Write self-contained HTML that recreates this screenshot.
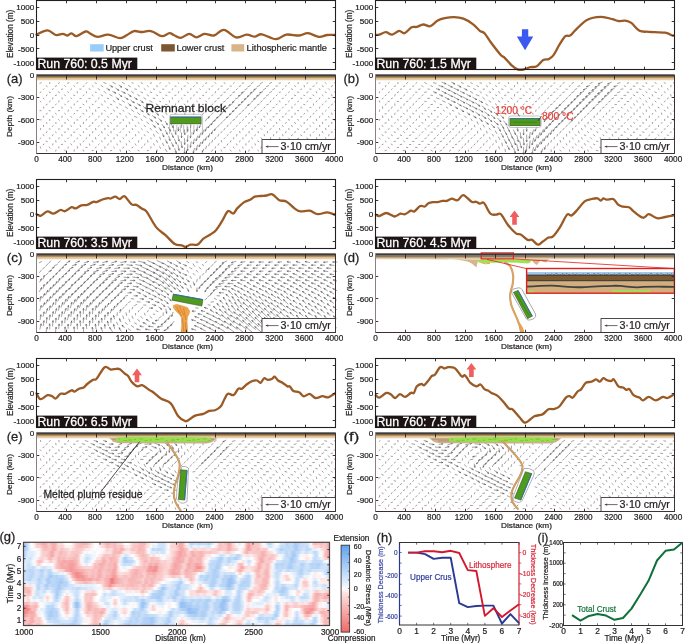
<!DOCTYPE html>
<html><head><meta charset="utf-8"><title>Run 760</title>
<style>html,body{margin:0;padding:0;background:#fff;width:685px;height:643px;overflow:hidden}svg{display:block}text{font-family:'Liberation Sans', Arial, Helvetica, sans-serif}</style>
</head><body><div style="position:relative;width:685px;height:643px">
<div style="position:absolute;left:23.5px;top:542.3px;width:306.0px;height:83.2px;overflow:hidden"><div style="position:absolute;left:-2px;top:-2px;width:310.0px;height:87.2px;filter:blur(0.7px)"><div style="position:absolute;left:2px;top:2px;width:306.0px;height:83.2px"><div style="position:absolute;left:0;top:0.00px;width:306.0px;height:3.57px;background:linear-gradient(90deg,#abcdf5 0.3%,#c1daf8 1.0%,#d8e8fa 1.6%,#ffffff 2.3%,#fef6f6 2.9%,#fce4e4 3.6%,#f9c3c3 4.2%,#f9c2c2 4.9%,#f7b6b6 5.6%,#f6abab 6.2%,#f6abab 6.9%,#f8b8b8 7.5%,#facccc 8.2%,#f8b8b8 8.8%,#f6acac 9.5%,#f7afaf 10.1%,#f9c8c8 10.8%,#fce1e1 11.4%,#fbd6d6 12.1%,#fce4e4 12.7%,#fefafa 13.4%,#fcfdff 14.1%,#ffffff 14.7%,#fffefe 15.4%,#fce5e5 16.0%,#fbd5d5 16.7%,#f9c3c3 17.3%,#f8bebe 18.0%,#f8b8b8 18.6%,#f7b4b4 19.3%,#f7b4b4 19.9%,#f8b8b8 20.6%,#f9c7c7 21.2%,#fbd7d7 21.9%,#fdeded 22.5%,#fefafa 23.2%,#fbfdff 23.9%,#fef2f2 24.5%,#fbd7d7 25.2%,#fad1d1 25.8%,#f9c2c2 26.5%,#f7b2b2 27.1%,#f7b2b2 27.8%,#f9c3c3 28.4%,#f9c3c3 29.1%,#f8b8b8 29.7%,#facfcf 30.4%,#fbd5d5 31.0%,#fad2d2 31.7%,#fde7e7 32.4%,#fffefe 33.0%,#ffffff 33.7%,#fef4f4 34.3%,#fce5e5 35.0%,#facccc 35.6%,#facbcb 36.3%,#facccc 36.9%,#f8bebe 37.6%,#f8bbbb 38.2%,#f7b5b5 38.9%,#f8b9b9 39.5%,#fbdbdb 40.2%,#fce2e2 40.8%,#fef4f4 41.5%,#edf5fd 42.2%,#f4f8fe 42.8%,#ecf4fd 43.5%,#cde1f9 44.1%,#d2e4fa 44.8%,#cce1f9 45.4%,#d5e6fa 46.1%,#eef5fd 46.7%,#fef7f7 47.4%,#fce0e0 48.0%,#fbd6d6 48.7%,#fbd5d5 49.3%,#facdcd 50.0%,#f7b4b4 50.7%,#f6abab 51.3%,#f7b4b4 52.0%,#fcdede 52.6%,#fef9f9 53.3%,#d6e7fa 53.9%,#b8d5f7 54.6%,#bed8f7 55.2%,#d3e5fa 55.9%,#c6ddf8 56.5%,#bcd7f7 57.2%,#c4dcf8 57.8%,#c7def8 58.5%,#c7def8 59.2%,#c2dbf8 59.8%,#b3d2f6 60.5%,#cce1f9 61.1%,#e3eefc 61.8%,#f1f7fd 62.4%,#fdf0f0 63.1%,#f9c7c7 63.7%,#f9c5c5 64.4%,#facdcd 65.0%,#f9c4c4 65.7%,#f8b7b7 66.3%,#f5a3a3 67.0%,#f7b6b6 67.6%,#fbdbdb 68.3%,#fce6e6 69.0%,#fefeff 69.6%,#d9e8fa 70.3%,#eef5fd 70.9%,#fffdfd 71.6%,#fcdede 72.2%,#f7b3b3 72.9%,#f59f9f 73.5%,#f8bdbd 74.2%,#f9c4c4 74.8%,#f9c8c8 75.5%,#f9c5c5 76.1%,#f9c4c4 76.8%,#fce7e7 77.5%,#fef8f8 78.1%,#f6fafe 78.8%,#d3e5fa 79.4%,#b2d1f6 80.1%,#c4dcf8 80.7%,#dfecfb 81.4%,#f9fbfe 82.0%,#fcfdff 82.7%,#f3f8fe 83.3%,#d0e3f9 84.0%,#d2e4fa 84.6%,#cce1f9 85.3%,#b5d3f6 85.9%,#c0daf8 86.6%,#cae0f9 87.3%,#bdd8f7 87.9%,#a9ccf5 88.6%,#b0d0f6 89.2%,#b8d5f7 89.9%,#c5dcf8 90.5%,#c7def8 91.2%,#cbe0f9 91.8%,#cbe0f9 92.5%,#ddebfb 93.1%,#fffefe 93.8%,#facaca 94.4%,#f8b7b7 95.1%,#f9c3c3 95.8%,#f9c4c4 96.4%,#f8bfbf 97.1%,#f9c1c1 97.7%,#facfcf 98.4%,#f8b7b7 99.0%,#f7aeae 99.7%)"></div><div style="position:absolute;left:0;top:2.97px;width:306.0px;height:3.57px;background:linear-gradient(90deg,#abcdf5 0.3%,#bbd7f7 1.0%,#dbeafb 1.6%,#fcfdff 2.3%,#fdfeff 2.9%,#fdeaea 3.6%,#facfcf 4.2%,#fad2d2 4.9%,#facbcb 5.6%,#f8b9b9 6.2%,#f7b5b5 6.9%,#f7b5b5 7.5%,#f9c7c7 8.2%,#f9c2c2 8.8%,#f7afaf 9.5%,#f7b0b0 10.1%,#f9c6c6 10.8%,#fbd7d7 11.4%,#fad3d3 12.1%,#fad2d2 12.7%,#fdefef 13.4%,#fef4f4 14.1%,#fef3f3 14.7%,#fef1f1 15.4%,#fce6e6 16.0%,#fad0d0 16.7%,#f9c2c2 17.3%,#f8bfbf 18.0%,#f8bbbb 18.6%,#f9c1c1 19.3%,#f9c8c8 19.9%,#f9c9c9 20.6%,#fbd7d7 21.2%,#fce3e3 21.9%,#fef4f4 22.5%,#fefeff 23.2%,#f9fcfe 23.9%,#fef5f5 24.5%,#fce3e3 25.2%,#fbdada 25.8%,#facfcf 26.5%,#f8baba 27.1%,#f9c0c0 27.8%,#f9c8c8 28.4%,#f9c4c4 29.1%,#f7b6b6 29.7%,#f9c9c9 30.4%,#facbcb 31.0%,#f9c2c2 31.7%,#facccc 32.4%,#fdf0f0 33.0%,#fde7e7 33.7%,#fdf0f0 34.3%,#fbdbdb 35.0%,#facbcb 35.6%,#f9c3c3 36.3%,#f9c3c3 36.9%,#f8bcbc 37.6%,#f8b8b8 38.2%,#f8b9b9 38.9%,#f9c6c6 39.5%,#fcdfdf 40.2%,#fce3e3 40.8%,#fdfeff 41.5%,#e0ecfb 42.2%,#e9f2fc 42.8%,#e4effc 43.5%,#cfe3f9 44.1%,#cfe3f9 44.8%,#cde1f9 45.4%,#d6e7fa 46.1%,#eef5fd 46.7%,#fffbfb 47.4%,#fbd7d7 48.0%,#fad0d0 48.7%,#fbd6d6 49.3%,#f9c5c5 50.0%,#f7b1b1 50.7%,#f6a8a8 51.3%,#f8b7b7 52.0%,#fbd5d5 52.6%,#fce5e5 53.3%,#ecf4fd 53.9%,#cde1f9 54.6%,#e4effc 55.2%,#ecf4fd 55.9%,#e5f0fc 56.5%,#dbeafb 57.2%,#edf4fd 57.8%,#e6f0fc 58.5%,#e1edfb 59.2%,#ddebfb 59.8%,#d3e5fa 60.5%,#edf4fd 61.1%,#fdfeff 61.8%,#fef4f4 62.4%,#fce2e2 63.1%,#f9c7c7 63.7%,#f9c1c1 64.4%,#facbcb 65.0%,#f9c9c9 65.7%,#f9c2c2 66.3%,#f6a6a6 67.0%,#f8b8b8 67.6%,#fbd6d6 68.3%,#fcdfdf 69.0%,#fdeded 69.6%,#f3f8fe 70.3%,#f7fafe 70.9%,#fef9f9 71.6%,#fbdcdc 72.2%,#f6acac 72.9%,#f49999 73.5%,#f8baba 74.2%,#f9c3c3 74.8%,#f9c3c3 75.5%,#f9caca 76.1%,#f9c9c9 76.8%,#fce1e1 77.5%,#fdeeee 78.1%,#fef3f3 78.8%,#e8f2fc 79.4%,#d3e5fa 80.1%,#d6e6fa 80.7%,#e8f1fc 81.4%,#f3f8fe 82.0%,#f0f6fd 82.7%,#e0ecfb 83.3%,#c8def8 84.0%,#c5ddf8 84.6%,#c8def8 85.3%,#bfd9f7 85.9%,#bbd6f7 86.6%,#c8def8 87.3%,#bad6f7 87.9%,#aacdf5 88.6%,#a8cbf5 89.2%,#c1daf8 89.9%,#c5ddf8 90.5%,#c8def8 91.2%,#cde1f9 91.8%,#bfd9f7 92.5%,#d9e8fa 93.1%,#f4f8fe 93.8%,#fde7e7 94.4%,#fbd7d7 95.1%,#fbd7d7 95.8%,#fbd8d8 96.4%,#f9c2c2 97.1%,#fad1d1 97.7%,#f9c9c9 98.4%,#f8bbbb 99.0%,#f7adad 99.7%)"></div><div style="position:absolute;left:0;top:5.94px;width:306.0px;height:3.57px;background:linear-gradient(90deg,#afd0f6 0.3%,#bcd7f7 1.0%,#d9e8fa 1.6%,#f1f7fd 2.3%,#f5f9fe 2.9%,#f8fbfe 3.6%,#fef5f5 4.2%,#fef3f3 4.9%,#fbdada 5.6%,#f9c6c6 6.2%,#f8bbbb 6.9%,#f8bebe 7.5%,#f9c4c4 8.2%,#f8bfbf 8.8%,#f6aaaa 9.5%,#f7adad 10.1%,#f9c7c7 10.8%,#fbd5d5 11.4%,#f9c4c4 12.1%,#f9c4c4 12.7%,#fbd6d6 13.4%,#fad1d1 14.1%,#fcdede 14.7%,#fde8e8 15.4%,#fbd5d5 16.0%,#fad2d2 16.7%,#f9c4c4 17.3%,#facbcb 18.0%,#facbcb 18.6%,#fad1d1 19.3%,#fce1e1 19.9%,#fdefef 20.6%,#fdeaea 21.2%,#fef4f4 21.9%,#fef6f6 22.5%,#fffefe 23.2%,#f3f8fe 23.9%,#fcfdff 24.5%,#fef6f6 25.2%,#fffcfc 25.8%,#fde8e8 26.5%,#fad2d2 27.1%,#fad3d3 27.8%,#fce0e0 28.4%,#facdcd 29.1%,#f8b7b7 29.7%,#f8c0c0 30.4%,#f9c5c5 31.0%,#f6acac 31.7%,#f7b6b6 32.4%,#fad1d1 33.0%,#fcdfdf 33.7%,#fce2e2 34.3%,#facdcd 35.0%,#f9c2c2 35.6%,#f9c9c9 36.3%,#f9caca 36.9%,#f7b2b2 37.6%,#f8b7b7 38.2%,#f8bbbb 38.9%,#f9c5c5 39.5%,#fdebeb 40.2%,#fffefe 40.8%,#ddebfb 41.5%,#bad6f7 42.2%,#cae0f9 42.8%,#c5dcf8 43.5%,#bdd8f7 44.1%,#c6ddf8 44.8%,#c7def8 45.4%,#d9e9fb 46.1%,#eef5fd 46.7%,#fef3f3 47.4%,#fbdbdb 48.0%,#fcdddd 48.7%,#fbd7d7 49.3%,#facece 50.0%,#f8b8b8 50.7%,#f6a6a6 51.3%,#f6aaaa 52.0%,#f8bcbc 52.6%,#f9c3c3 53.3%,#fce4e4 53.9%,#fdefef 54.6%,#fbd9d9 55.2%,#facfcf 55.9%,#fbd9d9 56.5%,#fce0e0 57.2%,#fbdada 57.8%,#fbd7d7 58.5%,#fbd6d6 59.2%,#fce0e0 59.8%,#fce5e5 60.5%,#fbdbdb 61.1%,#fad2d2 61.8%,#fad2d2 62.4%,#facbcb 63.1%,#f8c0c0 63.7%,#f9c7c7 64.4%,#facbcb 65.0%,#facece 65.7%,#f8bcbc 66.3%,#f6a9a9 67.0%,#f8b9b9 67.6%,#f9c8c8 68.3%,#facece 69.0%,#fbd4d4 69.6%,#fef3f3 70.3%,#fef4f4 70.9%,#fce1e1 71.6%,#fad2d2 72.2%,#f6a5a5 72.9%,#f5a1a1 73.5%,#f7b6b6 74.2%,#facbcb 74.8%,#facaca 75.5%,#f9c1c1 76.1%,#f8bcbc 76.8%,#fbd4d4 77.5%,#f9c7c7 78.1%,#f9c6c6 78.8%,#fad1d1 79.4%,#fef7f7 80.1%,#f7fafe 80.7%,#f4f8fe 81.4%,#edf4fd 82.0%,#d2e4fa 82.7%,#c9dff9 83.3%,#afcff5 84.0%,#b9d6f7 84.6%,#c2dbf8 85.3%,#c0daf8 85.9%,#c0daf8 86.6%,#c3dbf8 87.3%,#c2dbf8 87.9%,#aaccf5 88.6%,#accef5 89.2%,#c0d9f7 89.9%,#c4dcf8 90.5%,#d1e4fa 91.2%,#d0e3f9 91.8%,#bad6f7 92.5%,#c1daf8 93.1%,#d0e3f9 93.8%,#e6f0fc 94.4%,#e4effc 95.1%,#e7f1fc 95.8%,#fefafa 96.4%,#fce5e5 97.1%,#fbdbdb 97.7%,#facece 98.4%,#f8b9b9 99.0%,#f6acac 99.7%)"></div><div style="position:absolute;left:0;top:8.91px;width:306.0px;height:3.57px;background:linear-gradient(90deg,#b9d5f7 0.3%,#d6e7fa 1.0%,#e0ecfb 1.6%,#deecfb 2.3%,#deebfb 2.9%,#edf5fd 3.6%,#eff6fd 4.2%,#fffbfb 4.9%,#fce0e0 5.6%,#facbcb 6.2%,#facdcd 6.9%,#facdcd 7.5%,#f8c0c0 8.2%,#f6a9a9 8.8%,#f6acac 9.5%,#facaca 10.1%,#facccc 10.8%,#f9c7c7 11.4%,#f7b3b3 12.1%,#f9c4c4 12.7%,#f9c3c3 13.4%,#fad0d0 14.1%,#fbd9d9 14.7%,#facece 15.4%,#f9c7c7 16.0%,#f9c6c6 16.7%,#f9c5c5 17.3%,#facaca 18.0%,#fad3d3 18.6%,#fdeaea 19.3%,#ffffff 19.9%,#ecf3fd 20.6%,#fbfdff 21.2%,#f9fcfe 21.9%,#f5f9fe 22.5%,#f1f6fd 23.2%,#fdfeff 23.9%,#fffafa 24.5%,#fef6f6 25.2%,#fdefef 25.8%,#fce3e3 26.5%,#fbd8d8 27.1%,#fce1e1 27.8%,#fcdede 28.4%,#f9c1c1 29.1%,#f8b7b7 29.7%,#f8bbbb 30.4%,#f7b4b4 31.0%,#f8b8b8 31.7%,#fbdbdb 32.4%,#fdeaea 33.0%,#fdeaea 33.7%,#fdeaea 34.3%,#fbdbdb 35.0%,#fbd9d9 35.6%,#fbd8d8 36.3%,#f9c2c2 36.9%,#f8bcbc 37.6%,#f8c0c0 38.2%,#f8b9b9 38.9%,#facbcb 39.5%,#fce2e2 40.2%,#fcfdff 40.8%,#deebfb 41.5%,#deebfb 42.2%,#e2eefc 42.8%,#d0e3f9 43.5%,#e1edfb 44.1%,#d6e6fa 44.8%,#cde1f9 45.4%,#dae9fb 46.1%,#f9fbfe 46.7%,#fef7f7 47.4%,#fcdede 48.0%,#fad3d3 48.7%,#f9c8c8 49.3%,#f7b6b6 50.0%,#f6a5a5 50.7%,#f5a0a0 51.3%,#f7b4b4 52.0%,#f7b3b3 52.6%,#facccc 53.3%,#fbd6d6 53.9%,#f7b6b6 54.6%,#f7adad 55.2%,#f9c2c2 55.9%,#f8bcbc 56.5%,#f8b9b9 57.2%,#f7b2b2 57.8%,#f8bfbf 58.5%,#f9c7c7 59.2%,#facccc 59.8%,#f9c6c6 60.5%,#f9c6c6 61.1%,#fad2d2 61.8%,#fad0d0 62.4%,#fad3d3 63.1%,#fce1e1 63.7%,#fdf0f0 64.4%,#fde9e9 65.0%,#fbdbdb 65.7%,#facece 66.3%,#facdcd 67.0%,#fce0e0 67.6%,#fce7e7 68.3%,#fef1f1 69.0%,#fffdfd 69.6%,#fffdfd 70.3%,#fef2f2 70.9%,#fce1e1 71.6%,#f8bebe 72.2%,#f7aeae 72.9%,#f9c9c9 73.5%,#facece 74.2%,#f9c9c9 74.8%,#f9c6c6 75.5%,#f9c7c7 76.1%,#f9c8c8 76.8%,#f8b7b7 77.5%,#f7b3b3 78.1%,#f8bbbb 78.8%,#facdcd 79.4%,#fbdcdc 80.1%,#fbdddd 80.7%,#fdecec 81.4%,#fafcfe 82.0%,#ddebfb 82.7%,#cce1f9 83.3%,#c8def8 84.0%,#d1e4fa 84.6%,#c6ddf8 85.3%,#b8d5f7 85.9%,#cde2f9 86.6%,#bbd7f7 87.3%,#abcdf5 87.9%,#b0d0f6 88.6%,#c1daf8 89.2%,#c5dcf8 89.9%,#d6e6fa 90.5%,#e3eefc 91.2%,#d3e5fa 91.8%,#cbe0f9 92.5%,#dceafb 93.1%,#e2eefc 93.8%,#d1e4fa 94.4%,#bcd7f7 95.1%,#cfe2f9 95.8%,#e7f1fc 96.4%,#fcfdff 97.1%,#fde9e9 97.7%,#f9c4c4 98.4%,#f7b0b0 99.0%,#f7b3b3 99.7%)"></div><div style="position:absolute;left:0;top:11.89px;width:306.0px;height:3.57px;background:linear-gradient(90deg,#b9d5f7 0.3%,#d6e6fa 1.0%,#e1edfb 1.6%,#dceafb 2.3%,#dfecfb 2.9%,#edf4fd 3.6%,#f8fbfe 4.2%,#fef7f7 4.9%,#fbdcdc 5.6%,#facece 6.2%,#fad0d0 6.9%,#f9c3c3 7.5%,#f8c0c0 8.2%,#f6a9a9 8.8%,#f6acac 9.5%,#f9c9c9 10.1%,#fad1d1 10.8%,#f8bdbd 11.4%,#f8bfbf 12.1%,#f9c7c7 12.7%,#f9c3c3 13.4%,#facdcd 14.1%,#fbd5d5 14.7%,#f9c9c9 15.4%,#f9c9c9 16.0%,#f8c0c0 16.7%,#f8baba 17.3%,#facfcf 18.0%,#fdefef 18.6%,#fbfdff 19.3%,#e3effc 19.9%,#dae9fb 20.6%,#dfecfb 21.2%,#e5f0fc 21.9%,#f3f8fe 22.5%,#f0f6fd 23.2%,#ffffff 23.9%,#fdecec 24.5%,#fde8e8 25.2%,#fad0d0 25.8%,#f9c2c2 26.5%,#f9c3c3 27.1%,#f9c7c7 27.8%,#facfcf 28.4%,#f8bcbc 29.1%,#f8bebe 29.7%,#facccc 30.4%,#facece 31.0%,#fce6e6 31.7%,#eff5fd 32.4%,#d2e4fa 33.0%,#d7e7fa 33.7%,#e7f1fc 34.3%,#f5f9fe 35.0%,#fffefe 35.6%,#fdebeb 36.3%,#fcdede 36.9%,#facdcd 37.6%,#f8c0c0 38.2%,#f7b6b6 38.9%,#f8bfbf 39.5%,#f9c8c8 40.2%,#fbd4d4 40.8%,#fef2f2 41.5%,#fbdcdc 42.2%,#fce4e4 42.8%,#fef9f9 43.5%,#fdeeee 44.1%,#fffbfb 44.8%,#eff5fd 45.4%,#f8fbfe 46.1%,#fdeeee 46.7%,#fde9e9 47.4%,#fce4e4 48.0%,#fad3d3 48.7%,#f9c6c6 49.3%,#f7b6b6 50.0%,#f5a2a2 50.7%,#f6a5a5 51.3%,#f7b3b3 52.0%,#f7b1b1 52.6%,#f9c3c3 53.3%,#facbcb 53.9%,#f8c0c0 54.6%,#f7adad 55.2%,#f7b2b2 55.9%,#f8c0c0 56.5%,#f8baba 57.2%,#f7b4b4 57.8%,#f8b9b9 58.5%,#fbdbdb 59.2%,#fde7e7 59.8%,#fce3e3 60.5%,#fdf0f0 61.1%,#fbfcfe 61.8%,#f5f9fe 62.4%,#eef5fd 63.1%,#e3eefc 63.7%,#cae0f9 64.4%,#d0e3f9 65.0%,#e0ecfb 65.7%,#f2f7fd 66.3%,#e5f0fc 67.0%,#d3e5fa 67.6%,#d6e7fa 68.3%,#d6e7fa 69.0%,#bad6f7 69.6%,#bcd7f7 70.3%,#d4e5fa 70.9%,#e6f0fc 71.6%,#fdebeb 72.2%,#fbdddd 72.9%,#fce2e2 73.5%,#fdebeb 74.2%,#fce3e3 74.8%,#fbd8d8 75.5%,#fad0d0 76.1%,#f9c3c3 76.8%,#f8bbbb 77.5%,#f6acac 78.1%,#f8b8b8 78.8%,#f9c8c8 79.4%,#fad1d1 80.1%,#f9c8c8 80.7%,#f9c7c7 81.4%,#fad2d2 82.0%,#fce0e0 82.7%,#f4f9fe 83.3%,#f2f7fd 84.0%,#e9f2fc 84.6%,#cce1f9 85.3%,#bbd6f7 85.9%,#c4dcf8 86.6%,#bdd8f7 87.3%,#a2c8f4 87.9%,#a9ccf5 88.6%,#c0d9f7 89.2%,#e1edfb 89.9%,#f7fbfe 90.5%,#fef4f4 91.2%,#fdefef 91.8%,#fdefef 92.5%,#fef6f6 93.1%,#fffdfd 93.8%,#e6f0fc 94.4%,#c6ddf8 95.1%,#c6ddf8 95.8%,#edf4fd 96.4%,#fefeff 97.1%,#fce4e4 97.7%,#f8bbbb 98.4%,#f7b5b5 99.0%,#f6a6a6 99.7%)"></div><div style="position:absolute;left:0;top:14.86px;width:306.0px;height:3.57px;background:linear-gradient(90deg,#d7e7fa 0.3%,#e4effc 1.0%,#d3e5fa 1.6%,#d2e4fa 2.3%,#eaf3fd 2.9%,#f1f7fd 3.6%,#fef4f4 4.2%,#fbdcdc 4.9%,#fad3d3 5.6%,#fbd6d6 6.2%,#fcdfdf 6.9%,#fbd7d7 7.5%,#f8bbbb 8.2%,#f8b7b7 8.8%,#facece 9.5%,#fad3d3 10.1%,#f9c9c9 10.8%,#f7b3b3 11.4%,#f9c1c1 12.1%,#f8baba 12.7%,#f8bebe 13.4%,#facbcb 14.1%,#f8bfbf 14.7%,#f9c1c1 15.4%,#f8b9b9 16.0%,#f8b8b8 16.7%,#f8bebe 17.3%,#fad2d2 18.0%,#fef9f9 18.6%,#eef5fd 19.3%,#ddebfb 19.9%,#c5ddf8 20.6%,#d0e3f9 21.2%,#e5f0fc 21.9%,#edf4fd 22.5%,#ffffff 23.2%,#fcdfdf 23.9%,#fce3e3 24.5%,#fbd4d4 25.2%,#f7b6b6 25.8%,#f8baba 26.5%,#facccc 27.1%,#f8bdbd 27.8%,#f7b2b2 28.4%,#f8b8b8 29.1%,#f8bbbb 29.7%,#f9c2c2 30.4%,#fcdfdf 31.0%,#ecf4fd 31.7%,#c2dbf8 32.4%,#a7cbf5 33.0%,#c0d9f7 33.7%,#cfe3f9 34.3%,#d1e4fa 35.0%,#e1edfb 35.6%,#ffffff 36.3%,#fef6f6 36.9%,#fce0e0 37.6%,#f9c8c8 38.2%,#f9c2c2 38.9%,#f8bfbf 39.5%,#f9c3c3 40.2%,#fad3d3 40.8%,#f9c0c0 41.5%,#f8bfbf 42.2%,#f9caca 42.8%,#f9caca 43.5%,#fad2d2 44.1%,#fdeded 44.8%,#fffcfc 45.4%,#fef3f3 46.1%,#fce7e7 46.7%,#fce2e2 47.4%,#fbdcdc 48.0%,#f9c4c4 48.7%,#f8bbbb 49.3%,#f6a7a7 50.0%,#f6a7a7 50.7%,#f7b3b3 51.3%,#f7afaf 52.0%,#f9c7c7 52.6%,#fad2d2 53.3%,#f8baba 53.9%,#f7b1b1 54.6%,#f8bcbc 55.2%,#f9c2c2 55.9%,#f8b7b7 56.5%,#f7b5b5 57.2%,#f7b5b5 57.8%,#fbd5d5 58.5%,#fce7e7 59.2%,#fdeeee 59.8%,#fdfeff 60.5%,#e0edfb 61.1%,#e0edfb 61.8%,#dceafb 62.4%,#c8def8 63.1%,#b7d4f6 63.7%,#adcef5 64.4%,#c0daf8 65.0%,#dae9fb 65.7%,#cee2f9 66.3%,#b6d4f6 67.0%,#c0daf8 67.6%,#c3dbf8 68.3%,#aacdf5 69.0%,#b5d3f6 69.6%,#c7def8 70.3%,#d5e6fa 70.9%,#fffefe 71.6%,#fef7f7 72.2%,#eff5fd 72.9%,#e9f2fc 73.5%,#fcfdff 74.2%,#fef8f8 74.8%,#fce1e1 75.5%,#fbd7d7 76.1%,#f8bbbb 76.8%,#f6abab 77.5%,#f7b6b6 78.1%,#f9c8c8 78.8%,#facece 79.4%,#f8bfbf 80.1%,#f9c2c2 80.7%,#f9caca 81.4%,#fbd9d9 82.0%,#fef6f6 82.7%,#fef9f9 83.3%,#fcfdff 84.0%,#deebfb 84.6%,#cadff9 85.3%,#c9dff9 85.9%,#bed9f7 86.6%,#a4c9f4 87.3%,#a8cbf5 87.9%,#bad6f7 88.6%,#c6ddf8 89.2%,#edf4fd 89.9%,#fafcfe 90.5%,#fffdfd 91.2%,#fef2f2 91.8%,#fce2e2 92.5%,#fdebeb 93.1%,#f6fafe 93.8%,#d3e5fa 94.4%,#c1daf8 95.1%,#cfe2f9 95.8%,#d3e5fa 96.4%,#eaf2fc 97.1%,#fde9e9 97.7%,#fad1d1 98.4%,#facbcb 99.0%,#facccc 99.7%)"></div><div style="position:absolute;left:0;top:17.83px;width:306.0px;height:3.57px;background:linear-gradient(90deg,#d4e6fa 0.3%,#dbeafb 1.0%,#d3e5fa 1.6%,#e0ecfb 2.3%,#f7fafe 2.9%,#fef5f5 3.6%,#fbdcdc 4.2%,#f8bdbd 4.9%,#f9c2c2 5.6%,#fbd4d4 6.2%,#fef1f1 6.9%,#fdeeee 7.5%,#fbd9d9 8.2%,#f9c9c9 8.8%,#fcdfdf 9.5%,#fce3e3 10.1%,#f9c7c7 10.8%,#f7b1b1 11.4%,#f7b2b2 12.1%,#f6a8a8 12.7%,#f6a5a5 13.4%,#f7afaf 14.1%,#f6aaaa 14.7%,#f6a5a5 15.4%,#f6a9a9 16.0%,#f7afaf 16.7%,#f8baba 17.3%,#facdcd 18.0%,#fef6f6 18.6%,#f1f7fd 19.3%,#d3e5fa 19.9%,#d1e3f9 20.6%,#e1edfb 21.2%,#eef5fd 21.9%,#fdfeff 22.5%,#fce2e2 23.2%,#f9c8c8 23.9%,#facccc 24.5%,#f9c7c7 25.2%,#f7adad 25.8%,#f7b1b1 26.5%,#f9c3c3 27.1%,#f9c7c7 27.8%,#f7b4b4 28.4%,#f8bbbb 29.1%,#f8b9b9 29.7%,#f9c1c1 30.4%,#fce1e1 31.0%,#e5f0fc 31.7%,#bdd8f7 32.4%,#b1d1f6 33.0%,#aecff5 33.7%,#bcd7f7 34.3%,#bed8f7 35.0%,#c4dcf8 35.6%,#e0ecfb 36.3%,#fffefe 36.9%,#fdeded 37.6%,#fbd5d5 38.2%,#f9c7c7 38.9%,#f8b8b8 39.5%,#f8bbbb 40.2%,#facdcd 40.8%,#f8bcbc 41.5%,#f8c0c0 42.2%,#f9c3c3 42.8%,#f8bebe 43.5%,#f9c1c1 44.1%,#fad3d3 44.8%,#fbd8d8 45.4%,#facbcb 46.1%,#fbd8d8 46.7%,#fbdbdb 47.4%,#fbd9d9 48.0%,#f9c2c2 48.7%,#f7b2b2 49.3%,#f6abab 50.0%,#f6a6a6 50.7%,#f7afaf 51.3%,#f7aeae 52.0%,#facccc 52.6%,#facccc 53.3%,#f7b5b5 53.9%,#f7adad 54.6%,#f8b8b8 55.2%,#f9c2c2 55.9%,#f8b8b8 56.5%,#f8b9b9 57.2%,#f7b5b5 57.8%,#fbd7d7 58.5%,#fef7f7 59.2%,#fffcfc 59.8%,#deebfb 60.5%,#c8dff9 61.1%,#c2dbf8 61.8%,#c5dcf8 62.4%,#b8d5f7 63.1%,#afcff5 63.7%,#b3d2f6 64.4%,#cadff9 65.0%,#d3e5fa 65.7%,#cce0f9 66.3%,#b2d1f6 67.0%,#c9dff9 67.6%,#d5e6fa 68.3%,#d5e6fa 69.0%,#e4effc 69.6%,#fef6f6 70.3%,#fef8f8 70.9%,#fce0e0 71.6%,#fdefef 72.2%,#e1edfb 72.9%,#c8def8 73.5%,#e0edfb 74.2%,#fdfeff 74.8%,#fef1f1 75.5%,#fbd6d6 76.1%,#f8bebe 76.8%,#f6aaaa 77.5%,#f6acac 78.1%,#f9c9c9 78.8%,#f9caca 79.4%,#f9c8c8 80.1%,#facfcf 80.7%,#fde9e9 81.4%,#f6fafe 82.0%,#cde2f9 82.7%,#d1e4fa 83.3%,#d0e3f9 84.0%,#c5ddf8 84.6%,#bed8f7 85.3%,#c8def8 85.9%,#bdd8f7 86.6%,#a6caf4 87.3%,#afcff5 87.9%,#b8d5f7 88.6%,#c7def8 89.2%,#d0e3f9 89.9%,#d3e5fa 90.5%,#cbe0f9 91.2%,#d5e6fa 91.8%,#dbeafb 92.5%,#e9f2fc 93.1%,#ddeafb 93.8%,#c5dcf8 94.4%,#c2dbf8 95.1%,#c3dbf8 95.8%,#c4dcf8 96.4%,#c2dbf8 97.1%,#dbeafb 97.7%,#f7fafe 98.4%,#f6fafe 99.0%,#f0f6fd 99.7%)"></div><div style="position:absolute;left:0;top:20.80px;width:306.0px;height:3.57px;background:linear-gradient(90deg,#e3eefc 0.3%,#d2e4fa 1.0%,#c7def8 1.6%,#dceafb 2.3%,#eaf3fd 2.9%,#fbfdff 3.6%,#fce0e0 4.2%,#facece 4.9%,#fde9e9 5.6%,#fefeff 6.2%,#fdfeff 6.9%,#fef6f6 7.5%,#fef5f5 8.2%,#fcfdff 8.8%,#fffbfb 9.5%,#fbdbdb 10.1%,#f9c4c4 10.8%,#f7b6b6 11.4%,#f6a8a8 12.1%,#f6a7a7 12.7%,#f7b3b3 13.4%,#f6abab 14.1%,#f5a2a2 14.7%,#f59e9e 15.4%,#f59d9d 16.0%,#f6aaaa 16.7%,#f7b6b6 17.3%,#facfcf 18.0%,#fce6e6 18.6%,#fef5f5 19.3%,#f0f6fd 19.9%,#dfecfb 20.6%,#fbfdff 21.2%,#fef8f8 21.9%,#fcdfdf 22.5%,#f8bdbd 23.2%,#f9c6c6 23.9%,#f8b8b8 24.5%,#f6aaaa 25.2%,#f7b2b2 25.8%,#f8b9b9 26.5%,#f9c7c7 27.1%,#f7b6b6 27.8%,#f8baba 28.4%,#f8bbbb 29.1%,#f6a4a4 29.7%,#f9c3c3 30.4%,#fef4f4 31.0%,#e0edfb 31.7%,#d0e3f9 32.4%,#c3dbf8 33.0%,#d2e4fa 33.7%,#cbe0f9 34.3%,#cde1f9 35.0%,#e2eefc 35.6%,#e6f0fc 36.3%,#ffffff 36.9%,#fdebeb 37.6%,#fbdada 38.2%,#f9c7c7 38.9%,#f9c0c0 39.5%,#facdcd 40.2%,#f7b4b4 40.8%,#f7adad 41.5%,#f8bcbc 42.2%,#f7afaf 42.8%,#f6a9a9 43.5%,#f8c0c0 44.1%,#f9c7c7 44.8%,#facaca 45.4%,#fad0d0 46.1%,#fbd4d4 46.7%,#fbd6d6 47.4%,#f9c8c8 48.0%,#f7b3b3 48.7%,#f6a4a4 49.3%,#f6aaaa 50.0%,#f7b0b0 50.7%,#f8baba 51.3%,#fad0d0 52.0%,#fad0d0 52.6%,#f8b9b9 53.3%,#f6a5a5 53.9%,#f7b6b6 54.6%,#f8b9b9 55.2%,#f7aeae 55.9%,#f5a2a2 56.5%,#f6a9a9 57.2%,#f7b0b0 57.8%,#fad2d2 58.5%,#fde9e9 59.2%,#f3f8fe 59.8%,#c6ddf8 60.5%,#bfd9f7 61.1%,#bcd7f7 61.8%,#bcd7f7 62.4%,#b0d0f6 63.1%,#b2d1f6 63.7%,#c0d9f7 64.4%,#ddebfb 65.0%,#d9e9fb 65.7%,#cae0f9 66.3%,#d7e7fa 67.0%,#e4effc 67.6%,#dae9fb 68.3%,#f2f7fd 69.0%,#fde7e7 69.6%,#f9c3c3 70.3%,#f8b8b8 70.9%,#facdcd 71.6%,#fef9f9 72.2%,#ebf3fd 72.9%,#d5e6fa 73.5%,#f2f7fd 74.2%,#fffbfb 74.8%,#fce6e6 75.5%,#facccc 76.1%,#f6aaaa 76.8%,#f8bbbb 77.5%,#facccc 78.1%,#facece 78.8%,#f8bdbd 79.4%,#f9c4c4 80.1%,#fde8e8 80.7%,#f5f9fe 81.4%,#d2e4fa 82.0%,#b3d2f6 82.7%,#bcd7f7 83.3%,#b9d5f7 84.0%,#b5d3f6 84.6%,#c4dcf8 85.3%,#c1daf8 85.9%,#b0d0f6 86.6%,#afd0f6 87.3%,#bed8f7 87.9%,#c3dbf8 88.6%,#d1e4fa 89.2%,#cfe2f9 89.9%,#b5d3f6 90.5%,#b6d4f6 91.2%,#c5dcf8 91.8%,#d4e6fa 92.5%,#c5ddf8 93.1%,#b8d5f7 93.8%,#b8d5f7 94.4%,#bad6f7 95.1%,#b2d1f6 95.8%,#afd0f6 96.4%,#c2dbf8 97.1%,#cae0f9 97.7%,#d0e3f9 98.4%,#cadff9 99.0%,#bdd8f7 99.7%)"></div><div style="position:absolute;left:0;top:23.77px;width:306.0px;height:3.57px;background:linear-gradient(90deg,#e1edfb 0.3%,#d1e4fa 1.0%,#c8def8 1.6%,#cce1f9 2.3%,#c3dbf8 2.9%,#cfe3f9 3.6%,#e9f2fc 4.2%,#f0f6fd 4.9%,#dceafb 5.6%,#d3e5fa 6.2%,#cfe2f9 6.9%,#ddebfb 7.5%,#e5f0fc 8.2%,#e5effc 8.8%,#f2f7fd 9.5%,#fbd9d9 10.1%,#f8bebe 10.8%,#f8baba 11.4%,#f7adad 12.1%,#f6a9a9 12.7%,#f6a9a9 13.4%,#f6a6a6 14.1%,#f5a1a1 14.7%,#f49999 15.4%,#f59f9f 16.0%,#f6abab 16.7%,#f8b7b7 17.3%,#f8bdbd 18.0%,#f9c7c7 18.6%,#fad0d0 19.3%,#fbd4d4 19.9%,#fbd6d6 20.6%,#fbd5d5 21.2%,#fbd8d8 21.9%,#fad0d0 22.5%,#f8b8b8 23.2%,#f8bfbf 23.9%,#f8baba 24.5%,#f7b1b1 25.2%,#f7b6b6 25.8%,#f9c3c3 26.5%,#f9c7c7 27.1%,#f8b9b9 27.8%,#f8bbbb 28.4%,#f8baba 29.1%,#f6a5a5 29.7%,#f8bcbc 30.4%,#fde8e8 31.0%,#fcfdff 31.7%,#e7f1fc 32.4%,#eaf3fd 33.0%,#f5f9fe 33.7%,#f6fafe 34.3%,#fef6f6 35.0%,#fcdfdf 35.6%,#fbd5d5 36.3%,#facaca 36.9%,#f9c6c6 37.6%,#f9c7c7 38.2%,#f9c1c1 38.9%,#f8baba 39.5%,#f8c0c0 40.2%,#f5a0a0 40.8%,#f49393 41.5%,#f6a4a4 42.2%,#f38e8e 42.8%,#f49595 43.5%,#f8baba 44.1%,#f9c1c1 44.8%,#f9c9c9 45.4%,#facfcf 46.1%,#fad2d2 46.7%,#fbd6d6 47.4%,#f9c2c2 48.0%,#f7b3b3 48.7%,#f6a3a3 49.3%,#f6abab 50.0%,#f7b2b2 50.7%,#f8b8b8 51.3%,#facece 52.0%,#fad0d0 52.6%,#f8baba 53.3%,#f6aaaa 53.9%,#f7b6b6 54.6%,#f8bbbb 55.2%,#f6aaaa 55.9%,#f49797 56.5%,#f39090 57.2%,#f49999 57.8%,#f8bdbd 58.5%,#fbd7d7 59.2%,#fef8f8 59.8%,#cfe2f9 60.5%,#bcd7f7 61.1%,#c6ddf8 61.8%,#b6d4f6 62.4%,#accef5 63.1%,#aecff5 63.7%,#cae0f9 64.4%,#f2f7fd 65.0%,#ffffff 65.7%,#fefeff 66.3%,#fdeaea 67.0%,#fce5e5 67.6%,#fef2f2 68.3%,#fef6f6 69.0%,#fce0e0 69.6%,#facbcb 70.3%,#f6acac 70.9%,#f6aaaa 71.6%,#fad1d1 72.2%,#fbd9d9 72.9%,#fce4e4 73.5%,#fcdede 74.2%,#fbd8d8 74.8%,#fad0d0 75.5%,#f9c4c4 76.1%,#f6a7a7 76.8%,#f8bebe 77.5%,#facdcd 78.1%,#fad1d1 78.8%,#f8b9b9 79.4%,#f9c8c8 80.1%,#fce2e2 80.7%,#f3f8fe 81.4%,#cfe3f9 82.0%,#b6d4f6 82.7%,#c0daf8 83.3%,#c1daf8 84.0%,#bbd6f7 84.6%,#c8def8 85.3%,#bbd7f7 85.9%,#abcdf5 86.6%,#abcdf5 87.3%,#b8d5f7 87.9%,#c8def8 88.6%,#c5ddf8 89.2%,#cbe0f9 89.9%,#bbd7f7 90.5%,#b9d5f7 91.2%,#c9dff9 91.8%,#cde2f9 92.5%,#cde1f9 93.1%,#bdd8f7 93.8%,#b7d4f6 94.4%,#bdd8f7 95.1%,#b5d3f6 95.8%,#bad6f7 96.4%,#cbe0f9 97.1%,#cae0f9 97.7%,#d2e5fa 98.4%,#cde1f9 99.0%,#b2d1f6 99.7%)"></div><div style="position:absolute;left:0;top:26.74px;width:306.0px;height:3.57px;background:linear-gradient(90deg,#d1e4fa 0.3%,#c4dcf8 1.0%,#bdd8f7 1.6%,#b9d5f7 2.3%,#c0d9f7 2.9%,#d0e3f9 3.6%,#cde1f9 4.2%,#c9dff9 4.9%,#b3d2f6 5.6%,#b5d3f6 6.2%,#d1e4fa 6.9%,#cce0f9 7.5%,#bed8f7 8.2%,#c2dbf8 8.8%,#ecf4fd 9.5%,#fef3f3 10.1%,#fdebeb 10.8%,#fbdbdb 11.4%,#fbd4d4 12.1%,#fad2d2 12.7%,#f8b7b7 13.4%,#f5a3a3 14.1%,#f6a8a8 14.7%,#f49898 15.4%,#f59e9e 16.0%,#f5a1a1 16.7%,#f5a3a3 17.3%,#f7aeae 18.0%,#f7b0b0 18.6%,#f7b1b1 19.3%,#f8bbbb 19.9%,#f9c4c4 20.6%,#f9c4c4 21.2%,#f9c7c7 21.9%,#f8baba 22.5%,#f9c4c4 23.2%,#f9c3c3 23.9%,#f6aaaa 24.5%,#f7b3b3 25.2%,#f8bfbf 25.8%,#f9c5c5 26.5%,#f8bbbb 27.1%,#f7b1b1 27.8%,#f8bbbb 28.4%,#f6a9a9 29.1%,#f5a0a0 29.7%,#f9c7c7 30.4%,#fce7e7 31.0%,#fef2f2 31.7%,#fffbfb 32.4%,#fef3f3 33.0%,#fef1f1 33.7%,#fbdcdc 34.3%,#facbcb 35.0%,#f8bcbc 35.6%,#f7b6b6 36.3%,#f7aeae 36.9%,#f8bdbd 37.6%,#f9c0c0 38.2%,#f9c2c2 38.9%,#f9c9c9 39.5%,#f6acac 40.2%,#f59c9c 40.8%,#f5a1a1 41.5%,#f49393 42.2%,#f38e8e 42.8%,#f5a0a0 43.5%,#f8bcbc 44.1%,#f9c1c1 44.8%,#facdcd 45.4%,#fbd5d5 46.1%,#fad3d3 46.7%,#f9c0c0 47.4%,#f7b4b4 48.0%,#f6a6a6 48.7%,#f6aaaa 49.3%,#f7b5b5 50.0%,#f7aeae 50.7%,#facece 51.3%,#fad3d3 52.0%,#f8baba 52.6%,#f6a8a8 53.3%,#f8baba 53.9%,#f8bcbc 54.6%,#f8b7b7 55.2%,#f6a9a9 55.9%,#f6abab 56.5%,#f7b0b0 57.2%,#f8b8b8 57.8%,#facbcb 58.5%,#fdeaea 59.2%,#ecf4fd 59.8%,#cde1f9 60.5%,#bfd9f7 61.1%,#b9d5f7 61.8%,#abcdf5 62.4%,#b3d2f6 63.1%,#c1daf8 63.7%,#dfecfb 64.4%,#e9f2fc 65.0%,#e8f1fc 65.7%,#fef8f8 66.3%,#fef3f3 67.0%,#fef8f8 67.6%,#fcfdff 68.3%,#fdefef 69.0%,#fbd7d7 69.6%,#f8b7b7 70.3%,#f7b1b1 70.9%,#facdcd 71.6%,#fce2e2 72.2%,#fde8e8 72.9%,#fde8e8 73.5%,#fce3e3 74.2%,#fbd9d9 74.8%,#f9c5c5 75.5%,#f8b7b7 76.1%,#f7b6b6 76.8%,#facfcf 77.5%,#fad2d2 78.1%,#f8bcbc 78.8%,#f7b5b5 79.4%,#f9caca 80.1%,#fdf0f0 80.7%,#e7f1fc 81.4%,#e0ecfb 82.0%,#c7def8 82.7%,#c5dcf8 83.3%,#c2dbf8 84.0%,#dbeafb 84.6%,#d6e7fa 85.3%,#c6ddf8 85.9%,#c1daf8 86.6%,#d2e4fa 87.3%,#c9dff9 87.9%,#cde1f9 88.6%,#c9dff9 89.2%,#bdd8f7 89.9%,#accef5 90.5%,#bfd9f7 91.2%,#cce1f9 91.8%,#cfe2f9 92.5%,#bdd8f7 93.1%,#c6ddf8 93.8%,#d7e7fa 94.4%,#cce1f9 95.1%,#d3e5fa 95.8%,#d5e6fa 96.4%,#d9e8fa 97.1%,#d7e7fa 97.7%,#cfe2f9 98.4%,#bad6f7 99.0%,#aecff5 99.7%)"></div><div style="position:absolute;left:0;top:29.71px;width:306.0px;height:3.57px;background:linear-gradient(90deg,#cbe0f9 0.3%,#c5ddf8 1.0%,#c5ddf8 1.6%,#bdd8f7 2.3%,#b9d5f7 2.9%,#cee2f9 3.6%,#d3e5fa 4.2%,#cce0f9 4.9%,#bcd7f7 5.6%,#bfd9f7 6.2%,#d8e8fa 6.9%,#d0e3f9 7.5%,#b8d5f7 8.2%,#b6d3f6 8.8%,#cce1f9 9.5%,#d8e8fa 10.1%,#dceafb 10.8%,#dfecfb 11.4%,#f1f7fd 12.1%,#e3eefc 12.7%,#fef8f8 13.4%,#fde7e7 14.1%,#fad1d1 14.7%,#f8b9b9 15.4%,#f59f9f 16.0%,#f49393 16.7%,#f38888 17.3%,#f49393 18.0%,#f59a9a 18.6%,#f6a9a9 19.3%,#f8baba 19.9%,#f8bcbc 20.6%,#f9c7c7 21.2%,#f9c4c4 21.9%,#f8bbbb 22.5%,#f9c3c3 23.2%,#f8bdbd 23.9%,#f7adad 24.5%,#f7b4b4 25.2%,#f9c6c6 25.8%,#f9c8c8 26.5%,#f8bcbc 27.1%,#f9c2c2 27.8%,#f7b4b4 28.4%,#f6a4a4 29.1%,#f6a4a4 29.7%,#f9c3c3 30.4%,#fbd9d9 31.0%,#fce1e1 31.7%,#fbd9d9 32.4%,#fbd7d7 33.0%,#fbd5d5 33.7%,#fad2d2 34.3%,#f8c0c0 35.0%,#f8b9b9 35.6%,#f7afaf 36.3%,#f7afaf 36.9%,#f9c0c0 37.6%,#f8bbbb 38.2%,#facccc 38.9%,#facfcf 39.5%,#f8bbbb 40.2%,#f7aeae 40.8%,#f7b4b4 41.5%,#f6a8a8 42.2%,#f7aeae 42.8%,#f8bbbb 43.5%,#f9c2c2 44.1%,#f9c8c8 44.8%,#facfcf 45.4%,#fbd7d7 46.1%,#fbd5d5 46.7%,#f9c3c3 47.4%,#f7b0b0 48.0%,#f6a4a4 48.7%,#f6a6a6 49.3%,#f6aaaa 50.0%,#f8b7b7 50.7%,#facaca 51.3%,#fad0d0 52.0%,#f8baba 52.6%,#f7b5b5 53.3%,#f8b9b9 53.9%,#f8c0c0 54.6%,#f9c9c9 55.2%,#facece 55.9%,#fce3e3 56.5%,#fffefe 57.2%,#e4effc 57.8%,#eef5fd 58.5%,#dceafb 59.2%,#c9dff9 59.8%,#c2dbf8 60.5%,#c3dcf8 61.1%,#b1d0f6 61.8%,#b1d0f6 62.4%,#b5d3f6 63.1%,#c1daf8 63.7%,#dae9fb 64.4%,#d3e5fa 65.0%,#c9dff9 65.7%,#d1e3f9 66.3%,#d2e4fa 67.0%,#cae0f9 67.6%,#d3e5fa 68.3%,#dbeafb 69.0%,#fefeff 69.6%,#fbd9d9 70.3%,#fbd5d5 70.9%,#ffffff 71.6%,#edf4fd 72.2%,#dae9fb 72.9%,#d9e9fb 73.5%,#f5f9fe 74.2%,#fef7f7 74.8%,#fbdddd 75.5%,#f8bebe 76.1%,#f8bfbf 76.8%,#fad3d3 77.5%,#f9c8c8 78.1%,#f8baba 78.8%,#f7b0b0 79.4%,#f9c8c8 80.1%,#fef1f1 80.7%,#ecf3fd 81.4%,#d0e3f9 82.0%,#c3dcf8 82.7%,#cce1f9 83.3%,#e1edfb 84.0%,#fafcfe 84.6%,#fef2f2 85.3%,#fdf0f0 85.9%,#f8fbfe 86.6%,#f1f7fd 87.3%,#e6f0fc 87.9%,#e3eefc 88.6%,#d1e3f9 89.2%,#bcd7f7 89.9%,#b3d2f6 90.5%,#c2dbf8 91.2%,#d5e6fa 91.8%,#d1e4fa 92.5%,#d7e7fa 93.1%,#f3f8fe 93.8%,#fef5f5 94.4%,#fdeded 95.1%,#fef1f1 95.8%,#fffbfb 96.4%,#f8fbfe 97.1%,#eaf3fd 97.7%,#cce1f9 98.4%,#b2d1f6 99.0%,#b4d2f6 99.7%)"></div><div style="position:absolute;left:0;top:32.69px;width:306.0px;height:3.57px;background:linear-gradient(90deg,#cee2f9 0.3%,#c7def8 1.0%,#bfd9f7 1.6%,#b7d4f6 2.3%,#bed8f7 2.9%,#d0e3f9 3.6%,#cfe2f9 4.2%,#c5ddf8 4.9%,#bad6f7 5.6%,#bfd9f7 6.2%,#d1e4fa 6.9%,#c7def8 7.5%,#afcff5 8.2%,#a3c8f4 8.8%,#b6d4f6 9.5%,#bbd7f7 10.1%,#b2d1f6 10.8%,#c3dbf8 11.4%,#bed8f7 12.1%,#bed8f7 12.7%,#d2e4fa 13.4%,#e4effc 14.1%,#fef1f1 14.7%,#fbd5d5 15.4%,#f7afaf 16.0%,#f59c9c 16.7%,#f38c8c 17.3%,#f38e8e 18.0%,#f49494 18.6%,#f49595 19.3%,#f6a7a7 19.9%,#f6adad 20.6%,#f9c1c1 21.2%,#f8bcbc 21.9%,#f7b2b2 22.5%,#f9c5c5 23.2%,#f8baba 23.9%,#f6a9a9 24.5%,#f7b4b4 25.2%,#f9c3c3 25.8%,#f9c5c5 26.5%,#f7b2b2 27.1%,#f8b8b8 27.8%,#f7adad 28.4%,#f59c9c 29.1%,#f59b9b 29.7%,#f7b1b1 30.4%,#facaca 31.0%,#facbcb 31.7%,#facaca 32.4%,#f8bdbd 33.0%,#f9c4c4 33.7%,#facccc 34.3%,#f8bebe 35.0%,#f7b3b3 35.6%,#f8b9b9 36.3%,#f7b6b6 36.9%,#f9c3c3 37.6%,#f8b7b7 38.2%,#f8bebe 38.9%,#fad3d3 39.5%,#f8bbbb 40.2%,#f8b9b9 40.8%,#f9c3c3 41.5%,#f8bcbc 42.2%,#f7b2b2 42.8%,#f9c7c7 43.5%,#facccc 44.1%,#f9c7c7 44.8%,#fad2d2 45.4%,#fce2e2 46.1%,#fce5e5 46.7%,#fbdbdb 47.4%,#fbd4d4 48.0%,#f9c4c4 48.7%,#f9c9c9 49.3%,#fbd6d6 50.0%,#facdcd 50.7%,#fce2e2 51.3%,#fef2f2 52.0%,#facaca 52.6%,#f8b9b9 53.3%,#f9c1c1 53.9%,#f8bebe 54.6%,#facece 55.2%,#fce2e2 55.9%,#fdfeff 56.5%,#d7e7fa 57.2%,#b4d3f6 57.8%,#c3dbf8 58.5%,#c0daf8 59.2%,#b3d2f6 59.8%,#b8d5f7 60.5%,#c2dbf8 61.1%,#b1d1f6 61.8%,#b0d0f6 62.4%,#adcef5 63.1%,#bed8f7 63.7%,#d2e4fa 64.4%,#cce1f9 65.0%,#b5d3f6 65.7%,#b7d4f6 66.3%,#b8d5f7 67.0%,#a5c9f4 67.6%,#b0d0f6 68.3%,#c0daf8 69.0%,#d4e5fa 69.6%,#fffbfb 70.3%,#fef6f6 70.9%,#e2eefc 71.6%,#cce1f9 72.2%,#bfd9f7 72.9%,#b6d4f6 73.5%,#d8e8fa 74.2%,#ecf4fd 74.8%,#fce5e5 75.5%,#f9c3c3 76.1%,#f7b3b3 76.8%,#f9caca 77.5%,#facece 78.1%,#f8bebe 78.8%,#f7b6b6 79.4%,#f9c4c4 80.1%,#fdeaea 80.7%,#e5f0fc 81.4%,#d4e5fa 82.0%,#c7def8 82.7%,#d0e3f9 83.3%,#eff6fd 84.0%,#fdeded 84.6%,#fbdcdc 85.3%,#fad0d0 85.9%,#fde9e9 86.6%,#fffbfb 87.3%,#f1f7fd 87.9%,#e3effc 88.6%,#d0e3f9 89.2%,#c9dff9 89.9%,#c1daf8 90.5%,#d7e7fa 91.2%,#edf4fd 91.8%,#eaf2fc 92.5%,#eff6fd 93.1%,#fdfeff 93.8%,#fdf0f0 94.4%,#fdebeb 95.1%,#fef6f6 95.8%,#fdefef 96.4%,#fef4f4 97.1%,#fafcfe 97.7%,#f0f6fd 98.4%,#ddebfb 99.0%,#d1e4fa 99.7%)"></div><div style="position:absolute;left:0;top:35.66px;width:306.0px;height:3.57px;background:linear-gradient(90deg,#c7def8 0.3%,#c7ddf8 1.0%,#bad6f7 1.6%,#bad6f7 2.3%,#d3e5fa 2.9%,#d2e4fa 3.6%,#cce1f9 4.2%,#b2d1f6 4.9%,#bfd9f7 5.6%,#cee2f9 6.2%,#c8def8 6.9%,#aecff5 7.5%,#a6caf4 8.2%,#c0daf8 8.8%,#b9d5f7 9.5%,#b9d5f7 10.1%,#b4d3f6 10.8%,#b3d2f6 11.4%,#abcdf5 12.1%,#b1d1f6 12.7%,#c8def8 13.4%,#cde2f9 14.1%,#eef5fd 14.7%,#fef4f4 15.4%,#facccc 16.0%,#f8bfbf 16.7%,#f5a2a2 17.3%,#f5a0a0 18.0%,#f5a2a2 18.6%,#f49898 19.3%,#f59e9e 19.9%,#f6a8a8 20.6%,#f5a3a3 21.2%,#f6a3a3 21.9%,#f7b4b4 22.5%,#f8b8b8 23.2%,#f6abab 23.9%,#f7b3b3 24.5%,#f9c2c2 25.2%,#f9c7c7 25.8%,#f7b4b4 26.5%,#f7b2b2 27.1%,#f6a8a8 27.8%,#f28080 28.4%,#f17c7c 29.1%,#f59d9d 29.7%,#f6a7a7 30.4%,#f7b3b3 31.0%,#f8bdbd 31.7%,#f8c0c0 32.4%,#f9c6c6 33.0%,#f9c6c6 33.7%,#f7b4b4 34.3%,#f8b7b7 35.0%,#f8b7b7 35.6%,#f8b7b7 36.3%,#f9c1c1 36.9%,#f9c2c2 37.6%,#f9c4c4 38.2%,#fbd5d5 38.9%,#f8bebe 39.5%,#f8b8b8 40.2%,#f9c7c7 40.8%,#f8b8b8 41.5%,#f8b7b7 42.2%,#f9c5c5 42.8%,#f9caca 43.5%,#f9c6c6 44.1%,#facccc 44.8%,#fbdada 45.4%,#fdefef 46.1%,#fef6f6 46.7%,#fef7f7 47.4%,#fffefe 48.0%,#f0f6fd 48.7%,#ecf4fd 49.3%,#edf4fd 50.0%,#d9e9fb 50.7%,#cadff9 51.3%,#eef5fd 52.0%,#fdecec 52.6%,#fdebeb 53.3%,#fbd4d4 53.9%,#f8b9b9 54.6%,#facaca 55.2%,#fce3e3 55.9%,#eef5fd 56.5%,#d3e5fa 57.2%,#c6ddf8 57.8%,#c8def8 58.5%,#b2d1f6 59.2%,#b5d3f6 59.8%,#c5ddf8 60.5%,#bbd7f7 61.1%,#afd0f6 61.8%,#b1d1f6 62.4%,#c4dcf8 63.1%,#d3e5fa 63.7%,#cfe2f9 64.4%,#b1d1f6 65.0%,#b8d5f7 65.7%,#b1d0f6 66.3%,#9ec5f3 67.0%,#99c2f3 67.6%,#a6caf4 68.3%,#bfd9f7 69.0%,#e2eefc 69.6%,#e9f2fc 70.3%,#cde1f9 70.9%,#c6ddf8 71.6%,#bed8f7 72.2%,#b6d4f6 72.9%,#bbd7f7 73.5%,#d7e7fa 74.2%,#fafcfe 74.8%,#fad2d2 75.5%,#f9caca 76.1%,#facfcf 76.8%,#fad1d1 77.5%,#f8b9b9 78.1%,#f7b5b5 78.8%,#f8b8b8 79.4%,#fad2d2 80.1%,#fffbfb 80.7%,#f4f8fe 81.4%,#e3effc 82.0%,#c5dcf8 82.7%,#d8e8fa 83.3%,#f4f8fe 84.0%,#fdeeee 84.6%,#fdebeb 85.3%,#facece 85.9%,#fbd4d4 86.6%,#fdeeee 87.3%,#fffbfb 87.9%,#dbeafb 88.6%,#c5dcf8 89.2%,#d1e4fa 89.9%,#f1f7fd 90.5%,#fdeaea 91.2%,#fbdbdb 91.8%,#fdebeb 92.5%,#fef9f9 93.1%,#f8fbfe 93.8%,#ecf4fd 94.4%,#d5e6fa 95.1%,#ebf3fd 95.8%,#fef8f8 96.4%,#fce2e2 97.1%,#fde8e8 97.7%,#fdeaea 98.4%,#fce5e5 99.0%,#fce4e4 99.7%)"></div><div style="position:absolute;left:0;top:38.63px;width:306.0px;height:3.57px;background:linear-gradient(90deg,#e4effc 0.3%,#e4effc 1.0%,#d8e8fa 1.6%,#d8e8fa 2.3%,#e0ecfb 2.9%,#d9e9fb 3.6%,#cde2f9 4.2%,#bad6f7 4.9%,#c1daf8 5.6%,#cee2f9 6.2%,#d2e4fa 6.9%,#b4d2f6 7.5%,#a9ccf5 8.2%,#b7d4f6 8.8%,#bfd9f7 9.5%,#bad6f7 10.1%,#b2d1f6 10.8%,#adcef5 11.4%,#a3c8f4 12.1%,#afcff5 12.7%,#b6d4f6 13.4%,#bad6f7 14.1%,#d6e7fa 14.7%,#eef5fd 15.4%,#fffcfc 16.0%,#fce5e5 16.7%,#fbd4d4 17.3%,#facdcd 18.0%,#f9c7c7 18.6%,#f9c1c1 19.3%,#f7b6b6 19.9%,#f8b9b9 20.6%,#f9c5c5 21.2%,#f9c4c4 21.9%,#fbd5d5 22.5%,#fbdada 23.2%,#f9c7c7 23.9%,#facbcb 24.5%,#facaca 25.2%,#fad3d3 25.8%,#f8b9b9 26.5%,#f7b0b0 27.1%,#f6a5a5 27.8%,#f28585 28.4%,#f28080 29.1%,#f59e9e 29.7%,#f6aaaa 30.4%,#f7b3b3 31.0%,#f8bdbd 31.7%,#f9c0c0 32.4%,#f9caca 33.0%,#f9c6c6 33.7%,#f8bebe 34.3%,#f7b6b6 35.0%,#f8bbbb 35.6%,#f8baba 36.3%,#f8bbbb 36.9%,#f8bcbc 37.6%,#f8bebe 38.2%,#fad2d2 38.9%,#f8b7b7 39.5%,#f7b6b6 40.2%,#f9c7c7 40.8%,#f8bbbb 41.5%,#f8b7b7 42.2%,#f9c9c9 42.8%,#fbd4d4 43.5%,#fcdede 44.1%,#fef1f1 44.8%,#ffffff 45.4%,#f5f9fe 46.1%,#edf4fd 46.7%,#edf4fd 47.4%,#e0edfb 48.0%,#d6e7fa 48.7%,#d2e4fa 49.3%,#cbe0f9 50.0%,#b6d3f6 50.7%,#adcff5 51.3%,#d2e4fa 52.0%,#edf4fd 52.6%,#fbfdff 53.3%,#fef7f7 53.9%,#fbd6d6 54.6%,#fcdede 55.2%,#fef4f4 55.9%,#f6f9fe 56.5%,#e6f0fc 57.2%,#e4effc 57.8%,#d6e7fa 58.5%,#c9dff9 59.2%,#c8def8 59.8%,#c2dbf8 60.5%,#b7d4f6 61.1%,#b0d0f6 61.8%,#afd0f6 62.4%,#c6ddf8 63.1%,#d6e7fa 63.7%,#cde1f9 64.4%,#b8d5f7 65.0%,#b9d6f7 65.7%,#adcef5 66.3%,#9ac3f3 67.0%,#9ac3f3 67.6%,#a4c9f4 68.3%,#b4d2f6 69.0%,#d5e6fa 69.6%,#dae9fb 70.3%,#c0d9f7 70.9%,#b3d2f6 71.6%,#b4d2f6 72.2%,#b8d5f7 72.9%,#bbd6f7 73.5%,#d9e8fa 74.2%,#f4f8fe 74.8%,#fbd4d4 75.5%,#f9c9c9 76.1%,#facece 76.8%,#facaca 77.5%,#f8baba 78.1%,#f8b8b8 78.8%,#f7b3b3 79.4%,#fbd7d7 80.1%,#fffdfd 80.7%,#f0f6fd 81.4%,#dae9fb 82.0%,#bdd8f7 82.7%,#c9dff9 83.3%,#ecf4fd 84.0%,#f6fafe 84.6%,#f6fafe 85.3%,#fef8f8 85.9%,#fef6f6 86.6%,#fffefe 87.3%,#f1f7fd 87.9%,#dae9fb 88.6%,#c4dcf8 89.2%,#d8e8fa 89.9%,#fefafa 90.5%,#facdcd 91.2%,#f9c8c8 91.8%,#facdcd 92.5%,#fdefef 93.1%,#fcfdff 93.8%,#d8e8fa 94.4%,#c1daf8 95.1%,#d1e4fa 95.8%,#eff5fd 96.4%,#fef2f2 97.1%,#fdeaea 97.7%,#fdebeb 98.4%,#fdeded 99.0%,#fcdfdf 99.7%)"></div><div style="position:absolute;left:0;top:41.60px;width:306.0px;height:3.57px;background:linear-gradient(90deg,#fad2d2 0.3%,#fdecec 1.0%,#fce4e4 1.6%,#fce2e2 2.3%,#fef2f2 2.9%,#e9f2fc 3.6%,#c7ddf8 4.2%,#bbd6f7 4.9%,#d4e5fa 5.6%,#cee2f9 6.2%,#b4d3f6 6.9%,#a8cbf5 7.5%,#bdd8f7 8.2%,#bfd9f7 8.8%,#b6d4f6 9.5%,#bad6f7 10.1%,#b4d2f6 10.8%,#a4c9f4 11.4%,#b4d2f6 12.1%,#b8d5f7 12.7%,#b7d4f6 13.4%,#bed8f7 14.1%,#cfe2f9 14.7%,#d3e5fa 15.4%,#d6e7fa 16.0%,#e5effc 16.7%,#e8f1fc 17.3%,#e6f0fc 18.0%,#e2eefc 18.6%,#ebf3fd 19.3%,#e5f0fc 19.9%,#e1edfb 20.6%,#e8f1fc 21.2%,#e4effc 21.9%,#e5f0fc 22.5%,#edf4fd 23.2%,#f5f9fe 23.9%,#fffefe 24.5%,#fef1f1 25.2%,#fad3d3 25.8%,#f8b9b9 26.5%,#f8b8b8 27.1%,#f59b9b 27.8%,#f49898 28.4%,#f7b5b5 29.1%,#f8baba 29.7%,#facaca 30.4%,#f9c5c5 31.0%,#f9c7c7 31.7%,#f8c0c0 32.4%,#f9c8c8 33.0%,#f8bfbf 33.7%,#f8bdbd 34.3%,#f8baba 35.0%,#f7b6b6 35.6%,#f9c1c1 36.3%,#f8bfbf 36.9%,#facbcb 37.6%,#facbcb 38.2%,#f8b9b9 38.9%,#f8b9b9 39.5%,#f9c7c7 40.2%,#f8b9b9 40.8%,#f7b4b4 41.5%,#f9c3c3 42.2%,#fce0e0 42.8%,#fef6f6 43.5%,#f7fafe 44.1%,#d8e8fa 44.8%,#c6ddf8 45.4%,#c5dcf8 46.1%,#dbeafb 46.7%,#e0ecfb 47.4%,#d9e8fa 48.0%,#cee2f9 48.7%,#c7def8 49.3%,#b4d2f6 50.0%,#abcdf5 50.7%,#c4dcf8 51.3%,#d2e4fa 52.0%,#d0e3f9 52.6%,#d1e3f9 53.3%,#d9e8fa 53.9%,#e9f2fc 54.6%,#eff5fd 55.2%,#f6fafe 55.9%,#fffefe 56.5%,#fce4e4 57.2%,#fbd5d5 57.8%,#ffffff 58.5%,#eff6fd 59.2%,#e6f0fc 59.8%,#c9dff9 60.5%,#b0d0f6 61.1%,#b1d0f6 61.8%,#bed8f7 62.4%,#d7e7fa 63.1%,#d1e4fa 63.7%,#b8d5f7 64.4%,#bbd7f7 65.0%,#b7d4f6 65.7%,#a4c9f4 66.3%,#98c2f3 67.0%,#a2c8f4 67.6%,#b8d5f7 68.3%,#dceafb 69.0%,#dfecfb 69.6%,#c3dbf8 70.3%,#b7d4f6 70.9%,#b6d4f6 71.6%,#bcd7f7 72.2%,#b8d5f7 72.9%,#b9d5f7 73.5%,#e3eefc 74.2%,#fef6f6 74.8%,#fcdfdf 75.5%,#fbdbdb 76.1%,#f9c8c8 76.8%,#f8baba 77.5%,#f7b6b6 78.1%,#f7b0b0 78.8%,#f9c3c3 79.4%,#fce4e4 80.1%,#fef5f5 80.7%,#f7fafe 81.4%,#dceafb 82.0%,#b8d5f7 82.7%,#cce1f9 83.3%,#cfe3f9 84.0%,#bdd8f7 84.6%,#c8def8 85.3%,#d9e8fa 85.9%,#d9e8fa 86.6%,#d9e8fa 87.3%,#d5e6fa 87.9%,#c0daf8 88.6%,#bdd8f7 89.2%,#e8f1fc 89.9%,#fef3f3 90.5%,#fbd6d6 91.2%,#facece 91.8%,#facdcd 92.5%,#fce5e5 93.1%,#fafcfe 93.8%,#ddebfb 94.4%,#d1e4fa 95.1%,#cfe3f9 95.8%,#e2eefc 96.4%,#e2eefc 97.1%,#d0e3f9 97.7%,#cee2f9 98.4%,#d8e8fa 99.0%,#f1f7fd 99.7%)"></div><div style="position:absolute;left:0;top:44.57px;width:306.0px;height:3.57px;background:linear-gradient(90deg,#f8baba 0.3%,#f8baba 1.0%,#f9c3c3 1.6%,#facfcf 2.3%,#fde7e7 2.9%,#f4f9fe 3.6%,#c3dbf8 4.2%,#b7d4f6 4.9%,#d5e6fa 5.6%,#d6e7fa 6.2%,#bfd9f7 6.9%,#b7d4f6 7.5%,#c8def8 8.2%,#d0e3f9 8.8%,#c4dcf8 9.5%,#bcd7f7 10.1%,#b1d1f6 10.8%,#a3c9f4 11.4%,#b4d3f6 12.1%,#c2dbf8 12.7%,#cce1f9 13.4%,#d4e5fa 14.1%,#d8e8fa 14.7%,#d7e7fa 15.4%,#c6ddf8 16.0%,#d0e3f9 16.7%,#c1daf8 17.3%,#c0daf8 18.0%,#cee2f9 18.6%,#d3e5fa 19.3%,#cce1f9 19.9%,#d9e8fa 20.6%,#e0edfb 21.2%,#d7e7fa 21.9%,#e6f0fc 22.5%,#eaf2fc 23.2%,#f0f6fd 23.9%,#edf5fd 24.5%,#f7fafe 25.2%,#fce4e4 25.8%,#fbd9d9 26.5%,#fbd8d8 27.1%,#f9c5c5 27.8%,#f9c9c9 28.4%,#fce2e2 29.1%,#fdefef 29.7%,#fdebeb 30.4%,#fce1e1 31.0%,#fbd9d9 31.7%,#fbdcdc 32.4%,#fbd9d9 33.0%,#f9c5c5 33.7%,#fad0d0 34.3%,#fad1d1 35.0%,#f9c6c6 35.6%,#facbcb 36.3%,#f9c6c6 36.9%,#facfcf 37.6%,#fbd6d6 38.2%,#f9c5c5 38.9%,#f8bfbf 39.5%,#fbd6d6 40.2%,#facccc 40.8%,#fbd7d7 41.5%,#fce6e6 42.2%,#feffff 42.8%,#eff5fd 43.5%,#d5e6fa 44.1%,#bcd7f7 44.8%,#9bc4f3 45.4%,#b5d3f6 46.1%,#c8def8 46.7%,#d6e6fa 47.4%,#d3e5fa 48.0%,#cadff9 48.7%,#d1e4fa 49.3%,#afd0f6 50.0%,#a9ccf5 50.7%,#c4dcf8 51.3%,#cde1f9 52.0%,#cde1f9 52.6%,#d1e4fa 53.3%,#e0ecfb 53.9%,#e4effc 54.6%,#f8fbfe 55.2%,#fffcfc 55.9%,#fde9e9 56.5%,#facece 57.2%,#f8b9b9 57.8%,#fbd9d9 58.5%,#fef1f1 59.2%,#fefafa 59.8%,#e6f0fc 60.5%,#cae0f9 61.1%,#cbe0f9 61.8%,#e8f1fc 62.4%,#f2f7fd 63.1%,#eaf3fd 63.7%,#d7e7fa 64.4%,#cfe3f9 65.0%,#c9dff9 65.7%,#b3d2f6 66.3%,#a7caf4 67.0%,#b5d3f6 67.6%,#bed8f7 68.3%,#e2eefc 69.0%,#e0edfb 69.6%,#c0d9f7 70.3%,#c0daf8 70.9%,#c3dbf8 71.6%,#c4dcf8 72.2%,#d3e5fa 72.9%,#dbeafb 73.5%,#f3f8fe 74.2%,#fce1e1 74.8%,#fad1d1 75.5%,#fbd4d4 76.1%,#facece 76.8%,#f8bbbb 77.5%,#f8b8b8 78.1%,#f9c1c1 78.8%,#fad1d1 79.4%,#fdf0f0 80.1%,#ffffff 80.7%,#f1f7fd 81.4%,#cbe0f9 82.0%,#bbd6f7 82.7%,#c4dcf8 83.3%,#c0daf8 84.0%,#a8cbf5 84.6%,#afd0f6 85.3%,#bdd8f7 85.9%,#d0e3f9 86.6%,#d6e6fa 87.3%,#d9e8fa 87.9%,#d2e4fa 88.6%,#cee2f9 89.2%,#f7fafe 89.9%,#fef2f2 90.5%,#fce6e6 91.2%,#fdeaea 91.8%,#fce4e4 92.5%,#fef1f1 93.1%,#f6fafe 93.8%,#e9f2fc 94.4%,#e4effc 95.1%,#ebf3fd 95.8%,#eef5fd 96.4%,#eef5fd 97.1%,#dbeafb 97.7%,#d6e7fa 98.4%,#dbeafb 99.0%,#edf4fd 99.7%)"></div><div style="position:absolute;left:0;top:47.54px;width:306.0px;height:3.57px;background:linear-gradient(90deg,#f9c0c0 0.3%,#f8bbbb 1.0%,#f7b1b1 1.6%,#facaca 2.3%,#fef2f2 2.9%,#e4effc 3.6%,#c9dff9 4.2%,#cfe3f9 4.9%,#dfecfb 5.6%,#c9dff9 6.2%,#c9dff9 6.9%,#eaf2fc 7.5%,#edf4fd 8.2%,#d7e7fa 8.8%,#c9dff9 9.5%,#bdd8f7 10.1%,#a8cbf5 10.8%,#b6d3f6 11.4%,#c9dff9 12.1%,#dae9fb 12.7%,#e6f0fc 13.4%,#f9fbfe 14.1%,#ecf4fd 14.7%,#e1edfb 15.4%,#dae9fb 16.0%,#d1e4fa 16.7%,#cadff9 17.3%,#d9e9fb 18.0%,#ebf3fd 18.6%,#f4f9fe 19.3%,#fdeeee 19.9%,#fbdada 20.6%,#fce1e1 21.2%,#fbdddd 21.9%,#facfcf 22.5%,#fbdcdc 23.2%,#fef2f2 23.9%,#fffefe 24.5%,#fffefe 25.2%,#f1f6fd 25.8%,#e6f0fc 26.5%,#f9fcfe 27.1%,#f3f8fe 27.8%,#ddebfb 28.4%,#cbe0f9 29.1%,#cee2f9 29.7%,#dceafb 30.4%,#edf4fd 31.0%,#eaf2fc 31.7%,#fdfeff 32.4%,#fdefef 33.0%,#fce6e6 33.7%,#fdebeb 34.3%,#fce5e5 35.0%,#fef4f4 35.6%,#fce6e6 36.3%,#fce2e2 36.9%,#fdecec 37.6%,#facbcb 38.2%,#f8baba 38.9%,#fbd5d5 39.5%,#fbd8d8 40.2%,#fdf0f0 40.8%,#edf4fd 41.5%,#d2e4fa 42.2%,#d0e3f9 42.8%,#bdd8f7 43.5%,#b5d3f6 44.1%,#abcdf5 44.8%,#b6d4f6 45.4%,#c6ddf8 46.1%,#dae9fb 46.7%,#d4e6fa 47.4%,#cae0f9 48.0%,#cfe2f9 48.7%,#b0d0f6 49.3%,#adcef5 50.0%,#c6ddf8 50.7%,#d1e4fa 51.3%,#cbe0f9 52.0%,#dfecfb 52.6%,#fbfcfe 53.3%,#fdeeee 53.9%,#fbdada 54.6%,#fcdede 55.2%,#fbd8d8 55.9%,#f9c5c5 56.5%,#f8bebe 57.2%,#f9c4c4 57.8%,#facccc 58.5%,#facaca 59.2%,#fbdada 59.8%,#fdeaea 60.5%,#fce4e4 61.1%,#fcdede 61.8%,#f9c9c9 62.4%,#facaca 63.1%,#fce2e2 63.7%,#fde8e8 64.4%,#fffdfd 65.0%,#e3effc 65.7%,#d3e5fa 66.3%,#d4e6fa 67.0%,#dae9fb 67.6%,#f9fbfe 68.3%,#f6fafe 69.0%,#cde1f9 69.6%,#b7d4f6 70.3%,#c7def8 70.9%,#e1edfb 71.6%,#f1f7fd 72.2%,#fef5f5 72.9%,#fbd9d9 73.5%,#facaca 74.2%,#facbcb 74.8%,#fbd5d5 75.5%,#facfcf 76.1%,#f8bfbf 76.8%,#f9c4c4 77.5%,#fad0d0 78.1%,#fce3e3 78.8%,#fdfeff 79.4%,#f7fafe 80.1%,#fbfcfe 80.7%,#ddebfb 81.4%,#d0e3f9 82.0%,#cbe0f9 82.7%,#bad6f7 83.3%,#adcef5 84.0%,#accdf5 84.6%,#b6d4f6 85.3%,#c0d9f7 85.9%,#e2eefc 86.6%,#f8fbfe 87.3%,#f3f8fe 87.9%,#fefafa 88.6%,#fcdfdf 89.2%,#fbd7d7 89.9%,#fdf0f0 90.5%,#f5f9fe 91.2%,#e4effc 91.8%,#dfecfb 92.5%,#e5f0fc 93.1%,#f0f6fd 93.8%,#fdebeb 94.4%,#fbd5d5 95.1%,#f9c9c9 95.8%,#fbd8d8 96.4%,#fce2e2 97.1%,#fce6e6 97.7%,#fbdddd 98.4%,#fad0d0 99.0%,#f9c9c9 99.7%)"></div><div style="position:absolute;left:0;top:50.51px;width:306.0px;height:3.57px;background:linear-gradient(90deg,#fad2d2 0.3%,#f9c9c9 1.0%,#f8bfbf 1.6%,#fad0d0 2.3%,#fef6f6 2.9%,#deebfb 3.6%,#c9dff9 4.2%,#cfe3f9 4.9%,#e3eefc 5.6%,#deebfb 6.2%,#e4effc 6.9%,#fef6f6 7.5%,#fef6f6 8.2%,#f1f7fd 8.8%,#deebfb 9.5%,#c7def8 10.1%,#a2c8f4 10.8%,#bbd7f7 11.4%,#d0e3f9 12.1%,#e9f2fc 12.7%,#fafcfe 13.4%,#fce0e0 14.1%,#fef9f9 14.7%,#f1f7fd 15.4%,#e4effc 16.0%,#cfe3f9 16.7%,#c9dff9 17.3%,#dbeafb 18.0%,#f7fafe 18.6%,#fffcfc 19.3%,#fad1d1 19.9%,#f8c0c0 20.6%,#f9c6c6 21.2%,#f9c2c2 21.9%,#f8bbbb 22.5%,#f9c2c2 23.2%,#fce2e2 23.9%,#ffffff 24.5%,#f9fcfe 25.2%,#ddebfb 25.8%,#c4dcf8 26.5%,#e0edfb 27.1%,#dae9fb 27.8%,#d1e4fa 28.4%,#c5dcf8 29.1%,#cae0f9 29.7%,#d8e8fa 30.4%,#dae9fb 31.0%,#e3eefc 31.7%,#ddebfb 32.4%,#edf4fd 33.0%,#f5f9fe 33.7%,#f4f8fe 34.3%,#f8fbfe 35.0%,#f2f7fd 35.6%,#f9fbfe 36.3%,#f7fafe 36.9%,#f4f9fe 37.6%,#fdf0f0 38.2%,#fcdede 38.9%,#fef5f5 39.5%,#ffffff 40.2%,#edf4fd 40.8%,#cee2f9 41.5%,#b2d1f6 42.2%,#b4d3f6 42.8%,#afcff5 43.5%,#aecff5 44.1%,#adcef5 44.8%,#b2d1f6 45.4%,#c9dff9 46.1%,#d9e9fb 46.7%,#d3e5fa 47.4%,#c4dcf8 48.0%,#c6ddf8 48.7%,#b2d1f6 49.3%,#a9ccf5 50.0%,#bdd8f7 50.7%,#c8dff9 51.3%,#cee2f9 52.0%,#deebfb 52.6%,#f8fbfe 53.3%,#fdefef 53.9%,#fbd9d9 54.6%,#fcdede 55.2%,#fce5e5 55.9%,#fbd6d6 56.5%,#fbdada 57.2%,#fde8e8 57.8%,#fcdede 58.5%,#fbd8d8 59.2%,#fdeaea 59.8%,#fdecec 60.5%,#fdeded 61.1%,#fbd7d7 61.8%,#f9c0c0 62.4%,#fad3d3 63.1%,#fce7e7 63.7%,#fde9e9 64.4%,#fef8f8 65.0%,#dfecfb 65.7%,#d9e8fa 66.3%,#ddebfb 67.0%,#dceafb 67.6%,#f2f7fd 68.3%,#f1f6fd 69.0%,#c9dff9 69.6%,#b4d2f6 70.3%,#d2e4fa 70.9%,#eaf2fc 71.6%,#fef6f6 72.2%,#fce0e0 72.9%,#f7b5b5 73.5%,#f7b5b5 74.2%,#f8baba 74.8%,#fbd8d8 75.5%,#fbdada 76.1%,#facfcf 76.8%,#fbd9d9 77.5%,#fce4e4 78.1%,#fafcfe 78.8%,#e1edfb 79.4%,#e6f0fc 80.1%,#e8f1fc 80.7%,#e7f1fc 81.4%,#ddeafb 82.0%,#eaf2fc 82.7%,#dae9fb 83.3%,#b8d5f7 84.0%,#b8d5f7 84.6%,#c4dcf8 85.3%,#c2dbf8 85.9%,#e2eefc 86.6%,#eff6fd 87.3%,#fafcfe 87.9%,#fffafa 88.6%,#fbdddd 89.2%,#fde7e7 89.9%,#fffcfc 90.5%,#dbe9fb 91.2%,#c4dcf8 91.8%,#d1e3f9 92.5%,#deebfb 93.1%,#f5f9fe 93.8%,#fbdada 94.4%,#f7b5b5 95.1%,#f6abab 95.8%,#f7b2b2 96.4%,#f8bdbd 97.1%,#f9c7c7 97.7%,#f7b4b4 98.4%,#f6abab 99.0%,#f6abab 99.7%)"></div><div style="position:absolute;left:0;top:53.49px;width:306.0px;height:3.57px;background:linear-gradient(90deg,#fdecec 0.3%,#fbdada 1.0%,#fcdede 1.6%,#fef9f9 2.3%,#dceafb 2.9%,#d3e5fa 3.6%,#e3eefc 4.2%,#d4e6fa 4.9%,#d0e3f9 5.6%,#ddebfb 6.2%,#fef5f5 6.9%,#fad1d1 7.5%,#fce2e2 8.2%,#fef8f8 8.8%,#ddebfb 9.5%,#c0d9f7 10.1%,#afcff5 10.8%,#cce0f9 11.4%,#e3eefc 12.1%,#fef9f9 12.7%,#fbd9d9 13.4%,#f9c3c3 14.1%,#fbd7d7 14.7%,#fef5f5 15.4%,#f4f8fe 16.0%,#d6e7fa 16.7%,#c4dcf8 17.3%,#ddebfb 18.0%,#f1f7fd 18.6%,#fef4f4 19.3%,#facdcd 19.9%,#f9c4c4 20.6%,#facdcd 21.2%,#f8bbbb 21.9%,#fbd8d8 22.5%,#fef2f2 23.2%,#feffff 23.9%,#ffffff 24.5%,#e6f0fc 25.2%,#d6e7fa 25.8%,#dae9fb 26.5%,#e9f2fc 27.1%,#e0edfb 27.8%,#e1edfb 28.4%,#f5f9fe 29.1%,#fef4f4 29.7%,#fef9f9 30.4%,#eff5fd 31.0%,#e2eefc 31.7%,#dfecfb 32.4%,#d7e7fa 33.0%,#d4e6fa 33.7%,#d4e5fa 34.3%,#cde1f9 35.0%,#d7e7fa 35.6%,#c7def8 36.3%,#c4dcf8 36.9%,#d5e6fa 37.6%,#dfecfb 38.2%,#cfe3f9 38.9%,#e1edfb 39.5%,#d8e8fa 40.2%,#cbe0f9 40.8%,#bad6f7 41.5%,#b2d1f6 42.2%,#b4d2f6 42.8%,#a9ccf5 43.5%,#a9ccf5 44.1%,#b5d3f6 44.8%,#c7def8 45.4%,#dceafb 46.1%,#d1e4fa 46.7%,#cadff9 47.4%,#cde1f9 48.0%,#b1d0f6 48.7%,#abcdf5 49.3%,#c6ddf8 50.0%,#d4e6fa 50.7%,#cde1f9 51.3%,#c0d9f7 52.0%,#cbe0f9 52.6%,#d8e8fa 53.3%,#ddebfb 53.9%,#d5e6fa 54.6%,#dceafb 55.2%,#e0ecfb 55.9%,#dbe9fb 56.5%,#d7e7fa 57.2%,#d3e5fa 57.8%,#e3eefc 58.5%,#d8e8fa 59.2%,#d5e6fa 59.8%,#cfe3f9 60.5%,#dfecfb 61.1%,#f3f8fe 61.8%,#eaf3fd 62.4%,#d6e7fa 63.1%,#dae9fb 63.7%,#d9e8fa 64.4%,#b7d4f6 65.0%,#b0d0f6 65.7%,#b1d1f6 66.3%,#c6ddf8 67.0%,#e3effc 67.6%,#edf5fd 68.3%,#cfe2f9 69.0%,#c0daf8 69.6%,#b1d1f6 70.3%,#cee2f9 70.9%,#ecf4fd 71.6%,#fef7f7 72.2%,#fad3d3 72.9%,#f7b2b2 73.5%,#f9c6c6 74.2%,#fce2e2 74.8%,#fdefef 75.5%,#fde7e7 76.1%,#fdeded 76.8%,#fffdfd 77.5%,#eaf3fd 78.1%,#d2e4fa 78.8%,#c8def8 79.4%,#dae9fb 80.1%,#e6f0fc 80.7%,#f8fbfe 81.4%,#fce6e6 82.0%,#fce6e6 82.7%,#fcfdff 83.3%,#e8f2fc 84.0%,#e7f1fc 84.6%,#deebfb 85.3%,#cadff9 85.9%,#d8e8fa 86.6%,#c8def8 87.3%,#cadff9 87.9%,#deebfb 88.6%,#f3f8fe 89.2%,#e0ecfb 89.9%,#c8def8 90.5%,#c3dbf8 91.2%,#c5ddf8 91.8%,#c7def8 92.5%,#d5e6fa 93.1%,#fdf0f0 93.8%,#facece 94.4%,#f7b3b3 95.1%,#f7b1b1 95.8%,#f8bebe 96.4%,#facccc 97.1%,#f8b8b8 97.7%,#f7aeae 98.4%,#f6abab 99.0%,#f7b4b4 99.7%)"></div><div style="position:absolute;left:0;top:56.46px;width:306.0px;height:3.57px;background:linear-gradient(90deg,#fef3f3 0.3%,#fce0e0 1.0%,#fad3d3 1.6%,#fef6f6 2.3%,#f0f6fd 2.9%,#e9f2fc 3.6%,#f9fbfe 4.2%,#f1f7fd 4.9%,#e6f0fc 5.6%,#e6f0fc 6.2%,#fffafa 6.9%,#fce1e1 7.5%,#fdecec 8.2%,#fefeff 8.8%,#e2edfb 9.5%,#c8def8 10.1%,#c1daf8 10.8%,#d5e6fa 11.4%,#f2f7fd 12.1%,#fce6e6 12.7%,#fad1d1 13.4%,#f8b9b9 14.1%,#fbd7d7 14.7%,#fdeded 15.4%,#e7f1fc 16.0%,#cfe3f9 16.7%,#b5d3f6 17.3%,#d0e3f9 18.0%,#dfecfb 18.6%,#fffbfb 19.3%,#facdcd 19.9%,#f9c8c8 20.6%,#f9c7c7 21.2%,#f9c1c1 21.9%,#fbdada 22.5%,#fef4f4 23.2%,#fdfeff 23.9%,#f3f8fe 24.5%,#dfecfb 25.2%,#dae9fb 25.8%,#d9e9fb 26.5%,#e8f1fc 27.1%,#f3f8fe 27.8%,#f5f9fe 28.4%,#fdefef 29.1%,#fad0d0 29.7%,#fce4e4 30.4%,#fefeff 31.0%,#ddebfb 31.7%,#d7e7fa 32.4%,#c3dbf8 33.0%,#cce1f9 33.7%,#d1e4fa 34.3%,#cde2f9 35.0%,#dceafb 35.6%,#d2e4fa 36.3%,#bfd9f7 36.9%,#c9dff9 37.6%,#bbd7f7 38.2%,#a6caf4 38.9%,#bbd7f7 39.5%,#cce1f9 40.2%,#c7def8 40.8%,#d2e4fa 41.5%,#d3e5fa 42.2%,#d1e4fa 42.8%,#c0daf8 43.5%,#b7d4f6 44.1%,#b8d5f7 44.8%,#cde1f9 45.4%,#dceafb 46.1%,#ddebfb 46.7%,#dfecfb 47.4%,#e5f0fc 48.0%,#d5e6fa 48.7%,#bed8f7 49.3%,#d2e4fa 50.0%,#cbe0f9 50.7%,#b5d3f6 51.3%,#aaccf5 52.0%,#bad6f7 52.6%,#c0d9f7 53.3%,#c6ddf8 53.9%,#bbd7f7 54.6%,#b2d1f6 55.2%,#c0daf8 55.9%,#bfd9f7 56.5%,#b6d3f6 57.2%,#b9d5f7 57.8%,#c1daf8 58.5%,#b9d6f7 59.2%,#aecff5 59.8%,#afcff5 60.5%,#c1daf8 61.1%,#d5e6fa 61.8%,#cee2f9 62.4%,#b6d4f6 63.1%,#bbd7f7 63.7%,#b5d3f6 64.4%,#9ac3f3 65.0%,#96c1f3 65.7%,#a9ccf5 66.3%,#b5d3f6 67.0%,#d4e5fa 67.6%,#deebfb 68.3%,#bcd7f7 69.0%,#b5d3f6 69.6%,#b6d3f6 70.3%,#cfe3f9 70.9%,#e3eefc 71.6%,#fbfcfe 72.2%,#fbdada 72.9%,#f8bcbc 73.5%,#fbd7d7 74.2%,#fffcfc 74.8%,#fcfdff 75.5%,#fbfcfe 76.1%,#f6fafe 76.8%,#e8f1fc 77.5%,#e0edfb 78.1%,#cee2f9 78.8%,#d5e6fa 79.4%,#e8f1fc 80.1%,#eff5fd 80.7%,#ffffff 81.4%,#fde7e7 82.0%,#fde8e8 82.7%,#fffefe 83.3%,#f2f7fd 84.0%,#f1f7fd 84.6%,#f6f9fe 85.3%,#edf4fd 85.9%,#eff5fd 86.6%,#d8e8fa 87.3%,#d1e3f9 87.9%,#e1edfb 88.6%,#f1f7fd 89.2%,#ecf4fd 89.9%,#dbe9fb 90.5%,#d8e8fa 91.2%,#dfecfb 91.8%,#dae9fb 92.5%,#ebf3fd 93.1%,#fce7e7 93.8%,#facfcf 94.4%,#f7b4b4 95.1%,#f7b4b4 95.8%,#f9c6c6 96.4%,#fbd9d9 97.1%,#fbd9d9 97.7%,#f9c5c5 98.4%,#facfcf 99.0%,#fad1d1 99.7%)"></div><div style="position:absolute;left:0;top:59.43px;width:306.0px;height:3.57px;background:linear-gradient(90deg,#f8bfbf 0.3%,#f8b8b8 1.0%,#f9c6c6 1.6%,#fbdbdb 2.3%,#fad3d3 2.9%,#f9c4c4 3.6%,#f9c9c9 4.2%,#fef1f1 4.9%,#fbfcfe 5.6%,#f4f8fe 6.2%,#eef5fd 6.9%,#e2eefc 7.5%,#deebfb 8.2%,#d6e7fa 8.8%,#cce1f9 9.5%,#d8e8fa 10.1%,#e3eefc 10.8%,#f4f8fe 11.4%,#fdecec 12.1%,#fad2d2 12.7%,#f9c2c2 13.4%,#f7b3b3 14.1%,#fbd7d7 14.7%,#f5f9fe 15.4%,#d7e7fa 16.0%,#a8cbf5 16.7%,#93bff2 17.3%,#b1d1f6 18.0%,#dbeafb 18.6%,#fef5f5 19.3%,#fbd9d9 19.9%,#f8bbbb 20.6%,#f7b5b5 21.2%,#f8baba 21.9%,#facdcd 22.5%,#fbd4d4 23.2%,#fcdfdf 23.9%,#fef5f5 24.5%,#f2f7fd 25.2%,#f5f9fe 25.8%,#d2e4fa 26.5%,#d0e3f9 27.1%,#d6e6fa 27.8%,#f9fbfe 28.4%,#fde7e7 29.1%,#f9c5c5 29.7%,#fce2e2 30.4%,#fbfcfe 31.0%,#eef5fd 31.7%,#d9e8fa 32.4%,#c6ddf8 33.0%,#e1edfb 33.7%,#ebf3fd 34.3%,#fcfdff 35.0%,#fef3f3 35.6%,#f7fafe 36.3%,#ebf3fd 36.9%,#d3e5fa 37.6%,#accdf5 38.2%,#98c2f3 38.9%,#a5caf4 39.5%,#c1daf8 40.2%,#d7e7fa 40.8%,#f6f9fe 41.5%,#fdeded 42.2%,#eff5fd 42.8%,#e1edfb 43.5%,#dae9fb 44.1%,#d6e7fa 44.8%,#d6e7fa 45.4%,#ecf3fd 46.1%,#f6fafe 46.7%,#fdefef 47.4%,#fef7f7 48.0%,#fffdfd 48.7%,#fafcfe 49.3%,#e2eefc 50.0%,#bbd6f7 50.7%,#97c1f3 51.3%,#99c2f3 52.0%,#a0c7f4 52.6%,#aecff5 53.3%,#b3d2f6 53.9%,#aecff5 54.6%,#c1daf8 55.2%,#c4dcf8 55.9%,#b3d2f6 56.5%,#bcd7f7 57.2%,#c3dbf8 57.8%,#bad6f7 58.5%,#b1d1f6 59.2%,#afcff5 59.8%,#cbe0f9 60.5%,#d3e5fa 61.1%,#c8def8 61.8%,#b6d3f6 62.4%,#bad6f7 63.1%,#b8d5f7 63.7%,#9dc5f3 64.4%,#98c2f3 65.0%,#a2c8f4 65.7%,#b3d2f6 66.3%,#ddebfb 67.0%,#e0ecfb 67.6%,#c6ddf8 68.3%,#b7d4f6 69.0%,#b5d3f6 69.6%,#b5d3f6 70.3%,#c9dff9 70.9%,#ddebfb 71.6%,#f4f9fe 72.2%,#fef1f1 72.9%,#fde7e7 73.5%,#f5f9fe 74.2%,#e8f1fc 74.8%,#e9f2fc 75.5%,#dfecfb 76.1%,#e1edfb 76.8%,#dfecfb 77.5%,#e6f0fc 78.1%,#f5f9fe 78.8%,#fce1e1 79.4%,#fdeaea 80.1%,#fef1f1 80.7%,#fffcfc 81.4%,#eff5fd 82.0%,#cee2f9 82.7%,#d2e4fa 83.3%,#f6fafe 84.0%,#fef1f1 84.6%,#fce3e3 85.3%,#facece 85.9%,#fce4e4 86.6%,#fce6e6 87.3%,#fbd6d6 87.9%,#fad1d1 88.6%,#fad2d2 89.2%,#fce5e5 89.9%,#fce5e5 90.5%,#fbdddd 91.2%,#fde8e8 91.8%,#fce3e3 92.5%,#facdcd 93.1%,#f8bfbf 93.8%,#f6aaaa 94.4%,#f7b1b1 95.1%,#facdcd 95.8%,#fdecec 96.4%,#fdf0f0 97.1%,#fffbfb 97.7%,#f2f7fd 98.4%,#ebf3fd 99.0%,#e1edfb 99.7%)"></div><div style="position:absolute;left:0;top:62.40px;width:306.0px;height:3.57px;background:linear-gradient(90deg,#f49696 0.3%,#f49494 1.0%,#f6a9a9 1.6%,#f9c3c3 2.3%,#f8bebe 2.9%,#f7b2b2 3.6%,#f8b9b9 4.2%,#fde7e7 4.9%,#fbfdff 5.6%,#f9fcfe 6.2%,#e5f0fc 6.9%,#c2dbf8 7.5%,#bbd6f7 8.2%,#c1daf8 8.8%,#bad6f7 9.5%,#d7e7fa 10.1%,#e3eefc 10.8%,#fafcfe 11.4%,#fdebeb 12.1%,#fbd4d4 12.7%,#f9c9c9 13.4%,#f8bbbb 14.1%,#fad2d2 14.7%,#feffff 15.4%,#d5e6fa 16.0%,#afd0f6 16.7%,#96c0f2 17.3%,#afcff5 18.0%,#d4e5fa 18.6%,#fef4f4 19.3%,#fbdbdb 19.9%,#f8baba 20.6%,#f6acac 21.2%,#f7b2b2 21.9%,#f9c3c3 22.5%,#f9c5c5 23.2%,#facfcf 23.9%,#fce0e0 24.5%,#fdeeee 25.2%,#fdefef 25.8%,#f8fbfe 26.5%,#e2eefc 27.1%,#eaf2fc 27.8%,#f4f8fe 28.4%,#fffdfd 29.1%,#fce6e6 29.7%,#fef5f5 30.4%,#f0f6fd 31.0%,#fdfeff 31.7%,#eef5fd 32.4%,#edf4fd 33.0%,#f8fbfe 33.7%,#f8fbfe 34.3%,#fefafa 35.0%,#fef1f1 35.6%,#fafcfe 36.3%,#f1f7fd 36.9%,#d0e3f9 37.6%,#abcdf5 38.2%,#9cc4f3 38.9%,#b6d4f6 39.5%,#c6ddf8 40.2%,#ecf4fd 40.8%,#fdf0f0 41.5%,#f9c9c9 42.2%,#fde8e8 42.8%,#f5f9fe 43.5%,#f0f6fd 44.1%,#eef5fd 44.8%,#e4effc 45.4%,#fffefe 46.1%,#fffdfd 46.7%,#fde9e9 47.4%,#fef6f6 48.0%,#fcfdff 48.7%,#fcfdff 49.3%,#e9f2fc 50.0%,#bfd9f7 50.7%,#94bff2 51.3%,#9dc5f3 52.0%,#9bc4f3 52.6%,#a6caf4 53.3%,#a4c9f4 53.9%,#a8cbf5 54.6%,#b8d5f7 55.2%,#b5d3f6 55.9%,#b0d0f6 56.5%,#b3d2f6 57.2%,#bfd9f7 57.8%,#b8d5f7 58.5%,#afcff5 59.2%,#adcef5 59.8%,#bed9f7 60.5%,#d1e4fa 61.1%,#cde2f9 61.8%,#b7d4f6 62.4%,#bcd7f7 63.1%,#accdf5 63.7%,#9dc5f3 64.4%,#9ac3f3 65.0%,#a7cbf5 65.7%,#b6d4f6 66.3%,#d4e5fa 67.0%,#dfecfb 67.6%,#c1daf8 68.3%,#b7d4f6 69.0%,#b6d3f6 69.6%,#b6d4f6 70.3%,#c5ddf8 70.9%,#d6e7fa 71.6%,#f7fafe 72.2%,#fce5e5 72.9%,#fce6e6 73.5%,#f5f9fe 74.2%,#e5f0fc 74.8%,#f4f9fe 75.5%,#eef5fd 76.1%,#f0f6fd 76.8%,#f2f7fd 77.5%,#f4f8fe 78.1%,#fce3e3 78.8%,#f9c4c4 79.4%,#fbd8d8 80.1%,#fdebeb 80.7%,#fef8f8 81.4%,#dfecfb 82.0%,#adcef5 82.7%,#c2dbf8 83.3%,#edf5fd 84.0%,#fef1f1 84.6%,#f9c7c7 85.3%,#f7b4b4 85.9%,#f9c6c6 86.6%,#fbd9d9 87.3%,#fad3d3 87.9%,#f9c6c6 88.6%,#facdcd 89.2%,#fad1d1 89.9%,#f9c5c5 90.5%,#f8bebe 91.2%,#f7b5b5 91.8%,#f8b8b8 92.5%,#f6abab 93.1%,#f6a9a9 93.8%,#f5a2a2 94.4%,#f7b3b3 95.1%,#fad0d0 95.8%,#fef4f4 96.4%,#fef3f3 97.1%,#fef5f5 97.7%,#f8fbfe 98.4%,#e4effc 99.0%,#e5effc 99.7%)"></div><div style="position:absolute;left:0;top:65.37px;width:306.0px;height:3.57px;background:linear-gradient(90deg,#f38b8b 0.3%,#f28282 1.0%,#f38b8b 1.6%,#f7b1b1 2.3%,#f8bfbf 2.9%,#f8b8b8 3.6%,#fad3d3 4.2%,#fef9f9 4.9%,#dfecfb 5.6%,#e4effc 6.2%,#d8e8fa 6.9%,#c0d9f7 7.5%,#b8d5f7 8.2%,#b5d3f6 8.8%,#afcff5 9.5%,#bad6f7 10.1%,#c4dcf8 10.8%,#d8e8fa 11.4%,#fcfdff 12.1%,#fce2e2 12.7%,#facccc 13.4%,#f7b4b4 14.1%,#fbdada 14.7%,#fdefef 15.4%,#e9f2fc 16.0%,#cbe0f9 16.7%,#afd0f6 17.3%,#c9dff9 18.0%,#e8f1fc 18.6%,#fdeaea 19.3%,#fbd7d7 19.9%,#f8bfbf 20.6%,#f7aeae 21.2%,#f8b7b7 21.9%,#f9c5c5 22.5%,#f8b9b9 23.2%,#f8b9b9 23.9%,#f9c7c7 24.5%,#f9c6c6 25.2%,#f8b7b7 25.8%,#f9c1c1 26.5%,#fdebeb 27.1%,#eef5fd 27.8%,#e8f1fc 28.4%,#d8e8fa 29.1%,#dae9fb 29.7%,#e0ecfb 30.4%,#eff6fd 31.0%,#fdeeee 31.7%,#fce1e1 32.4%,#fbdada 33.0%,#fde9e9 33.7%,#fef9f9 34.3%,#f5f9fe 35.0%,#e1edfb 35.6%,#c0d9f7 36.3%,#d4e5fa 36.9%,#c6ddf8 37.6%,#b2d1f6 38.2%,#b2d1f6 38.9%,#c9dff9 39.5%,#e2eefc 40.2%,#f0f6fd 40.8%,#fde8e8 41.5%,#fad0d0 42.2%,#fbdddd 42.8%,#fffcfc 43.5%,#fef9f9 44.1%,#fef9f9 44.8%,#fef6f6 45.4%,#fdfeff 46.1%,#fffefe 46.7%,#f1f7fd 47.4%,#dae9fb 48.0%,#c7def8 48.7%,#d1e4fa 49.3%,#dbeafb 50.0%,#c2dbf8 50.7%,#b5d3f6 51.3%,#aecff5 52.0%,#adcff5 52.6%,#a1c7f4 53.3%,#90bdf2 53.9%,#99c2f3 54.6%,#a3c8f4 55.2%,#a6caf4 55.9%,#a2c7f4 56.5%,#b4d2f6 57.2%,#bfd9f7 57.8%,#b7d4f6 58.5%,#b3d2f6 59.2%,#b1d1f6 59.8%,#c6ddf8 60.5%,#dae9fb 61.1%,#cce0f9 61.8%,#bad6f7 62.4%,#b7d4f6 63.1%,#bad6f7 63.7%,#a3c8f4 64.4%,#98c2f3 65.0%,#a8cbf5 65.7%,#b4d3f6 66.3%,#d7e7fa 67.0%,#e3eefc 67.6%,#c6ddf8 68.3%,#b8d5f7 69.0%,#b6d3f6 69.6%,#b6d4f6 70.3%,#cbe0f9 70.9%,#deecfb 71.6%,#fef6f6 72.2%,#fbd5d5 72.9%,#facccc 73.5%,#fce0e0 74.2%,#fce4e4 74.8%,#fad2d2 75.5%,#fbd7d7 76.1%,#fbd7d7 76.8%,#fbdbdb 77.5%,#fce1e1 78.1%,#fbd6d6 78.8%,#f8b8b8 79.4%,#fad3d3 80.1%,#fef1f1 80.7%,#fffbfb 81.4%,#e3eefc 82.0%,#b2d1f6 82.7%,#bed8f7 83.3%,#eef5fd 84.0%,#fdf0f0 84.6%,#f9c8c8 85.3%,#f6abab 85.9%,#fce0e0 86.6%,#fdeeee 87.3%,#fefafa 87.9%,#fdfeff 88.6%,#f3f8fe 89.2%,#fffefe 89.9%,#fcdfdf 90.5%,#f9c1c1 91.2%,#f6a6a6 91.8%,#f6a3a3 92.5%,#f59c9c 93.1%,#f49393 93.8%,#f49797 94.4%,#f6adad 95.1%,#f9c7c7 95.8%,#fbdada 96.4%,#fad3d3 97.1%,#f9c5c5 97.7%,#facdcd 98.4%,#fbd5d5 99.0%,#fce4e4 99.7%)"></div><div style="position:absolute;left:0;top:68.34px;width:306.0px;height:3.57px;background:linear-gradient(90deg,#f38888 0.3%,#f49090 1.0%,#f6aaaa 1.6%,#f6a7a7 2.3%,#f6a9a9 2.9%,#f8b9b9 3.6%,#fde9e9 4.2%,#ecf4fd 4.9%,#f4f9fe 5.6%,#ecf4fd 6.2%,#d2e4fa 6.9%,#bbd7f7 7.5%,#afd0f6 8.2%,#a7caf4 8.8%,#b6d3f6 9.5%,#b8d5f7 10.1%,#b7d4f6 10.8%,#d6e7fa 11.4%,#f3f8fe 12.1%,#fffdfd 12.7%,#fce0e0 13.4%,#f9c5c5 14.1%,#fce1e1 14.7%,#fef5f5 15.4%,#e7f1fc 16.0%,#c8def8 16.7%,#b7d4f6 17.3%,#cce1f9 18.0%,#f6f9fe 18.6%,#fef4f4 19.3%,#fbd9d9 19.9%,#f8bbbb 20.6%,#f9c4c4 21.2%,#facdcd 21.9%,#f9c7c7 22.5%,#f8b8b8 23.2%,#f8bdbd 23.9%,#f8bebe 24.5%,#f6a9a9 25.2%,#f7b3b3 25.8%,#fad1d1 26.5%,#fef2f2 27.1%,#ebf3fd 27.8%,#dceafb 28.4%,#cfe3f9 29.1%,#b8d5f7 29.7%,#cadff9 30.4%,#f5f9fe 31.0%,#fdefef 31.7%,#fbdcdc 32.4%,#fad0d0 33.0%,#fde9e9 33.7%,#fafcfe 34.3%,#d4e5fa 35.0%,#aecff5 35.6%,#bad6f7 36.3%,#bed8f7 36.9%,#b9d6f7 37.6%,#c1daf8 38.2%,#c8def8 38.9%,#c8def8 39.5%,#d3e5fa 40.2%,#ecf4fd 40.8%,#fcfdff 41.5%,#fffefe 42.2%,#fcfdff 42.8%,#fef5f5 43.5%,#fef1f1 44.1%,#fdebeb 44.8%,#fffbfb 45.4%,#f5f9fe 46.1%,#e5f0fc 46.7%,#c4dcf8 47.4%,#aecff5 48.0%,#c5dcf8 48.7%,#d3e5fa 49.3%,#cbe0f9 50.0%,#cbe0f9 50.7%,#d0e3f9 51.3%,#d0e3f9 52.0%,#c4dcf8 52.6%,#aecff5 53.3%,#95c0f2 53.9%,#98c2f3 54.6%,#9bc3f3 55.2%,#9cc4f3 55.9%,#a8cbf5 56.5%,#bcd7f7 57.2%,#b7d4f6 57.8%,#abcdf5 58.5%,#b1d0f6 59.2%,#c2dbf8 59.8%,#d7e7fa 60.5%,#cde1f9 61.1%,#bcd7f7 61.8%,#c8def8 62.4%,#c1daf8 63.1%,#b2d1f6 63.7%,#a9ccf5 64.4%,#c0d9f7 65.0%,#c9dff9 65.7%,#f8fbfe 66.3%,#f7fafe 67.0%,#ddebfb 67.6%,#d3e5fa 68.3%,#cfe2f9 69.0%,#cae0f9 69.6%,#cae0f9 70.3%,#d9e8fa 70.9%,#fdfeff 71.6%,#fbdddd 72.2%,#facbcb 72.9%,#facbcb 73.5%,#facfcf 74.2%,#f9c2c2 74.8%,#facaca 75.5%,#fad1d1 76.1%,#fce4e4 76.8%,#fef2f2 77.5%,#fde8e8 78.1%,#fbdbdb 78.8%,#fbdada 79.4%,#fdeded 80.1%,#fef6f6 80.7%,#ecf3fd 81.4%,#c1daf8 82.0%,#b7d4f6 82.7%,#d0e3f9 83.3%,#f4f9fe 84.0%,#fde7e7 84.6%,#facbcb 85.3%,#f9c3c3 85.9%,#fce7e7 86.6%,#fdefef 87.3%,#fffdfd 87.9%,#deecfb 88.6%,#c9dff9 89.2%,#e7f1fc 89.9%,#fde8e8 90.5%,#facdcd 91.2%,#f6a8a8 91.8%,#f49292 92.5%,#f49191 93.1%,#f6a6a6 93.8%,#f8b7b7 94.4%,#fbdbdb 95.1%,#fdebeb 95.8%,#fad2d2 96.4%,#f7b4b4 97.1%,#f7b1b1 97.7%,#f8b7b7 98.4%,#f8bdbd 99.0%,#f8bbbb 99.7%)"></div><div style="position:absolute;left:0;top:71.31px;width:306.0px;height:3.57px;background:linear-gradient(90deg,#f49999 0.3%,#f7afaf 1.0%,#f7b6b6 1.6%,#f7b1b1 2.3%,#f7afaf 2.9%,#f7b6b6 3.6%,#fbd8d8 4.2%,#fef5f5 4.9%,#fef6f6 5.6%,#fafcfe 6.2%,#d8e8fa 6.9%,#c5dcf8 7.5%,#adcef5 8.2%,#a7cbf5 8.8%,#b0d0f6 9.5%,#bbd6f7 10.1%,#b9d5f7 10.8%,#cde1f9 11.4%,#e7f1fc 12.1%,#fcfdff 12.7%,#fef4f4 13.4%,#fce6e6 14.1%,#fef7f7 14.7%,#f5f9fe 15.4%,#e2eefc 16.0%,#c3dbf8 16.7%,#b6d3f6 17.3%,#c8dff9 18.0%,#e6f0fc 18.6%,#f4f8fe 19.3%,#fffbfb 19.9%,#fbd7d7 20.6%,#fbd6d6 21.2%,#fbdada 21.9%,#facece 22.5%,#f8bcbc 23.2%,#f8bdbd 23.9%,#f9c7c7 24.5%,#f8bfbf 25.2%,#fbd4d4 25.8%,#fdecec 26.5%,#e9f2fc 27.1%,#d6e7fa 27.8%,#d2e4fa 28.4%,#c5dcf8 29.1%,#b1d1f6 29.7%,#cae0f9 30.4%,#dfecfb 31.0%,#fcfdff 31.7%,#fef7f7 32.4%,#fdebeb 33.0%,#fbfdff 33.7%,#edf4fd 34.3%,#d0e3f9 35.0%,#b4d2f6 35.6%,#bfd9f7 36.3%,#c2dbf8 36.9%,#b3d2f6 37.6%,#c4dcf8 38.2%,#c6ddf8 38.9%,#bcd7f7 39.5%,#bdd8f7 40.2%,#c1daf8 40.8%,#c8def8 41.5%,#c6ddf8 42.2%,#c6ddf8 42.8%,#d4e5fa 43.5%,#e0edfb 44.1%,#eaf2fc 44.8%,#e9f2fc 45.4%,#d5e6fa 46.1%,#d7e7fa 46.7%,#b9d5f7 47.4%,#aecff5 48.0%,#c7def8 48.7%,#dbe9fb 49.3%,#d7e7fa 50.0%,#e3eefc 50.7%,#edf5fd 51.3%,#f3f8fe 52.0%,#dceafb 52.6%,#cfe2f9 53.3%,#b8d5f7 53.9%,#b4d2f6 54.6%,#b0d0f6 55.2%,#abcdf5 55.9%,#b0d0f6 56.5%,#bdd8f7 57.2%,#b3d2f6 57.8%,#aecff5 58.5%,#b2d1f6 59.2%,#c2dbf8 59.8%,#d5e6fa 60.5%,#cfe2f9 61.1%,#c7ddf8 61.8%,#d7e7fa 62.4%,#dbeafb 63.1%,#cbe0f9 63.7%,#d2e4fa 64.4%,#ebf3fd 65.0%,#f7fafe 65.7%,#facfcf 66.3%,#f9c3c3 67.0%,#fce5e5 67.6%,#fef2f2 68.3%,#fafcfe 69.0%,#f1f7fd 69.6%,#edf4fd 70.3%,#f3f8fe 70.9%,#fdefef 71.6%,#fbd7d7 72.2%,#facbcb 72.9%,#facbcb 73.5%,#fde9e9 74.2%,#fce1e1 74.8%,#fef4f4 75.5%,#fafcfe 76.1%,#d6e7fa 76.8%,#cadff9 77.5%,#cde1f9 78.1%,#deebfb 78.8%,#dceafb 79.4%,#d5e6fa 80.1%,#dae9fb 80.7%,#d0e3f9 81.4%,#b3d2f6 82.0%,#adcef5 82.7%,#dae9fb 83.3%,#fdfeff 84.0%,#fce6e6 84.6%,#f9caca 85.3%,#f8c0c0 85.9%,#fdecec 86.6%,#fef1f1 87.3%,#fdfeff 87.9%,#dfecfb 88.6%,#c2dbf8 89.2%,#e2eefc 89.9%,#fef5f5 90.5%,#fce5e5 91.2%,#f9c6c6 91.8%,#f7b5b5 92.5%,#f8bebe 93.1%,#fad1d1 93.8%,#fef2f2 94.4%,#e7f1fc 95.1%,#e3eefc 95.8%,#fffdfd 96.4%,#fbd5d5 97.1%,#f8bfbf 97.7%,#f7b6b6 98.4%,#f8b9b9 99.0%,#f9c1c1 99.7%)"></div><div style="position:absolute;left:0;top:74.29px;width:306.0px;height:3.57px;background:linear-gradient(90deg,#f7b6b6 0.3%,#f9c3c3 1.0%,#f9c4c4 1.6%,#f6acac 2.3%,#f6acac 2.9%,#facece 3.6%,#facece 4.2%,#facbcb 4.9%,#fbdada 5.6%,#fffefe 6.2%,#e9f2fc 6.9%,#c8def8 7.5%,#b0d0f6 8.2%,#bbd6f7 8.8%,#bfd9f7 9.5%,#bad6f7 10.1%,#c3dbf8 10.8%,#d0e3f9 11.4%,#ddebfb 12.1%,#e3eefc 12.7%,#f1f6fd 13.4%,#f1f6fd 14.1%,#e0edfb 14.7%,#d9e8fa 15.4%,#d0e3f9 16.0%,#b6d4f6 16.7%,#bdd8f7 17.3%,#cee2f9 18.0%,#d8e8fa 18.6%,#e8f2fc 19.3%,#fef4f4 19.9%,#fef1f1 20.6%,#fef6f6 21.2%,#fce4e4 21.9%,#fad0d0 22.5%,#f8bebe 23.2%,#f9c1c1 23.9%,#f9c5c5 24.5%,#fbd5d5 25.2%,#fefeff 25.8%,#e1edfb 26.5%,#d8e8fa 27.1%,#cee2f9 27.8%,#d1e4fa 28.4%,#cde1f9 29.1%,#c7ddf8 29.7%,#d9e8fa 30.4%,#ddebfb 31.0%,#e6f0fc 31.7%,#f1f7fd 32.4%,#eef5fd 33.0%,#dceafb 33.7%,#d2e4fa 34.3%,#b9d5f7 35.0%,#c4dcf8 35.6%,#bcd7f7 36.3%,#b4d3f6 36.9%,#c2dbf8 37.6%,#c7def8 38.2%,#b9d5f7 38.9%,#b2d1f6 39.5%,#b0d0f6 40.2%,#accdf5 40.8%,#a4c9f4 41.5%,#a4c9f4 42.2%,#bcd7f7 42.8%,#c6ddf8 43.5%,#d4e5fa 44.1%,#d1e4fa 44.8%,#cee2f9 45.4%,#cfe2f9 46.1%,#b9d6f7 46.7%,#adcef5 47.4%,#c9dff9 48.0%,#d6e7fa 48.7%,#d7e7fa 49.3%,#e9f2fc 50.0%,#fffefe 50.7%,#fde9e9 51.3%,#fdeaea 52.0%,#f4f8fe 52.6%,#e8f1fc 53.3%,#dfecfb 53.9%,#d5e6fa 54.6%,#cbe0f9 55.2%,#cce1f9 55.9%,#d3e5fa 56.5%,#cbe0f9 57.2%,#c1daf8 57.8%,#bbd7f7 58.5%,#cbe0f9 59.2%,#e5effc 59.8%,#cbe0f9 60.5%,#bbd7f7 61.1%,#cee2f9 61.8%,#d0e3f9 62.4%,#dbe9fb 63.1%,#e2eefc 63.7%,#f8fbfe 64.4%,#fde8e8 65.0%,#f9c8c8 65.7%,#f7b6b6 66.3%,#f9c8c8 67.0%,#fcdddd 67.6%,#fce4e4 68.3%,#fce5e5 69.0%,#fdeded 69.6%,#fef1f1 70.3%,#fef1f1 70.9%,#fad3d3 71.6%,#fce0e0 72.2%,#fdeeee 72.9%,#fef6f6 73.5%,#fdf0f0 74.2%,#fffbfb 74.8%,#edf4fd 75.5%,#d4e5fa 76.1%,#b5d3f6 76.8%,#b8d5f7 77.5%,#c1daf8 78.1%,#c8def8 78.8%,#bbd7f7 79.4%,#c8def8 80.1%,#c7def8 80.7%,#b5d3f6 81.4%,#c4dcf8 82.0%,#d8e8fa 82.7%,#f4f8fe 83.3%,#fef5f5 84.0%,#fce6e6 84.6%,#fef2f2 85.3%,#fdebeb 85.9%,#fef5f5 86.6%,#fef6f6 87.3%,#edf4fd 87.9%,#cde1f9 88.6%,#bbd6f7 89.2%,#d7e7fa 89.9%,#e2eefc 90.5%,#eff6fd 91.2%,#fcdfdf 91.8%,#fbd9d9 92.5%,#fde8e8 93.1%,#fafcfe 93.8%,#d2e4fa 94.4%,#b5d3f6 95.1%,#d6e6fa 95.8%,#fdfeff 96.4%,#fce0e0 97.1%,#fad2d2 97.7%,#f8b7b7 98.4%,#f8baba 99.0%,#f8bbbb 99.7%)"></div><div style="position:absolute;left:0;top:77.26px;width:306.0px;height:3.57px;background:linear-gradient(90deg,#f8bcbc 0.3%,#f8c0c0 1.0%,#f8bcbc 1.6%,#f6aaaa 2.3%,#f6acac 2.9%,#f9c2c2 3.6%,#fad0d0 4.2%,#f9c6c6 4.9%,#fbd4d4 5.6%,#fdeeee 6.2%,#fffdfd 6.9%,#e1edfb 7.5%,#cbe0f9 8.2%,#cce1f9 8.8%,#cbe0f9 9.5%,#c3dbf8 10.1%,#c4dcf8 10.8%,#c4dcf8 11.4%,#d2e4fa 12.1%,#d1e4fa 12.7%,#d3e5fa 13.4%,#d5e6fa 14.1%,#d3e5fa 14.7%,#cfe2f9 15.4%,#c2dbf8 16.0%,#b0d0f6 16.7%,#bad6f7 17.3%,#cfe2f9 18.0%,#d5e6fa 18.6%,#ebf3fd 19.3%,#fef4f4 19.9%,#fdf0f0 20.6%,#fef7f7 21.2%,#fce6e6 21.9%,#facccc 22.5%,#f8bfbf 23.2%,#f9c6c6 23.9%,#facfcf 24.5%,#fdeded 25.2%,#e4effc 25.8%,#bfd9f7 26.5%,#bbd7f7 27.1%,#c7ddf8 27.8%,#d7e7fa 28.4%,#e0edfb 29.1%,#ecf4fd 29.7%,#eff6fd 30.4%,#e6f0fc 31.0%,#deecfb 31.7%,#ddebfb 32.4%,#cee2f9 33.0%,#c8dff9 33.7%,#c0d9f7 34.3%,#b2d1f6 35.0%,#c4dcf8 35.6%,#bed8f7 36.3%,#b7d4f6 36.9%,#c3dbf8 37.6%,#c5ddf8 38.2%,#b7d4f6 38.9%,#b2d1f6 39.5%,#b1d1f6 40.2%,#b3d2f6 40.8%,#a5c9f4 41.5%,#a8ccf5 42.2%,#b7d4f6 42.8%,#c7def8 43.5%,#d7e7fa 44.1%,#d4e6fa 44.8%,#cee2f9 45.4%,#c3dbf8 46.1%,#b9d6f7 46.7%,#a9ccf5 47.4%,#c6ddf8 48.0%,#ddebfb 48.7%,#e3eefc 49.3%,#f0f6fd 50.0%,#fde7e7 50.7%,#fad2d2 51.3%,#f9c8c8 52.0%,#fce6e6 52.6%,#fef6f6 53.3%,#fef7f7 53.9%,#f7fbfe 54.6%,#e9f2fc 55.2%,#eaf2fc 55.9%,#ecf4fd 56.5%,#e4effc 57.2%,#d8e8fa 57.8%,#d8e8fa 58.5%,#e0edfb 59.2%,#e1edfb 59.8%,#cde1f9 60.5%,#c1daf8 61.1%,#d8e8fa 61.8%,#e7f1fc 62.4%,#eaf3fd 63.1%,#fffbfb 63.7%,#fdebeb 64.4%,#fbdddd 65.0%,#facfcf 65.7%,#f9c8c8 66.3%,#fce5e5 67.0%,#fef3f3 67.6%,#fdf0f0 68.3%,#fdeaea 69.0%,#fbdcdc 69.6%,#fad2d2 70.3%,#fbd7d7 70.9%,#fce5e5 71.6%,#fefafa 72.2%,#e2eefc 72.9%,#d1e3f9 73.5%,#ebf3fd 74.2%,#f0f6fd 74.8%,#eef5fd 75.5%,#e9f2fc 76.1%,#d0e3f9 76.8%,#d9e8fa 77.5%,#d5e6fa 78.1%,#c7def8 78.8%,#b9d5f7 79.4%,#d1e4fa 80.1%,#e5f0fc 80.7%,#e2eefc 81.4%,#f4f8fe 82.0%,#fce1e1 82.7%,#fce7e7 83.3%,#fce3e3 84.0%,#fef9f9 84.6%,#e9f2fc 85.3%,#d3e5fa 85.9%,#d9e8fa 86.6%,#ebf3fd 87.3%,#d9e9fb 87.9%,#bfd9f7 88.6%,#bcd7f7 89.2%,#cde1f9 89.9%,#c7def8 90.5%,#cbe0f9 91.2%,#e2eefc 91.8%,#e9f2fc 92.5%,#e3eefc 93.1%,#dae9fb 93.8%,#c6ddf8 94.4%,#b7d4f6 95.1%,#cee2f9 95.8%,#fafcfe 96.4%,#fce1e1 97.1%,#fad0d0 97.7%,#f7b3b3 98.4%,#f8bdbd 99.0%,#f8b9b9 99.7%)"></div><div style="position:absolute;left:0;top:80.23px;width:306.0px;height:3.57px;background:linear-gradient(90deg,#f9c4c4 0.3%,#f9c3c3 1.0%,#f6acac 1.6%,#f7b1b1 2.3%,#f9c5c5 2.9%,#fbd5d5 3.6%,#f8bebe 4.2%,#f8c0c0 4.9%,#fbd5d5 5.6%,#fcdfdf 6.2%,#fef7f7 6.9%,#e9f2fc 7.5%,#eaf2fc 8.2%,#e2edfb 8.8%,#e0ecfb 9.5%,#d2e4fa 10.1%,#d4e5fa 10.8%,#c9dff9 11.4%,#c6ddf8 12.1%,#bed9f7 12.7%,#c5dcf8 13.4%,#c7ddf8 14.1%,#c1daf8 14.7%,#bad6f7 15.4%,#b1d1f6 16.0%,#b6d4f6 16.7%,#c0daf8 17.3%,#c7def8 18.0%,#e1edfb 18.6%,#fafcfe 19.3%,#fefeff 19.9%,#fffbfb 20.6%,#fdefef 21.2%,#fbd9d9 21.9%,#facccc 22.5%,#f8bebe 23.2%,#f8b7b7 23.9%,#fbd4d4 24.5%,#f0f6fd 25.2%,#cbe0f9 25.8%,#abcdf5 26.5%,#b1d1f6 27.1%,#d1e4fa 27.8%,#e0ecfb 28.4%,#e5f0fc 29.1%,#fefafa 29.7%,#f7fafe 30.4%,#e5effc 31.0%,#dfecfb 31.7%,#cfe2f9 32.4%,#bcd7f7 33.0%,#b8d5f7 33.7%,#adcff5 34.3%,#bdd8f7 35.0%,#c0d9f7 35.6%,#b8d5f7 36.3%,#c1daf8 36.9%,#cbe0f9 37.6%,#b7d4f6 38.2%,#b4d2f6 38.9%,#b0d0f6 39.5%,#adcef5 40.2%,#aaccf5 40.8%,#a9ccf5 41.5%,#afd0f6 42.2%,#c4dcf8 42.8%,#d3e5fa 43.5%,#d1e4fa 44.1%,#cbe0f9 44.8%,#d0e3f9 45.4%,#b5d3f6 46.1%,#aacdf5 46.7%,#c4dcf8 47.4%,#d7e7fa 48.0%,#c8def8 48.7%,#e4effc 49.3%,#fffcfc 50.0%,#fad2d2 50.7%,#f9c1c1 51.3%,#f9c4c4 52.0%,#fce0e0 52.6%,#fbdbdb 53.3%,#fdf0f0 53.9%,#f4f9fe 54.6%,#ffffff 55.2%,#fef8f8 55.9%,#f9fcfe 56.5%,#eef5fd 57.2%,#f0f6fd 57.8%,#f8fbfe 58.5%,#fcfdff 59.2%,#e3eefc 59.8%,#c0daf8 60.5%,#c4dcf8 61.1%,#d5e6fa 61.8%,#d8e8fa 62.4%,#eff6fd 63.1%,#fce1e1 63.7%,#fad3d3 64.4%,#f8bfbf 65.0%,#f9c2c2 65.7%,#fdeaea 66.3%,#fcfdff 67.0%,#fffcfc 67.6%,#fdf0f0 68.3%,#fce3e3 69.0%,#fbd4d4 69.6%,#f8baba 70.3%,#f9c6c6 70.9%,#fdeded 71.6%,#dfecfb 72.2%,#c2dbf8 72.9%,#c7def8 73.5%,#d6e7fa 74.2%,#e1edfb 74.8%,#e0edfb 75.5%,#ddebfb 76.1%,#f0f6fd 76.8%,#f0f6fd 77.5%,#e2eefc 78.1%,#cbe0f9 78.8%,#cbe0f9 79.4%,#cee2f9 80.1%,#d8e8fa 80.7%,#f2f7fd 81.4%,#fcdfdf 82.0%,#f8b9b9 82.7%,#f9c5c5 83.3%,#fbdbdb 84.0%,#f3f8fe 84.6%,#d8e8fa 85.3%,#c1daf8 85.9%,#cbe0f9 86.6%,#d2e4fa 87.3%,#b9d6f7 87.9%,#bbd7f7 88.6%,#c1daf8 89.2%,#b3d2f6 89.9%,#b9d6f7 90.5%,#c3dbf8 91.2%,#d0e3f9 91.8%,#d3e5fa 92.5%,#d2e5fa 93.1%,#bad6f7 93.8%,#b0d0f6 94.4%,#bed9f7 95.1%,#e9f2fc 95.8%,#fcfdff 96.4%,#fdefef 97.1%,#fbd8d8 97.7%,#f8bebe 98.4%,#f8b7b7 99.0%,#facfcf 99.7%)"></div></div></div></div>
<div style="position:absolute;left:0;top:0">
<svg width="685" height="643" viewBox="0 0 685 643" font-family="'Liberation Sans', Arial, Helvetica, sans-serif">
<path d="M39.9 83.2l1.3 -0.4M49.6 83.6l0.3 -1.2M58.5 83.6l0.9 -1.1M67.5 83.2l1.4 -0.4M76.8 83.1l1.2 -0.2M85.9 83.5l1.2 -0.8M95.1 82.8l1.3 0.5M103.8 82.6l2.3 0.9M112.9 82.4l2.5 1.3M122.4 82.4l2.0 1.3M132.0 82.4l1.0 1.2M141.1 82.8l1.3 0.5M150.3 83.2l1.3 -0.3M159.8 83.5l0.8 -0.9M169.0 82.6l0.7 0.9M178.9 83.5l-0.8 -0.8M188.2 83.5l-0.8 -0.9M197.6 83.0l-1.2 -0.0M206.8 83.0l-1.3 0.2M215.0 82.6l0.8 0.9M225.1 83.3l-1.1 -0.6M234.3 82.5l-1.1 1.0M243.7 82.8l-1.5 0.5M253.1 82.2l-1.9 1.6M262.5 82.3l-2.4 1.6M271.5 82.5l-1.9 1.0M280.5 82.9l-1.5 0.3M289.5 82.7l-1.1 0.6M298.2 82.5l-0.1 1.2M307.7 82.6l-0.7 1.0M317.1 82.6l-1.0 0.8M326.1 83.5l-0.8 -0.8M335.2 83.6l-0.4 -1.0M46.1 85.7l1.1 0.8M55.2 86.4l1.4 -0.6M65.5 86.5l-0.8 -0.9M73.8 85.7l1.0 0.8M83.1 86.7l0.8 -1.1M92.2 85.7l1.0 0.9M101.0 85.5l1.9 1.2M109.7 85.3l2.7 1.6M119.0 85.3l2.6 1.7M128.5 85.6l1.9 1.1M138.1 85.7l1.2 0.9M147.4 85.7l1.0 0.9M156.4 86.0l1.3 0.2M165.9 86.6l0.7 -0.9M174.9 86.1l1.2 0.1M185.2 86.0l-1.1 0.2M194.4 85.8l-1.0 0.7M203.5 85.7l-0.9 0.9M212.7 85.7l-0.8 0.9M222.2 86.0l-1.3 0.2M231.3 86.2l-1.2 -0.1M240.7 85.7l-1.6 0.8M250.3 85.5l-2.4 1.3M259.6 85.4l-2.5 1.4M268.7 85.6l-2.3 1.1M277.5 86.0l-1.6 0.2M286.2 85.6l-0.6 1.0M295.6 86.5l-1.0 -0.7M304.2 85.5l0.2 1.3M314.2 85.8l-1.3 0.6M322.2 85.9l1.1 0.5M332.5 85.8l-1.2 0.6M43.2 89.6l0.8 -0.8M53.1 88.7l-0.5 1.0M61.4 89.4l1.2 -0.4M70.7 89.6l1.0 -0.8M79.8 89.1l1.3 0.1M89.0 89.0l1.2 0.3M98.0 88.7l1.7 1.0M106.7 88.4l2.7 1.6M115.7 88.2l3.0 2.0M125.1 88.3l2.6 1.7M134.7 89.0l1.8 0.3M144.1 88.6l1.3 1.2M153.4 89.1l1.3 0.2M162.6 89.2l1.2 -0.0M172.1 89.7l0.6 -1.0M181.8 89.7l-0.3 -1.1M190.7 89.7l0.2 -1.1M200.4 89.6l-0.7 -0.8M209.2 88.6l0.1 1.1M218.1 89.8l0.6 -1.1M228.3 88.8l-1.3 0.8M237.4 88.7l-1.1 1.0M247.2 88.5l-2.3 1.3M256.5 88.3l-2.6 1.7M265.7 88.4l-2.5 1.5M274.6 88.7l-2.0 1.0M283.2 88.6l-0.8 1.1M292.6 89.4l-1.1 -0.5M301.7 88.9l-1.0 0.6M311.0 89.2l-1.2 -0.1M319.3 88.7l0.6 1.0M328.4 88.7l0.9 0.9M40.1 92.8l0.8 -1.0M49.2 92.1l1.2 0.4M58.4 91.9l1.1 0.7M67.8 91.7l0.6 1.0M77.2 91.6l0.2 1.3M86.6 92.9l-0.2 -1.2M95.2 92.1l1.1 0.4M104.1 91.4l1.7 1.7M112.7 91.5l2.9 1.5M121.7 91.4l3.3 1.8M131.5 91.4l2.1 1.7M140.8 91.9l1.8 0.8M150.2 92.0l1.5 0.5M159.5 92.1l1.4 0.4M168.7 92.2l1.3 0.1M178.8 91.6l-0.5 1.3M188.3 92.4l-1.1 -0.3M197.5 92.3l-1.2 -0.2M206.7 92.0l-1.0 0.5M215.6 91.6l-0.4 1.3M225.3 92.2l-1.4 0.0M234.7 91.9l-2.0 0.7M244.3 91.5l-2.8 1.6M253.7 91.4l-3.1 1.7M262.8 91.6l-2.8 1.3M271.6 91.6l-2.1 1.2M280.4 92.1l-1.2 0.4M288.6 92.8l0.6 -1.0M298.8 92.3l-1.2 -0.2M308.1 91.9l-1.4 0.8M316.8 92.8l-0.5 -1.1M325.2 92.0l1.1 0.5M335.0 92.8l-0.1 -1.1M46.4 95.9l0.6 -1.1M55.3 95.5l1.2 -0.3M64.7 94.8l0.7 1.0M73.7 95.2l1.1 0.3M83.0 95.6l1.0 -0.6M92.1 94.8l1.1 1.0M101.1 94.8l1.6 1.1M109.9 94.7l2.3 1.3M118.9 94.2l2.8 2.3M128.0 94.2l2.9 2.2M137.6 94.7l2.1 1.3M147.1 94.8l1.5 1.1M156.5 95.0l1.2 0.7M165.7 95.1l1.1 0.5M176.0 95.2l-1.1 0.2M185.2 95.4l-1.1 -0.2M193.7 95.9l0.4 -1.1M203.7 95.4l-1.1 -0.2M212.7 94.8l-0.8 1.0M222.2 94.9l-1.5 0.8M231.4 94.9l-1.5 0.8M241.2 94.7l-2.7 1.3M250.6 94.2l-3.0 2.2M259.7 94.6l-2.8 1.5M268.4 94.8l-1.9 1.0M277.2 94.8l-1.0 1.0M285.5 95.8l0.7 -0.9M294.4 95.1l1.3 0.5M304.8 95.5l-1.1 -0.3M314.0 95.6l-1.1 -0.6M323.1 95.7l-0.9 -0.8M332.0 95.9l-0.3 -1.1M43.2 98.0l0.9 0.8M52.9 97.8l-0.2 1.2M61.9 97.8l0.3 1.2M70.8 97.9l0.8 0.9M81.0 98.5l-1.1 -0.1M88.9 98.5l1.3 -0.2M98.6 98.9l0.4 -1.1M107.3 98.1l1.4 0.6M116.0 97.4l2.5 2.0M124.9 97.3l3.0 2.1M134.2 97.5l2.8 1.8M143.8 97.8l2.0 1.3M153.2 98.2l1.6 0.4M162.6 98.0l1.2 0.8M172.2 97.8l0.4 1.1M182.1 98.8l-0.9 -0.8M190.7 98.9l0.3 -1.1M200.5 98.7l-1.1 -0.6M209.7 98.0l-1.1 0.9M219.3 98.0l-1.7 0.7M228.6 97.7l-1.9 1.3M238.1 97.9l-2.6 0.9M247.4 97.4l-2.9 2.0M256.5 97.6l-2.7 1.5M265.3 97.8l-1.8 1.1M273.9 97.8l-0.6 1.2M282.2 98.6l1.1 -0.5M292.7 98.2l-1.3 0.4M300.7 98.2l1.1 0.3M311.1 98.5l-1.3 -0.2M319.3 98.9l0.5 -1.0M329.4 98.5l-1.1 -0.3M41.0 101.8l-0.9 -0.7M50.1 100.9l-0.7 1.1M59.0 100.9l-0.2 1.1M68.5 101.0l-0.7 1.0M77.9 101.1l-1.1 0.7M86.4 100.8l0.3 1.3M96.0 100.9l-0.5 1.0M104.3 100.9l1.3 1.1M113.2 100.8l1.8 1.3M122.2 100.6l2.3 1.6M130.9 100.3l3.2 2.3M140.4 100.3l2.6 2.2M149.8 100.9l2.3 1.2M159.6 101.3l1.1 0.4M169.3 100.8l0.2 1.3M178.4 102.1l0.4 -1.3M187.8 100.8l-0.2 1.3M197.4 101.8l-0.9 -0.7M205.8 101.0l0.8 0.9M216.1 101.0l-1.4 0.9M225.5 100.9l-2.0 1.1M234.9 100.5l-2.4 2.0M244.3 100.5l-2.8 1.9M253.3 100.7l-2.3 1.6M262.2 100.8l-1.6 1.4M270.9 100.8l-0.8 1.4M280.0 102.0l-0.4 -1.1M289.4 101.0l-1.0 0.9M298.6 101.1l-1.0 0.6M307.8 101.1l-1.0 0.8M316.8 100.9l-0.6 1.1M326.1 101.0l-0.7 1.0M334.6 101.9l0.6 -1.0M46.1 104.9l1.1 -0.6M56.2 104.0l-0.7 1.0M65.4 105.0l-0.7 -0.9M74.3 105.1l-0.1 -1.2M82.9 104.2l1.1 0.6M92.1 104.3l1.1 0.4M101.5 103.9l0.8 1.2M110.3 104.2l1.6 0.7M119.2 103.9l2.2 1.3M128.1 103.4l2.8 2.3M137.2 103.6l3.0 1.9M146.8 103.8l2.1 1.4M156.2 104.0l1.8 1.0M165.6 104.4l1.4 0.3M175.6 103.9l-0.3 1.2M184.1 104.2l1.1 0.6M193.6 103.9l0.6 1.2M203.6 104.4l-1.1 0.2M212.9 104.0l-1.3 1.1M222.5 103.8l-2.1 1.5M232.2 103.8l-3.1 1.6M241.3 103.9l-2.8 1.4M250.4 103.8l-2.6 1.5M259.3 104.0l-2.0 1.0M268.2 104.3l-1.4 0.5M277.2 104.2l-1.0 0.6M286.4 104.4l-1.1 0.3M295.5 104.2l-0.9 0.7M303.7 104.4l1.2 0.3M313.5 105.1l-0.1 -1.2M322.3 105.0l0.7 -1.0M332.4 104.2l-1.0 0.7M43.5 107.0l0.3 1.2M52.2 107.7l1.2 -0.3M61.9 107.0l0.2 1.3M70.7 107.2l1.0 0.8M79.8 107.8l1.2 -0.3M89.3 107.0l0.6 1.1M98.1 107.7l1.3 -0.2M107.6 107.1l0.9 1.0M116.5 107.1l1.4 0.9M125.2 106.9l2.3 1.4M134.4 106.6l2.5 2.1M143.4 106.7l2.9 1.9M153.0 106.6l1.9 2.0M162.6 107.1l1.1 0.9M172.1 107.0l0.5 1.3M181.0 107.9l1.1 -0.6M190.9 108.2l-0.3 -1.2M200.0 108.2l-0.1 -1.1M209.9 106.9l-1.3 1.4M219.5 106.7l-2.2 1.9M229.1 106.6l-3.0 1.9M238.1 106.7l-2.6 1.8M247.0 106.8l-1.9 1.7M256.0 106.7l-1.7 1.9M264.8 107.1l-0.9 1.0M274.2 107.4l-1.3 0.4M283.2 107.1l-0.8 0.9M291.9 106.9l0.1 1.3M301.2 107.0l-0.1 1.2M309.9 107.5l1.1 0.2M319.8 107.0l-0.3 1.2M328.3 107.9l0.9 -0.7M41.1 110.6l-1.2 0.1M49.1 110.6l1.2 0.2M58.3 110.8l1.3 -0.3M68.1 111.3l0.2 -1.3M77.9 110.7l-1.1 -0.0M86.3 110.0l0.4 1.3M95.6 110.0l0.2 1.3M104.5 110.2l0.8 1.0M113.8 110.0l0.7 1.3M122.7 110.0l1.2 1.3M131.5 109.9l2.1 1.5M140.4 109.7l2.6 2.0M149.5 109.6l2.9 2.0M159.3 109.6l1.7 2.1M168.8 110.0l1.1 1.4M177.9 110.6l1.2 0.2M188.4 110.8l-1.3 -0.3M196.4 110.6l1.1 0.2M206.7 110.1l-1.1 1.2M216.4 110.0l-2.2 1.3M225.8 109.7l-2.6 2.0M235.0 109.7l-2.5 1.9M243.9 110.0l-1.9 1.4M252.8 110.4l-1.4 0.6M261.9 110.2l-1.2 0.9M271.0 110.4l-1.0 0.6M280.0 110.1l-0.5 1.1M289.3 110.2l-0.8 0.9M298.7 110.7l-1.2 -0.1M307.0 110.1l0.7 1.1M317.0 110.2l-0.9 0.9M326.2 110.3l-0.9 0.8M335.5 111.0l-1.2 -0.6M47.2 113.5l-1.0 0.5M55.4 113.3l1.0 0.9M64.6 113.3l1.0 1.0M74.7 113.4l-0.9 0.7M82.9 113.5l1.1 0.5M92.7 114.3l-0.1 -1.2M101.8 114.4l0.1 -1.3M110.6 114.0l1.0 -0.5M119.6 113.4l1.3 0.6M128.7 113.0l1.5 1.6M137.6 112.8l2.2 1.8M146.6 112.6l2.5 2.2M155.7 112.6l2.7 2.4M165.6 112.9l1.4 1.8M175.0 113.2l0.9 1.1M184.6 113.1l0.2 1.2M194.1 113.2l-0.6 1.0M203.7 112.8l-1.3 1.8M213.2 112.9l-1.8 1.7M222.8 112.6l-2.7 2.2M231.9 112.8l-2.5 1.9M240.9 113.1l-2.1 1.3M249.8 113.2l-1.4 1.0M258.8 113.4l-1.1 0.7M267.2 113.1l0.4 1.2M277.3 113.7l-1.2 0.0M286.2 113.2l-0.6 1.1M295.1 113.1l-0.1 1.3M304.7 113.4l-0.9 0.7M313.9 113.2l-0.8 1.0M322.9 114.3l-0.4 -1.1M332.1 114.4l-0.4 -1.3M43.6 116.2l0.0 1.1M52.7 116.2l0.2 1.3M62.1 116.2l-0.2 1.2M70.8 116.4l0.7 0.9M80.9 116.4l-1.1 0.8M89.9 116.3l-0.7 0.9M99.3 116.4l-1.0 0.8M107.8 116.3l0.5 1.1M117.0 116.2l0.4 1.3M125.7 116.3l1.3 1.1M134.4 116.3l2.5 1.1M143.6 116.0l2.5 1.7M152.5 115.7l3.0 2.2M162.4 115.7l1.6 2.1M210.2 115.6l-2.0 2.4M219.9 115.8l-3.1 2.1M228.9 116.0l-2.5 1.6M237.6 116.1l-1.7 1.4M246.6 116.4l-1.2 0.8M255.0 116.2l0.5 1.1M263.8 116.6l1.1 0.4M273.0 116.8l1.1 -0.1M283.4 116.9l-1.2 -0.1M292.1 116.3l-0.2 1.1M300.6 117.0l1.2 -0.4M310.7 116.2l-0.6 1.2M319.3 117.4l0.5 -1.1M328.5 116.3l0.6 1.0M41.2 119.8l-1.3 0.1M49.7 119.3l0.0 1.2M58.5 119.5l0.9 0.8M67.6 119.6l1.0 0.7M77.9 120.0l-1.2 -0.1M86.2 120.4l0.5 -1.1M95.2 120.1l1.1 -0.4M105.0 119.3l-0.3 1.2M113.6 120.2l1.1 -0.7M123.2 119.3l0.2 1.2M132.1 119.2l0.9 1.4M141.0 119.0l1.3 1.7M149.6 118.8l2.7 2.2M158.7 118.6l2.9 2.5M206.9 118.7l-1.5 2.3M216.5 118.6l-2.4 2.5M225.6 118.8l-2.1 2.1M234.7 119.3l-2.0 1.2M243.5 119.4l-1.1 1.0M252.5 119.2l-0.7 1.4M261.3 119.2l0.0 1.4M271.1 120.1l-1.1 -0.4M279.5 119.4l0.4 1.0M288.3 119.6l1.3 0.6M297.6 119.6l1.1 0.6M307.6 119.3l-0.5 1.1M316.4 119.3l0.2 1.2M326.3 119.8l-1.1 0.2M335.5 119.7l-1.1 0.4M46.4 122.4l0.5 1.1M55.9 122.4l-0.0 1.1M65.0 122.3l0.1 1.2M74.3 122.3l-0.0 1.2M83.5 122.3l-0.1 1.3M92.8 122.4l-0.4 1.2M101.7 122.3l0.3 1.2M110.6 122.4l0.9 1.0M119.7 123.1l1.1 -0.3M129.1 122.2l0.7 1.5M138.1 122.4l1.1 1.0M146.9 122.0l1.8 2.0M155.7 121.6l2.6 2.6M165.3 121.3l2.0 3.3M213.3 121.2l-2.2 3.6M222.4 121.9l-1.9 2.1M231.3 122.3l-1.4 1.3M240.5 122.4l-1.2 1.0M249.6 122.8l-1.1 0.3M258.6 122.5l-0.8 0.9M267.3 122.4l0.3 1.1M276.4 122.4l0.4 1.1M285.3 123.3l1.0 -0.7M294.7 122.4l0.8 1.2M304.2 122.3l0.0 1.3M312.9 122.7l1.0 0.5M322.6 122.3l0.1 1.3M331.7 122.3l0.2 1.3M43.5 125.4l0.1 1.2M53.2 125.6l-0.8 0.9M62.1 125.3l-0.2 1.4M70.8 125.7l0.9 0.7M80.2 125.5l0.4 1.1M90.2 125.7l-1.3 0.7M99.2 125.5l-0.9 1.0M108.6 126.2l-1.1 -0.3M116.6 126.2l1.1 -0.4M126.4 125.4l-0.0 1.3M135.1 125.4l0.9 1.3M144.1 125.4l1.4 1.1M152.8 125.0l2.4 2.1M161.9 124.4l2.6 3.3M171.6 124.5l1.6 3.1M181.6 124.6l0.0 2.8M190.8 124.6l-0.1 2.9M200.6 124.6l-1.3 2.9M210.3 124.4l-2.2 3.1M219.2 124.9l-1.7 2.2M228.0 125.2l-0.9 1.6M237.3 125.5l-1.1 1.0M246.4 125.6l-0.9 0.8M254.9 125.5l0.5 1.1M264.0 125.5l0.8 1.1M274.0 125.5l-0.7 1.0M283.1 126.5l-0.6 -0.9M291.7 125.4l0.5 1.2M300.7 125.6l0.9 0.8M309.9 125.6l0.9 0.8M319.4 125.3l0.4 1.4M328.6 126.6l0.3 -1.1M40.6 128.5l-0.3 1.2M49.1 129.0l1.2 0.1M59.0 128.5l-0.1 1.2M68.0 128.4l0.3 1.3M77.7 128.7l-0.9 0.9M86.2 128.5l0.7 1.1M95.6 128.4l0.2 1.4M104.9 128.4l0.1 1.3M114.7 129.1l-1.1 0.1M123.7 128.6l-0.8 1.0M132.3 128.5l0.3 1.1M141.2 128.6l1.1 0.9M150.2 128.3l1.4 1.7M159.2 127.8l1.8 2.6M168.3 127.3l2.1 3.7M178.5 127.5l0.0 3.2M187.7 127.2l0.0 3.7M197.3 127.6l-0.9 3.0M207.0 127.3l-1.9 3.7M216.2 127.8l-1.8 2.6M225.0 128.3l-1.1 1.7M234.2 128.6l-1.0 1.0M243.0 128.5l-0.2 1.2M252.0 128.4l0.2 1.3M260.9 128.6l0.9 0.9M271.1 128.8l-1.2 0.7M279.5 128.5l0.3 1.2M289.0 129.7l-0.2 -1.2M297.8 128.6l0.5 1.1M307.9 128.9l-1.2 0.4M316.8 128.5l-0.5 1.2M325.6 128.4l0.3 1.4M334.5 129.5l0.9 -0.8M47.0 131.6l-0.7 1.2M55.3 131.8l1.0 0.8M64.5 132.2l1.1 -0.1M74.9 132.1l-1.3 0.2M83.7 131.6l-0.4 1.1M92.8 131.6l-0.3 1.2M101.7 131.5l0.3 1.4M111.0 131.4l0.0 1.5M120.6 131.7l-0.7 1.0M129.2 131.6l0.5 1.1M138.1 131.8l1.1 0.8M147.2 131.5l1.2 1.3M156.0 131.1l2.0 2.2M165.3 130.2l1.8 3.8M175.1 130.2l0.7 3.9M184.5 129.9l0.3 4.5M194.4 130.4l-1.1 3.6M203.8 130.1l-1.6 4.1M212.9 130.7l-1.3 2.8M222.1 131.4l-1.3 1.5M231.3 131.8l-1.3 0.7M239.7 131.4l0.3 1.5M249.0 131.4l0.1 1.5M258.1 131.5l0.3 1.2M267.5 131.5l-0.1 1.3M276.8 131.6l-0.2 1.2M286.1 131.6l-0.5 1.2M294.9 132.7l0.3 -1.1M304.5 131.6l-0.4 1.1M314.0 131.7l-1.0 1.0M322.3 131.4l0.6 1.5M331.2 132.1l1.2 0.1M43.3 134.6l0.6 1.2M53.2 134.7l-1.0 1.1M61.7 134.6l0.5 1.2M71.1 134.6l0.2 1.2M79.8 134.9l1.1 0.7M89.7 134.6l-0.2 1.2M98.4 135.6l0.8 -0.8M107.6 134.7l0.8 1.0M117.0 134.6l0.4 1.2M126.4 134.6l-0.2 1.2M135.5 134.6l0.2 1.3M144.3 134.6l0.9 1.2M153.6 134.2l0.7 2.1M162.5 133.7l1.3 3.0M171.5 133.2l1.7 4.0M181.5 132.9l0.1 4.6M191.1 132.7l-0.6 5.0M200.8 133.1l-1.7 4.3M209.9 133.6l-1.5 3.3M218.8 134.3l-0.9 1.9M228.2 134.7l-1.2 1.0M236.9 134.5l-0.3 1.5M246.2 134.6l-0.4 1.4M255.7 134.7l-1.1 1.0M264.2 134.6l0.3 1.2M273.6 134.6l-0.1 1.2M282.6 134.6l0.4 1.2M292.5 134.8l-1.1 0.8M300.6 134.8l1.2 0.8M310.2 134.7l0.3 1.2M319.5 134.6l0.1 1.2M328.9 134.6l-0.2 1.3M40.9 137.9l-0.9 0.8M49.4 137.8l0.5 1.1M59.2 137.7l-0.7 1.2M68.5 137.9l-0.8 0.9M77.6 137.8l-0.6 1.1M86.7 137.7l-0.5 1.1M95.5 137.6l0.3 1.5M105.0 137.7l-0.2 1.3M114.2 137.7l-0.3 1.2M122.9 137.8l0.8 1.0M132.9 137.9l-0.8 0.9M141.8 137.7l-0.3 1.2M150.4 137.9l1.1 0.9M159.7 137.2l0.8 2.2M168.7 136.2l1.3 4.3M178.0 135.7l1.1 5.1M187.9 135.4l-0.5 5.8M197.7 136.1l-1.5 4.4M207.0 136.6l-1.9 3.4M215.9 137.3l-1.2 2.0M225.0 137.8l-1.0 1.0M233.7 137.6l-0.1 1.3M242.9 137.7l0.1 1.3M251.9 137.7l0.4 1.2M261.0 137.8l0.7 0.9M270.7 137.6l-0.3 1.5M279.7 137.7l-0.0 1.2M288.4 137.8l0.9 0.9M298.7 138.3l-1.1 0.1M306.8 138.0l1.0 0.5M316.7 137.7l-0.3 1.3M325.6 137.7l0.2 1.2M335.0 137.7l-0.1 1.3M46.0 141.2l1.3 0.4M55.7 140.6l0.3 1.5M64.5 141.0l1.0 0.7M74.5 140.8l-0.5 1.1M83.9 141.0l-0.9 0.8M92.5 140.8l0.3 1.1M101.5 140.8l0.6 1.1M111.1 140.7l-0.2 1.3M120.1 140.7l0.2 1.3M129.1 140.8l0.6 1.2M138.6 140.7l-0.0 1.4M147.7 140.5l0.2 1.7M156.6 140.4l0.9 1.9M165.4 139.7l1.7 3.3M174.5 139.1l1.8 4.6M184.6 138.6l0.1 5.6M194.3 139.0l-1.0 4.7M203.8 139.5l-1.6 3.8M212.6 140.3l-0.8 2.1M221.2 140.6l0.5 1.4M230.9 140.7l-0.6 1.4M240.0 140.8l-0.4 1.1M249.3 140.8l-0.6 1.2M257.7 141.0l1.1 0.6M268.0 141.2l-1.1 0.4M276.3 140.7l0.6 1.4M285.9 140.7l-0.2 1.3M295.0 140.8l-0.0 1.2M303.9 140.8l0.6 1.2M313.3 140.8l0.3 1.2M322.3 140.9l0.7 1.0M331.8 140.8l0.0 1.2M44.1 144.1l-1.0 0.7M52.9 143.8l-0.3 1.2M62.6 144.3l-1.2 0.2M70.8 143.8l0.8 1.2M80.2 143.7l0.4 1.4M89.4 143.9l0.4 1.2M98.4 144.8l0.8 -0.8M108.3 143.8l-0.6 1.2M117.0 143.9l0.3 1.1M126.2 143.8l0.4 1.3M135.3 143.9l0.6 1.1M145.0 143.9l-0.5 1.2M153.7 143.8l0.6 1.3M162.6 143.2l1.1 2.4M171.5 142.6l1.7 3.6M181.0 141.5l1.1 6.0M191.2 141.8l-0.8 5.3M200.7 142.4l-1.4 4.1M209.8 143.1l-1.2 2.7M218.8 143.7l-0.8 1.4M227.9 143.8l-0.6 1.3M236.5 143.9l0.5 1.1M245.9 143.8l0.1 1.3M254.9 143.8l0.5 1.3M264.1 143.9l0.6 1.0M273.0 144.4l1.1 0.1M282.5 143.8l0.6 1.3M291.4 144.1l1.1 0.6M301.1 143.8l0.1 1.3M310.2 143.9l0.4 1.1M319.4 143.8l0.3 1.2M328.2 144.2l1.1 0.5M40.3 146.9l0.3 1.2M49.3 147.0l0.7 1.0M58.8 146.9l0.1 1.2M68.1 146.9l0.0 1.2M77.4 146.7l-0.1 1.6M87.1 147.4l-1.2 0.1M96.2 147.2l-1.0 0.7M104.9 146.8l0.0 1.4M113.6 147.1l1.0 0.9M123.9 147.1l-1.2 0.8M133.0 147.2l-1.1 0.6M142.1 147.0l-0.7 1.1M151.0 146.8l-0.2 1.3M159.7 146.7l0.8 1.6M168.6 145.8l1.3 3.4M177.9 144.9l1.1 5.1M187.8 144.5l-0.2 6.0M197.5 145.1l-1.2 4.8M206.6 146.1l-1.0 2.7M215.4 146.9l-0.2 1.3M223.9 147.5l1.2 0.1M233.2 147.1l0.9 0.8M242.6 147.0l0.5 1.1M251.8 147.0l0.6 1.0M261.8 147.1l-1.1 0.9M270.9 147.1l-0.8 0.8M279.9 146.8l-0.3 1.5M289.1 146.9l-0.4 1.2M298.4 146.8l-0.6 1.3M307.5 148.1l-0.5 -1.1M315.8 147.5l1.4 0.1M325.3 147.0l0.8 1.1M334.4 147.2l0.9 0.7M46.6 149.9l0.1 1.3M56.0 150.0l-0.3 1.2M64.6 150.1l0.8 1.0M74.3 149.9l-0.2 1.4M83.2 150.0l0.4 1.1M93.2 150.5l-1.2 0.2M101.6 150.0l0.5 1.2M111.7 150.4l-1.3 0.3M120.0 149.8l0.4 1.5M128.9 150.1l1.0 1.0M138.0 150.3l1.1 0.5M147.2 150.6l1.2 -0.1M157.0 149.9l0.0 1.4M165.5 149.4l1.4 2.3M174.8 148.7l1.3 3.9M184.6 147.8l-0.0 5.5M194.4 148.3l-1.1 4.6M203.7 149.1l-1.4 2.9M212.7 149.8l-1.0 1.5M221.1 150.0l0.6 1.2M230.1 150.2l1.1 0.8M239.6 150.0l0.4 1.2M249.2 149.9l-0.4 1.4M257.8 150.2l0.9 0.8M267.7 150.0l-0.6 1.1M276.3 150.1l0.7 1.0M285.7 150.0l0.2 1.2M295.0 149.9l-0.0 1.4M303.6 150.7l1.2 -0.3M313.0 150.9l0.9 -0.7M323.0 150.1l-0.8 1.0M332.0 151.2l-0.5 -1.3M112.4 86.9l-1.2 -0.1M112.4 86.9l-0.7 -1.0M121.6 87.0l-1.2 -0.1M121.6 87.0l-0.6 -1.0M109.4 90.0l-1.2 -0.1M109.4 90.0l-0.7 -1.0M118.7 90.2l-1.2 -0.2M118.7 90.2l-0.6 -1.0M127.7 90.0l-1.2 -0.2M127.7 90.0l-0.6 -1.0M253.9 90.0l0.6 -1.0M253.9 90.0l1.2 -0.2M115.6 93.0l-1.2 -0.1M115.6 93.0l-0.7 -1.0M125.0 93.1l-1.2 -0.1M125.0 93.1l-0.7 -1.0M241.6 93.0l0.7 -1.0M241.6 93.0l1.2 -0.1M250.6 93.1l0.7 -1.0M250.6 93.1l1.2 -0.1M259.9 92.9l0.8 -0.9M259.9 92.9l1.2 -0.0M121.7 96.5l-1.2 -0.3M121.7 96.5l-0.5 -1.1M130.9 96.4l-1.2 -0.3M130.9 96.4l-0.6 -1.1M238.5 96.0l0.8 -0.9M238.5 96.0l1.2 -0.0M247.6 96.4l0.6 -1.1M247.6 96.4l1.2 -0.2M256.9 96.1l0.7 -1.0M256.9 96.1l1.2 -0.1M118.5 99.4l-1.2 -0.3M118.5 99.4l-0.5 -1.1M127.9 99.4l-1.2 -0.2M127.9 99.4l-0.6 -1.0M137.0 99.3l-1.2 -0.2M137.0 99.3l-0.6 -1.0M244.6 99.4l0.6 -1.0M244.6 99.4l1.2 -0.2M253.9 99.2l0.7 -1.0M253.9 99.2l1.2 -0.1M134.1 102.6l-1.2 -0.2M134.1 102.6l-0.6 -1.0M143.0 102.6l-1.2 -0.3M143.0 102.6l-0.5 -1.1M232.5 102.5l0.5 -1.1M232.5 102.5l1.2 -0.3M241.6 102.4l0.6 -1.0M241.6 102.4l1.2 -0.2M130.8 105.7l-1.2 -0.3M130.8 105.7l-0.5 -1.1M140.2 105.5l-1.2 -0.2M140.2 105.5l-0.6 -1.0M229.1 105.3l0.7 -0.9M229.1 105.3l1.2 -0.0M238.5 105.2l0.8 -0.9M238.5 105.2l1.2 -0.0M247.8 105.3l0.7 -1.0M247.8 105.3l1.2 -0.1M136.8 108.6l-1.2 -0.3M136.8 108.6l-0.5 -1.1M146.2 108.5l-1.2 -0.2M146.2 108.5l-0.6 -1.0M226.1 108.6l0.6 -1.0M226.1 108.6l1.2 -0.2M235.5 108.5l0.6 -1.0M235.5 108.5l1.2 -0.2M143.0 111.6l-1.2 -0.2M143.0 111.6l-0.6 -1.1M152.4 111.7l-1.2 -0.2M152.4 111.7l-0.6 -1.0M223.2 111.6l0.6 -1.1M223.2 111.6l1.2 -0.3M232.5 111.6l0.6 -1.1M232.5 111.6l1.2 -0.2M149.1 114.8l-1.2 -0.3M149.1 114.8l-0.5 -1.1M158.4 114.9l-1.2 -0.3M158.4 114.9l-0.5 -1.1M220.1 114.9l0.5 -1.1M220.1 114.9l1.2 -0.3M229.4 114.7l0.6 -1.1M229.4 114.7l1.2 -0.2M155.5 117.9l-1.2 -0.2M155.5 117.9l-0.6 -1.1M208.2 118.0l0.3 -1.2M208.2 118.0l1.1 -0.5M216.8 117.9l0.6 -1.0M216.8 117.9l1.2 -0.2M226.3 117.6l0.6 -1.0M226.3 117.6l1.2 -0.2M152.2 121.0l-1.2 -0.3M152.2 121.0l-0.5 -1.1M161.5 121.1l-1.2 -0.3M161.5 121.1l-0.5 -1.1M214.1 121.1l0.4 -1.1M214.1 121.1l1.1 -0.4M158.4 124.3l-1.1 -0.4M158.4 124.3l-0.4 -1.1M167.2 124.6l-1.0 -0.7M167.2 124.6l-0.1 -1.2M211.2 124.7l0.1 -1.2M211.2 124.7l1.0 -0.7M155.2 127.1l-1.2 -0.3M155.2 127.1l-0.5 -1.1M164.5 127.7l-1.1 -0.5M164.5 127.7l-0.3 -1.2M173.2 127.6l-1.0 -0.7M173.2 127.6l-0.0 -1.2M199.3 127.5l-0.0 -1.2M199.3 127.5l0.9 -0.8M208.1 127.6l0.2 -1.2M208.1 127.6l1.0 -0.6M161.0 130.4l-1.0 -0.6M161.0 130.4l-0.2 -1.2M170.4 130.9l-1.0 -0.7M170.4 130.9l-0.1 -1.2M178.5 130.7l-0.5 -1.1M178.5 130.7l0.5 -1.1M187.7 131.0l-0.5 -1.1M187.7 131.0l0.5 -1.1M196.5 130.6l-0.2 -1.2M196.5 130.6l0.8 -0.9M205.2 130.9l0.0 -1.2M205.2 130.9l1.0 -0.7M214.4 130.4l0.2 -1.2M214.4 130.4l1.0 -0.6M167.2 134.1l-0.9 -0.8M167.2 134.1l-0.0 -1.2M175.8 134.1l-0.7 -1.0M175.8 134.1l0.3 -1.2M184.8 134.4l-0.6 -1.1M184.8 134.4l0.4 -1.1M193.3 133.9l-0.2 -1.2M193.3 133.9l0.8 -0.9M202.2 134.2l-0.1 -1.2M202.2 134.2l0.9 -0.8M211.6 133.6l-0.0 -1.2M211.6 133.6l0.9 -0.8M163.8 136.7l-0.9 -0.8M163.8 136.7l0.0 -1.2M173.2 137.2l-0.9 -0.8M173.2 137.2l0.0 -1.2M181.6 137.5l-0.5 -1.1M181.6 137.5l0.5 -1.1M190.4 137.7l-0.4 -1.1M190.4 137.7l0.6 -1.0M199.1 137.4l-0.1 -1.2M199.1 137.4l0.9 -0.8M208.4 136.9l-0.0 -1.2M208.4 136.9l0.9 -0.8M169.9 140.4l-0.8 -0.9M169.9 140.4l0.2 -1.2M179.0 140.9l-0.7 -1.0M179.0 140.9l0.3 -1.2M187.5 141.2l-0.4 -1.1M187.5 141.2l0.6 -1.0M196.1 140.5l-0.1 -1.2M196.1 140.5l0.8 -0.9M205.2 140.0l0.1 -1.2M205.2 140.0l1.0 -0.7M167.1 143.0l-1.0 -0.7M167.1 143.0l-0.1 -1.2M176.3 143.7l-0.9 -0.8M176.3 143.7l0.1 -1.2M184.7 144.2l-0.5 -1.1M184.7 144.2l0.5 -1.1M193.4 143.7l-0.3 -1.2M193.4 143.7l0.7 -1.0M202.2 143.3l-0.0 -1.2M202.2 143.3l0.9 -0.8M173.2 146.3l-0.9 -0.8M173.2 146.3l0.0 -1.2M182.1 147.4l-0.7 -1.0M182.1 147.4l0.3 -1.2M190.4 147.1l-0.3 -1.1M190.4 147.1l0.7 -1.0M199.2 146.5l-0.1 -1.2M199.2 146.5l0.8 -0.9M169.9 149.2l-0.9 -0.8M169.9 149.2l0.1 -1.2M179.0 150.1l-0.7 -1.0M179.0 150.1l0.3 -1.2M187.6 150.5l-0.5 -1.1M187.6 150.5l0.6 -1.1M196.3 149.9l-0.2 -1.2M196.3 149.9l0.8 -0.9M176.1 152.5l-0.8 -0.9M176.1 152.5l0.1 -1.2M184.6 153.3l-0.5 -1.1M184.6 153.3l0.5 -1.1M193.3 152.9l-0.2 -1.2M193.3 152.9l0.7 -0.9M202.3 152.0l0.0 -1.2M202.3 152.0l0.9 -0.8" stroke="#555555" stroke-width="0.55" fill="none" stroke-linecap="round"/>
<path d="M379.2 83.5l0.7 -1.0M389.2 82.6l-0.9 0.8M397.9 83.7l0.1 -1.3M406.5 83.5l1.3 -1.0M415.8 83.5l1.1 -0.9M424.7 82.6l1.7 0.9M433.4 82.7l2.6 0.6M442.1 82.3l3.7 1.4M451.7 82.2l3.0 1.7M461.4 82.6l1.9 0.9M470.8 82.7l1.4 0.7M480.0 83.0l1.5 0.1M489.3 82.8l1.3 0.5M498.5 83.2l1.2 -0.2M508.3 82.5l0.2 1.1M517.4 82.3l0.3 1.5M527.4 82.8l-1.4 0.4M536.2 82.4l-0.4 1.3M545.8 83.1l-1.2 -0.2M554.9 82.6l-1.1 0.8M564.2 82.6l-1.3 0.8M573.6 82.5l-1.7 1.0M582.7 82.7l-1.4 0.8M592.3 82.4l-2.3 1.2M602.2 82.1l-3.8 1.8M611.3 82.2l-3.4 1.6M620.0 82.7l-2.5 0.7M628.7 82.8l-1.5 0.5M637.9 83.1l-1.6 -0.1M646.8 83.7l-0.9 -1.3M656.2 83.4l-1.2 -0.7M665.3 83.3l-1.1 -0.5M674.7 83.2l-1.4 -0.4M385.5 86.8l0.4 -1.4M394.2 86.3l1.4 -0.3M403.5 86.3l1.3 -0.3M412.6 86.4l1.3 -0.5M421.8 85.8l1.3 0.7M430.8 85.7l1.8 0.8M438.9 85.5l4.0 1.2M448.1 85.1l4.0 2.0M457.7 85.2l3.1 1.7M467.5 85.9l2.0 0.5M476.8 85.6l1.8 1.0M486.3 85.7l1.2 0.9M495.5 85.7l1.3 0.8M504.8 85.5l1.0 1.1M514.7 85.5l-0.3 1.3M523.2 85.8l0.9 0.7M532.8 86.7l0.3 -1.3M542.3 85.5l-0.4 1.2M552.0 85.8l-1.4 0.6M561.0 85.4l-1.0 1.4M570.1 85.5l-0.8 1.1M579.9 85.8l-2.0 0.6M589.5 85.5l-2.8 1.2M599.4 85.2l-4.2 1.9M608.7 85.1l-4.4 2.1M617.3 85.7l-3.1 0.9M625.6 86.4l-1.3 -0.5M634.9 86.2l-1.7 -0.1M644.0 86.3l-1.4 -0.3M653.1 86.0l-1.2 0.2M661.9 86.8l-0.4 -1.3M670.9 86.8l0.1 -1.4M382.2 89.7l0.8 -1.1M391.4 89.7l0.8 -0.9M400.4 89.3l1.3 -0.3M409.6 89.4l1.2 -0.4M418.6 89.3l1.6 -0.3M427.8 89.0l1.7 0.3M436.3 88.7l3.1 0.9M444.2 87.9l5.6 2.6M453.9 88.2l4.6 2.0M464.0 88.4l2.9 1.6M473.6 88.7l2.0 0.9M483.1 89.2l1.5 -0.1M492.3 88.8l1.4 0.8M501.5 89.0l1.5 0.4M510.7 89.1l1.5 0.2M520.8 88.6l-0.4 1.2M530.4 89.4l-1.1 -0.5M539.4 88.7l-0.8 1.1M548.7 88.7l-1.0 0.9M556.9 88.6l1.0 1.1M567.3 89.3l-1.3 -0.2M576.7 88.6l-1.8 1.2M586.5 88.5l-3.0 1.3M596.3 88.1l-4.2 2.2M605.9 87.8l-4.9 2.8M614.2 88.4l-3.1 1.6M622.9 88.9l-2.1 0.5M631.7 89.2l-1.4 0.1M641.0 89.4l-1.6 -0.5M650.0 89.4l-1.2 -0.4M659.1 89.5l-0.9 -0.7M668.4 89.6l-1.1 -0.9M379.6 91.7l-0.2 1.1M388.2 92.6l1.2 -0.7M397.3 92.7l1.3 -0.9M406.8 92.8l0.8 -1.1M415.6 92.1l1.4 0.2M424.6 92.4l1.8 -0.4M433.4 91.7l2.8 1.2M441.9 91.2l4.1 2.2M450.9 90.9l4.4 2.7M460.4 91.3l3.8 1.8M470.4 91.5l2.4 1.5M480.0 91.7l1.5 1.1M489.2 92.0l1.5 0.4M498.8 91.5l0.8 1.5M507.7 92.2l1.3 0.2M517.0 92.5l1.1 -0.4M526.3 91.8l0.8 1.0M535.9 91.6l0.0 1.3M545.5 91.7l-0.7 1.2M555.0 92.0l-1.3 0.4M564.4 92.0l-1.7 0.6M574.0 91.5l-2.5 1.5M583.7 91.4l-3.5 1.7M593.6 91.2l-4.8 2.0M602.8 91.0l-4.9 2.6M611.4 91.3l-3.7 1.9M619.9 91.9l-2.3 0.7M628.7 92.4l-1.5 -0.3M637.9 92.4l-1.5 -0.2M647.0 92.6l-1.2 -0.7M656.4 92.5l-1.6 -0.5M665.1 92.8l-0.6 -1.1M674.3 91.7l-0.6 1.0M385.1 95.7l1.1 -0.7M394.7 96.0l0.5 -1.4M403.7 96.0l0.8 -1.3M412.7 95.8l1.1 -1.0M421.8 95.8l1.3 -0.9M430.8 95.2l1.7 0.3M439.3 94.6l3.1 1.4M447.8 94.1l4.6 2.5M456.7 93.8l5.1 3.1M466.6 94.3l3.8 2.1M476.3 94.8l2.7 1.0M486.4 94.7l0.9 1.3M495.5 94.9l1.2 0.8M504.6 95.4l1.3 -0.2M514.5 94.6l-0.0 1.4M523.1 95.2l1.2 0.2M532.3 95.4l1.2 -0.1M542.6 94.9l-1.1 0.8M552.0 95.1l-1.5 0.4M561.2 94.9l-1.5 0.8M570.6 94.6l-1.8 1.5M580.7 94.4l-3.6 1.8M590.3 94.0l-4.5 2.7M599.8 93.9l-5.0 2.8M608.2 94.5l-3.4 1.7M616.7 95.2l-2.1 0.3M625.8 95.3l-1.9 0.1M634.8 95.7l-1.5 -0.8M643.9 95.8l-1.2 -1.0M652.8 96.0l-0.6 -1.4M662.1 94.8l-0.9 1.0M671.1 96.1l-0.4 -1.5M382.1 98.8l1.1 -0.7M391.2 98.8l1.3 -0.8M400.4 98.6l1.2 -0.4M409.7 99.0l1.1 -1.3M418.7 98.7l1.5 -0.6M427.7 98.4l1.8 -0.1M436.6 97.9l2.5 0.9M445.1 97.4l3.8 1.9M453.9 97.0l4.7 2.8M463.0 96.9l4.8 2.9M472.8 97.3l3.7 2.2M482.8 97.4l2.1 1.9M492.4 97.8l1.3 1.2M501.8 97.8l0.8 1.1M510.8 98.0l1.3 0.8M519.9 98.4l1.3 0.0M530.4 98.0l-1.1 0.8M539.5 97.6l-0.9 1.5M548.7 98.1l-1.0 0.6M558.1 98.0l-1.4 0.8M567.6 97.7l-2.0 1.5M577.4 97.1l-3.2 2.6M587.3 97.1l-4.7 2.6M596.4 97.1l-4.4 2.7M604.9 97.5l-3.0 1.8M613.6 97.9l-1.9 1.0M622.6 98.5l-1.6 -0.1M631.5 97.9l-1.1 0.9M640.6 98.9l-0.9 -1.0M649.8 98.9l-0.7 -1.1M659.3 98.7l-1.3 -0.6M667.6 99.0l0.5 -1.2M379.7 102.1l-0.3 -1.2M388.0 101.7l1.4 -0.5M397.2 101.4l1.4 0.2M406.4 101.7l1.5 -0.5M415.8 101.8l1.1 -0.7M424.8 101.4l1.4 0.2M434.1 100.9l1.4 1.0M442.7 100.9l2.5 1.1M451.1 100.6l4.0 1.7M460.1 100.1l4.5 2.8M469.3 100.1l4.5 2.7M479.1 100.5l3.3 1.9M489.0 100.9l1.9 1.2M498.4 101.0l1.5 0.9M507.8 101.1l1.1 0.7M517.8 100.9l-0.6 1.1M526.1 101.4l1.2 0.1M536.6 101.2l-1.3 0.5M545.6 101.1l-0.9 0.8M555.1 100.9l-1.5 1.2M564.7 100.6l-2.3 1.7M574.4 100.2l-3.3 2.4M584.2 99.9l-4.6 3.2M593.2 100.3l-4.2 2.4M601.9 100.8l-3.2 1.4M610.3 101.0l-1.5 1.0M619.4 101.2l-1.4 0.5M628.7 101.5l-1.5 -0.0M637.6 102.1l-1.0 -1.3M646.7 102.1l-0.8 -1.3M656.0 101.9l-1.0 -0.8M664.3 102.0l0.8 -1.1M674.3 101.9l-0.8 -0.9M385.4 105.1l0.6 -1.2M394.9 105.3l-0.0 -1.5M403.8 105.2l0.5 -1.4M413.0 105.2l0.5 -1.4M421.8 105.0l1.3 -1.0M430.8 104.6l1.7 -0.2M440.1 104.3l1.6 0.4M448.7 103.6l2.7 1.8M457.5 103.3l3.6 2.6M466.2 103.0l4.5 3.0M475.6 103.0l4.1 3.0M485.7 103.8l2.3 1.5M495.3 103.8l1.6 1.4M504.6 104.4l1.4 0.3M514.6 103.8l-0.2 1.5M524.1 104.0l-0.8 1.1M533.4 104.2l-1.0 0.7M542.6 103.9l-1.1 1.2M552.2 104.1l-1.9 0.8M561.7 103.5l-2.5 2.1M571.5 103.1l-3.6 2.8M581.1 103.0l-4.5 3.1M589.9 103.0l-3.7 3.0M598.5 103.9l-2.5 1.3M607.2 104.0l-1.4 1.0M616.5 104.5l-1.6 0.1M625.5 104.2l-1.3 0.7M634.5 105.2l-0.8 -1.4M643.5 105.2l-0.5 -1.3M652.3 105.1l0.3 -1.2M662.3 105.0l-1.2 -1.0M671.3 105.1l-0.9 -1.2M382.6 108.4l-0.0 -1.6M391.6 108.3l0.5 -1.4M401.0 108.2l0.0 -1.2M409.6 108.1l1.3 -1.0M418.8 108.2l1.2 -1.3M428.0 107.9l1.2 -0.6M437.1 107.6l1.4 -0.1M446.3 107.1l1.5 1.0M455.0 106.7l2.4 1.9M463.2 106.4l4.4 2.5M472.4 106.3l4.4 2.7M482.3 106.0l3.1 3.1M492.0 106.7l2.1 1.8M501.6 106.8l1.2 1.6M511.1 106.8l0.6 1.6M520.5 108.2l0.1 -1.1M529.8 107.0l-0.0 1.3M539.5 107.1l-1.0 0.9M548.9 106.7l-1.4 1.8M558.7 106.8l-2.7 1.6M568.5 106.4l-3.8 2.3M577.9 106.0l-4.2 3.2M586.8 106.4l-3.7 2.3M595.3 106.6l-2.3 2.0M604.1 107.3l-1.5 0.6M613.3 107.5l-1.5 0.3M622.3 108.0l-1.1 -0.8M631.4 108.1l-0.8 -1.0M640.1 108.2l0.1 -1.2M649.7 108.1l-0.7 -1.1M659.2 107.9l-1.2 -0.6M667.8 108.3l-0.1 -1.3M379.4 111.4l0.2 -1.4M388.1 111.2l1.2 -1.0M397.6 111.2l0.7 -1.1M407.2 111.3l-0.1 -1.3M416.1 111.2l0.4 -1.1M424.9 110.6l1.2 0.2M434.1 110.7l1.3 -0.1M443.4 110.3l1.0 0.8M452.4 110.3l1.4 0.8M461.0 109.7l2.6 1.9M469.7 109.5l3.7 2.4M478.8 109.4l3.9 2.5M488.2 109.2l3.4 2.9M498.0 109.7l2.3 1.9M508.0 109.9l0.6 1.5M517.4 110.0l0.3 1.4M526.4 110.1l0.6 1.1M536.1 110.0l-0.4 1.4M545.7 109.9l-1.1 1.5M555.9 109.6l-3.2 2.1M565.4 109.2l-3.7 3.0M574.7 109.2l-3.9 2.9M583.4 109.4l-3.0 2.6M592.0 109.8l-1.6 1.7M600.6 109.9l-0.6 1.5M609.4 111.2l0.3 -1.1M619.3 110.8l-1.2 -0.3M628.2 111.3l-0.6 -1.3M636.9 111.3l0.4 -1.3M646.4 111.5l-0.2 -1.6M655.8 111.3l-0.6 -1.2M665.3 111.0l-1.1 -0.7M673.4 111.2l1.0 -1.1M386.2 113.8l-1.2 -0.1M394.7 114.4l0.4 -1.3M404.5 114.2l-0.9 -0.9M412.7 113.5l1.1 0.4M422.8 114.2l-0.7 -1.0M431.7 114.3l-0.1 -1.1M440.4 113.2l0.9 1.1M449.8 113.1l0.5 1.3M458.6 112.9l1.3 1.7M467.2 112.8l2.5 1.9M475.8 112.3l3.7 2.9M484.7 112.0l4.4 3.5M494.3 112.3l3.5 2.8M504.5 112.7l1.5 2.1M514.2 113.1l0.6 1.3M523.5 113.1l0.2 1.3M532.6 113.2l0.4 1.1M542.8 112.9l-1.5 1.6M552.7 112.3l-2.9 2.8M562.6 112.3l-4.2 3.0M571.8 112.0l-4.3 3.5M580.3 112.6l-2.8 2.2M588.9 113.0l-1.7 1.4M597.5 113.1l-0.5 1.4M606.6 113.1l-0.4 1.4M616.2 113.3l-1.0 0.9M624.5 114.3l0.8 -1.1M634.1 114.4l0.0 -1.4M643.8 114.3l-1.1 -1.0M652.2 114.3l0.6 -1.0M661.8 114.4l-0.3 -1.4M671.0 114.4l-0.3 -1.3M382.8 117.6l-0.3 -1.7M391.9 117.5l-0.3 -1.3M400.4 117.1l1.2 -0.6M410.4 117.4l-0.4 -1.2M419.4 117.4l-0.0 -1.3M429.3 117.1l-1.3 -0.5M438.1 116.3l-0.6 1.0M447.4 116.4l-0.8 0.9M456.0 116.1l0.4 1.5M464.6 116.0l1.5 1.6M473.3 115.8l2.7 2.0M481.8 115.3l3.9 3.0M491.2 115.2l3.6 3.2M500.8 115.6l2.7 2.5M549.4 115.4l-2.4 2.8M559.3 115.3l-3.8 3.1M568.3 115.3l-3.5 3.1M577.0 115.8l-2.4 2.1M585.7 116.0l-1.3 1.6M594.4 116.1l-0.4 1.5M603.6 116.3l-0.4 1.0M613.2 116.7l-1.2 0.3M621.6 116.1l0.4 1.3M630.6 117.3l0.8 -1.0M640.8 117.0l-1.3 -0.4M649.3 117.5l0.1 -1.4M658.2 117.3l0.8 -1.0M667.9 117.6l-0.1 -1.5M379.3 120.5l0.5 -1.2M388.9 120.6l-0.4 -1.4M398.5 120.1l-1.1 -0.4M407.3 119.3l-0.3 1.1M416.1 120.4l0.5 -1.1M425.5 120.4l0.0 -1.1M435.4 119.9l-1.4 -0.0M444.3 119.5l-0.8 0.8M453.5 119.4l-0.8 0.9M461.7 119.4l1.2 1.0M471.0 119.0l1.1 1.7M479.3 118.5l2.8 2.7M488.1 118.2l3.6 3.3M497.5 118.1l3.3 3.5M545.9 118.2l-1.5 3.3M556.2 118.2l-3.7 3.3M565.2 118.6l-3.3 2.5M574.0 118.8l-2.5 2.1M582.3 119.0l-0.7 1.7M590.7 119.4l0.8 1.0M599.7 119.6l1.3 0.5M609.2 119.3l0.7 1.1M618.3 119.3l0.9 1.2M627.4 120.2l1.1 -0.6M637.5 120.3l-0.8 -0.8M646.4 120.6l-0.2 -1.4M655.3 120.4l0.5 -1.0M664.7 120.6l0.0 -1.4M673.8 120.6l0.2 -1.4M386.3 122.9l-1.4 0.1M395.3 122.5l-0.8 0.9M404.8 123.0l-1.4 -0.1M413.7 122.4l-0.8 1.1M423.0 123.2l-1.2 -0.5M432.2 122.6l-1.0 0.7M441.3 122.4l-0.9 1.1M450.2 122.2l-0.3 1.5M459.4 122.3l-0.2 1.3M468.4 122.1l0.1 1.8M477.1 121.8l1.1 2.3M485.5 121.8l2.7 2.3M494.1 121.2l3.8 3.5M503.7 121.0l3.1 3.8M552.7 120.9l-2.9 4.0M562.2 121.7l-3.5 2.4M570.7 121.9l-2.1 2.0M578.8 122.1l0.1 1.6M588.3 122.2l-0.4 1.5M596.8 122.4l0.9 1.1M606.0 122.5l1.0 0.9M615.6 122.3l0.0 1.3M624.5 123.4l0.8 -0.9M633.7 122.4l0.7 1.0M642.5 122.8l1.4 0.3M652.4 123.6l0.2 -1.3M661.2 123.4l0.8 -1.0M670.7 123.6l0.4 -1.3M383.0 126.6l-0.9 -1.2M392.3 126.1l-1.1 -0.2M401.6 126.2l-1.3 -0.3M410.5 126.6l-0.7 -1.1M420.0 125.8l-1.3 0.4M429.3 125.6l-1.3 0.8M438.4 125.7l-1.2 0.7M447.6 125.9l-1.3 0.3M456.5 125.4l-0.6 1.3M465.7 125.3l-0.6 1.4M474.3 125.2l0.5 1.6M483.1 125.0l1.3 2.0M491.5 124.6l2.9 2.9M500.7 123.7l3.0 4.6M549.7 123.6l-3.1 4.7M558.7 124.6l-2.6 2.8M567.5 125.2l-1.7 1.6M576.2 125.5l-0.8 1.1M584.8 125.2l0.5 1.6M593.8 125.5l0.8 1.0M603.4 125.4l-0.1 1.3M612.0 125.7l1.2 0.7M621.1 126.1l1.4 -0.1M630.4 125.9l1.2 0.3M639.6 126.0l1.2 0.0M648.8 126.4l1.1 -0.7M658.6 126.6l-0.1 -1.3M667.3 126.6l1.0 -1.1M379.8 129.7l-0.5 -1.3M388.3 129.6l0.8 -1.1M398.2 129.7l-0.6 -1.2M406.7 129.7l0.8 -1.2M416.8 129.6l-1.0 -0.9M426.1 129.4l-1.1 -0.7M435.4 129.2l-1.4 -0.3M444.5 128.7l-1.3 0.8M453.7 129.0l-1.1 0.2M462.6 128.4l-0.6 1.4M471.8 128.4l-0.7 1.4M480.4 128.2l0.6 1.7M489.1 128.1l1.5 1.9M497.8 127.1l2.5 3.9M507.2 126.8l2.3 4.6M517.1 127.3l0.8 3.7M526.7 127.2l0.0 3.8M536.7 127.2l-1.7 3.7M546.3 126.5l-2.4 5.2M555.4 127.3l-2.1 3.6M564.1 128.3l-1.2 1.6M572.8 128.3l-0.2 1.5M581.5 128.4l0.8 1.5M590.8 128.5l0.6 1.2M599.9 128.5l0.9 1.1M608.8 128.9l1.5 0.4M618.0 129.2l1.5 -0.3M627.6 128.5l0.7 1.2M636.4 129.1l1.3 -0.0M645.7 129.3l1.3 -0.4M654.9 129.3l1.2 -0.4M664.1 129.2l1.2 -0.3M673.8 129.6l0.2 -1.1M386.3 132.2l-1.3 -0.1M395.5 132.3l-1.3 -0.4M404.6 132.6l-1.1 -0.9M414.0 132.3l-1.5 -0.2M423.1 131.8l-1.2 0.7M432.4 132.1l-1.4 0.1M441.5 131.8l-1.2 0.8M450.4 131.4l-0.8 1.4M459.4 131.6l-0.3 1.2M468.9 131.5l-1.0 1.3M477.6 131.3l-0.0 1.7M486.6 131.2l0.5 1.9M495.3 130.9l1.5 2.6M503.9 129.8l2.6 4.6M513.5 130.0l2.0 4.4M523.7 129.6l-0.1 5.1M533.5 130.0l-1.3 4.3M543.3 129.5l-2.4 5.4M551.9 130.2l-1.2 3.8M561.0 131.2l-1.2 1.9M569.4 131.5l0.4 1.3M578.5 131.3l0.6 1.7M587.5 131.7l1.1 0.9M596.7 131.9l1.2 0.5M605.9 131.8l1.1 0.7M614.9 132.3l1.6 -0.2M624.5 131.7l0.7 1.0M633.3 132.3l1.4 -0.2M642.6 132.0l1.3 0.3M651.8 132.2l1.4 -0.0M661.2 132.7l0.9 -1.1M670.2 132.3l1.2 -0.3M383.2 135.5l-1.2 -0.6M392.4 135.6l-1.2 -0.7M401.6 135.5l-1.3 -0.5M410.9 134.9l-1.5 0.7M419.9 134.7l-1.1 1.1M429.2 134.7l-1.3 1.0M438.4 134.6l-1.2 1.2M447.4 134.6l-0.9 1.3M456.8 134.7l-1.2 1.1M465.8 134.8l-0.9 0.8M475.2 134.8l-1.2 0.9M484.1 134.4l-0.6 1.6M492.5 134.3l0.9 1.8M501.1 133.4l2.2 3.7M510.3 132.5l2.0 5.4M520.2 132.5l0.8 5.5M530.2 132.4l-0.8 5.6M539.8 132.7l-1.7 5.1M549.2 133.3l-2.0 4.0M557.7 134.3l-0.7 1.8M566.5 134.3l0.2 1.8M575.3 134.7l1.0 1.1M584.3 135.0l1.4 0.4M593.5 134.7l1.3 1.0M603.0 134.7l0.8 1.0M612.2 134.5l0.6 1.5M621.0 135.3l1.5 -0.1M630.4 135.0l1.2 0.4M639.6 135.1l1.2 0.2M648.8 135.7l1.1 -0.9M658.0 134.8l1.1 0.8M667.2 135.1l1.2 0.2M380.1 138.7l-1.1 -0.7M389.2 138.8l-0.9 -1.0M398.7 138.2l-1.6 0.2M407.8 138.3l-1.5 -0.0M417.0 138.2l-1.4 0.3M426.2 138.0l-1.3 0.6M435.4 137.9l-1.4 0.8M444.6 137.9l-1.4 0.9M453.8 137.8l-1.4 0.9M462.9 137.6l-1.2 1.4M472.0 137.7l-0.9 1.1M481.4 137.8l-1.4 0.9M489.6 137.6l0.5 1.4M498.5 137.0l1.2 2.5M507.2 135.8l2.1 4.9M516.8 135.2l1.5 6.2M526.7 135.0l0.0 6.5M537.0 135.5l-2.1 5.7M546.3 136.1l-2.4 4.4M554.6 137.3l-0.6 1.9M563.2 137.6l0.5 1.4M572.1 137.8l1.2 1.0M581.4 137.6l0.9 1.4M590.5 137.7l1.1 1.2M600.2 137.6l0.3 1.4M609.1 137.9l0.9 0.8M618.7 137.7l0.0 1.2M627.3 138.2l1.3 0.2M636.5 138.3l1.2 -0.1M645.7 138.5l1.2 -0.3M655.0 138.9l1.1 -1.1M664.1 138.5l1.1 -0.5M674.3 138.8l-0.8 -0.9M386.1 141.7l-0.9 -0.6M395.5 141.3l-1.4 0.2M404.6 141.8l-1.1 -0.9M414.0 141.4l-1.5 -0.0M423.2 141.2l-1.5 0.3M432.4 141.2l-1.5 0.4M441.6 141.2l-1.6 0.4M450.7 140.9l-1.4 1.0M459.9 141.0l-1.3 0.8M468.7 140.5l-0.6 1.8M478.0 140.6l-0.8 1.5M487.2 140.7l-0.8 1.3M495.8 140.4l0.5 2.0M504.2 139.5l2.1 3.7M513.4 138.2l2.0 6.4M523.3 138.0l0.7 6.7M533.6 138.1l-1.5 6.6M543.0 139.0l-1.9 4.8M551.6 140.4l-0.8 1.9M560.1 140.5l0.6 1.7M569.6 140.7l0.1 1.4M578.7 140.7l0.2 1.3M587.5 140.8l1.1 1.2M596.5 141.2l1.4 0.3M606.1 140.6l0.7 1.5M614.9 141.2l1.4 0.4M624.1 141.3l1.5 0.1M633.3 141.5l1.4 -0.2M642.8 141.9l0.9 -1.0M651.7 141.2l1.5 0.3M661.0 141.1l1.3 0.5M670.5 141.9l0.7 -1.1M383.1 144.2l-1.1 0.5M392.3 144.7l-1.1 -0.6M401.8 144.3l-1.6 0.3M410.8 144.5l-1.4 -0.0M420.1 144.4l-1.5 0.1M429.4 144.6l-1.6 -0.3M438.5 144.3l-1.5 0.4M447.6 144.1l-1.3 0.7M456.8 144.2l-1.4 0.5M465.7 143.6l-0.7 1.6M475.0 143.8l-0.9 1.3M483.9 143.7l-0.3 1.4M493.2 143.8l-0.4 1.2M501.9 143.0l0.5 2.8M510.3 141.8l2.1 5.4M519.7 141.2l1.6 6.6M530.1 140.9l-0.7 7.2M540.3 141.8l-2.7 5.3M548.6 143.2l-0.9 2.6M557.5 143.7l-0.2 1.6M566.3 143.8l0.5 1.3M575.4 143.8l0.8 1.2M584.5 143.6l0.8 1.6M593.5 144.1l1.3 0.6M602.7 144.0l1.3 0.9M611.6 144.5l2.0 -0.1M621.0 144.2l1.5 0.5M630.1 144.5l1.6 -0.2M639.7 144.1l1.0 0.7M648.7 144.3l1.4 0.3M657.9 144.4l1.3 -0.0M667.1 144.4l1.4 0.0M380.0 147.1l-1.1 0.8M389.3 148.0l-1.2 -0.9M398.6 147.6l-1.4 -0.2M407.8 147.6l-1.4 -0.2M417.0 147.5l-1.4 -0.1M426.3 147.1l-1.5 0.8M435.4 147.1l-1.4 0.9M444.5 147.1l-1.3 0.9M453.7 147.6l-1.2 -0.1M462.7 146.9l-0.8 1.2M471.9 147.0l-0.8 1.1M481.1 147.0l-0.9 1.1M490.4 147.0l-1.1 1.0M498.7 146.6l0.7 1.9M507.4 145.7l1.8 3.7M516.7 144.3l1.6 6.3M527.1 143.9l-0.9 7.3M537.0 144.5l-2.2 6.1M545.6 145.9l-0.9 3.1M554.5 146.8l-0.5 1.4M562.9 147.0l1.1 1.1M572.1 147.1l1.2 0.8M581.2 147.1l1.3 0.8M590.6 146.9l0.9 1.1M599.7 147.4l1.2 0.3M608.7 147.1l1.5 0.8M618.1 147.2l1.3 0.5M627.1 147.5l1.6 0.0M637.2 146.8l-0.1 1.4M645.8 147.9l0.9 -0.7M655.7 148.2l-0.4 -1.3M664.2 147.9l1.0 -0.9M673.3 147.7l1.2 -0.3M386.2 150.4l-1.2 0.3M395.3 150.1l-0.9 1.0M404.8 150.8l-1.6 -0.4M413.8 150.3l-1.2 0.6M423.2 150.8l-1.5 -0.4M432.3 151.1l-1.3 -1.0M441.7 150.2l-1.7 0.8M450.7 150.0l-1.4 1.2M459.8 150.1l-1.2 1.0M468.3 149.9l0.3 1.4M478.2 150.2l-1.2 0.8M487.5 150.7l-1.3 -0.1M496.1 149.9l-0.1 1.4M505.0 149.3l0.5 2.5M513.7 148.3l1.5 4.6M523.6 147.2l0.1 6.8M533.5 147.4l-1.4 6.4M542.7 148.9l-1.4 3.4M551.1 149.8l0.2 1.7M559.9 150.3l1.1 0.6M569.4 149.8l0.3 1.6M578.3 150.1l1.0 1.0M587.8 150.0l0.5 1.2M596.4 150.4l1.6 0.3M605.9 150.2l1.0 0.8M615.0 150.5l1.3 0.1M624.0 150.3l1.7 0.5M633.5 150.4l1.1 0.3M642.5 150.6l1.4 -0.1M651.8 150.9l1.3 -0.6M661.0 150.6l1.3 -0.1M670.2 150.7l1.2 -0.2M445.8 83.8l-1.2 0.1M445.8 83.8l-0.8 -0.9M454.6 83.9l-1.2 -0.1M454.6 83.9l-0.7 -1.0M598.5 83.9l0.8 -0.9M598.5 83.9l1.2 -0.0M607.9 83.9l0.8 -0.9M607.9 83.9l1.2 -0.0M442.9 86.7l-1.2 0.2M442.9 86.7l-0.9 -0.8M452.1 87.1l-1.2 -0.0M452.1 87.1l-0.7 -0.9M460.8 87.0l-1.2 -0.1M460.8 87.0l-0.7 -1.0M586.7 86.7l0.8 -0.9M586.7 86.7l1.2 0.0M595.2 87.1l0.8 -0.9M595.2 87.1l1.2 0.0M604.3 87.1l0.8 -0.9M604.3 87.1l1.2 0.0M614.1 86.6l0.9 -0.8M614.1 86.6l1.2 0.2M439.4 89.7l-1.2 0.2M439.4 89.7l-0.9 -0.8M449.8 90.5l-1.2 0.0M449.8 90.5l-0.8 -0.9M458.5 90.2l-1.2 0.0M458.5 90.2l-0.8 -0.9M466.9 90.0l-1.2 -0.1M466.9 90.0l-0.7 -1.0M583.5 89.8l0.8 -0.9M583.5 89.8l1.2 0.0M592.1 90.3l0.7 -1.0M592.1 90.3l1.2 -0.1M601.0 90.6l0.7 -1.0M601.0 90.6l1.2 -0.1M611.1 90.0l0.7 -1.0M611.1 90.0l1.2 -0.1M436.1 92.8l-1.2 0.1M436.1 92.8l-0.8 -0.9M446.0 93.3l-1.2 -0.0M446.0 93.3l-0.7 -1.0M455.4 93.6l-1.2 -0.1M455.4 93.6l-0.7 -1.0M464.3 93.2l-1.2 0.0M464.3 93.2l-0.8 -0.9M580.2 93.1l0.7 -0.9M580.2 93.1l1.2 -0.0M588.7 93.3l0.8 -0.9M588.7 93.3l1.2 0.1M597.9 93.5l0.7 -1.0M597.9 93.5l1.2 -0.1M607.7 93.2l0.7 -1.0M607.7 93.2l1.2 -0.0M442.4 96.0l-1.2 0.0M442.4 96.0l-0.8 -0.9M452.4 96.6l-1.2 -0.1M452.4 96.6l-0.7 -1.0M461.8 96.9l-1.2 -0.1M461.8 96.9l-0.7 -1.0M470.4 96.3l-1.2 -0.1M470.4 96.3l-0.7 -1.0M577.1 96.2l0.7 -0.9M577.1 96.2l1.2 -0.0M585.8 96.7l0.7 -1.0M585.8 96.7l1.2 -0.1M594.8 96.7l0.7 -1.0M594.8 96.7l1.2 -0.1M604.8 96.2l0.7 -0.9M604.8 96.2l1.2 -0.0M448.9 99.4l-1.2 -0.0M448.9 99.4l-0.7 -0.9M458.6 99.8l-1.2 -0.1M458.6 99.8l-0.7 -1.0M467.8 99.8l-1.2 -0.1M467.8 99.8l-0.7 -1.0M476.5 99.5l-1.2 -0.1M476.5 99.5l-0.7 -1.0M574.2 99.7l0.5 -1.1M574.2 99.7l1.2 -0.3M582.7 99.7l0.7 -1.0M582.7 99.7l1.2 -0.1M592.0 99.7l0.7 -1.0M592.0 99.7l1.2 -0.1M601.9 99.3l0.7 -1.0M601.9 99.3l1.2 -0.1M455.1 102.3l-1.2 0.1M455.1 102.3l-0.8 -0.9M464.6 102.8l-1.2 -0.1M464.6 102.8l-0.7 -1.0M473.8 102.8l-1.2 -0.1M473.8 102.8l-0.7 -1.0M482.4 102.4l-1.2 -0.1M482.4 102.4l-0.7 -1.0M571.1 102.7l0.6 -1.1M571.1 102.7l1.2 -0.2M579.6 103.0l0.6 -1.0M579.6 103.0l1.2 -0.2M589.0 102.7l0.7 -1.0M589.0 102.7l1.2 -0.1M598.7 102.2l0.8 -0.9M598.7 102.2l1.2 0.0M451.4 105.4l-1.2 -0.2M451.4 105.4l-0.6 -1.0M461.1 105.8l-1.2 -0.2M461.1 105.8l-0.6 -1.0M470.7 106.0l-1.2 -0.2M470.7 106.0l-0.6 -1.0M479.7 106.0l-1.2 -0.2M479.7 106.0l-0.6 -1.1M559.2 105.6l0.5 -1.1M559.2 105.6l1.2 -0.3M567.8 105.9l0.5 -1.1M567.8 105.9l1.2 -0.3M576.6 106.1l0.6 -1.0M576.6 106.1l1.2 -0.2M586.2 106.0l0.5 -1.1M586.2 106.0l1.2 -0.3M457.4 108.5l-1.2 -0.3M457.4 108.5l-0.5 -1.1M467.6 108.8l-1.2 -0.1M467.6 108.8l-0.7 -1.0M476.8 108.9l-1.2 -0.1M476.8 108.9l-0.7 -1.0M485.3 109.2l-1.1 -0.4M485.3 109.2l-0.4 -1.1M556.1 108.4l0.7 -1.0M556.1 108.4l1.2 -0.1M564.7 108.8l0.7 -1.0M564.7 108.8l1.2 -0.1M573.7 109.2l0.6 -1.1M573.7 109.2l1.2 -0.2M583.2 108.8l0.6 -1.0M583.2 108.8l1.2 -0.1M593.1 108.6l0.5 -1.1M593.1 108.6l1.2 -0.3M463.6 111.6l-1.2 -0.2M463.6 111.6l-0.6 -1.1M473.4 111.9l-1.2 -0.2M473.4 111.9l-0.6 -1.0M482.7 111.9l-1.2 -0.2M482.7 111.9l-0.6 -1.0M491.7 112.1l-1.2 -0.3M491.7 112.1l-0.5 -1.1M552.7 111.7l0.6 -1.0M552.7 111.7l1.2 -0.2M561.7 112.2l0.5 -1.1M561.7 112.2l1.2 -0.3M570.8 112.1l0.6 -1.1M570.8 112.1l1.2 -0.2M580.4 111.9l0.5 -1.1M580.4 111.9l1.2 -0.3M469.7 114.7l-1.2 -0.2M469.7 114.7l-0.6 -1.1M479.5 115.2l-1.2 -0.3M479.5 115.2l-0.5 -1.1M489.0 115.5l-1.2 -0.3M489.0 115.5l-0.5 -1.1M497.8 115.1l-1.2 -0.3M497.8 115.1l-0.5 -1.1M549.8 115.1l0.4 -1.1M549.8 115.1l1.1 -0.4M558.4 115.2l0.6 -1.0M558.4 115.2l1.2 -0.2M567.5 115.5l0.5 -1.1M567.5 115.5l1.2 -0.3M577.5 114.8l0.5 -1.1M577.5 114.8l1.2 -0.3M475.9 117.8l-1.2 -0.3M475.9 117.8l-0.5 -1.1M485.8 118.3l-1.2 -0.2M485.8 118.3l-0.6 -1.1M494.8 118.4l-1.2 -0.3M494.8 118.4l-0.5 -1.1M503.6 118.1l-1.1 -0.4M503.6 118.1l-0.5 -1.1M547.0 118.2l0.3 -1.2M547.0 118.2l1.1 -0.5M555.5 118.3l0.5 -1.1M555.5 118.3l1.2 -0.3M564.8 118.3l0.5 -1.1M564.8 118.3l1.2 -0.3M574.6 117.8l0.5 -1.1M574.6 117.8l1.2 -0.3M482.1 121.2l-1.1 -0.4M482.1 121.2l-0.4 -1.1M491.7 121.5l-1.1 -0.4M491.7 121.5l-0.4 -1.1M500.8 121.6l-1.1 -0.4M500.8 121.6l-0.4 -1.1M544.3 121.6l-0.0 -1.2M544.3 121.6l0.9 -0.8M552.5 121.5l0.5 -1.1M552.5 121.5l1.1 -0.3M561.9 121.1l0.6 -1.1M561.9 121.1l1.2 -0.2M571.5 120.9l0.5 -1.1M571.5 120.9l1.2 -0.3M488.2 124.1l-1.2 -0.3M488.2 124.1l-0.5 -1.1M498.0 124.7l-1.1 -0.4M498.0 124.7l-0.5 -1.1M506.8 124.9l-1.1 -0.5M506.8 124.9l-0.3 -1.2M549.8 125.0l0.2 -1.2M549.8 125.0l1.0 -0.6M558.7 124.2l0.6 -1.0M558.7 124.2l1.2 -0.2M494.4 127.5l-1.1 -0.4M494.4 127.5l-0.4 -1.1M503.7 128.3l-1.0 -0.6M503.7 128.3l-0.2 -1.2M546.6 128.4l0.2 -1.2M546.6 128.4l1.0 -0.6M556.1 127.4l0.4 -1.1M556.1 127.4l1.1 -0.4M500.4 131.0l-1.0 -0.6M500.4 131.0l-0.2 -1.2M509.4 131.4l-0.9 -0.7M509.4 131.4l-0.0 -1.2M517.9 130.9l-0.7 -0.9M517.9 130.9l0.3 -1.2M526.7 131.0l-0.5 -1.1M526.7 131.0l0.5 -1.1M535.1 130.9l-0.0 -1.2M535.1 130.9l0.9 -0.8M543.9 131.7l-0.0 -1.2M543.9 131.7l0.9 -0.8M553.2 130.9l0.1 -1.2M553.2 130.9l1.0 -0.7M506.6 134.5l-1.0 -0.7M506.6 134.5l-0.1 -1.2M515.4 134.4l-0.9 -0.8M515.4 134.4l0.0 -1.2M523.6 134.7l-0.5 -1.1M523.6 134.7l0.5 -1.1M532.2 134.3l-0.2 -1.2M532.2 134.3l0.8 -0.9M540.8 134.8l-0.0 -1.2M540.8 134.8l0.9 -0.8M550.6 134.1l-0.2 -1.2M550.6 134.1l0.8 -0.9M503.2 137.1l-1.0 -0.7M503.2 137.1l-0.1 -1.2M512.4 138.0l-0.9 -0.8M512.4 138.0l0.1 -1.2M521.0 138.0l-0.7 -1.0M521.0 138.0l0.4 -1.1M529.4 138.0l-0.4 -1.1M529.4 138.0l0.7 -1.0M538.1 137.8l-0.1 -1.2M538.1 137.8l0.8 -0.9M547.2 137.2l0.0 -1.2M547.2 137.2l0.9 -0.7M509.4 140.8l-0.9 -0.8M509.4 140.8l0.0 -1.2M518.2 141.4l-0.8 -0.9M518.2 141.4l0.2 -1.2M526.7 141.6l-0.5 -1.1M526.7 141.6l0.5 -1.1M534.8 141.1l-0.1 -1.2M534.8 141.1l0.9 -0.8M543.9 140.5l0.1 -1.2M543.9 140.5l1.0 -0.7M506.3 143.2l-1.0 -0.7M506.3 143.2l-0.1 -1.2M515.4 144.6l-0.8 -0.9M515.4 144.6l0.2 -1.2M524.0 144.7l-0.6 -1.0M524.0 144.7l0.4 -1.1M532.1 144.7l-0.3 -1.2M532.1 144.7l0.7 -0.9M541.1 143.8l-0.1 -1.2M541.1 143.8l0.9 -0.8M512.4 147.1l-0.9 -0.8M512.4 147.1l0.1 -1.2M521.4 147.7l-0.8 -0.9M521.4 147.7l0.2 -1.2M529.4 148.0l-0.4 -1.1M529.4 148.0l0.6 -1.0M537.6 147.1l0.0 -1.2M537.6 147.1l0.9 -0.7M509.2 149.3l-0.9 -0.8M509.2 149.3l-0.0 -1.2M518.3 150.7l-0.8 -0.9M518.3 150.7l0.2 -1.2M526.3 151.1l-0.4 -1.1M526.3 151.1l0.6 -1.0M534.8 150.6l-0.1 -1.2M534.8 150.6l0.8 -0.8M544.6 149.1l-0.2 -1.2M544.6 149.1l0.8 -0.9M515.2 152.9l-0.8 -0.9M515.2 152.9l0.2 -1.2M523.7 154.0l-0.5 -1.1M523.7 154.0l0.5 -1.1M532.1 153.8l-0.3 -1.2M532.1 153.8l0.7 -0.9M541.3 152.3l-0.1 -1.2M541.3 152.3l0.9 -0.8" stroke="#555555" stroke-width="0.55" fill="none" stroke-linecap="round"/>
<path d="M39.4 262.7l2.3 -1.2M48.8 263.2l1.9 -2.3M57.8 262.9l2.4 -1.8M66.6 262.9l3.1 -1.8M75.5 262.9l3.8 -1.7M84.7 262.6l3.8 -1.1M93.4 262.3l4.8 -0.6M102.6 262.6l4.7 -1.2M111.8 262.7l4.7 -1.3M120.7 262.4l5.3 -0.7M130.1 261.9l4.9 0.3M138.5 261.1l6.5 1.8M147.7 260.6l6.5 2.9M157.0 260.5l6.3 3.1M167.2 260.9l4.3 2.3M176.8 260.8l3.5 2.5M186.7 261.4l2.1 1.3M196.2 261.8l1.6 0.5M206.8 261.4l-1.3 1.3M216.4 261.2l-2.1 1.6M226.8 260.9l-4.4 2.3M235.9 261.4l-4.4 1.2M244.9 261.7l-3.9 0.6M254.1 261.9l-3.8 0.4M263.5 262.0l-4.3 0.1M272.3 261.8l-3.4 0.5M281.5 261.8l-3.4 0.5M290.6 262.3l-3.3 -0.5M299.9 262.5l-3.6 -0.8M309.4 262.5l-4.0 -0.9M318.3 261.8l-3.5 0.4M327.7 261.8l-3.9 0.5M336.9 262.1l-4.0 -0.1M45.8 266.2l1.9 -2.2M54.6 265.6l2.6 -1.0M63.8 265.8l2.6 -1.5M72.5 265.6l3.6 -1.0M81.4 265.8l4.2 -1.3M90.4 265.8l4.6 -1.4M99.8 265.5l4.2 -0.7M108.9 265.6l4.4 -0.9M117.7 265.5l5.1 -0.9M126.9 264.8l5.2 0.6M135.8 264.6l5.9 1.1M144.9 263.7l5.9 2.8M153.6 263.2l6.9 3.9M163.7 263.4l5.3 3.5M173.6 264.0l3.7 2.3M183.2 264.4l3.0 1.3M193.1 263.9l1.6 2.4M202.6 264.4l0.9 1.4M213.4 264.1l-2.1 2.0M223.2 263.9l-3.5 2.4M233.0 264.1l-4.7 2.0M241.7 264.5l-3.6 1.2M251.0 265.0l-3.7 0.3M260.2 264.9l-3.7 0.5M269.4 265.0l-3.9 0.3M278.4 265.0l-3.5 0.2M287.9 264.9l-4.1 0.4M297.1 265.1l-4.1 0.0M306.3 265.5l-4.1 -0.8M315.4 265.2l-3.8 -0.1M324.6 265.2l-3.9 -0.1M333.9 265.4l-4.0 -0.5M42.7 268.8l1.9 -1.2M51.6 269.2l2.4 -2.1M60.6 269.2l2.9 -2.1M69.6 269.0l3.2 -1.6M78.6 269.4l3.6 -2.5M87.7 269.0l3.9 -1.7M96.5 268.7l4.6 -1.1M105.8 268.7l4.5 -1.0M114.7 268.6l5.0 -0.9M123.8 268.2l5.3 -0.0M133.0 267.5l5.3 1.4M141.7 266.8l6.2 2.8M150.4 266.0l7.3 4.4M160.0 266.0l6.5 4.4M170.1 266.4l4.7 3.5M180.2 267.1l2.9 2.1M189.7 267.6l2.2 1.2M199.0 267.3l2.0 1.7M210.3 267.0l-2.2 2.4M220.5 266.9l-4.2 2.5M229.9 267.1l-4.5 2.2M238.9 267.6l-4.2 1.1M247.8 268.3l-3.7 -0.2M257.2 268.1l-4.0 0.1M266.1 268.0l-3.4 0.3M275.2 268.1l-3.2 0.2M284.8 268.3l-4.0 -0.2M294.3 268.5l-4.5 -0.6M303.3 268.3l-4.2 -0.2M312.3 268.4l-3.7 -0.5M321.6 268.6l-4.0 -0.9M330.8 268.3l-3.9 -0.2M39.6 272.4l1.8 -2.3M48.4 272.1l2.8 -1.6M57.7 272.5l2.4 -2.4M66.7 272.3l3.0 -2.2M75.5 272.2l3.6 -2.0M84.4 272.0l4.3 -1.5M93.4 272.2l4.7 -1.8M102.6 272.1l4.6 -1.7M111.9 271.5l4.5 -0.4M121.0 271.1l4.7 0.2M130.0 270.9l5.1 0.7M138.5 270.1l6.5 2.2M147.3 269.3l7.3 3.9M156.6 268.9l7.0 4.8M166.5 268.8l5.7 4.8M176.7 269.6l3.7 3.3M187.0 270.2l1.5 2.1M196.2 270.3l1.6 1.8M206.5 270.0l-0.7 2.5M217.2 269.9l-3.8 2.7M226.5 269.9l-4.0 2.7M235.9 270.7l-4.3 1.2M244.8 271.3l-3.7 -0.2M254.0 270.7l-3.6 1.0M263.0 271.1l-3.3 0.2M272.2 271.0l-3.4 0.6M281.5 271.0l-3.6 0.6M290.7 271.4l-3.5 -0.3M299.8 271.9l-3.2 -1.4M309.4 271.4l-4.0 -0.3M318.6 271.5l-4.1 -0.5M327.8 271.6l-4.0 -0.7M336.4 271.4l-2.9 -0.3M45.7 275.3l2.0 -1.9M54.8 275.4l2.3 -2.2M63.6 275.2l3.0 -1.9M72.8 275.4l2.9 -2.2M81.6 275.7l3.8 -2.7M90.5 275.5l4.4 -2.4M99.5 275.1l4.8 -1.7M108.7 275.0l4.7 -1.4M117.8 275.1l4.9 -1.6M127.0 274.4l4.9 -0.2M135.8 273.5l5.7 1.6M144.5 272.8l6.7 3.0M153.6 271.8l6.9 4.9M162.9 271.7l6.8 5.2M173.1 272.3l4.7 4.0M182.9 273.5l3.5 1.7M193.1 273.4l1.5 1.7M203.8 273.4l-1.4 1.8M214.0 273.2l-3.4 2.3M223.8 272.8l-4.6 3.0M233.2 273.9l-5.0 0.9M241.9 273.9l-4.1 0.7M251.0 274.7l-3.9 -0.7M260.1 274.3l-3.6 -0.1M269.4 274.2l-3.9 0.3M278.5 274.4l-3.7 -0.3M287.9 274.6l-4.0 -0.5M297.0 275.0l-3.8 -1.4M306.1 275.0l-3.7 -1.3M315.4 274.9l-3.8 -1.2M324.3 274.6l-3.2 -0.6M333.6 274.5l-3.5 -0.3M43.0 279.1l1.2 -3.4M51.8 278.6l2.1 -2.4M60.7 278.6l2.6 -2.5M69.5 279.0l3.3 -3.2M78.6 278.4l3.6 -1.9M87.8 279.0l3.5 -3.2M96.8 278.6l3.9 -2.4M105.8 278.5l4.3 -2.2M115.0 278.5l4.3 -2.1M124.0 277.3l4.8 0.2M132.8 277.1l5.5 0.5M141.8 276.6l6.0 1.6M150.7 275.3l6.7 4.1M159.9 274.7l6.6 5.4M169.5 274.9l5.7 5.0M179.9 275.9l3.4 2.9M190.2 276.4l1.2 2.0M200.2 276.1l-0.4 2.7M210.8 275.6l-3.2 3.5M221.2 276.0l-5.6 2.7M230.1 276.8l-5.0 1.1M238.8 277.5l-4.0 -0.3M247.6 277.7l-3.3 -0.6M256.8 277.6l-3.3 -0.5M266.0 278.0l-3.1 -1.1M275.4 277.8l-3.5 -0.8M284.6 277.5l-3.7 -0.3M294.0 278.0l-4.1 -1.3M303.2 277.7l-4.1 -0.7M312.6 277.8l-4.4 -0.8M321.7 278.0l-4.1 -1.3M330.7 277.8l-3.8 -0.7M39.8 281.9l1.5 -2.9M48.7 282.0l2.0 -3.0M58.3 282.1l1.3 -3.3M66.7 281.8l2.9 -2.6M75.4 281.8l3.9 -2.7M84.8 282.1l3.5 -3.2M93.8 281.6l3.8 -2.3M102.8 281.7l4.4 -2.5M112.0 281.2l4.2 -1.4M120.9 280.9l4.8 -0.8M130.3 280.4l4.4 0.2M139.1 279.5l5.2 1.9M147.9 278.6l6.1 3.8M156.8 277.9l6.7 5.2M166.3 277.7l6.1 5.4M176.5 278.6l4.0 3.7M186.4 279.3l2.7 2.4M197.2 279.2l-0.5 2.6M207.6 279.2l-3.0 2.6M218.1 278.8l-5.4 3.3M227.0 280.0l-4.8 1.0M235.8 280.5l-4.2 -0.0M245.1 280.9l-4.2 -0.9M254.0 280.8l-3.6 -0.7M263.4 280.9l-4.1 -0.9M272.2 280.7l-3.3 -0.4M281.3 281.1l-3.1 -1.2M290.5 280.9l-3.1 -0.8M300.2 280.8l-4.1 -0.8M309.2 280.9l-3.8 -0.9M318.4 280.8l-3.7 -0.7M327.5 281.1l-3.5 -1.3M336.6 281.0l-3.2 -1.1M45.8 284.9l1.8 -2.7M54.9 285.3l2.0 -3.5M63.9 285.5l2.3 -3.8M72.9 284.9l2.8 -2.7M82.0 285.1l2.9 -3.2M91.1 285.2l3.1 -3.2M99.8 284.7l4.2 -2.3M109.3 284.6l3.6 -2.2M118.5 284.4l3.6 -1.7M127.5 283.8l3.9 -0.6M136.2 282.7l4.9 1.7M145.1 282.1l5.5 2.8M154.5 281.5l5.2 4.0M163.4 280.8l5.8 5.4M172.9 281.1l5.1 4.8M183.4 282.4l2.6 2.2M193.3 282.0l1.2 3.0M204.3 281.9l-2.5 3.3M214.4 282.1l-4.3 2.9M223.9 283.0l-4.8 1.1M233.2 283.7l-5.1 -0.3M241.8 284.4l-3.9 -1.7M250.7 284.6l-3.3 -2.1M259.7 284.3l-2.9 -1.6M269.2 284.2l-3.5 -1.4M278.4 284.0l-3.5 -1.0M287.8 284.1l-3.9 -1.0M296.9 284.3l-3.6 -1.6M306.1 284.4l-3.6 -1.8M315.4 284.1l-3.8 -1.1M324.5 284.0l-3.6 -1.0M333.5 284.5l-3.3 -1.9M43.1 288.4l1.1 -3.6M51.7 288.3l2.2 -3.5M61.0 288.2l2.1 -3.3M70.2 288.6l2.0 -4.1M78.9 288.0l3.1 -2.8M87.9 288.5l3.3 -3.7M97.0 288.0l3.6 -2.8M106.1 288.0l3.9 -2.7M115.5 287.6l3.4 -1.9M124.4 286.7l3.9 -0.2M133.1 286.3l4.9 0.5M142.5 285.4l4.6 2.3M151.5 284.8l5.0 3.5M160.4 284.4l5.6 4.5M169.6 284.2l5.7 4.7M180.2 285.2l2.9 2.9M190.3 285.4l0.9 2.4M200.9 284.9l-1.8 3.4M211.1 284.9l-3.7 3.3M221.0 286.1l-5.3 1.0M230.1 286.8l-5.1 -0.3M239.2 287.6l-4.9 -2.0M247.7 287.5l-3.5 -1.9M257.0 287.3l-3.7 -1.4M266.4 287.3l-3.9 -1.4M275.1 287.7l-3.0 -2.1M284.7 287.4l-3.8 -1.7M293.6 287.2l-3.2 -1.2M302.8 287.6l-3.2 -2.0M312.3 287.4l-3.8 -1.6M321.2 287.7l-3.2 -2.2M330.5 287.4l-3.3 -1.6M39.5 291.5l2.1 -3.7M48.7 291.7l2.1 -4.1M57.9 291.6l2.0 -3.9M66.6 291.0l3.1 -2.7M75.9 291.5l2.8 -3.7M84.9 291.7l3.3 -4.2M94.0 291.6l3.4 -3.9M103.0 290.9l3.9 -2.5M112.4 291.0l3.5 -2.7M121.3 290.3l4.0 -1.3M130.6 289.5l3.8 0.3M139.9 288.7l3.7 1.9M148.4 288.2l5.0 2.8M157.7 288.0l4.9 3.3M166.8 287.4l5.1 4.5M176.7 287.9l3.6 3.6M186.8 288.1l1.9 3.1M197.0 288.0l-0.1 3.3M207.2 287.7l-2.1 4.0M217.3 288.7l-4.0 1.8M226.7 290.1l-4.4 -1.0M235.6 290.8l-3.8 -2.2M244.9 291.0l-3.9 -2.6M254.1 290.5l-3.9 -1.7M263.2 290.6l-3.7 -1.9M272.4 290.8l-3.8 -2.2M281.6 290.4l-3.8 -1.5M290.6 290.7l-3.3 -2.1M299.9 290.8l-3.6 -2.2M308.9 290.4l-3.2 -1.4M318.4 290.8l-3.7 -2.3M327.4 290.8l-3.3 -2.2M336.8 290.6l-3.7 -1.9M45.6 294.9l2.1 -4.3M54.8 294.6l2.1 -3.7M63.8 294.9l2.6 -4.2M72.6 294.7l3.3 -3.9M82.3 294.6l2.4 -3.7M91.4 294.5l2.5 -3.5M100.6 294.3l2.6 -3.2M109.6 294.0l2.9 -2.5M118.6 293.6l3.4 -1.8M127.8 292.9l3.3 -0.3M137.1 292.2l3.2 1.1M145.7 291.6l4.4 2.3M154.7 290.6l4.7 4.2M164.0 290.7l4.5 4.1M213.7 291.4l-2.9 2.7M223.5 292.8l-4.2 -0.0M232.5 294.6l-3.7 -3.7M241.8 294.4l-3.9 -3.3M250.8 294.2l-3.6 -2.9M260.0 294.1l-3.4 -2.6M269.3 294.4l-3.7 -3.3M278.4 293.9l-3.6 -2.2M287.7 294.3l-3.6 -3.1M297.0 293.5l-3.8 -1.6M306.0 294.0l-3.4 -2.5M315.2 293.7l-3.5 -2.0M324.3 294.0l-3.3 -2.6M333.7 293.8l-3.6 -2.2M42.5 297.8l2.1 -4.0M51.7 297.8l2.2 -4.1M60.9 297.9l2.1 -4.2M70.0 297.8l2.3 -4.0M79.1 298.0l2.6 -4.5M88.3 297.9l2.6 -4.1M97.4 297.7l2.9 -3.7M106.6 297.7l2.9 -3.8M115.7 296.8l3.0 -2.0M125.1 296.2l2.5 -0.8M133.9 295.8l3.3 -0.0M143.2 294.9l3.1 1.7M152.1 294.8l3.9 2.0M161.0 294.4l4.4 2.7M210.5 295.0l-2.5 1.6M219.8 295.9l-2.8 -0.2M229.0 297.2l-2.7 -2.8M238.5 297.7l-3.4 -3.8M248.0 297.2l-4.0 -2.8M257.1 297.7l-3.8 -3.8M266.6 297.0l-4.4 -2.5M275.8 297.4l-4.4 -3.2M284.6 297.5l-3.6 -3.3M293.5 296.8l-3.1 -2.0M303.0 296.8l-3.5 -2.0M312.1 297.2l-3.4 -2.8M321.1 297.0l-3.0 -2.4M330.4 296.9l-3.3 -2.1M40.0 301.0l1.0 -4.3M49.0 300.9l1.4 -4.0M57.8 301.0l2.2 -4.2M67.3 301.1l1.5 -4.5M76.2 301.4l2.3 -5.0M85.5 301.0l2.0 -4.1M94.4 300.9l2.6 -4.0M103.6 300.6l2.6 -3.5M112.9 300.4l2.5 -3.0M122.3 300.0l2.1 -2.2M131.2 298.7l2.6 0.3M140.1 298.7l3.2 0.4M149.1 298.3l3.7 1.2M158.1 297.6l4.0 2.6M167.6 297.0l3.4 3.7M207.1 298.0l-2.0 1.7M216.3 299.4l-1.9 -1.1M225.6 300.3l-2.2 -2.8M235.2 301.0l-3.1 -4.2M245.1 300.7l-4.4 -3.7M254.3 301.0l-4.4 -4.2M263.3 301.0l-4.0 -4.2M272.5 300.6l-3.9 -3.5M281.6 300.6l-3.8 -3.5M290.9 300.7l-4.0 -3.6M299.5 300.3l-2.7 -2.9M309.0 299.9l-3.4 -2.0M318.2 300.2l-3.3 -2.7M327.3 300.2l-3.1 -2.6M336.6 300.2l-3.3 -2.7M45.6 304.0l2.1 -4.0M55.6 304.5l0.6 -5.2M64.1 304.3l1.9 -4.7M73.4 304.1l1.8 -4.3M82.8 304.0l1.4 -4.2M91.6 304.0l2.1 -4.1M100.7 303.8l2.2 -3.6M110.1 303.7l2.0 -3.5M119.1 303.2l2.3 -2.4M128.5 302.5l1.8 -1.0M137.2 301.8l2.9 0.2M146.2 301.7l3.3 0.4M155.2 301.4l3.7 1.1M164.5 300.4l3.5 3.1M213.4 301.8l-2.4 0.3M222.8 303.4l-2.6 -2.9M232.2 303.8l-3.0 -3.7M241.7 304.3l-3.8 -4.6M251.4 304.2l-4.7 -4.5M260.8 303.8l-5.1 -3.7M269.7 303.8l-4.5 -3.8M279.0 303.5l-4.7 -3.1M288.0 304.1l-4.3 -4.2M296.8 303.4l-3.5 -2.9M305.7 303.5l-2.9 -3.1M314.9 303.0l-2.9 -2.1M324.3 303.4l-3.3 -2.9M333.6 303.2l-3.6 -2.5M42.7 307.0l1.8 -4.0M51.8 307.1l1.9 -4.1M61.1 307.2l1.7 -4.4M70.5 307.5l1.3 -5.0M79.5 307.5l1.8 -5.0M88.6 307.0l2.0 -4.1M97.8 307.2l1.9 -4.4M107.2 306.6l1.5 -3.3M116.5 306.5l1.4 -2.9M125.6 306.0l1.5 -2.1M134.5 305.7l2.2 -1.3M143.7 305.0l2.2 0.1M152.3 304.6l3.4 0.8M161.5 303.6l3.3 2.8M210.2 305.2l-2.1 -0.4M219.6 306.4l-2.4 -2.7M228.9 307.0l-2.7 -3.9M238.6 307.5l-3.6 -4.9M248.7 307.2l-5.4 -4.5M257.5 307.2l-4.7 -4.3M266.6 307.2l-4.5 -4.3M276.1 307.1l-5.1 -4.1M285.0 306.8l-4.4 -3.6M293.8 306.6l-3.6 -3.1M302.8 306.5l-3.1 -2.9M312.2 306.4l-3.6 -2.7M321.5 306.3l-3.8 -2.5M330.1 306.0l-2.7 -2.1M39.8 310.3l1.4 -4.5M49.3 310.1l0.8 -3.9M58.5 310.3l0.9 -4.5M67.8 310.5l0.6 -4.9M76.5 310.4l1.7 -4.7M85.8 310.6l1.4 -5.0M95.2 310.1l1.1 -4.1M104.1 310.1l1.5 -4.0M113.4 309.9l1.3 -3.6M122.5 309.1l1.7 -2.0M132.1 309.0l0.8 -1.8M140.7 308.9l2.0 -1.6M149.3 308.1l3.2 0.0M158.8 307.0l2.7 2.1M168.0 306.5l2.6 3.2M198.2 308.2l-2.5 -0.3M207.6 308.5l-3.0 -0.9M216.8 309.6l-3.0 -3.0M226.4 310.0l-3.8 -3.8M235.6 310.4l-3.8 -4.7M245.4 310.5l-4.9 -4.9M254.5 310.4l-4.8 -4.7M264.1 310.6l-5.6 -5.0M272.9 310.6l-4.9 -5.1M282.2 310.4l-5.0 -4.5M291.1 309.8l-4.4 -3.4M300.2 309.3l-4.1 -2.5M308.9 309.7l-3.2 -3.3M318.0 309.8l-2.9 -3.5M327.1 309.4l-2.9 -2.6M336.5 309.5l-3.1 -2.9M45.9 313.5l1.6 -4.7M55.2 313.5l1.2 -4.6M64.2 313.7l1.8 -5.0M73.6 313.4l1.2 -4.5M83.3 313.6l0.2 -4.9M92.5 313.7l0.4 -5.2M101.0 313.2l1.8 -4.1M110.3 313.0l1.5 -3.6M119.8 312.6l0.9 -3.0M129.3 312.3l0.2 -2.2M138.2 311.9l0.9 -1.4M147.2 312.0l1.2 -1.7M156.1 310.8l1.9 0.8M165.9 309.2l0.7 3.8M195.4 311.2l-3.1 -0.1M204.7 311.6l-3.4 -0.9M213.9 312.4l-3.3 -2.4M223.3 312.9l-3.8 -3.5M232.7 313.3l-4.2 -4.3M242.2 313.3l-4.7 -4.3M251.7 313.9l-5.3 -5.5M260.8 313.3l-5.0 -4.4M270.3 313.8l-5.7 -5.3M279.6 313.5l-6.0 -4.7M288.2 312.9l-4.8 -3.5M297.2 312.8l-4.4 -3.2M305.7 312.7l-2.9 -3.1M315.1 312.5l-3.4 -2.8M324.2 312.6l-3.2 -3.0M333.3 312.7l-2.9 -3.0M43.1 316.3l1.0 -4.2M52.3 316.5l0.9 -4.6M61.6 316.5l0.7 -4.6M70.9 316.5l0.5 -4.6M80.5 316.8l-0.3 -5.2M89.5 316.4l0.2 -4.4M98.4 316.6l0.8 -4.8M107.8 315.9l0.3 -3.4M117.0 315.7l0.3 -3.0M126.7 315.6l-0.7 -2.8M135.6 315.0l-0.1 -1.5M145.1 315.2l-0.6 -2.0M154.7 314.4l-1.4 -0.3M163.3 312.9l-0.2 2.7M173.0 312.3l-1.2 3.9M201.8 314.6l-3.6 -0.8M211.4 315.2l-4.4 -2.0M220.6 316.0l-4.6 -3.6M230.2 316.7l-5.2 -5.0M239.7 316.4l-5.8 -4.3M249.0 316.9l-6.2 -5.3M257.9 317.2l-5.5 -6.0M267.2 317.0l-5.7 -5.6M276.3 316.7l-5.5 -5.0M285.2 316.6l-4.9 -4.7M293.8 315.9l-3.6 -3.4M302.9 315.8l-3.5 -3.1M312.2 315.4l-3.6 -2.4M321.3 315.6l-3.5 -2.8M330.0 315.6l-2.4 -2.7M40.1 319.6l0.8 -4.6M49.4 319.5l0.7 -4.3M58.4 319.7l0.9 -4.8M67.3 319.9l1.7 -5.1M77.1 319.8l0.4 -5.0M86.2 319.6l0.6 -4.7M95.6 319.4l0.3 -4.2M104.7 319.4l0.4 -4.1M114.6 318.9l-1.0 -3.1M123.7 318.7l-0.8 -2.8M133.0 318.5l-0.9 -2.4M142.5 318.3l-1.7 -1.9M151.9 318.0l-1.9 -1.5M161.2 316.6l-2.3 1.5M170.3 315.4l-2.0 3.7M198.8 317.9l-3.7 -1.2M208.5 318.4l-4.8 -2.3M217.7 318.7l-4.8 -2.9M227.2 319.5l-5.3 -4.4M236.8 319.3l-6.1 -4.1M246.0 320.1l-6.3 -5.5M255.1 320.3l-6.1 -6.0M264.1 320.0l-5.6 -5.4M273.3 320.2l-5.7 -5.8M282.4 319.7l-5.5 -4.7M290.9 318.8l-4.0 -3.0M299.6 319.2l-3.0 -3.9M308.9 318.9l-3.1 -3.1M317.8 318.8l-2.7 -3.0M327.1 318.8l-2.8 -3.0M336.3 318.5l-2.8 -2.3M46.4 323.0l0.5 -5.2M55.7 322.5l0.3 -4.2M64.7 322.8l0.6 -4.9M74.2 322.6l0.0 -4.5M83.2 322.8l0.4 -4.8M92.7 322.7l-0.1 -4.6M101.9 322.4l-0.2 -4.0M110.9 322.5l0.2 -4.2M120.9 321.8l-1.3 -2.8M130.0 321.7l-1.2 -2.6M139.7 321.3l-2.1 -1.8M149.2 321.3l-2.7 -1.8M158.6 320.0l-3.2 0.7M167.5 318.7l-2.6 3.4M195.7 320.9l-3.8 -1.0M205.4 321.2l-4.7 -1.7M214.7 321.8l-5.0 -2.8M224.2 322.4l-5.5 -4.0M233.5 323.0l-5.8 -5.2M242.9 323.0l-6.1 -5.3M251.9 323.2l-5.8 -5.6M261.2 323.2l-6.0 -5.7M270.3 323.0l-5.8 -5.3M279.5 323.0l-5.7 -5.3M288.1 322.4l-4.6 -4.1M296.9 322.1l-3.8 -3.4M305.9 322.0l-3.3 -3.3M315.0 321.8l-3.0 -2.8M324.3 321.5l-3.4 -2.3M333.4 321.7l-3.2 -2.6M43.2 325.9l0.8 -4.9M52.5 326.0l0.5 -5.1M61.8 325.7l0.3 -4.6M70.7 325.7l0.9 -4.6M80.6 325.9l-0.5 -4.9M89.4 325.7l0.4 -4.6M98.6 325.7l0.3 -4.5M108.4 325.6l-0.8 -4.2M117.8 324.8l-1.2 -2.7M127.3 324.4l-2.0 -1.8M136.6 324.1l-2.1 -1.3M146.3 324.1l-3.0 -1.4M155.5 323.9l-3.1 -0.9M165.0 322.1l-3.7 2.7M173.9 321.5l-3.0 3.9M202.7 324.4l-5.5 -1.8M211.9 324.9l-5.5 -2.9M221.2 325.3l-5.8 -3.6M230.8 325.6l-6.4 -4.2M240.2 325.8l-6.8 -4.6M249.1 326.3l-6.2 -5.8M258.3 326.3l-6.3 -5.7M267.6 326.2l-6.4 -5.6M276.2 326.1l-5.3 -5.2M285.5 326.3l-5.5 -5.6M294.0 325.5l-4.0 -4.2M302.8 325.1l-3.4 -3.4M311.4 325.3l-2.1 -3.6M321.1 324.6l-3.0 -2.3M330.3 325.0l-3.1 -3.2M39.9 329.0l1.1 -4.9M49.8 329.0l-0.2 -4.9M58.7 328.7l0.4 -4.4M68.1 328.5l-0.0 -4.1M77.4 328.9l-0.2 -4.7M86.7 328.6l-0.5 -4.2M96.0 328.8l-0.6 -4.5M105.0 328.3l-0.2 -3.5M114.5 328.4l-0.8 -3.7M124.3 327.7l-2.1 -2.4M133.7 327.3l-2.4 -1.7M143.3 326.9l-3.1 -0.9M153.1 326.8l-4.3 -0.5M162.4 326.0l-4.7 1.0M171.3 325.0l-4.0 3.1M199.1 327.4l-4.4 -1.7M208.6 327.7l-5.0 -2.5M218.1 328.3l-5.6 -3.6M227.4 328.6l-5.8 -4.2M237.0 329.2l-6.7 -5.3M246.3 329.0l-6.8 -5.0M255.3 329.3l-6.5 -5.5M264.4 329.1l-6.2 -5.1M273.1 329.3l-5.1 -5.6M282.0 329.0l-4.6 -4.9M290.8 328.6l-3.8 -4.1M300.0 328.0l-3.8 -3.0M308.6 328.3l-2.6 -3.5M318.0 327.9l-3.0 -2.8M327.0 328.2l-2.7 -3.3M336.4 327.7l-3.1 -2.4M46.1 331.7l1.1 -4.2M55.5 331.8l0.6 -4.4M65.0 331.9l0.1 -4.7M74.4 332.0l-0.3 -4.8M83.7 331.7l-0.5 -4.2M93.0 331.6l-0.7 -4.1M102.5 331.4l-1.3 -3.7M112.3 331.5l-2.5 -3.8M121.1 331.2l-1.9 -3.2M130.5 330.4l-2.2 -1.6M140.3 330.0l-3.3 -0.8M150.0 330.0l-4.3 -0.8M159.4 329.6l-4.7 0.0M168.2 328.6l-4.0 2.0M195.9 330.1l-4.1 -1.1M205.5 330.9l-4.9 -2.6M215.1 331.3l-5.7 -3.4M224.4 331.4l-6.0 -3.6M233.9 332.0l-6.5 -4.8M242.9 332.0l-6.2 -4.8M252.2 332.3l-6.3 -5.5M261.4 332.3l-6.4 -5.5M270.4 332.5l-5.9 -5.8M279.5 332.1l-5.7 -5.0M288.1 331.9l-4.6 -4.6M296.7 331.1l-3.3 -3.1M305.7 330.9l-2.9 -2.7M315.0 331.0l-3.2 -2.8M324.0 331.0l-2.8 -2.8M333.6 331.0l-3.5 -2.8M69.7 261.1l-0.7 1.0M69.7 261.1l-1.2 0.1M79.2 261.2l-0.8 0.9M79.2 261.2l-1.2 -0.0M88.5 261.5l-0.9 0.8M88.5 261.5l-1.2 -0.2M98.2 261.8l-1.0 0.6M98.2 261.8l-1.1 -0.4M107.3 261.5l-0.9 0.8M107.3 261.5l-1.2 -0.2M116.5 261.4l-0.9 0.8M116.5 261.4l-1.2 -0.2M126.0 261.7l-1.0 0.7M126.0 261.7l-1.1 -0.4M135.0 262.2l-1.1 0.4M135.0 262.2l-1.0 -0.6M145.0 262.9l-1.2 0.2M145.0 262.9l-0.9 -0.8M154.2 263.5l-1.2 0.0M154.2 263.5l-0.8 -0.9M163.3 263.6l-1.2 -0.0M163.3 263.6l-0.7 -0.9M171.5 263.2l-1.2 -0.1M171.5 263.2l-0.7 -1.0M180.3 263.3l-1.2 -0.2M180.3 263.3l-0.6 -1.0M222.3 263.2l0.7 -1.0M222.3 263.2l1.2 -0.0M231.6 262.6l0.9 -0.8M231.6 262.6l1.2 0.2M241.0 262.3l1.0 -0.7M241.0 262.3l1.1 0.3M250.2 262.2l1.0 -0.6M250.2 262.2l1.1 0.4M259.2 262.1l1.1 -0.5M259.2 262.1l1.1 0.5M268.9 262.3l1.0 -0.7M268.9 262.3l1.1 0.4M278.1 262.3l1.0 -0.7M278.1 262.3l1.1 0.4M287.3 261.8l1.1 -0.4M287.3 261.8l1.0 0.7M296.4 261.6l1.2 -0.3M296.4 261.6l0.9 0.7M305.3 261.6l1.2 -0.3M305.3 261.6l1.0 0.7M314.8 262.2l1.0 -0.6M314.8 262.2l1.1 0.4M323.8 262.3l1.0 -0.7M323.8 262.3l1.1 0.4M333.0 262.0l1.1 -0.5M333.0 262.0l1.1 0.5M66.4 264.4l-0.7 1.0M66.4 264.4l-1.2 0.1M76.1 264.6l-0.9 0.8M76.1 264.6l-1.2 -0.2M85.6 264.4l-0.9 0.8M85.6 264.4l-1.2 -0.2M95.0 264.4l-0.9 0.8M95.0 264.4l-1.2 -0.2M104.0 264.7l-1.0 0.7M104.0 264.7l-1.2 -0.3M113.3 264.7l-1.0 0.7M113.3 264.7l-1.2 -0.3M122.9 264.7l-1.0 0.7M122.9 264.7l-1.2 -0.3M132.1 265.4l-1.1 0.4M132.1 265.4l-1.0 -0.6M141.6 265.7l-1.2 0.3M141.6 265.7l-1.0 -0.7M150.9 266.5l-1.2 -0.0M150.9 266.5l-0.8 -0.9M160.6 267.1l-1.2 -0.1M160.6 267.1l-0.7 -1.0M168.9 266.9l-1.2 -0.2M168.9 266.9l-0.6 -1.0M177.3 266.3l-1.2 -0.1M177.3 266.3l-0.6 -1.0M186.2 265.8l-1.2 0.0M186.2 265.8l-0.8 -0.9M219.8 266.3l0.6 -1.0M219.8 266.3l1.2 -0.2M228.3 266.1l0.8 -0.9M228.3 266.1l1.2 0.1M238.1 265.7l0.9 -0.8M238.1 265.7l1.2 0.1M247.2 265.3l1.0 -0.6M247.2 265.3l1.1 0.4M256.4 265.4l1.0 -0.6M256.4 265.4l1.1 0.4M265.5 265.3l1.0 -0.6M265.5 265.3l1.1 0.4M274.9 265.2l1.1 -0.6M274.9 265.2l1.1 0.5M283.9 265.3l1.0 -0.6M283.9 265.3l1.1 0.4M293.1 265.1l1.1 -0.5M293.1 265.1l1.1 0.5M302.2 264.7l1.2 -0.3M302.2 264.7l1.0 0.7M311.6 265.1l1.1 -0.5M311.6 265.1l1.1 0.5M320.7 265.1l1.1 -0.5M320.7 265.1l1.1 0.5M329.9 264.8l1.1 -0.4M329.9 264.8l1.0 0.6M54.0 267.1l-0.5 1.1M54.0 267.1l-1.2 0.3M63.4 267.1l-0.6 1.1M63.4 267.1l-1.2 0.2M72.8 267.4l-0.7 0.9M72.8 267.4l-1.2 0.0M82.2 266.9l-0.6 1.0M82.2 266.9l-1.2 0.2M91.6 267.3l-0.8 0.9M91.6 267.3l-1.2 -0.0M101.1 267.7l-0.9 0.7M101.1 267.7l-1.2 -0.3M110.3 267.7l-1.0 0.7M110.3 267.7l-1.2 -0.3M119.7 267.7l-1.0 0.7M119.7 267.7l-1.2 -0.3M129.1 268.2l-1.1 0.5M129.1 268.2l-1.1 -0.5M138.3 268.9l-1.2 0.2M138.3 268.9l-0.9 -0.8M147.9 269.6l-1.2 0.0M147.9 269.6l-0.8 -0.9M157.7 270.4l-1.2 -0.1M157.7 270.4l-0.7 -1.0M166.5 270.4l-1.2 -0.2M166.5 270.4l-0.6 -1.0M174.8 270.0l-1.2 -0.2M174.8 270.0l-0.6 -1.1M183.1 269.2l-1.2 -0.2M183.1 269.2l-0.6 -1.1M208.1 269.4l0.4 -1.1M208.1 269.4l1.1 -0.5M216.3 269.4l0.7 -1.0M216.3 269.4l1.2 -0.1M225.4 269.3l0.7 -0.9M225.4 269.3l1.2 -0.0M234.7 268.7l0.9 -0.8M234.7 268.7l1.2 0.2M244.2 268.1l1.1 -0.4M244.2 268.1l1.0 0.6M253.2 268.2l1.1 -0.5M253.2 268.2l1.1 0.5M262.7 268.3l1.0 -0.6M262.7 268.3l1.1 0.4M272.0 268.3l1.0 -0.6M272.0 268.3l1.1 0.4M280.8 268.1l1.1 -0.5M280.8 268.1l1.1 0.6M289.8 267.9l1.1 -0.4M289.8 267.9l1.0 0.6M299.1 268.1l1.1 -0.5M299.1 268.1l1.1 0.6M308.6 267.9l1.1 -0.4M308.6 267.9l1.0 0.7M317.6 267.7l1.2 -0.3M317.6 267.7l0.9 0.7M326.9 268.1l1.1 -0.4M326.9 268.1l1.1 0.6M51.1 270.4l-0.7 1.0M51.1 270.4l-1.2 0.1M60.2 270.0l-0.4 1.1M60.2 270.0l-1.1 0.4M69.6 270.2l-0.6 1.1M69.6 270.2l-1.2 0.2M79.2 270.3l-0.7 1.0M79.2 270.3l-1.2 0.1M88.7 270.5l-0.9 0.8M88.7 270.5l-1.2 -0.1M98.1 270.3l-0.8 0.9M98.1 270.3l-1.2 -0.1M107.3 270.4l-0.8 0.9M107.3 270.4l-1.2 -0.1M116.4 271.0l-1.0 0.6M116.4 271.0l-1.1 -0.4M125.7 271.4l-1.1 0.5M125.7 271.4l-1.1 -0.6M135.1 271.6l-1.1 0.4M135.1 271.6l-1.0 -0.6M145.0 272.4l-1.2 0.1M145.0 272.4l-0.9 -0.8M154.6 273.2l-1.2 -0.1M154.6 273.2l-0.7 -1.0M163.7 273.6l-1.2 -0.2M163.7 273.6l-0.6 -1.0M172.2 273.7l-1.2 -0.3M172.2 273.7l-0.5 -1.1M180.4 272.9l-1.1 -0.3M180.4 272.9l-0.5 -1.1M213.5 272.6l0.6 -1.0M213.5 272.6l1.2 -0.2M222.6 272.6l0.6 -1.0M222.6 272.6l1.2 -0.2M231.6 271.8l0.9 -0.8M231.6 271.8l1.2 0.2M241.1 271.2l1.1 -0.5M241.1 271.2l1.1 0.6M250.3 271.8l0.9 -0.8M250.3 271.8l1.2 0.2M259.7 271.4l1.1 -0.6M259.7 271.4l1.1 0.4M268.9 271.5l1.0 -0.7M268.9 271.5l1.2 0.3M278.0 271.5l1.0 -0.7M278.0 271.5l1.2 0.3M287.2 271.1l1.1 -0.4M287.2 271.1l1.0 0.6M296.5 270.6l1.2 -0.1M296.5 270.6l0.8 0.9M305.3 271.1l1.1 -0.4M305.3 271.1l1.0 0.6M314.5 271.0l1.1 -0.4M314.5 271.0l1.0 0.6M323.7 270.9l1.2 -0.3M323.7 270.9l1.0 0.7M57.0 273.2l-0.4 1.1M57.0 273.2l-1.1 0.4M66.6 273.4l-0.7 1.0M66.6 273.4l-1.2 0.1M75.7 273.2l-0.5 1.1M75.7 273.2l-1.2 0.3M85.4 272.9l-0.6 1.1M85.4 272.9l-1.2 0.2M94.9 273.1l-0.7 1.0M94.9 273.1l-1.2 0.1M104.3 273.5l-0.9 0.8M104.3 273.5l-1.2 -0.1M113.4 273.6l-0.9 0.8M113.4 273.6l-1.2 -0.2M122.7 273.5l-0.9 0.8M122.7 273.5l-1.2 -0.2M131.9 274.2l-1.1 0.6M131.9 274.2l-1.1 -0.5M141.5 275.1l-1.2 0.2M141.5 275.1l-0.9 -0.8M151.2 275.8l-1.2 0.0M151.2 275.8l-0.8 -0.9M160.5 276.8l-1.2 -0.2M160.5 276.8l-0.6 -1.0M169.7 276.9l-1.2 -0.3M169.7 276.9l-0.6 -1.1M177.9 276.3l-1.2 -0.3M177.9 276.3l-0.5 -1.1M186.4 275.2l-1.2 -0.0M186.4 275.2l-0.7 -0.9M210.6 275.5l0.6 -1.0M210.6 275.5l1.2 -0.2M219.2 275.8l0.6 -1.0M219.2 275.8l1.2 -0.2M228.2 274.8l1.0 -0.7M228.2 274.8l1.2 0.3M237.8 274.7l1.0 -0.7M237.8 274.7l1.2 0.3M247.1 274.0l1.2 -0.3M247.1 274.0l1.0 0.7M256.5 274.3l1.1 -0.5M256.5 274.3l1.1 0.5M265.5 274.5l1.0 -0.6M265.5 274.5l1.1 0.4M274.8 274.2l1.1 -0.4M274.8 274.2l1.0 0.6M283.9 274.1l1.1 -0.4M283.9 274.1l1.0 0.6M293.2 273.6l1.2 -0.1M293.2 273.6l0.8 0.9M302.4 273.7l1.2 -0.1M302.4 273.7l0.8 0.8M311.6 273.7l1.2 -0.2M311.6 273.7l0.9 0.8M321.1 274.0l1.2 -0.3M321.1 274.0l1.0 0.7M330.1 274.2l1.1 -0.4M330.1 274.2l1.0 0.6M44.2 275.7l0.1 1.2M44.2 275.7l-0.8 0.8M53.8 276.2l-0.3 1.2M53.8 276.2l-1.1 0.5M63.3 276.2l-0.4 1.1M63.3 276.2l-1.1 0.4M72.9 275.8l-0.4 1.1M72.9 275.8l-1.1 0.4M82.2 276.4l-0.7 1.0M82.2 276.4l-1.2 0.1M91.4 275.8l-0.5 1.1M91.4 275.8l-1.1 0.4M100.8 276.2l-0.7 1.0M100.8 276.2l-1.2 0.1M110.2 276.3l-0.7 0.9M110.2 276.3l-1.2 0.0M119.4 276.3l-0.7 0.9M119.4 276.3l-1.2 0.0M128.8 277.5l-1.1 0.5M128.8 277.5l-1.1 -0.6M138.4 277.6l-1.1 0.4M138.4 277.6l-1.0 -0.6M147.8 278.2l-1.2 0.2M147.8 278.2l-0.9 -0.8M157.3 279.5l-1.2 -0.1M157.3 279.5l-0.7 -1.0M166.5 280.1l-1.2 -0.3M166.5 280.1l-0.5 -1.1M175.3 279.9l-1.2 -0.3M175.3 279.9l-0.5 -1.1M183.3 278.8l-1.2 -0.3M183.3 278.8l-0.5 -1.1M207.6 279.1l0.4 -1.1M207.6 279.1l1.1 -0.5M215.6 278.7l0.8 -0.9M215.6 278.7l1.2 -0.0M225.1 277.9l0.9 -0.7M225.1 277.9l1.2 0.3M234.8 277.2l1.1 -0.4M234.8 277.2l1.0 0.6M244.4 277.1l1.2 -0.3M244.4 277.1l1.0 0.7M253.6 277.2l1.1 -0.4M253.6 277.2l1.0 0.7M262.8 276.8l1.2 -0.1M262.8 276.8l0.8 0.8M271.8 277.0l1.2 -0.3M271.8 277.0l0.9 0.7M281.0 277.3l1.1 -0.4M281.0 277.3l1.0 0.6M290.0 276.8l1.2 -0.2M290.0 276.8l0.9 0.8M299.2 277.0l1.2 -0.3M299.2 277.0l1.0 0.7M308.2 277.0l1.2 -0.3M308.2 277.0l1.0 0.7M317.5 276.7l1.2 -0.2M317.5 276.7l0.9 0.8M326.9 277.0l1.2 -0.3M326.9 277.0l1.0 0.7M41.3 279.0l-0.0 1.2M41.3 279.0l-0.9 0.7M50.7 279.0l-0.2 1.2M50.7 279.0l-1.0 0.6M59.6 278.8l0.1 1.2M59.6 278.8l-0.9 0.8M69.6 279.1l-0.4 1.1M69.6 279.1l-1.1 0.4M79.3 279.1l-0.6 1.0M79.3 279.1l-1.2 0.2M88.3 278.9l-0.5 1.1M88.3 278.9l-1.1 0.4M97.6 279.3l-0.7 1.0M97.6 279.3l-1.2 0.1M107.1 279.2l-0.7 1.0M107.1 279.2l-1.2 0.1M116.2 279.8l-0.9 0.8M116.2 279.8l-1.2 -0.1M125.8 280.1l-1.0 0.7M125.8 280.1l-1.2 -0.3M134.8 280.5l-1.1 0.5M134.8 280.5l-1.1 -0.6M144.3 281.4l-1.2 0.1M144.3 281.4l-0.8 -0.9M154.0 282.4l-1.2 -0.1M154.0 282.4l-0.6 -1.0M163.5 283.1l-1.2 -0.3M163.5 283.1l-0.5 -1.1M172.4 283.2l-1.2 -0.3M172.4 283.2l-0.5 -1.1M180.6 282.3l-1.1 -0.4M180.6 282.3l-0.5 -1.1M189.1 281.6l-1.2 -0.3M189.1 281.6l-0.5 -1.1M204.6 281.8l0.5 -1.1M204.6 281.8l1.2 -0.3M212.6 282.1l0.7 -1.0M212.6 282.1l1.2 -0.1M222.1 281.0l1.0 -0.7M222.1 281.0l1.2 0.3M231.6 280.5l1.1 -0.5M231.6 280.5l1.1 0.5M240.8 280.0l1.2 -0.3M240.8 280.0l1.0 0.7M250.3 280.1l1.2 -0.3M250.3 280.1l1.0 0.7M259.3 280.0l1.2 -0.3M259.3 280.0l0.9 0.7M268.9 280.2l1.1 -0.4M268.9 280.2l1.0 0.6M278.2 279.9l1.2 -0.1M278.2 279.9l0.8 0.9M287.4 280.0l1.2 -0.2M287.4 280.0l0.9 0.8M296.1 280.1l1.2 -0.3M296.1 280.1l1.0 0.7M305.5 280.0l1.2 -0.2M305.5 280.0l0.9 0.8M314.7 280.1l1.2 -0.3M314.7 280.1l1.0 0.7M324.0 279.8l1.2 -0.1M324.0 279.8l0.8 0.9M333.3 279.9l1.2 -0.1M333.3 279.9l0.9 0.8M47.6 282.2l-0.2 1.2M47.6 282.2l-1.0 0.6M56.9 281.8l-0.1 1.2M56.9 281.8l-1.0 0.7M66.2 281.6l-0.1 1.2M66.2 281.6l-1.0 0.7M75.7 282.2l-0.4 1.1M75.7 282.2l-1.1 0.4M84.9 281.9l-0.3 1.1M84.9 281.9l-1.1 0.5M94.2 281.9l-0.4 1.1M94.2 281.9l-1.1 0.4M104.0 282.4l-0.7 1.0M104.0 282.4l-1.2 0.1M112.9 282.4l-0.7 1.0M112.9 282.4l-1.2 0.1M122.1 282.7l-0.8 0.9M122.1 282.7l-1.2 0.0M131.4 283.2l-1.0 0.7M131.4 283.2l-1.1 -0.3M141.1 284.4l-1.2 0.1M141.1 284.4l-0.9 -0.8M150.6 284.9l-1.2 -0.0M150.6 284.9l-0.7 -1.0M159.7 285.5l-1.2 -0.3M159.7 285.5l-0.6 -1.1M169.2 286.3l-1.1 -0.4M169.2 286.3l-0.4 -1.1M178.0 285.9l-1.1 -0.4M178.0 285.9l-0.4 -1.1M186.0 284.6l-1.2 -0.3M186.0 284.6l-0.5 -1.1M194.5 285.0l-0.9 -0.8M194.5 285.0l0.1 -1.2M201.8 285.2l0.2 -1.2M201.8 285.2l1.1 -0.6M210.1 285.0l0.6 -1.0M210.1 285.0l1.2 -0.2M219.1 284.1l0.9 -0.7M219.1 284.1l1.2 0.2M228.1 283.4l1.1 -0.4M228.1 283.4l1.1 0.6M237.9 282.7l1.2 -0.0M237.9 282.7l0.8 0.9M247.4 282.5l1.2 0.1M247.4 282.5l0.6 1.0M256.8 282.7l1.2 0.1M256.8 282.7l0.7 1.0M265.7 282.8l1.2 -0.1M265.7 282.8l0.8 0.9M274.9 283.0l1.2 -0.2M274.9 283.0l0.9 0.8M283.9 283.0l1.2 -0.2M283.9 283.0l0.9 0.8M293.3 282.7l1.2 -0.0M293.3 282.7l0.8 0.9M302.5 282.6l1.2 0.0M302.5 282.6l0.7 0.9M311.6 283.0l1.2 -0.2M311.6 283.0l0.9 0.8M320.9 283.0l1.2 -0.2M320.9 283.0l0.9 0.8M330.2 282.6l1.2 0.1M330.2 282.6l0.7 1.0M44.1 284.8l0.2 1.2M44.1 284.8l-0.8 0.9M53.9 284.9l-0.1 1.2M53.9 284.9l-1.0 0.6M63.0 285.0l-0.2 1.2M63.0 285.0l-1.0 0.6M72.2 284.6l-0.0 1.2M72.2 284.6l-0.9 0.7M81.9 285.2l-0.5 1.1M81.9 285.2l-1.2 0.3M91.3 284.7l-0.3 1.1M91.3 284.7l-1.1 0.5M100.6 285.2l-0.5 1.1M100.6 285.2l-1.2 0.3M109.9 285.2l-0.6 1.0M109.9 285.2l-1.2 0.2M118.9 285.6l-0.7 1.0M118.9 285.6l-1.2 0.1M128.4 286.5l-1.1 0.6M128.4 286.5l-1.1 -0.4M138.1 286.9l-1.1 0.4M138.1 286.9l-1.0 -0.6M147.1 287.8l-1.2 -0.0M147.1 287.8l-0.7 -0.9M156.5 288.4l-1.2 -0.2M156.5 288.4l-0.6 -1.0M166.0 288.8l-1.2 -0.3M166.0 288.8l-0.5 -1.1M175.2 289.0l-1.2 -0.3M175.2 289.0l-0.5 -1.1M183.0 288.0l-1.1 -0.4M183.0 288.0l-0.4 -1.1M199.1 288.3l0.1 -1.2M199.1 288.3l1.0 -0.7M207.3 288.3l0.5 -1.1M207.3 288.3l1.2 -0.3M215.8 287.1l1.0 -0.7M215.8 287.1l1.2 0.3M225.1 286.4l1.1 -0.4M225.1 286.4l1.1 0.6M234.4 285.6l1.2 -0.1M234.4 285.6l0.8 0.9M244.3 285.7l1.2 0.1M244.3 285.7l0.7 1.0M253.4 285.9l1.2 -0.1M253.4 285.9l0.8 0.9M262.4 285.9l1.2 -0.1M262.4 285.9l0.9 0.8M272.1 285.5l1.2 0.2M272.1 285.5l0.6 1.0M280.9 285.8l1.2 -0.0M280.9 285.8l0.8 0.9M290.4 286.0l1.2 -0.1M290.4 286.0l0.8 0.9M299.6 285.6l1.2 0.1M299.6 285.6l0.6 1.0M308.5 285.8l1.2 -0.0M308.5 285.8l0.8 0.9M318.0 285.5l1.2 0.2M318.0 285.5l0.6 1.0M327.1 285.8l1.2 0.0M327.1 285.8l0.8 0.9M41.6 287.8l-0.1 1.2M41.6 287.8l-1.0 0.7M50.8 287.6l-0.1 1.2M50.8 287.6l-1.0 0.7M59.9 287.7l-0.1 1.2M59.9 287.7l-1.0 0.7M69.7 288.3l-0.5 1.1M69.7 288.3l-1.2 0.3M78.7 287.8l-0.3 1.2M78.7 287.8l-1.1 0.5M88.2 287.6l-0.3 1.2M88.2 287.6l-1.1 0.5M97.4 287.7l-0.3 1.2M97.4 287.7l-1.1 0.5M106.9 288.4l-0.6 1.0M106.9 288.4l-1.2 0.1M115.9 288.3l-0.6 1.1M115.9 288.3l-1.2 0.2M125.3 289.0l-0.9 0.8M125.3 289.0l-1.2 -0.1M134.4 289.8l-1.1 0.4M134.4 289.8l-1.0 -0.6M143.6 290.6l-1.2 -0.0M143.6 290.6l-0.7 -0.9M153.4 291.1l-1.2 -0.1M153.4 291.1l-0.7 -1.0M162.6 291.3l-1.2 -0.2M162.6 291.3l-0.6 -1.0M171.9 291.9l-1.2 -0.3M171.9 291.9l-0.5 -1.1M180.3 291.5l-1.1 -0.4M180.3 291.5l-0.4 -1.1M188.7 291.2l-1.0 -0.7M188.7 291.2l-0.1 -1.2M196.9 291.3l-0.5 -1.1M196.9 291.3l0.6 -1.1M205.1 291.7l0.1 -1.2M205.1 291.7l1.0 -0.7M213.3 290.6l0.8 -0.9M213.3 290.6l1.2 0.0M222.3 289.2l1.2 -0.3M222.3 289.2l1.0 0.7M231.8 288.6l1.2 0.1M231.8 288.6l0.7 1.0M241.0 288.4l1.2 0.2M241.0 288.4l0.6 1.0M250.2 288.8l1.2 -0.0M250.2 288.8l0.8 0.9M259.5 288.7l1.2 0.0M259.5 288.7l0.7 1.0M268.6 288.6l1.2 0.1M268.6 288.6l0.7 1.0M277.8 288.9l1.2 -0.1M277.8 288.9l0.8 0.9M287.3 288.6l1.2 0.2M287.3 288.6l0.6 1.0M296.3 288.6l1.2 0.1M296.3 288.6l0.7 1.0M305.7 289.0l1.2 -0.0M305.7 289.0l0.8 0.9M314.7 288.5l1.2 0.1M314.7 288.5l0.7 1.0M324.1 288.5l1.2 0.2M324.1 288.5l0.6 1.0M333.1 288.7l1.2 0.0M333.1 288.7l0.7 1.0M47.7 290.6l-0.0 1.2M47.7 290.6l-0.9 0.8M56.9 290.9l-0.1 1.2M56.9 290.9l-1.0 0.7M66.4 290.6l-0.1 1.2M66.4 290.6l-1.0 0.7M75.9 290.8l-0.3 1.2M75.9 290.8l-1.1 0.5M84.7 290.9l-0.2 1.2M84.7 290.9l-1.0 0.6M93.9 291.0l-0.2 1.2M93.9 291.0l-1.0 0.6M103.1 291.1l-0.3 1.2M103.1 291.1l-1.1 0.5M112.5 291.5l-0.5 1.1M112.5 291.5l-1.2 0.3M121.9 291.8l-0.7 1.0M121.9 291.8l-1.2 0.1M131.1 292.6l-1.0 0.6M131.1 292.6l-1.1 -0.4M140.2 293.3l-1.2 0.1M140.2 293.3l-0.8 -0.8M150.0 293.9l-1.2 -0.0M150.0 293.9l-0.7 -1.0M159.4 294.8l-1.2 -0.3M159.4 294.8l-0.5 -1.1M168.5 294.8l-1.1 -0.4M168.5 294.8l-0.5 -1.1M210.8 294.1l0.4 -1.1M210.8 294.1l1.1 -0.4M219.4 292.7l1.1 -0.5M219.4 292.7l1.1 0.5M228.8 290.9l1.1 0.4M228.8 290.9l0.4 1.1M237.9 291.1l1.2 0.3M237.9 291.1l0.5 1.1M247.3 291.3l1.2 0.3M247.3 291.3l0.5 1.1M256.6 291.4l1.2 0.3M256.6 291.4l0.5 1.1M265.6 291.1l1.1 0.3M265.6 291.1l0.5 1.1M274.9 291.6l1.2 0.1M274.9 291.6l0.6 1.0M284.1 291.2l1.2 0.3M284.1 291.2l0.5 1.1M293.2 291.9l1.2 -0.0M293.2 291.9l0.8 0.9M302.6 291.5l1.2 0.2M302.6 291.5l0.6 1.1M311.7 291.8l1.2 0.1M311.7 291.8l0.7 1.0M321.0 291.5l1.2 0.3M321.0 291.5l0.6 1.1M330.1 291.6l1.2 0.1M330.1 291.6l0.7 1.0M44.6 293.8l-0.1 1.2M44.6 293.8l-1.0 0.7M53.9 293.8l-0.1 1.2M53.9 293.8l-1.0 0.7M63.1 293.7l-0.0 1.2M63.1 293.7l-0.9 0.7M72.3 293.8l-0.1 1.2M72.3 293.8l-1.0 0.7M81.7 293.6l-0.1 1.2M81.7 293.6l-1.0 0.7M90.9 293.8l-0.2 1.2M90.9 293.8l-1.0 0.6M100.2 294.0l-0.3 1.2M100.2 294.0l-1.1 0.5M109.4 293.9l-0.3 1.2M109.4 293.9l-1.1 0.6M118.7 294.8l-0.6 1.0M118.7 294.8l-1.2 0.2M137.2 295.8l-1.1 0.5M137.2 295.8l-1.1 -0.5M146.3 296.7l-1.2 -0.1M146.3 296.7l-0.7 -1.0M155.9 296.8l-1.2 -0.0M155.9 296.8l-0.7 -0.9M165.4 297.2l-1.2 -0.1M165.4 297.2l-0.7 -1.0M226.2 294.4l1.1 0.4M226.2 294.4l0.4 1.1M235.1 293.9l1.1 0.5M235.1 293.9l0.4 1.1M244.0 294.4l1.2 0.2M244.0 294.4l0.6 1.0M253.3 293.9l1.1 0.4M253.3 293.9l0.4 1.1M262.2 294.6l1.2 0.1M262.2 294.6l0.7 1.0M271.4 294.2l1.2 0.2M271.4 294.2l0.6 1.1M281.0 294.2l1.1 0.4M281.0 294.2l0.4 1.1M290.4 294.8l1.2 0.2M290.4 294.8l0.6 1.0M299.4 294.8l1.2 0.1M299.4 294.8l0.7 1.0M308.7 294.4l1.2 0.3M308.7 294.4l0.5 1.1M318.1 294.6l1.2 0.3M318.1 294.6l0.5 1.1M327.1 294.8l1.2 0.1M327.1 294.8l0.6 1.0M41.0 296.7l0.2 1.2M41.0 296.7l-0.8 0.9M50.4 296.9l0.1 1.2M50.4 296.9l-0.8 0.9M60.0 296.8l-0.0 1.2M60.0 296.8l-1.0 0.7M68.9 296.6l0.1 1.2M68.9 296.6l-0.8 0.9M78.5 296.4l0.0 1.2M78.5 296.4l-0.9 0.8M87.5 296.8l-0.0 1.2M87.5 296.8l-0.9 0.8M97.0 296.9l-0.2 1.2M97.0 296.9l-1.0 0.6M106.2 297.1l-0.2 1.2M106.2 297.1l-1.1 0.6M115.4 297.4l-0.3 1.2M115.4 297.4l-1.1 0.5M124.4 297.8l-0.4 1.1M124.4 297.8l-1.1 0.4M143.3 299.1l-1.1 0.4M143.3 299.1l-1.0 -0.6M152.8 299.5l-1.2 0.2M152.8 299.5l-0.9 -0.8M162.1 300.2l-1.2 -0.2M162.1 300.2l-0.6 -1.0M171.0 300.7l-1.1 -0.4M171.0 300.7l-0.4 -1.1M223.4 297.5l1.1 0.5M223.4 297.5l0.3 1.2M232.2 296.8l1.1 0.6M232.2 296.8l0.2 1.2M240.7 297.0l1.2 0.3M240.7 297.0l0.5 1.1M249.9 296.8l1.1 0.4M249.9 296.8l0.4 1.1M259.3 296.8l1.1 0.4M259.3 296.8l0.4 1.1M268.5 297.2l1.2 0.3M268.5 297.2l0.5 1.1M277.8 297.1l1.1 0.4M277.8 297.1l0.5 1.1M286.9 297.1l1.1 0.4M286.9 297.1l0.5 1.1M296.8 297.4l1.1 0.4M296.8 297.4l0.4 1.1M305.6 297.9l1.2 0.1M305.6 297.9l0.7 1.0M314.9 297.6l1.2 0.3M314.9 297.6l0.5 1.1M324.2 297.6l1.2 0.3M324.2 297.6l0.5 1.1M333.3 297.5l1.2 0.3M333.3 297.5l0.5 1.1M47.7 299.9l-0.0 1.2M47.7 299.9l-1.0 0.7M56.1 299.4l0.4 1.1M56.1 299.4l-0.6 1.0M66.0 299.6l0.1 1.2M66.0 299.6l-0.9 0.8M75.1 299.8l0.1 1.2M75.1 299.8l-0.9 0.8M84.1 299.9l0.2 1.2M84.1 299.9l-0.8 0.9M93.7 299.9l-0.0 1.2M93.7 299.9l-1.0 0.7M103.0 300.1l-0.1 1.2M103.0 300.1l-1.0 0.7M112.0 300.2l-0.1 1.2M112.0 300.2l-1.0 0.7M121.4 300.7l-0.4 1.1M121.4 300.7l-1.1 0.4M149.5 302.2l-1.1 0.4M149.5 302.2l-1.0 -0.6M158.9 302.5l-1.2 0.2M158.9 302.5l-0.9 -0.8M168.0 303.5l-1.1 -0.3M168.0 303.5l-0.5 -1.1M220.1 300.5l1.1 0.5M220.1 300.5l0.3 1.2M229.1 300.1l1.1 0.5M229.1 300.1l0.3 1.2M238.0 299.6l1.1 0.5M238.0 299.6l0.3 1.2M246.7 299.7l1.1 0.4M246.7 299.7l0.4 1.1M255.7 300.1l1.2 0.2M255.7 300.1l0.6 1.1M265.2 300.1l1.2 0.3M265.2 300.1l0.5 1.1M274.3 300.4l1.2 0.2M274.3 300.4l0.6 1.0M283.7 299.8l1.1 0.4M283.7 299.8l0.4 1.1M293.3 300.5l1.2 0.3M293.3 300.5l0.5 1.1M302.8 300.4l1.1 0.5M302.8 300.4l0.4 1.1M312.0 300.9l1.2 0.2M312.0 300.9l0.6 1.0M321.0 300.5l1.2 0.3M321.0 300.5l0.5 1.1M330.1 300.7l1.2 0.2M330.1 300.7l0.6 1.0M44.5 303.0l0.0 1.2M44.5 303.0l-0.9 0.8M53.7 303.0l0.0 1.2M53.7 303.0l-0.9 0.8M62.8 302.8l0.1 1.2M62.8 302.8l-0.9 0.8M71.8 302.5l0.2 1.2M71.8 302.5l-0.8 0.9M81.3 302.5l0.1 1.2M81.3 302.5l-0.8 0.8M90.6 303.0l-0.0 1.2M90.6 303.0l-0.9 0.7M99.7 302.8l0.0 1.2M99.7 302.8l-0.9 0.8M108.7 303.4l0.0 1.2M108.7 303.4l-0.9 0.8M117.9 303.5l0.0 1.2M117.9 303.5l-0.9 0.8M155.7 305.4l-1.2 0.3M155.7 305.4l-0.9 -0.7M164.8 306.4l-1.2 -0.3M164.8 306.4l-0.5 -1.1M217.2 303.7l1.1 0.5M217.2 303.7l0.3 1.1M226.2 303.1l1.0 0.6M226.2 303.1l0.2 1.2M235.0 302.6l1.1 0.6M235.0 302.6l0.2 1.2M243.3 302.8l1.2 0.3M243.3 302.8l0.5 1.1M252.8 302.9l1.1 0.4M252.8 302.9l0.5 1.1M262.1 302.9l1.1 0.4M262.1 302.9l0.4 1.1M271.1 303.0l1.2 0.3M271.1 303.0l0.5 1.1M280.6 303.2l1.2 0.3M280.6 303.2l0.5 1.1M290.2 303.5l1.2 0.3M290.2 303.5l0.5 1.1M299.6 303.6l1.1 0.4M299.6 303.6l0.5 1.1M308.6 303.7l1.2 0.2M308.6 303.7l0.6 1.1M317.7 303.8l1.2 0.2M317.7 303.8l0.6 1.0M327.4 304.0l1.2 0.2M327.4 304.0l0.6 1.1M41.2 305.8l0.2 1.2M41.2 305.8l-0.8 0.9M50.1 306.1l0.3 1.2M50.1 306.1l-0.7 1.0M59.3 305.9l0.3 1.2M59.3 305.9l-0.7 1.0M68.4 305.7l0.4 1.1M68.4 305.7l-0.6 1.0M78.2 305.7l0.1 1.2M78.2 305.7l-0.9 0.8M87.2 305.6l0.2 1.2M87.2 305.6l-0.8 0.9M96.3 306.0l0.2 1.2M96.3 306.0l-0.8 0.9M105.7 306.1l0.1 1.2M105.7 306.1l-0.9 0.8M114.8 306.3l0.1 1.2M114.8 306.3l-0.9 0.8M152.5 308.1l-1.1 0.5M152.5 308.1l-1.1 -0.5M161.5 309.2l-1.2 -0.3M161.5 309.2l-0.5 -1.1M170.6 309.7l-1.1 -0.5M170.6 309.7l-0.3 -1.2M204.6 307.6l1.2 -0.2M204.6 307.6l0.9 0.8M213.8 306.6l1.1 0.4M213.8 306.6l0.4 1.1M222.6 306.2l1.1 0.4M222.6 306.2l0.4 1.1M231.8 305.8l1.1 0.5M231.8 305.8l0.3 1.2M240.5 305.7l1.1 0.4M240.5 305.7l0.4 1.1M249.7 305.8l1.1 0.4M249.7 305.8l0.4 1.1M258.5 305.6l1.2 0.3M258.5 305.6l0.5 1.1M268.1 305.5l1.1 0.4M268.1 305.5l0.4 1.1M277.2 305.8l1.1 0.4M277.2 305.8l0.5 1.1M286.7 306.4l1.2 0.3M286.7 306.4l0.6 1.1M296.0 306.9l1.2 0.1M296.0 306.9l0.7 1.0M305.7 306.4l1.1 0.4M305.7 306.4l0.4 1.1M315.1 306.4l1.1 0.5M315.1 306.4l0.3 1.2M324.3 306.8l1.1 0.3M324.3 306.8l0.5 1.1M333.4 306.7l1.1 0.4M333.4 306.7l0.4 1.1M47.4 308.8l0.1 1.2M47.4 308.8l-0.8 0.9M56.5 308.9l0.2 1.2M56.5 308.9l-0.8 0.9M65.9 308.7l0.1 1.2M65.9 308.7l-0.8 0.9M74.8 308.9l0.2 1.2M74.8 308.9l-0.8 0.9M83.5 308.7l0.5 1.1M83.5 308.7l-0.6 1.1M92.8 308.6l0.4 1.1M92.8 308.6l-0.6 1.0M102.7 309.1l0.0 1.2M102.7 309.1l-0.9 0.8M111.8 309.3l0.1 1.2M111.8 309.3l-0.9 0.8M120.7 309.7l0.2 1.2M120.7 309.7l-0.8 0.9M166.6 313.1l-0.7 -1.0M166.6 313.1l0.3 -1.2M192.3 311.1l1.1 -0.5M192.3 311.1l1.1 0.6M201.3 310.7l1.2 -0.2M201.3 310.7l0.9 0.8M210.6 309.9l1.2 0.2M210.6 309.9l0.6 1.1M219.5 309.4l1.1 0.4M219.5 309.4l0.5 1.1M228.5 309.0l1.1 0.4M228.5 309.0l0.4 1.1M237.5 309.0l1.1 0.4M237.5 309.0l0.4 1.1M246.4 308.4l1.1 0.4M246.4 308.4l0.4 1.1M255.7 309.0l1.2 0.3M255.7 309.0l0.5 1.1M264.6 308.5l1.1 0.4M264.6 308.5l0.4 1.1M273.6 308.8l1.2 0.3M273.6 308.8l0.5 1.1M283.4 309.4l1.2 0.2M283.4 309.4l0.6 1.1M292.8 309.6l1.2 0.2M292.8 309.6l0.6 1.1M302.8 309.6l1.1 0.4M302.8 309.6l0.4 1.1M311.8 309.8l1.2 0.3M311.8 309.8l0.5 1.1M321.0 309.7l1.1 0.4M321.0 309.7l0.4 1.1M330.4 309.7l1.1 0.4M330.4 309.7l0.4 1.1M44.1 312.1l0.2 1.2M44.1 312.1l-0.8 0.9M53.2 311.9l0.3 1.2M53.2 311.9l-0.7 1.0M62.3 312.0l0.3 1.2M62.3 312.0l-0.7 1.0M71.4 311.9l0.4 1.1M71.4 311.9l-0.6 1.0M80.2 311.7l0.6 1.1M80.2 311.7l-0.5 1.1M89.7 312.1l0.5 1.1M89.7 312.1l-0.6 1.1M99.2 311.8l0.3 1.2M99.2 311.8l-0.7 1.0M108.1 312.5l0.4 1.1M108.1 312.5l-0.6 1.0M171.8 316.2l-0.2 -1.2M171.8 316.2l0.8 -0.9M198.2 313.8l1.2 -0.3M198.2 313.8l1.0 0.7M206.9 313.2l1.2 -0.0M206.9 313.2l0.8 0.9M216.1 312.5l1.2 0.3M216.1 312.5l0.5 1.1M225.0 311.7l1.1 0.4M225.0 311.7l0.4 1.1M233.9 312.1l1.2 0.2M233.9 312.1l0.6 1.1M242.9 311.6l1.2 0.3M242.9 311.6l0.5 1.1M252.4 311.2l1.1 0.5M252.4 311.2l0.3 1.1M261.5 311.4l1.1 0.4M261.5 311.4l0.4 1.1M270.8 311.7l1.1 0.3M270.8 311.7l0.5 1.1M280.3 311.9l1.1 0.4M280.3 311.9l0.4 1.1M290.2 312.5l1.1 0.4M290.2 312.5l0.4 1.1M299.4 312.7l1.2 0.3M299.4 312.7l0.5 1.1M308.6 313.0l1.2 0.2M308.6 313.0l0.6 1.0M317.8 312.8l1.2 0.3M317.8 312.8l0.5 1.1M327.6 312.9l1.1 0.5M327.6 312.9l0.3 1.1M40.9 315.0l0.3 1.2M40.9 315.0l-0.7 1.0M50.0 315.1l0.3 1.2M50.0 315.1l-0.7 1.0M59.4 314.9l0.3 1.2M59.4 314.9l-0.7 1.0M68.9 314.7l0.1 1.2M68.9 314.7l-0.8 0.9M77.5 314.8l0.4 1.1M77.5 314.8l-0.6 1.0M86.8 315.0l0.4 1.1M86.8 315.0l-0.6 1.0M95.8 315.2l0.4 1.1M95.8 315.2l-0.6 1.0M105.1 315.2l0.4 1.1M105.1 315.2l-0.6 1.0M113.6 315.7l0.8 0.9M113.6 315.7l-0.1 1.2M168.3 319.2l0.1 -1.2M168.3 319.2l1.0 -0.7M195.0 316.7l1.2 -0.2M195.0 316.7l0.9 0.8M203.7 316.2l1.2 -0.0M203.7 316.2l0.8 0.9M212.9 315.9l1.2 0.1M212.9 315.9l0.7 1.0M221.8 315.1l1.2 0.3M221.8 315.1l0.5 1.1M230.6 315.3l1.2 0.2M230.6 315.3l0.6 1.0M239.8 314.5l1.2 0.3M239.8 314.5l0.5 1.1M249.1 314.3l1.1 0.4M249.1 314.3l0.4 1.1M258.5 314.6l1.1 0.4M258.5 314.6l0.4 1.1M267.7 314.4l1.1 0.4M267.7 314.4l0.4 1.1M277.0 314.9l1.2 0.3M277.0 314.9l0.5 1.1M286.9 315.8l1.2 0.2M286.9 315.8l0.6 1.1M296.6 315.4l1.1 0.5M296.6 315.4l0.3 1.2M305.7 315.7l1.1 0.4M305.7 315.7l0.4 1.1M315.2 315.8l1.1 0.5M315.2 315.8l0.3 1.2M324.3 315.8l1.1 0.4M324.3 315.8l0.4 1.1M333.5 316.1l1.2 0.3M333.5 316.1l0.5 1.1M46.9 317.8l0.4 1.1M46.9 317.8l-0.6 1.0M56.0 318.3l0.4 1.1M56.0 318.3l-0.6 1.0M65.3 317.9l0.4 1.1M65.3 317.9l-0.6 1.0M74.2 318.1l0.5 1.1M74.2 318.1l-0.5 1.1M83.6 318.0l0.4 1.1M83.6 318.0l-0.6 1.0M92.6 318.1l0.5 1.1M92.6 318.1l-0.5 1.1M101.7 318.4l0.6 1.1M101.7 318.4l-0.5 1.1M111.1 318.2l0.5 1.1M111.1 318.2l-0.6 1.1M119.6 319.0l0.9 0.8M119.6 319.0l-0.0 1.2M146.5 319.5l1.2 0.2M146.5 319.5l0.6 1.0M155.4 320.7l1.0 -0.7M155.4 320.7l1.2 0.3M164.9 322.1l0.2 -1.2M164.9 322.1l1.1 -0.6M191.9 319.9l1.2 -0.2M191.9 319.9l0.9 0.8M200.7 319.5l1.2 -0.1M200.7 319.5l0.8 0.9M209.7 319.0l1.2 0.1M209.7 319.0l0.7 1.0M218.7 318.4l1.2 0.2M218.7 318.4l0.6 1.1M227.8 317.8l1.1 0.3M227.8 317.8l0.5 1.1M236.8 317.7l1.2 0.3M236.8 317.7l0.5 1.1M246.1 317.6l1.1 0.4M246.1 317.6l0.4 1.1M255.2 317.5l1.1 0.4M255.2 317.5l0.4 1.1M264.5 317.7l1.1 0.4M264.5 317.7l0.5 1.1M273.8 317.7l1.1 0.4M273.8 317.7l0.4 1.1M283.5 318.3l1.1 0.3M283.5 318.3l0.5 1.1M293.2 318.7l1.1 0.3M293.2 318.7l0.5 1.1M302.6 318.7l1.1 0.4M302.6 318.7l0.4 1.1M311.9 319.0l1.1 0.4M311.9 319.0l0.5 1.1M320.9 319.2l1.2 0.2M320.9 319.2l0.6 1.0M330.2 319.1l1.2 0.3M330.2 319.1l0.5 1.1M43.9 321.0l0.3 1.2M43.9 321.0l-0.7 1.0M53.0 320.9l0.4 1.1M53.0 320.9l-0.6 1.0M62.1 321.2l0.4 1.1M62.1 321.2l-0.6 1.0M71.6 321.2l0.3 1.2M71.6 321.2l-0.7 1.0M80.1 321.0l0.6 1.0M80.1 321.0l-0.4 1.1M89.8 321.2l0.4 1.1M89.8 321.2l-0.6 1.0M98.9 321.2l0.4 1.1M98.9 321.2l-0.6 1.0M107.6 321.3l0.7 1.0M107.6 321.3l-0.3 1.2M143.3 322.7l1.2 -0.0M143.3 322.7l0.8 0.9M152.4 323.0l1.2 -0.2M152.4 323.0l0.9 0.8M161.3 324.8l0.6 -1.1M161.3 324.8l1.2 -0.2M170.8 325.4l0.3 -1.2M170.8 325.4l1.1 -0.5M197.2 322.5l1.2 -0.1M197.2 322.5l0.9 0.8M206.4 322.0l1.2 0.1M206.4 322.0l0.7 1.0M215.5 321.6l1.2 0.1M215.5 321.6l0.6 1.0M224.4 321.3l1.2 0.2M224.4 321.3l0.6 1.0M233.4 321.1l1.2 0.2M233.4 321.1l0.6 1.0M242.9 320.5l1.1 0.4M242.9 320.5l0.4 1.1M252.0 320.6l1.1 0.3M252.0 320.6l0.5 1.1M261.1 320.7l1.2 0.3M261.1 320.7l0.5 1.1M270.9 320.8l1.1 0.4M270.9 320.8l0.4 1.1M280.0 320.6l1.1 0.4M280.0 320.6l0.4 1.1M290.0 321.3l1.1 0.4M290.0 321.3l0.4 1.1M299.5 321.8l1.1 0.4M299.5 321.8l0.4 1.1M309.3 321.6l1.0 0.7M309.3 321.6l0.1 1.2M318.1 322.3l1.2 0.2M318.1 322.3l0.6 1.1M327.2 321.8l1.1 0.4M327.2 321.8l0.4 1.1M41.1 324.1l0.3 1.2M41.1 324.1l-0.7 0.9M49.6 324.1l0.6 1.1M49.6 324.1l-0.5 1.1M59.1 324.3l0.4 1.1M59.1 324.3l-0.6 1.0M68.1 324.5l0.5 1.1M68.1 324.5l-0.5 1.1M77.2 324.1l0.6 1.1M77.2 324.1l-0.5 1.1M86.2 324.4l0.6 1.0M86.2 324.4l-0.4 1.1M95.4 324.3l0.7 1.0M95.4 324.3l-0.4 1.1M104.8 324.7l0.6 1.1M104.8 324.7l-0.4 1.1M113.7 324.7l0.7 1.0M113.7 324.7l-0.3 1.2M122.2 325.3l1.1 0.5M122.2 325.3l0.3 1.2M140.1 326.1l1.2 -0.2M140.1 326.1l0.9 0.8M148.7 326.3l1.1 -0.4M148.7 326.3l1.0 0.6M157.7 327.0l0.9 -0.7M157.7 327.0l1.2 0.3M167.3 328.0l0.6 -1.1M167.3 328.0l1.2 -0.3M194.7 325.6l1.2 -0.1M194.7 325.6l0.8 0.9M203.6 325.3l1.2 0.0M203.6 325.3l0.7 0.9M212.5 324.7l1.2 0.2M212.5 324.7l0.6 1.0M221.6 324.4l1.2 0.2M221.6 324.4l0.6 1.1M230.4 323.9l1.2 0.3M230.4 323.9l0.5 1.1M239.5 324.0l1.2 0.2M239.5 324.0l0.6 1.1M248.9 323.7l1.2 0.3M248.9 323.7l0.5 1.1M258.2 323.9l1.2 0.3M258.2 323.9l0.5 1.1M267.9 323.7l1.1 0.5M267.9 323.7l0.4 1.1M277.4 324.1l1.1 0.4M277.4 324.1l0.4 1.1M287.0 324.4l1.1 0.5M287.0 324.4l0.4 1.1M296.2 325.0l1.2 0.3M296.2 325.0l0.5 1.1M306.0 324.7l1.1 0.6M306.0 324.7l0.2 1.2M315.0 325.1l1.1 0.4M315.0 325.1l0.4 1.1M324.3 324.9l1.1 0.5M324.3 324.9l0.3 1.2M333.4 325.3l1.2 0.3M333.4 325.3l0.5 1.1M47.2 327.5l0.2 1.2M47.2 327.5l-0.8 0.9M56.1 327.4l0.4 1.1M56.1 327.4l-0.6 1.0M65.1 327.2l0.5 1.1M65.1 327.2l-0.5 1.1M74.0 327.2l0.6 1.0M74.0 327.2l-0.4 1.1M83.2 327.5l0.6 1.0M83.2 327.5l-0.4 1.1M92.3 327.5l0.7 1.0M92.3 327.5l-0.3 1.2M101.2 327.7l0.8 0.9M101.2 327.7l-0.1 1.2M109.8 327.7l1.0 0.6M109.8 327.7l0.2 1.2M119.3 328.0l1.0 0.7M119.3 328.0l0.1 1.2M137.0 329.2l1.2 -0.2M137.0 329.2l0.9 0.8M145.7 329.2l1.2 -0.3M145.7 329.2l1.0 0.7M154.7 329.6l1.1 -0.5M154.7 329.6l1.1 0.5M164.2 330.6l0.8 -0.9M164.2 330.6l1.2 -0.0M191.8 329.0l1.2 -0.2M191.8 329.0l0.9 0.8M200.6 328.3l1.2 0.0M200.6 328.3l0.7 1.0M209.4 327.9l1.2 0.1M209.4 327.9l0.7 1.0M218.4 327.8l1.2 0.1M218.4 327.8l0.7 1.0M227.4 327.2l1.2 0.2M227.4 327.2l0.6 1.1M236.7 327.2l1.2 0.3M236.7 327.2l0.5 1.1M245.9 326.8l1.2 0.3M245.9 326.8l0.5 1.1M255.0 326.8l1.2 0.3M255.0 326.8l0.5 1.1M264.5 326.7l1.1 0.4M264.5 326.7l0.4 1.1M273.8 327.1l1.2 0.3M273.8 327.1l0.5 1.1M283.5 327.3l1.1 0.4M283.5 327.3l0.4 1.1M293.3 328.0l1.1 0.4M293.3 328.0l0.4 1.1M302.7 328.2l1.1 0.4M302.7 328.2l0.4 1.1M311.8 328.2l1.2 0.3M311.8 328.2l0.5 1.1M321.2 328.2l1.1 0.4M321.2 328.2l0.4 1.1M330.1 328.2l1.2 0.3M330.1 328.2l0.5 1.1" stroke="#555555" stroke-width="0.55" fill="none" stroke-linecap="round"/>
<path d="M40.4 440.4l0.3 1.2M50.3 440.7l-1.2 0.8M59.1 441.8l-0.3 -1.5M68.5 440.5l-0.6 1.2M76.6 441.3l1.6 -0.4M85.2 440.6l2.7 0.9M94.0 440.4l3.6 1.4M103.5 440.6l3.0 0.9M112.7 441.0l2.9 0.1M121.5 441.9l3.6 -1.6M130.4 442.1l4.3 -2.0M138.8 441.8l6.0 -1.6M147.5 440.7l6.9 0.6M157.3 440.3l5.7 1.5M167.4 440.2l4.0 1.7M177.7 440.0l1.7 2.1M187.0 441.2l1.5 -0.3M197.3 440.3l-0.7 1.4M205.7 440.4l0.9 1.3M216.3 440.3l-1.9 1.5M226.0 440.2l-3.0 1.6M235.1 440.7l-2.8 0.7M244.0 440.7l-2.1 0.6M253.2 440.7l-2.1 0.7M262.4 440.8l-2.1 0.5M271.4 441.5l-1.8 -0.9M280.8 441.0l-2.1 0.1M290.1 441.0l-2.3 0.2M299.4 440.9l-2.5 0.3M308.3 440.9l-1.9 0.3M317.3 440.8l-1.4 0.5M326.7 441.2l-1.9 -0.4M335.7 441.4l-1.5 -0.7M46.0 444.5l1.3 -0.7M55.8 443.3l0.2 1.5M64.4 444.0l1.5 0.1M73.4 444.1l1.7 0.1M82.3 443.7l2.4 0.7M91.0 443.4l3.3 1.5M99.7 443.6l4.4 1.0M109.3 444.1l3.6 -0.1M118.8 445.0l2.9 -1.8M127.6 445.0l3.9 -1.8M136.2 445.4l5.0 -2.6M144.9 444.2l6.0 -0.2M154.6 443.1l5.1 2.0M164.5 442.7l3.6 2.7M174.3 442.8l2.4 2.7M184.2 443.2l0.9 1.8M194.1 443.4l-0.4 1.5M203.1 443.3l-0.1 1.5M213.1 443.4l-1.6 1.4M222.6 443.2l-2.3 1.8M232.0 443.6l-2.7 1.0M241.0 444.0l-2.2 0.2M249.9 443.9l-1.6 0.4M259.6 444.2l-2.6 -0.1M268.8 443.9l-2.5 0.4M277.6 444.2l-1.8 -0.2M286.9 444.1l-2.0 -0.1M296.1 443.7l-2.0 0.9M305.4 444.4l-2.2 -0.5M314.5 443.9l-2.0 0.3M323.6 443.8l-1.9 0.6M332.8 444.6l-1.9 -1.0M43.0 447.5l1.3 -0.6M53.3 447.8l-0.9 -1.2M61.3 447.2l1.5 -0.0M70.7 446.7l1.0 1.0M79.6 447.3l1.6 -0.3M88.2 446.8l2.8 0.7M96.7 446.7l4.2 1.1M105.7 446.9l4.7 0.6M115.1 447.4l4.2 -0.5M124.3 448.1l4.2 -1.8M133.7 448.5l3.9 -2.6M142.8 447.5l4.0 -0.6M151.9 446.4l4.2 1.5M161.7 445.6l3.0 3.2M171.6 445.5l1.6 3.3M181.3 445.9l0.6 2.6M191.2 446.5l-0.8 1.4M200.6 446.9l-1.3 0.6M210.1 446.8l-1.8 0.9M219.9 446.5l-2.9 1.5M229.1 446.4l-2.9 1.6M237.6 446.6l-1.6 1.1M246.9 447.1l-1.8 0.1M256.1 447.3l-1.7 -0.2M265.5 447.5l-2.2 -0.6M274.7 446.9l-2.1 0.5M284.0 447.3l-2.4 -0.2M293.2 447.3l-2.3 -0.2M302.4 447.5l-2.3 -0.6M311.3 447.7l-1.7 -1.1M320.8 447.1l-2.4 0.2M329.7 447.3l-1.7 -0.2M41.0 450.7l-0.8 -0.9M49.8 449.6l-0.1 1.3M59.1 451.0l-0.3 -1.4M68.5 450.7l-0.7 -1.0M76.6 449.7l1.5 1.0M85.5 450.2l2.2 0.0M94.2 449.3l3.1 2.0M102.6 449.6l4.7 1.4M111.4 450.3l5.6 -0.0M121.4 451.2l3.8 -1.9M131.4 451.5l2.3 -2.6M140.6 451.5l2.3 -2.5M150.0 449.6l2.0 1.2M159.7 448.5l0.8 3.5M169.4 448.4l-0.1 3.6M178.6 448.5l-0.2 3.4M187.2 449.4l1.2 1.8M197.5 449.4l-1.1 1.7M207.0 449.2l-1.7 2.2M216.4 448.9l-2.0 2.7M226.1 449.6l-3.0 1.2M235.0 450.0l-2.6 0.5M244.2 450.0l-2.4 0.6M253.2 450.3l-2.0 -0.1M262.5 450.1l-2.3 0.3M271.4 450.8l-1.7 -1.1M280.8 450.4l-2.1 -0.2M290.1 450.4l-2.4 -0.2M299.2 449.8l-2.1 0.8M308.4 450.4l-2.2 -0.3M317.8 450.1l-2.5 0.3M326.9 450.3l-2.2 -0.1M335.7 450.3l-1.6 -0.2M46.9 453.9l-0.4 -1.2M55.2 453.5l1.4 -0.4M64.4 453.3l1.3 0.1M73.7 453.2l1.2 0.2M82.8 452.8l1.4 1.0M91.3 453.3l2.8 0.0M99.9 452.6l4.0 1.5M108.5 452.9l5.2 0.8M117.9 453.7l4.8 -0.8M128.2 454.3l2.5 -1.9M138.5 454.6l0.4 -2.6M149.0 452.8l-2.3 1.0M158.2 451.9l-2.2 2.8M166.6 451.5l-0.5 3.6M176.3 451.4l-1.6 3.9M184.7 452.2l0.0 2.3M193.4 452.6l1.0 1.5M203.7 452.4l-1.2 1.8M213.7 452.1l-2.8 2.3M222.7 452.2l-2.4 2.2M231.7 453.1l-2.0 0.4M240.9 452.9l-2.1 0.9M250.1 453.4l-2.0 -0.1M259.2 453.0l-1.7 0.7M268.4 453.6l-1.8 -0.5M277.8 453.2l-2.3 0.2M286.8 453.7l-1.8 -0.8M296.2 453.4l-2.3 -0.2M305.2 453.7l-1.8 -0.8M314.2 453.4l-1.5 -0.2M323.6 452.8l-1.8 1.0M332.7 453.2l-1.7 0.3M43.2 455.9l0.8 0.9M53.4 456.8l-1.1 -0.8M61.8 457.1l0.4 -1.4M70.5 456.4l1.5 -0.0M81.0 456.0l-1.1 0.8M88.8 456.0l1.5 0.8M97.5 456.1l2.6 0.6M105.7 455.5l4.7 1.8M114.9 456.1l4.6 0.5M124.8 456.5l3.2 -0.3M135.7 457.3l-0.3 -1.8M146.1 456.2l-2.6 0.3M155.9 455.4l-3.8 1.9M164.8 454.7l-3.2 3.3M173.6 454.9l-2.3 3.0M182.1 455.3l-0.9 2.1M191.4 455.6l-1.2 1.7M200.8 455.8l-1.6 1.3M210.7 455.1l-2.9 2.6M219.7 455.7l-2.6 1.3M228.6 455.7l-2.0 1.3M237.9 456.6l-2.2 -0.5M247.0 456.1l-2.1 0.6M256.3 456.4l-2.2 0.1M265.3 456.3l-1.8 0.1M274.7 456.3l-2.2 0.1M283.8 456.3l-2.0 0.2M293.0 456.5l-2.0 -0.2M302.5 456.3l-2.5 0.1M311.4 457.0l-1.9 -1.2M320.6 456.4l-2.0 -0.1M329.6 457.1l-1.6 -1.4M40.8 460.2l-0.4 -1.4M49.7 460.4l0.1 -1.8M58.3 459.5l1.3 -0.1M67.5 459.8l1.2 -0.8M76.8 459.0l1.0 0.8M85.8 459.7l1.5 -0.6M94.8 459.2l2.0 0.6M103.2 459.0l3.5 0.8M112.0 459.0l4.3 0.9M121.3 459.1l4.2 0.7M131.5 460.0l2.1 -1.0M143.1 459.5l-2.7 -0.2M152.7 458.5l-3.5 1.9M162.0 458.0l-3.7 3.0M170.8 458.0l-3.0 2.9M179.4 458.4l-1.7 2.2M188.3 458.5l-1.1 1.9M197.7 458.8l-1.5 1.3M207.5 458.4l-2.7 2.2M216.5 458.9l-2.3 1.1M225.7 459.2l-2.2 0.5M234.4 459.9l-1.3 -0.9M243.9 459.6l-2.0 -0.3M253.1 459.6l-2.0 -0.2M262.3 459.7l-1.9 -0.4M271.5 459.6l-1.9 -0.2M280.7 459.5l-1.9 -0.1M290.1 459.6l-2.2 -0.2M299.1 459.4l-1.9 0.1M308.2 459.2l-1.7 0.6M317.6 459.6l-2.1 -0.4M326.6 459.8l-1.7 -0.7M335.8 459.8l-1.6 -0.7M46.7 461.8l-0.0 1.5M55.5 461.9l0.7 1.2M65.4 463.1l-0.7 -1.0M74.3 463.2l-0.1 -1.3M82.7 462.1l1.6 0.8M91.8 462.5l1.7 0.0M100.9 462.4l2.0 0.4M109.3 462.5l3.6 0.1M118.3 462.2l3.9 0.7M127.8 462.3l3.4 0.6M138.2 461.9l0.9 1.3M149.3 461.4l-2.8 2.3M158.5 461.4l-2.9 2.2M167.9 461.4l-3.3 2.2M176.3 461.5l-1.7 2.0M185.5 461.7l-1.6 1.6M194.5 461.9l-1.3 1.3M204.3 461.6l-2.4 1.8M213.2 461.6l-1.8 1.8M222.5 462.6l-2.0 -0.2M231.4 462.7l-1.5 -0.4M240.7 462.8l-1.7 -0.5M249.8 463.2l-1.4 -1.4M259.3 462.6l-2.0 -0.2M268.1 462.8l-1.3 -0.5M277.5 462.9l-1.7 -0.8M286.8 462.8l-1.9 -0.5M296.1 462.7l-2.0 -0.3M305.1 462.2l-1.7 0.7M314.4 462.4l-1.8 0.2M323.6 462.5l-1.9 0.1M331.7 463.2l0.3 -1.4M44.1 465.2l-1.1 0.8M52.4 466.2l0.8 -1.2M61.3 465.9l1.3 -0.5M70.4 465.7l1.6 -0.3M80.3 466.4l0.1 -1.6M89.9 466.3l-0.7 -1.4M98.0 466.2l1.5 -1.1M107.0 465.2l2.0 0.8M115.7 464.9l3.0 1.3M124.6 464.7l3.5 1.9M134.4 464.8l2.4 1.6M144.2 464.3l1.3 2.6M154.5 464.3l-1.0 2.6M163.6 464.2l-0.7 2.9M172.9 464.6l-1.1 2.0M182.2 465.0l-1.3 1.3M191.5 464.9l-1.5 1.4M201.2 464.9l-2.4 1.5M210.1 464.9l-1.8 1.3M218.7 464.8l-0.6 1.7M228.5 465.2l-1.8 0.8M237.7 465.4l-1.8 0.4M246.9 465.6l-1.8 -0.0M256.2 465.7l-1.9 -0.1M265.2 465.3l-1.6 0.5M274.2 466.2l-1.1 -1.2M283.5 466.1l-1.4 -1.0M292.8 465.4l-1.6 0.5M301.7 466.1l-1.1 -0.9M311.3 465.8l-1.8 -0.4M319.7 466.3l-0.3 -1.4M329.7 466.2l-1.8 -1.1M41.1 468.2l-1.1 0.8M49.6 469.4l0.3 -1.5M58.2 468.6l1.4 0.2M67.9 469.4l0.5 -1.5M76.6 468.7l1.4 -0.1M86.8 469.5l-0.6 -1.6M94.8 468.8l1.8 -0.2M104.3 469.3l1.2 -1.3M113.3 468.6l1.7 0.1M121.9 468.2l2.9 1.0M131.3 467.5l2.5 2.4M140.1 467.3l3.3 2.7M150.2 467.3l1.5 2.7M159.6 467.2l1.0 2.9M168.6 467.8l1.5 1.8M198.0 468.0l-2.1 1.4M207.2 468.1l-2.1 1.2M216.3 468.4l-1.9 0.6M225.3 468.7l-1.5 -0.0M234.1 469.2l-0.8 -1.1M243.7 468.9l-1.5 -0.5M252.9 468.9l-1.6 -0.5M262.3 469.1l-1.9 -0.9M271.2 469.0l-1.3 -0.7M280.1 469.4l-0.8 -1.6M289.7 469.0l-1.6 -0.7M298.9 469.1l-1.5 -0.9M307.6 469.4l-0.5 -1.4M317.3 468.8l-1.6 -0.4M326.4 469.1l-1.3 -0.8M334.6 469.2l0.6 -1.1M46.5 472.5l0.3 -1.5M55.2 472.3l1.3 -1.1M64.6 472.4l0.9 -1.2M73.4 471.8l1.8 -0.1M84.1 472.1l-1.2 -0.8M93.0 472.4l-0.6 -1.4M101.4 472.5l1.0 -1.4M110.4 472.0l1.4 -0.6M119.3 471.9l1.9 -0.2M128.2 471.2l2.6 1.1M136.9 470.7l3.6 2.1M145.9 470.2l3.9 3.2M155.2 470.4l3.7 2.8M164.8 470.6l2.8 2.3M174.8 470.7l1.4 2.1M194.9 471.6l-2.0 0.3M203.9 471.3l-1.7 0.9M212.5 471.0l-0.4 1.5M221.9 472.1l-1.0 -0.8M231.3 472.3l-1.2 -1.1M240.6 472.1l-1.5 -0.7M249.9 471.7l-1.7 -0.0M258.6 472.5l-0.7 -1.6M268.5 471.7l-2.2 -0.0M277.3 472.7l-1.4 -1.9M286.8 472.0l-1.9 -0.5M295.6 472.1l-1.1 -0.6M304.4 471.1l-0.3 1.3M313.4 472.5l0.2 -1.6M323.3 472.3l-1.2 -1.2M332.4 472.3l-1.1 -1.2M43.2 474.2l0.9 1.2M52.8 475.4l-0.1 -1.2M62.1 475.6l-0.2 -1.7M70.5 475.2l1.4 -0.9M79.8 474.5l1.2 0.6M90.0 475.4l-0.7 -1.2M98.1 475.4l1.3 -1.2M107.3 474.8l1.4 0.1M116.4 474.7l1.5 0.2M125.5 474.4l1.8 0.8M134.2 474.0l2.7 1.5M143.0 473.6l3.5 2.3M151.7 473.2l4.6 3.1M161.0 473.5l4.4 2.7M171.0 473.8l2.8 1.9M201.0 474.5l-1.9 0.7M210.0 474.8l-1.7 0.0M219.0 474.2l-1.2 1.3M227.7 475.5l-0.2 -1.5M237.5 475.1l-1.4 -0.5M246.8 474.9l-1.5 -0.3M255.9 474.8l-1.4 0.1M265.5 474.9l-2.1 -0.2M274.3 474.9l-1.4 -0.1M283.4 475.4l-1.3 -1.2M292.8 475.0l-1.7 -0.4M301.6 475.7l-0.7 -1.7M311.1 475.2l-1.4 -0.8M320.4 475.3l-1.6 -0.9M329.3 475.4l-1.0 -1.3M41.2 477.6l-1.3 0.6M49.1 478.2l1.2 -0.7M58.8 478.5l0.3 -1.3M68.0 478.6l0.2 -1.4M76.7 478.2l1.3 -0.6M86.4 478.7l0.2 -1.5M95.1 478.6l1.2 -1.4M104.5 478.4l0.9 -1.1M113.6 478.4l1.1 -1.1M123.9 477.9l-1.2 -0.1M131.8 477.8l1.4 0.3M140.4 477.1l2.7 1.5M149.0 476.5l3.8 2.7M157.6 476.4l5.1 3.0M167.0 476.9l4.6 2.0M197.8 478.3l-1.9 -0.8M206.8 477.4l-1.3 0.9M216.0 478.1l-1.3 -0.5M225.1 478.5l-1.2 -1.1M234.4 477.6l-1.3 0.5M243.6 478.0l-1.5 -0.2M252.5 478.5l-0.8 -1.2M262.0 478.4l-1.4 -1.0M271.4 478.0l-1.7 -0.2M280.0 478.7l-0.5 -1.6M289.5 478.6l-1.1 -1.5M298.8 478.2l-1.3 -0.7M308.0 478.4l-1.4 -1.1M316.8 478.7l-0.5 -1.7M326.3 477.6l-1.3 0.6M334.6 478.5l0.6 -1.3M46.0 481.0l1.3 -0.1M55.1 480.7l1.4 0.5M64.4 481.3l1.2 -0.7M73.6 480.6l1.3 0.7M83.5 480.3l-0.2 1.2M92.0 481.3l1.3 -0.7M101.8 481.6l0.0 -1.4M111.1 481.9l-0.1 -1.9M119.9 481.7l0.6 -1.4M129.0 481.5l1.0 -1.1M137.8 480.6l1.6 0.7M146.6 480.2l2.4 1.6M154.8 480.3l4.4 1.3M163.4 479.8l5.6 2.4M173.8 480.3l3.3 1.4M194.5 481.3l-1.4 -0.8M204.0 481.0l-1.8 -0.1M213.1 481.2l-1.7 -0.5M221.7 481.7l-0.5 -1.5M230.9 481.6l-0.6 -1.2M239.6 481.6l0.6 -1.2M249.8 481.3l-1.4 -0.7M258.7 481.9l-0.8 -1.8M267.9 481.7l-0.8 -1.6M276.5 481.6l0.3 -1.3M286.0 481.6l-0.3 -1.3M295.7 481.2l-1.4 -0.5M305.1 481.1l-1.7 -0.2M313.8 481.8l-0.7 -1.8M323.3 481.2l-1.3 -0.6M332.6 480.8l-1.5 0.3M42.9 484.5l1.4 -0.9M52.7 484.7l0.1 -1.4M61.4 484.4l1.1 -0.7M70.4 484.2l1.6 -0.3M79.7 484.5l1.3 -0.9M89.3 484.7l0.7 -1.4M97.8 484.0l1.9 -0.0M107.4 484.6l1.1 -1.2M117.6 484.6l-0.9 -1.3M126.4 484.7l-0.0 -1.3M134.8 484.1l1.5 -0.1M143.8 483.5l1.9 1.0M152.3 483.4l3.3 1.2M160.7 483.1l4.9 1.8M170.3 483.3l4.1 1.4M201.0 484.4l-2.1 -0.7M210.0 484.6l-1.6 -1.3M219.1 484.3l-1.5 -0.7M227.3 484.6l0.6 -1.2M237.4 484.0l-1.2 0.1M246.6 483.7l-1.2 0.7M255.8 484.8l-1.2 -1.5M265.0 484.6l-1.3 -1.2M274.2 484.6l-1.2 -1.1M283.1 484.7l-0.6 -1.4M292.7 484.3l-1.4 -0.5M301.8 484.5l-1.2 -0.9M310.8 484.8l-0.9 -1.5M320.1 484.6l-1.0 -1.2M329.1 484.7l-0.7 -1.3M40.7 486.4l-0.4 1.3M49.9 488.0l-0.3 -1.8M58.8 487.8l0.2 -1.5M67.6 487.7l1.0 -1.3M76.8 487.6l1.0 -1.0M86.1 487.9l0.9 -1.6M95.3 487.9l0.7 -1.6M104.3 487.7l1.3 -1.2M114.3 487.7l-0.4 -1.2M123.0 487.7l0.6 -1.1M131.9 487.5l1.2 -0.8M141.4 486.4l0.6 1.3M150.0 486.8l1.9 0.6M158.6 486.6l3.1 0.9M167.3 486.4l4.0 1.3M197.3 488.0l-0.7 -1.9M207.3 487.6l-2.5 -1.1M216.1 487.9l-1.5 -1.5M225.0 487.7l-1.0 -1.3M234.0 487.8l-0.6 -1.5M242.2 487.4l1.4 -0.7M252.2 488.1l-0.2 -2.0M262.0 487.6l-1.3 -1.0M270.3 487.9l0.5 -1.6M280.0 487.9l-0.5 -1.6M289.2 488.0l-0.7 -1.8M298.9 487.6l-1.6 -1.1M307.6 487.6l-0.6 -1.1M316.9 487.9l-0.8 -1.6M325.7 487.8l0.1 -1.5M335.6 487.6l-1.3 -1.1M46.3 489.5l0.6 1.2M55.5 490.8l0.7 -1.4M64.9 491.0l0.3 -1.7M73.6 490.8l1.3 -1.3M83.1 490.9l0.7 -1.5M92.6 491.1l0.0 -1.9M101.4 489.6l0.9 1.2M110.2 490.3l1.7 -0.3M119.6 490.7l1.3 -1.0M129.9 489.7l-1.0 1.0M138.6 489.4l0.1 1.6M146.9 490.5l1.9 -0.8M155.8 490.2l2.4 -0.2M164.4 490.0l3.6 0.2M174.0 490.2l2.8 -0.0M194.4 490.1l-1.2 0.2M204.0 491.0l-1.9 -1.6M213.3 489.9l-2.1 0.5M222.2 490.1l-1.5 0.1M231.5 490.5l-1.8 -0.7M240.5 490.1l-1.4 0.0M249.8 490.3l-1.6 -0.3M258.2 490.9l0.1 -1.4M268.1 490.6l-1.2 -0.8M277.2 491.0l-1.2 -1.6M286.7 490.5l-1.7 -0.7M295.6 490.7l-1.1 -1.1M304.9 490.7l-1.2 -1.1M313.1 490.8l0.7 -1.4M323.2 490.9l-1.2 -1.5M332.6 490.4l-1.5 -0.5M43.4 493.9l0.4 -1.4M52.6 494.1l0.3 -1.7M62.0 494.0l-0.1 -1.5M70.9 493.9l0.5 -1.3M79.8 493.9l1.1 -1.3M89.0 493.7l1.2 -0.9M98.6 493.9l0.3 -1.3M107.5 494.0l1.0 -1.6M116.5 493.5l1.3 -0.5M126.1 494.0l0.5 -1.6M134.8 493.5l1.5 -0.6M144.4 494.0l0.8 -1.6M152.9 493.6l2.2 -0.7M162.0 493.1l2.3 0.3M171.3 493.0l2.2 0.4M200.9 493.6l-2.0 -0.8M210.0 493.8l-1.8 -1.1M219.1 493.7l-1.4 -1.0M227.0 493.5l1.1 -0.6M236.9 494.0l-0.3 -1.5M246.6 493.7l-1.3 -0.9M254.6 493.0l1.2 0.5M265.0 493.3l-1.3 -0.1M274.0 493.8l-0.9 -1.1M283.2 493.9l-0.8 -1.3M292.2 492.5l-0.4 1.5M301.9 493.2l-1.4 -0.0M310.4 493.9l-0.1 -1.4M319.7 494.0l-0.2 -1.5M329.4 493.0l-1.2 0.5M39.7 496.5l1.6 -0.5M49.5 497.1l0.4 -1.6M58.3 496.9l1.2 -1.1M68.1 497.0l0.1 -1.3M77.0 497.1l0.6 -1.7M85.9 497.1l1.2 -1.6M96.4 496.4l-1.3 -0.2M104.8 497.2l0.3 -1.8M113.3 496.3l1.5 0.1M123.1 496.9l0.5 -1.2M131.8 496.1l1.4 0.3M141.0 497.0l1.4 -1.3M149.9 496.9l2.0 -1.1M159.2 496.9l1.8 -1.2M168.3 496.5l1.9 -0.4M196.8 496.9l0.1 -1.2M206.0 497.0l0.2 -1.3M216.0 497.0l-1.4 -1.3M224.9 496.8l-0.8 -1.1M234.5 496.8l-1.6 -1.0M243.0 497.0l-0.3 -1.5M252.5 496.9l-0.7 -1.2M261.0 497.1l0.7 -1.7M270.9 497.1l-0.7 -1.6M280.5 496.0l-1.5 0.6M289.0 496.9l-0.2 -1.3M298.6 496.9l-1.0 -1.1M306.9 497.1l0.7 -1.6M315.9 496.5l1.2 -0.4M326.4 496.7l-1.4 -0.7M335.6 496.7l-1.3 -0.9M45.9 499.6l1.4 -0.5M55.0 499.5l1.6 -0.2M65.8 499.5l-1.4 -0.2M74.3 500.4l-0.2 -2.1M83.2 500.1l0.5 -1.5M91.7 499.4l1.8 -0.0M101.1 499.8l1.4 -0.8M110.4 499.9l1.2 -1.1M119.6 499.8l1.4 -0.8M128.8 499.6l1.3 -0.4M138.0 498.8l1.3 1.2M146.7 499.9l2.2 -1.1M156.1 500.0l1.9 -1.3M165.2 499.6l2.0 -0.4M175.1 500.0l0.6 -1.2M193.1 499.3l1.5 0.2M203.6 499.8l-1.2 -0.9M213.0 499.7l-1.5 -0.6M221.3 498.7l0.4 1.2M231.1 500.0l-1.0 -1.3M240.0 500.1l-0.3 -1.5M248.4 499.4l1.2 -0.1M258.7 500.3l-0.9 -1.8M268.2 499.8l-1.5 -0.9M277.4 499.7l-1.6 -0.6M286.2 500.0l-0.8 -1.2M295.5 500.1l-0.8 -1.4M304.3 500.3l-0.2 -1.9M313.8 498.7l-0.6 1.3M322.4 500.1l0.4 -1.4M332.5 499.8l-1.2 -0.8M43.2 501.8l0.6 1.2M52.6 503.1l0.2 -1.4M62.4 502.9l-0.8 -1.0M71.8 502.7l-1.3 -0.4M79.9 503.2l0.9 -1.5M89.0 503.0l1.1 -1.1M98.7 503.3l0.2 -1.7M108.3 503.2l-0.6 -1.6M117.8 502.8l-1.2 -0.8M126.5 501.7l-0.3 1.5M134.7 502.4l1.8 -0.0M143.8 502.6l2.0 -0.2M152.9 502.7l2.0 -0.5M162.2 502.6l1.9 -0.3M172.3 503.2l0.2 -1.5M199.4 502.2l1.2 0.5M209.9 502.4l-1.5 0.1M218.8 503.0l-0.9 -1.2M227.2 503.3l0.7 -1.8M237.5 502.5l-1.4 -0.1M246.3 501.8l-0.7 1.2M255.5 503.0l-0.6 -1.2M265.1 502.2l-1.5 0.4M274.1 503.0l-1.2 -1.2M283.4 502.7l-1.4 -0.6M292.6 502.9l-1.2 -1.0M301.6 503.3l-0.9 -1.7M311.1 502.1l-1.4 0.7M320.2 502.9l-1.2 -0.9M328.2 503.1l1.1 -1.3M39.8 505.2l1.3 0.6M49.9 504.9l-0.5 1.2M58.3 506.2l1.1 -1.4M67.8 506.3l0.6 -1.6M76.3 505.2l2.0 0.6M86.1 506.2l0.7 -1.4M95.3 506.3l0.9 -1.5M104.7 506.3l0.4 -1.6M113.6 506.0l0.9 -0.9M122.6 505.4l1.4 0.2M131.8 505.5l1.4 -0.1M140.7 505.9l2.0 -0.7M149.7 505.9l2.4 -0.7M159.4 505.7l1.4 -0.4M169.3 506.1l-0.1 -1.2M178.4 506.3l0.2 -1.6M188.3 505.9l-1.3 -0.8M196.7 504.9l0.4 1.3M206.2 504.7l-0.2 1.6M215.2 506.3l0.2 -1.6M224.5 506.3l-0.0 -1.5M234.3 506.0l-1.3 -1.0M243.5 505.9l-1.2 -0.8M252.7 505.7l-1.2 -0.3M261.9 506.0l-1.3 -0.9M270.4 506.3l0.2 -1.7M279.6 506.1l0.1 -1.3M289.6 505.5l-1.4 0.0M298.6 506.0l-1.0 -0.9M307.0 506.2l0.7 -1.3M317.2 506.1l-1.4 -1.1M326.5 505.6l-1.6 -0.1M335.4 506.1l-1.0 -1.2M46.6 508.0l0.1 1.2M55.1 508.7l1.4 -0.3M64.6 509.3l0.8 -1.4M74.6 508.1l-0.7 1.0M82.9 509.0l1.1 -0.8M92.8 509.3l-0.4 -1.4M101.7 509.4l0.2 -1.6M110.3 508.6l1.4 0.0M120.0 507.9l0.3 1.4M129.0 509.4l0.8 -1.6M137.8 509.2l1.7 -1.3M147.0 508.9l1.7 -0.7M156.1 508.7l1.8 -0.2M166.2 507.9l-0.0 1.4M175.2 507.9l0.5 1.4M183.9 508.6l1.4 -0.0M194.3 508.1l-1.0 0.9M203.2 509.2l-0.4 -1.2M212.3 509.3l-0.2 -1.4M222.1 509.0l-1.3 -0.9M230.9 509.2l-0.6 -1.3M240.2 509.1l-0.7 -1.0M249.2 509.4l-0.4 -1.6M258.9 509.2l-1.4 -1.3M268.2 508.7l-1.6 -0.3M276.7 509.5l-0.1 -1.8M286.4 509.1l-1.1 -1.1M295.7 509.1l-1.3 -1.1M304.9 509.2l-1.3 -1.1M314.0 509.1l-1.1 -1.0M323.4 508.8l-1.5 -0.4M332.5 509.1l-1.3 -1.1M97.6 441.7l-1.2 0.1M97.6 441.7l-0.8 -0.9M106.5 441.5l-1.2 0.2M106.5 441.5l-0.9 -0.8M125.2 440.2l-0.8 0.9M125.2 440.2l-1.2 -0.0M134.7 440.0l-0.8 0.9M134.7 440.0l-1.2 -0.0M144.8 440.2l-0.9 0.8M144.8 440.2l-1.2 -0.2M154.4 441.3l-1.1 0.4M154.4 441.3l-1.0 -0.6M163.0 441.8l-1.2 0.2M163.0 441.8l-0.9 -0.8M171.3 441.9l-1.2 0.0M171.3 441.9l-0.8 -0.9M223.1 441.8l0.7 -1.0M223.1 441.8l1.2 -0.1M94.3 444.9l-1.2 0.0M94.3 444.9l-0.8 -0.9M104.1 444.6l-1.2 0.2M104.1 444.6l-0.9 -0.7M112.9 444.1l-1.1 0.5M112.9 444.1l-1.1 -0.5M121.7 443.2l-0.7 1.0M121.7 443.2l-1.2 0.1M131.4 443.2l-0.8 0.9M131.4 443.2l-1.2 -0.0M141.2 442.8l-0.7 1.0M141.2 442.8l-1.2 0.0M150.9 444.0l-1.1 0.5M150.9 444.0l-1.1 -0.5M159.6 445.1l-1.2 0.1M159.6 445.1l-0.8 -0.9M168.1 445.5l-1.2 -0.2M168.1 445.5l-0.6 -1.1M176.7 445.4l-1.1 -0.5M176.7 445.4l-0.3 -1.2M100.9 447.7l-1.2 0.2M100.9 447.7l-0.9 -0.8M110.4 447.5l-1.1 0.4M110.4 447.5l-1.0 -0.7M119.3 446.9l-1.0 0.6M119.3 446.9l-1.1 -0.4M128.5 446.3l-0.8 0.9M128.5 446.3l-1.2 -0.0M137.6 445.9l-0.6 1.0M137.6 445.9l-1.2 0.2M146.8 446.9l-1.0 0.7M146.8 446.9l-1.1 -0.3M156.1 447.9l-1.2 0.1M156.1 447.9l-0.9 -0.8M164.7 448.8l-1.1 -0.4M164.7 448.8l-0.4 -1.1M173.2 448.8l-0.9 -0.8M173.2 448.8l-0.0 -1.2M217.0 447.9l0.7 -0.9M217.0 447.9l1.2 -0.0M226.2 448.0l0.7 -1.0M226.2 448.0l1.2 -0.1M97.3 451.2l-1.2 -0.1M97.3 451.2l-0.6 -1.0M107.3 450.9l-1.2 0.2M107.3 450.9l-0.9 -0.8M116.9 450.2l-1.1 0.5M116.9 450.2l-1.1 -0.5M125.3 449.3l-0.7 0.9M125.3 449.3l-1.2 0.0M133.7 449.0l-0.4 1.1M133.7 449.0l-1.1 0.5M142.9 449.0l-0.3 1.1M142.9 449.0l-1.1 0.5M160.6 452.0l-0.8 -0.9M160.6 452.0l0.2 -1.2M169.3 452.1l-0.5 -1.1M169.3 452.1l0.5 -1.1M178.5 452.0l-0.5 -1.1M178.5 452.0l0.6 -1.1M214.3 451.6l0.2 -1.2M214.3 451.6l1.1 -0.6M223.0 450.9l0.8 -0.9M223.0 450.9l1.2 0.1M103.9 454.1l-1.2 0.1M103.9 454.1l-0.8 -0.9M113.7 453.7l-1.2 0.3M113.7 453.7l-1.0 -0.7M122.7 452.9l-1.0 0.7M122.7 452.9l-1.2 -0.3M130.8 452.4l-0.6 1.1M130.8 452.4l-1.2 0.2M156.0 454.7l0.3 -1.2M156.0 454.7l1.1 -0.5M166.0 455.1l-0.3 -1.1M166.0 455.1l0.7 -1.0M174.7 455.3l-0.1 -1.2M174.7 455.3l0.9 -0.8M210.9 454.5l0.5 -1.1M210.9 454.5l1.2 -0.3M220.3 454.4l0.5 -1.1M220.3 454.4l1.1 -0.4M110.3 457.3l-1.2 0.1M110.3 457.3l-0.8 -0.9M119.5 456.7l-1.1 0.4M119.5 456.7l-1.0 -0.6M128.0 456.3l-1.0 0.6M128.0 456.3l-1.1 -0.4M152.1 457.3l0.7 -0.9M152.1 457.3l1.2 -0.0M161.6 458.0l0.4 -1.1M161.6 458.0l1.1 -0.4M171.2 457.9l0.3 -1.2M171.2 457.9l1.1 -0.5M207.8 457.7l0.5 -1.1M207.8 457.7l1.2 -0.3M106.7 459.9l-1.2 0.2M106.7 459.9l-0.9 -0.8M116.3 459.9l-1.2 0.3M116.3 459.9l-1.0 -0.7M125.4 459.8l-1.2 0.3M125.4 459.8l-1.0 -0.7M149.2 460.4l0.7 -1.0M149.2 460.4l1.2 -0.1M158.3 461.0l0.5 -1.1M158.3 461.0l1.2 -0.3M167.9 460.9l0.4 -1.1M167.9 460.9l1.1 -0.4M204.8 460.5l0.5 -1.1M204.8 460.5l1.2 -0.3M112.9 462.6l-1.1 0.5M112.9 462.6l-1.1 -0.5M122.2 462.9l-1.2 0.3M122.2 462.9l-1.0 -0.7M131.2 462.8l-1.2 0.3M131.2 462.8l-1.0 -0.7M146.5 463.7l0.5 -1.1M146.5 463.7l1.2 -0.3M155.6 463.6l0.5 -1.1M155.6 463.6l1.2 -0.3M164.6 463.6l0.6 -1.0M164.6 463.6l1.2 -0.2M201.8 463.4l0.6 -1.1M201.8 463.4l1.2 -0.2M118.7 466.3l-1.2 0.0M118.7 466.3l-0.8 -0.9M128.2 466.5l-1.2 -0.1M128.2 466.5l-0.7 -1.0M124.8 469.1l-1.2 0.2M124.8 469.1l-0.9 -0.8M133.8 469.9l-1.1 -0.4M133.8 469.9l-0.4 -1.1M143.4 470.0l-1.2 -0.3M143.4 470.0l-0.5 -1.1M151.7 470.0l-1.0 -0.7M151.7 470.0l-0.1 -1.2M160.7 470.1l-0.9 -0.8M160.7 470.1l0.1 -1.2M140.5 472.8l-1.2 -0.1M140.5 472.8l-0.7 -1.0M149.8 473.3l-1.2 -0.3M149.8 473.3l-0.5 -1.1M158.9 473.1l-1.2 -0.2M158.9 473.1l-0.6 -1.1M167.7 472.9l-1.2 -0.3M167.7 472.9l-0.5 -1.1M136.9 475.6l-1.2 -0.1M136.9 475.6l-0.7 -1.0M146.5 476.0l-1.2 -0.2M146.5 476.0l-0.6 -1.0M156.3 476.4l-1.2 -0.2M156.3 476.4l-0.6 -1.0M165.4 476.2l-1.2 -0.1M165.4 476.2l-0.7 -1.0M173.8 475.8l-1.2 -0.2M173.8 475.8l-0.6 -1.0M143.1 478.6l-1.2 -0.1M143.1 478.6l-0.7 -1.0M152.8 479.2l-1.2 -0.2M152.8 479.2l-0.6 -1.1M162.7 479.4l-1.2 -0.1M162.7 479.4l-0.7 -1.0M171.6 478.9l-1.2 0.0M171.6 478.9l-0.8 -0.9M159.3 481.6l-1.2 0.2M159.3 481.6l-0.9 -0.8M169.1 482.1l-1.2 0.1M169.1 482.1l-0.8 -0.9M177.1 481.6l-1.2 0.1M177.1 481.6l-0.8 -0.9M155.6 484.6l-1.2 0.1M155.6 484.6l-0.8 -0.9M165.6 484.9l-1.2 0.1M165.6 484.9l-0.8 -0.9M174.4 484.7l-1.2 0.1M174.4 484.7l-0.9 -0.8M161.6 487.5l-1.2 0.2M161.6 487.5l-0.9 -0.8M171.3 487.7l-1.2 0.2M171.3 487.7l-0.9 -0.8M168.1 490.3l-1.1 0.4M168.1 490.3l-1.0 -0.6" stroke="#555555" stroke-width="0.55" fill="none" stroke-linecap="round"/>
<path d="M379.1 441.5l1.0 -0.8M387.9 441.2l1.7 -0.2M397.7 440.3l0.5 1.5M406.5 441.0l1.4 0.1M415.0 440.6l2.7 0.9M424.0 440.5l3.2 1.1M433.1 440.7l3.2 0.7M442.6 441.6l2.7 -1.1M451.1 441.6l4.2 -1.2M460.0 441.9l4.7 -1.7M468.6 441.5l5.9 -1.0M477.9 440.6l5.8 0.9M487.5 439.9l4.9 2.3M497.7 440.0l2.9 2.0M507.5 440.2l1.6 1.6M516.8 440.7l1.5 0.7M526.4 440.5l0.7 1.0M536.1 440.4l-0.3 1.2M545.4 440.3l-0.5 1.5M555.1 440.1l-1.6 1.8M564.9 440.4l-2.6 1.4M573.9 440.5l-2.3 1.0M582.9 440.6l-2.0 0.9M592.0 440.8l-1.8 0.4M601.4 441.0l-2.2 0.0M610.4 440.9l-1.7 0.2M620.0 441.2l-2.4 -0.2M629.1 440.7l-2.2 0.6M638.1 440.5l-2.0 1.2M647.3 441.0l-1.9 0.2M656.6 440.8l-2.1 0.6M665.8 441.2l-2.0 -0.4M674.7 441.0l-1.5 0.0M385.0 444.2l1.4 -0.2M395.7 443.9l-1.7 0.4M404.4 443.4l-0.6 1.5M411.9 443.8l2.8 0.6M420.8 443.7l3.4 0.8M429.5 443.7l4.4 0.9M439.0 444.3l3.7 -0.4M447.8 444.9l4.5 -1.6M456.9 445.2l4.8 -2.2M465.6 444.7l5.8 -1.2M475.0 443.8l5.4 0.5M484.7 443.0l4.4 2.2M494.4 442.8l3.5 2.7M504.4 443.1l1.7 2.1M514.2 443.1l0.5 1.9M523.7 443.5l-0.0 1.3M532.5 443.5l0.7 1.2M542.0 443.5l0.2 1.3M552.4 443.4l-2.2 1.4M561.7 443.0l-2.4 2.2M571.1 443.1l-2.8 2.1M580.2 443.8l-2.5 0.6M589.2 444.2l-2.2 -0.2M598.3 444.2l-2.0 -0.1M607.9 444.3l-2.8 -0.4M616.6 443.5l-1.9 1.1M626.2 444.1l-2.6 0.0M635.0 443.9l-1.8 0.4M644.4 444.4l-2.2 -0.6M653.8 444.3l-2.6 -0.3M662.7 444.6l-2.1 -1.0M672.0 444.0l-2.3 0.1M382.8 447.8l-0.4 -1.3M392.0 447.9l-0.3 -1.4M400.4 446.6l1.1 1.2M409.1 446.8l2.3 0.7M417.8 446.4l3.3 1.6M426.2 446.3l4.8 1.7M435.4 447.1l4.9 0.2M445.2 447.7l3.7 -1.0M454.3 448.5l3.9 -2.6M463.6 448.6l3.7 -2.8M472.3 447.2l4.6 0.0M482.2 445.9l3.2 2.6M491.8 445.4l2.5 3.6M501.1 445.7l2.2 2.9M511.4 446.1l0.1 2.2M520.7 446.4l-0.2 1.6M529.6 446.5l0.4 1.3M539.6 446.7l-1.1 1.0M549.1 446.4l-1.7 1.5M558.8 446.4l-2.8 1.6M568.0 446.5l-2.7 1.3M576.8 446.8l-1.9 0.7M586.1 447.1l-2.1 0.1M595.3 447.7l-2.1 -1.1M604.4 447.4l-1.9 -0.5M613.6 447.4l-2.0 -0.4M622.9 447.2l-2.2 -0.1M632.3 447.2l-2.5 -0.1M641.3 447.3l-2.1 -0.2M650.7 447.3l-2.5 -0.3M659.6 446.9l-2.0 0.6M668.7 447.1l-1.8 0.1M380.1 449.8l-1.1 0.9M388.5 450.8l0.6 -1.2M397.3 450.0l1.4 0.4M406.4 450.6l1.5 -0.7M415.2 450.3l2.2 -0.1M423.7 449.7l3.8 1.1M432.2 449.8l5.0 0.9M441.7 450.1l4.5 0.4M451.5 451.5l3.3 -2.6M461.2 451.5l2.4 -2.5M470.6 450.9l2.0 -1.3M480.4 448.9l0.8 2.7M489.7 448.6l0.4 3.4M499.0 448.6l0.3 3.3M508.3 448.8l0.1 2.9M517.7 449.4l-0.2 1.7M527.1 449.7l-0.7 1.2M535.8 449.6l0.3 1.4M546.0 449.8l-1.8 0.9M555.6 449.0l-2.6 2.4M565.0 449.4l-2.9 1.8M574.2 449.8l-2.8 0.9M583.2 450.5l-2.6 -0.5M592.3 450.3l-2.3 -0.0M601.4 450.5l-2.2 -0.4M610.7 450.4l-2.3 -0.3M620.1 450.3l-2.7 -0.2M629.1 450.2l-2.4 0.1M638.3 450.0l-2.2 0.4M647.3 450.0l-2.0 0.4M656.5 450.1l-1.8 0.3M665.8 449.9l-2.1 0.6M674.9 450.3l-2.0 -0.2M385.0 453.7l1.3 -0.7M394.4 453.9l1.0 -1.1M403.8 452.8l0.6 1.1M412.4 452.9l1.8 0.9M421.1 452.9l2.7 0.8M429.5 452.8l4.3 1.1M438.6 453.2l4.5 0.2M447.9 454.1l4.4 -1.5M458.2 454.5l2.1 -2.4M468.4 454.4l0.1 -2.1M478.7 453.0l-2.1 0.6M487.7 451.5l-1.7 3.7M496.9 451.3l-1.7 4.0M505.8 451.9l-1.0 2.8M515.2 452.3l-1.5 2.0M524.3 452.9l-1.2 0.8M533.7 453.4l-1.5 -0.2M542.6 452.6l-1.0 1.4M552.4 452.2l-2.2 2.2M561.8 452.4l-2.7 1.8M570.7 452.4l-2.0 1.8M579.9 453.2l-2.0 0.3M589.2 453.1l-2.3 0.4M598.1 453.9l-1.6 -1.1M607.7 452.9l-2.5 0.8M616.7 453.4l-2.1 -0.1M625.9 453.1l-2.0 0.4M635.1 453.5l-1.9 -0.3M644.1 453.4l-1.6 -0.2M653.7 453.5l-2.4 -0.4M662.7 453.5l-2.1 -0.3M671.8 453.3l-1.9 -0.0M383.5 456.7l-1.8 -0.7M391.1 456.3l1.4 0.1M401.1 457.1l-0.3 -1.4M409.4 456.6l1.7 -0.3M418.6 455.7l1.6 1.3M427.2 455.9l2.9 0.9M435.6 456.0l4.5 0.8M444.9 456.5l4.2 -0.2M454.8 457.2l2.8 -1.6M465.9 457.4l-1.0 -1.9M476.2 456.0l-3.3 0.7M485.8 454.9l-4.0 3.0M494.4 454.5l-2.8 3.7M503.2 454.8l-2.0 3.1M511.3 455.3l0.3 2.1M521.1 455.7l-0.9 1.4M530.2 455.8l-0.7 1.1M539.8 455.8l-1.5 1.1M549.3 455.4l-2.2 2.1M558.8 455.3l-2.8 2.2M567.6 455.5l-2.0 1.9M576.9 456.6l-2.1 -0.4M586.1 456.4l-2.2 0.0M595.3 456.8l-2.2 -0.8M604.1 456.9l-1.5 -1.1M613.5 456.5l-1.7 -0.2M623.0 456.1l-2.3 0.6M632.0 456.7l-2.1 -0.7M641.2 456.2l-2.0 0.5M650.4 456.3l-1.9 0.2M659.4 456.5l-1.6 -0.2M668.7 456.6l-1.8 -0.4M380.2 459.8l-1.3 -0.6M388.1 460.1l1.2 -1.4M397.2 459.6l1.5 -0.3M407.4 460.0l-0.6 -1.2M415.4 459.7l1.9 -0.5M424.4 459.1l2.2 0.7M433.2 459.0l3.0 0.9M441.7 459.2l4.5 0.6M451.4 459.4l3.6 0.0M462.3 460.2l0.1 -1.5M472.9 459.2l-2.8 0.6M482.8 458.6l-4.1 1.7M491.9 458.2l-3.9 2.6M500.2 458.2l-2.1 2.4M508.7 458.4l-0.7 2.2M518.1 459.1l-1.2 0.7M526.1 459.8l1.4 -0.6M536.4 458.5l-0.9 2.0M546.3 458.5l-2.4 1.9M555.5 458.3l-2.4 2.3M564.3 458.8l-1.5 1.3M573.8 459.6l-2.2 -0.4M582.8 459.9l-1.7 -1.0M592.1 459.0l-1.9 0.9M601.4 459.3l-2.2 0.3M610.6 459.7l-2.2 -0.5M619.6 460.0l-1.8 -1.1M628.9 459.3l-2.0 0.4M638.0 459.4l-1.8 0.1M647.4 459.6l-2.1 -0.4M656.5 459.4l-1.9 0.0M665.4 460.0l-1.2 -1.2M674.3 460.1l-0.7 -1.2M385.6 463.3l0.2 -1.5M394.6 463.1l0.6 -1.2M404.5 463.1l-0.8 -1.2M412.8 463.1l1.0 -1.1M421.7 463.0l1.5 -0.9M430.5 462.5l2.4 0.1M439.1 462.5l3.5 -0.0M448.2 462.1l3.8 0.8M457.9 462.3l2.7 0.4M468.7 461.7l-0.4 1.6M478.8 461.3l-2.2 2.4M488.4 460.8l-3.1 3.4M497.4 461.3l-2.6 2.4M505.9 461.5l-1.3 2.1M514.8 461.7l-0.7 1.7M523.8 461.9l-0.3 1.3M533.7 462.1l-1.6 0.9M543.0 461.7l-1.9 1.7M552.4 461.9l-2.4 1.3M561.5 462.5l-2.1 0.1M570.1 463.2l-1.0 -1.4M579.8 462.5l-1.8 0.1M588.9 462.5l-1.7 0.1M598.0 462.6l-1.6 -0.2M607.2 462.8l-1.5 -0.6M616.5 463.2l-1.6 -1.3M625.7 462.4l-1.8 0.3M635.0 463.0l-1.9 -1.0M644.2 462.4l-1.8 0.2M653.0 463.2l-1.1 -1.4M662.4 463.0l-1.5 -0.9M671.4 463.4l-1.1 -1.7M382.0 466.0l1.2 -0.9M391.3 466.1l0.9 -1.1M401.5 465.9l-1.1 -0.7M410.1 466.3l0.2 -1.5M418.7 466.0l1.3 -0.7M427.9 465.3l1.3 0.5M436.8 465.5l2.1 0.2M445.4 465.0l3.3 1.1M454.5 464.7l3.4 1.9M464.4 464.8l2.0 1.7M474.3 464.1l0.6 3.0M484.3 464.1l-1.1 3.1M493.6 464.5l-1.2 2.2M502.3 464.5l-0.2 2.2M511.6 464.6l-0.5 2.0M519.9 465.5l1.3 0.2M530.6 465.8l-1.7 -0.4M540.0 464.8l-1.9 1.7M549.2 464.6l-2.0 2.0M558.3 465.2l-1.9 0.8M567.6 465.3l-1.9 0.6M576.7 465.6l-1.8 -0.0M585.9 465.8l-1.8 -0.4M594.9 466.0l-1.4 -0.9M604.3 465.2l-1.8 0.8M613.5 465.7l-1.7 -0.2M622.6 466.1l-1.5 -1.0M631.6 465.9l-1.3 -0.6M640.8 466.5l-1.1 -1.7M650.2 465.6l-1.6 -0.0M659.3 466.0l-1.5 -0.8M668.4 466.0l-1.1 -0.8M378.9 468.4l1.3 0.6M388.2 469.4l1.1 -1.4M397.5 469.3l0.8 -1.3M407.8 469.0l-1.3 -0.6M416.8 469.3l-0.9 -1.2M426.1 469.3l-1.1 -1.3M434.1 469.0l1.3 -0.6M443.0 468.7l1.9 -0.1M452.0 467.8l2.4 1.7M460.9 467.7l2.8 1.9M469.9 467.7l3.2 1.9M480.2 467.3l1.0 2.7M489.3 467.5l1.2 2.4M498.6 467.6l1.0 2.2M508.6 467.8l-0.5 1.7M536.9 467.9l-2.0 1.6M546.0 467.4l-1.7 2.5M554.9 468.1l-1.2 1.1M564.2 468.6l-1.4 0.1M573.4 469.3l-1.4 -1.3M582.4 468.2l-1.0 0.9M591.9 469.1l-1.6 -0.8M601.2 468.7l-1.7 0.0M609.8 469.4l-0.6 -1.5M619.5 469.2l-1.5 -1.0M628.7 468.8l-1.5 -0.2M637.6 469.3l-0.9 -1.2M647.2 468.8l-1.8 -0.3M656.1 469.2l-1.1 -1.1M665.4 468.9l-1.4 -0.6M674.3 469.3l-0.7 -1.2M385.0 472.1l1.3 -0.7M395.4 472.1l-1.1 -0.6M403.4 471.6l1.3 0.2M413.5 472.5l-0.4 -1.5M422.1 472.6l0.7 -1.7M431.3 472.4l0.7 -1.3M440.2 472.1l1.2 -0.8M449.5 471.2l1.1 1.0M458.0 470.9l2.6 1.8M466.6 470.6l3.8 2.3M475.7 470.8l4.0 1.9M485.1 470.2l3.6 3.1M494.5 470.6l3.1 2.3M504.4 471.0l1.8 1.4M542.9 470.9l-1.7 1.7M551.9 471.2l-1.2 1.1M561.2 471.2l-1.4 1.1M570.2 472.6l-1.1 -1.8M578.9 471.1l-0.2 1.2M588.8 471.8l-1.5 -0.0M597.7 472.4l-0.9 -1.4M606.9 472.5l-1.0 -1.5M616.4 472.3l-1.4 -1.2M625.6 471.7l-1.5 -0.0M634.9 472.0l-1.6 -0.4M644.2 472.3l-1.9 -1.1M653.2 471.8l-1.4 -0.1M662.3 471.7l-1.3 0.0M671.7 472.2l-1.7 -0.9M383.3 475.1l-1.5 -0.6M391.3 475.4l0.9 -1.2M401.2 475.4l-0.4 -1.2M409.6 475.2l1.2 -0.8M419.3 475.5l0.2 -1.4M428.1 475.3l1.0 -1.0M437.2 475.2l1.3 -0.8M447.3 475.4l-0.6 -1.2M455.2 474.5l1.9 0.5M464.0 474.2l2.9 1.3M472.4 473.6l4.4 2.5M481.4 473.3l4.7 3.0M490.6 473.5l4.7 2.5M500.4 473.8l3.6 2.0M510.5 474.3l1.8 1.0M540.0 474.3l-2.0 1.0M549.0 474.7l-1.6 0.2M556.8 474.9l1.3 -0.2M567.3 475.2l-1.5 -0.7M576.4 475.3l-1.2 -0.9M585.7 475.2l-1.5 -0.7M595.0 475.3l-1.7 -0.9M603.8 475.5l-0.7 -1.4M613.2 475.1l-1.2 -0.5M622.3 475.7l-1.0 -1.8M631.6 474.6l-1.2 0.5M641.1 475.1l-1.8 -0.5M649.7 475.7l-0.7 -1.7M659.4 474.8l-1.6 0.1M668.3 475.3l-1.0 -1.1M378.9 478.4l1.3 -1.0M389.4 477.6l-1.3 0.6M397.9 478.6l-0.0 -1.4M406.4 478.2l1.5 -0.5M415.9 478.6l0.8 -1.3M424.9 477.4l1.2 1.0M434.7 478.7l0.1 -1.6M443.5 478.5l0.8 -1.3M452.4 477.8l1.4 0.2M461.3 477.4l2.0 1.0M470.0 476.8l3.1 2.1M478.6 476.7l4.2 2.4M487.2 476.8l5.4 2.2M496.9 476.8l4.4 2.1M507.0 477.0l2.5 1.7M536.5 477.0l-1.2 1.8M546.0 477.8l-1.8 0.1M553.7 478.3l1.2 -0.8M563.1 478.8l0.8 -1.9M573.4 477.6l-1.4 0.6M581.4 478.3l0.9 -0.9M591.8 478.3l-1.4 -0.9M600.6 478.5l-0.6 -1.2M609.6 478.7l-0.2 -1.6M619.3 477.6l-1.1 0.6M627.1 478.0l1.6 -0.3M637.3 478.7l-0.4 -1.6M647.0 478.7l-1.3 -1.7M655.9 477.3l-0.8 1.1M665.0 478.8l-0.6 -1.9M674.3 478.5l-0.8 -1.2M385.4 480.3l0.4 1.3M394.1 480.7l1.6 0.5M404.0 481.6l0.2 -1.3M413.7 480.6l-1.0 0.8M422.9 480.5l-0.8 1.0M431.0 481.3l1.2 -0.8M441.5 481.0l-1.3 -0.1M450.6 481.6l-1.0 -1.3M459.2 480.1l0.2 1.7M467.5 480.6l2.0 0.6M476.0 479.8l3.3 2.4M484.5 480.0l4.8 1.9M493.5 479.8l5.1 2.4M503.0 480.1l4.6 1.6M543.0 481.4l-1.9 -0.8M552.2 480.8l-1.9 0.2M561.1 481.1l-1.2 -0.3M570.5 481.0l-1.6 -0.1M579.3 480.5l-1.0 0.9M588.0 481.7l0.0 -1.4M597.7 481.5l-0.9 -1.0M606.9 481.7l-0.8 -1.4M615.8 480.3l-0.2 1.4M625.5 480.7l-1.3 0.6M634.6 481.5l-1.1 -1.2M643.7 481.6l-1.0 -1.2M653.0 480.8l-1.2 0.3M662.6 481.0l-2.0 -0.2M671.3 480.4l-0.9 1.0M382.8 484.6l-0.5 -1.2M391.0 484.0l1.6 -0.0M400.2 484.6l1.5 -1.1M409.9 484.6l0.6 -1.1M419.8 484.5l-0.9 -1.0M427.8 484.3l1.5 -0.5M438.1 484.7l-0.6 -1.4M446.5 484.5l0.9 -0.9M455.7 484.5l1.0 -0.9M465.6 484.7l-0.5 -1.4M473.7 483.8l1.8 0.4M482.2 483.5l3.2 1.0M490.6 483.1l4.8 1.8M499.7 483.1l5.0 1.9M509.9 483.7l2.9 0.6M540.0 484.6l-2.1 -1.1M549.1 484.2l-1.9 -0.4M557.8 484.6l-0.9 -1.1M567.3 484.0l-1.4 -0.0M576.1 484.8l-0.7 -1.5M585.1 484.8l-0.2 -1.5M595.0 484.4l-1.6 -0.9M604.1 484.5l-1.4 -0.9M613.2 484.6l-1.3 -1.1M622.4 484.5l-1.3 -1.0M631.3 484.6l-0.6 -1.2M640.9 484.1l-1.4 -0.2M650.2 484.4l-1.6 -0.7M658.5 484.7l0.2 -1.3M667.7 484.8l0.1 -1.6M378.9 487.6l1.3 -1.0M388.0 487.4l1.5 -0.5M397.3 487.7l1.2 -1.3M406.9 488.0l0.4 -1.8M415.6 487.3l1.4 -0.4M424.8 487.0l1.4 0.1M434.1 487.5l1.3 -0.8M443.4 487.7l1.0 -1.1M452.4 487.2l1.4 -0.1M461.7 487.2l1.3 -0.3M470.9 487.5l1.1 -0.7M479.8 486.5l1.9 1.1M488.4 486.4l2.9 1.3M496.2 486.3l5.8 1.6M506.5 486.4l3.5 1.3M536.8 487.4l-1.8 -0.6M546.1 487.8l-2.0 -1.3M555.0 487.5l-1.4 -0.9M563.6 487.7l-0.2 -1.3M572.4 487.7l0.6 -1.2M581.1 487.0l1.6 0.2M590.8 487.7l0.6 -1.3M601.1 487.5l-1.6 -0.9M609.8 487.7l-0.5 -1.3M619.2 487.7l-1.0 -1.3M628.6 487.6l-1.4 -1.0M637.5 487.6l-0.7 -1.1M646.5 487.8l-0.3 -1.4M655.9 487.7l-0.8 -1.2M665.1 487.7l-0.7 -1.2M674.1 487.8l-0.3 -1.4M385.1 489.7l1.0 0.9M394.3 491.0l1.2 -1.6M403.4 490.5l1.3 -0.7M412.8 491.0l1.0 -1.7M422.8 490.8l-0.7 -1.3M431.3 490.9l0.6 -1.5M440.1 490.1l1.5 0.1M449.4 490.0l1.4 0.3M459.9 490.5l-1.2 -0.6M469.2 489.8l-1.4 0.7M476.7 490.0l1.8 0.3M485.8 490.0l2.1 0.4M494.1 490.0l3.9 0.3M503.3 489.6l3.9 1.1M543.2 490.7l-2.3 -1.1M552.2 490.5l-1.8 -0.8M560.9 490.7l-0.9 -1.1M570.4 490.5l-1.5 -0.7M579.4 490.7l-1.2 -1.0M588.6 489.8l-1.1 0.7M597.8 489.7l-1.1 0.9M607.2 490.6l-1.5 -0.9M615.9 491.1l-0.5 -1.9M625.6 490.6l-1.6 -0.9M634.6 490.6l-1.1 -0.9M643.6 490.8l-0.8 -1.3M653.2 490.5l-1.6 -0.8M661.2 490.7l0.9 -1.1M671.5 490.6l-1.3 -0.8M381.9 492.9l1.3 0.6M391.4 493.8l0.6 -1.1M400.4 493.8l1.2 -1.1M409.8 493.9l0.7 -1.3M418.8 493.7l1.1 -0.9M428.8 493.9l-0.4 -1.4M437.0 493.5l1.6 -0.6M447.6 492.8l-1.3 0.8M455.8 493.7l0.7 -1.0M464.8 493.6l1.2 -0.7M474.3 493.9l0.6 -1.3M482.8 493.4l2.0 -0.3M491.6 492.8l2.7 0.8M500.5 492.9l3.4 0.7M509.9 493.0l3.0 0.5M539.9 493.7l-1.8 -0.9M549.3 493.3l-2.2 -0.2M558.1 493.8l-1.4 -1.2M567.3 493.3l-1.5 -0.2M575.4 493.9l0.8 -1.3M584.5 493.7l1.0 -1.0M594.6 493.9l-0.8 -1.3M604.0 493.8l-1.2 -1.2M612.5 494.1l0.2 -1.7M622.4 493.7l-1.2 -1.0M631.7 493.8l-1.4 -1.1M641.0 493.4l-1.6 -0.4M649.5 494.1l-0.2 -1.7M658.4 494.0l0.3 -1.6M668.5 494.0l-1.5 -1.5M379.2 497.2l0.6 -1.8M388.2 496.8l1.0 -1.0M397.2 496.8l1.3 -1.0M406.4 496.8l1.4 -1.0M415.7 497.0l1.2 -1.3M425.0 496.9l1.0 -1.2M434.2 495.7l0.9 1.2M443.4 496.8l0.9 -1.0M452.5 496.4l1.3 -0.3M463.0 496.1l-1.5 0.4M471.4 497.2l0.1 -1.7M479.8 496.9l1.8 -1.2M488.7 496.4l2.5 -0.1M497.7 496.7l2.7 -0.7M507.2 495.8l2.3 1.0M536.5 495.8l-1.2 1.0M545.6 497.1l-1.0 -1.6M555.0 497.1l-1.3 -1.6M564.1 496.6l-1.3 -0.6M573.1 497.1l-0.7 -1.6M582.4 496.9l-1.0 -1.2M591.4 497.0l-0.5 -1.4M600.5 497.0l-0.4 -1.4M610.3 496.7l-1.6 -0.8M618.5 497.1l0.3 -1.6M628.4 497.2l-1.1 -1.7M636.8 497.1l0.6 -1.6M646.3 497.0l0.1 -1.4M656.0 496.8l-1.1 -1.1M664.1 496.0l1.2 0.7M674.1 497.0l-0.4 -1.5M384.8 499.4l1.6 -0.1M394.2 499.7l1.2 -0.7M403.9 500.0l0.3 -1.2M412.9 500.0l0.6 -1.3M422.6 500.0l-0.4 -1.3M431.2 500.2l0.8 -1.6M440.2 499.6l1.3 -0.5M449.3 499.1l1.5 0.5M459.3 498.7l-0.2 1.3M467.7 499.7l1.5 -0.6M476.7 499.5l1.8 -0.3M485.6 499.8l2.5 -1.0M494.8 499.8l2.4 -0.8M504.3 499.8l1.8 -0.8M542.7 499.7l-1.3 -0.6M552.0 499.7l-1.5 -0.7M561.2 499.4l-1.5 -0.2M570.5 499.4l-1.7 -0.1M579.5 499.8l-1.4 -0.9M588.5 500.0l-0.9 -1.2M597.4 500.2l-0.4 -1.6M605.8 499.5l1.3 -0.3M616.1 499.9l-0.9 -1.0M625.2 500.2l-0.8 -1.7M634.9 499.6l-1.7 -0.5M644.2 499.3l-2.0 0.2M652.6 500.2l-0.4 -1.6M662.1 500.2l-0.9 -1.7M671.4 499.8l-1.2 -0.9M382.0 503.1l1.2 -1.3M391.0 502.7l1.5 -0.6M400.5 503.0l0.8 -1.2M409.5 502.1l1.2 0.8M418.5 502.5l1.7 -0.2M428.5 503.2l0.1 -1.4M437.0 502.7l1.4 -0.5M447.1 501.7l-0.3 1.4M455.3 502.4l1.8 0.1M464.8 502.8l1.2 -0.7M473.8 503.1l1.4 -1.4M482.6 502.9l2.3 -0.9M491.8 502.1l2.4 0.6M501.2 502.7l1.9 -0.5M510.6 502.3l1.4 0.3M538.3 502.5l1.4 -0.1M548.4 503.2l-0.4 -1.5M558.2 502.8l-1.6 -0.7M566.6 503.2l-0.0 -1.5M575.6 503.2l0.4 -1.5M585.3 503.1l-0.7 -1.2M593.9 503.2l0.5 -1.6M604.0 503.0l-1.3 -1.0M612.8 503.0l-0.5 -1.2M622.4 503.0l-1.3 -1.2M631.8 502.2l-1.6 0.4M640.6 502.9l-0.9 -1.0M650.3 502.7l-1.8 -0.5M659.3 502.5l-1.4 -0.2M668.6 502.3l-1.7 0.2M378.8 505.5l1.4 0.1M388.9 504.8l-0.4 1.4M397.2 505.8l1.3 -0.6M406.6 506.1l1.0 -1.1M415.7 505.9l1.2 -0.8M424.7 505.6l1.6 -0.3M434.5 506.1l0.4 -1.2M443.2 506.0l1.3 -0.9M452.7 504.9l0.8 1.1M461.6 505.9l1.4 -0.7M470.5 505.5l2.0 -0.0M479.5 505.8l2.4 -0.6M488.7 506.1l2.4 -1.1M498.2 505.5l1.8 0.0M508.2 506.2l0.3 -1.3M518.0 505.1l-1.0 0.8M526.6 504.9l0.2 1.3M535.2 505.8l1.3 -0.6M545.6 505.1l-1.0 0.7M555.2 505.7l-1.7 -0.4M564.3 506.0l-1.6 -0.9M573.5 505.4l-1.5 0.2M582.4 506.1l-1.1 -1.3M591.2 506.2l-0.2 -1.4M601.1 505.5l-1.7 -0.1M609.5 506.3l0.0 -1.5M619.5 506.1l-1.5 -1.1M628.7 505.4l-1.6 0.3M637.8 505.7l-1.5 -0.4M646.1 506.2l0.3 -1.3M656.1 505.5l-1.3 0.1M664.7 506.4l-0.1 -1.8M673.9 506.5l0.1 -1.9M386.0 509.1l-0.7 -1.0M395.5 508.6l-1.4 0.0M403.2 509.0l1.7 -0.8M413.9 508.3l-1.3 0.6M422.5 509.4l-0.1 -1.7M431.8 509.3l-0.4 -1.5M440.9 507.9l-0.2 1.4M450.2 509.4l-0.4 -1.7M459.7 509.1l-1.0 -1.0M467.5 509.2l1.8 -1.2M476.7 508.8l1.8 -0.4M486.1 509.0l1.5 -0.9M495.4 508.8l1.3 -0.5M505.4 507.9l-0.3 1.4M515.1 508.3l-1.4 0.7M522.9 508.6l1.4 -0.1M533.1 507.9l-0.5 1.3M542.7 508.8l-1.4 -0.5M551.9 508.6l-1.5 -0.1M561.0 509.1l-1.3 -1.0M569.7 509.3l-0.2 -1.4M579.4 508.2l-1.1 0.8M588.9 509.1l-1.7 -1.0M597.9 508.5l-1.4 0.2M607.1 509.1l-1.4 -0.9M615.8 509.4l-0.3 -1.7M625.4 509.1l-1.2 -1.0M634.7 508.9l-1.4 -0.6M643.3 509.3l-0.1 -1.5M652.7 509.2l-0.5 -1.2M662.0 509.3l-0.7 -1.5M670.6 509.4l0.5 -1.6M427.1 441.6l-1.2 0.1M427.1 441.6l-0.8 -0.8M436.4 441.4l-1.2 0.3M436.4 441.4l-0.9 -0.7M455.3 440.5l-0.9 0.8M455.3 440.5l-1.2 -0.2M464.7 440.2l-0.8 0.9M464.7 440.2l-1.2 -0.1M474.5 440.5l-1.0 0.7M474.5 440.5l-1.2 -0.3M483.6 441.5l-1.1 0.3M483.6 441.5l-1.0 -0.7M492.4 442.2l-1.2 0.0M492.4 442.2l-0.8 -0.9M500.6 442.1l-1.2 -0.2M500.6 442.1l-0.6 -1.0M424.2 444.5l-1.2 0.2M424.2 444.5l-0.9 -0.8M433.9 444.6l-1.2 0.3M433.9 444.6l-1.0 -0.7M442.7 443.9l-1.0 0.6M442.7 443.9l-1.1 -0.4M452.4 443.3l-0.8 0.9M452.4 443.3l-1.2 -0.1M461.7 443.0l-0.8 0.9M461.7 443.0l-1.2 -0.0M471.4 443.5l-1.0 0.7M471.4 443.5l-1.2 -0.3M480.4 444.4l-1.1 0.4M480.4 444.4l-1.0 -0.6M489.1 445.2l-1.2 -0.0M489.1 445.2l-0.7 -0.9M497.8 445.4l-1.2 -0.3M497.8 445.4l-0.5 -1.1M559.3 445.2l0.5 -1.1M559.3 445.2l1.1 -0.4M568.3 445.2l0.6 -1.1M568.3 445.2l1.2 -0.3M421.1 448.0l-1.2 -0.0M421.1 448.0l-0.8 -0.9M431.0 448.0l-1.2 0.1M431.0 448.0l-0.9 -0.8M440.3 447.3l-1.1 0.5M440.3 447.3l-1.1 -0.5M448.9 446.7l-0.9 0.8M448.9 446.7l-1.2 -0.2M458.1 445.9l-0.6 1.0M458.1 445.9l-1.2 0.2M467.3 445.8l-0.6 1.1M467.3 445.8l-1.2 0.2M476.9 447.2l-1.1 0.5M476.9 447.2l-1.1 -0.5M485.4 448.5l-1.2 -0.3M485.4 448.5l-0.5 -1.1M494.3 449.0l-1.0 -0.6M494.3 449.0l-0.2 -1.2M503.3 448.6l-1.1 -0.6M503.3 448.6l-0.2 -1.2M556.0 448.0l0.7 -1.0M556.0 448.0l1.2 -0.1M565.3 447.8l0.7 -0.9M565.3 447.8l1.2 -0.0M427.4 450.8l-1.2 0.2M427.4 450.8l-0.9 -0.8M437.3 450.7l-1.2 0.3M437.3 450.7l-1.0 -0.7M446.2 450.4l-1.1 0.4M446.2 450.4l-1.0 -0.6M454.8 449.0l-0.5 1.1M454.8 449.0l-1.2 0.3M463.5 449.0l-0.4 1.1M463.5 449.0l-1.1 0.4M490.2 451.9l-0.6 -1.0M490.2 451.9l0.4 -1.1M499.3 451.9l-0.6 -1.0M499.3 451.9l0.4 -1.1M553.1 451.5l0.4 -1.1M553.1 451.5l1.1 -0.4M562.1 451.1l0.7 -1.0M562.1 451.1l1.2 -0.1M433.8 453.9l-1.2 0.2M433.8 453.9l-0.9 -0.8M443.1 453.4l-1.1 0.5M443.1 453.4l-1.1 -0.6M452.3 452.6l-0.9 0.8M452.3 452.6l-1.2 -0.1M460.3 452.1l-0.3 1.2M460.3 452.1l-1.1 0.5M486.0 455.1l-0.0 -1.2M486.0 455.1l0.9 -0.8M495.2 455.3l-0.0 -1.2M495.2 455.3l0.9 -0.8M550.2 454.4l0.4 -1.1M550.2 454.4l1.1 -0.4M559.2 454.2l0.6 -1.0M559.2 454.2l1.2 -0.2M430.0 456.8l-1.2 0.2M430.0 456.8l-0.9 -0.8M440.0 456.8l-1.2 0.3M440.0 456.8l-1.0 -0.7M449.1 456.3l-1.1 0.6M449.1 456.3l-1.1 -0.5M457.6 455.6l-0.7 1.0M457.6 455.6l-1.2 0.1M473.0 456.7l0.9 -0.7M473.0 456.7l1.2 0.3M481.8 457.9l0.6 -1.1M481.8 457.9l1.2 -0.2M491.6 458.3l0.2 -1.2M491.6 458.3l1.1 -0.6M501.2 457.9l0.2 -1.2M501.2 457.9l1.0 -0.6M547.1 457.4l0.4 -1.1M547.1 457.4l1.1 -0.4M556.0 457.5l0.5 -1.1M556.0 457.5l1.2 -0.3M436.3 459.9l-1.2 0.2M436.3 459.9l-0.9 -0.8M446.2 459.7l-1.1 0.4M446.2 459.7l-1.0 -0.6M454.9 459.5l-1.1 0.5M454.9 459.5l-1.1 -0.5M478.7 460.3l0.8 -0.9M478.7 460.3l1.2 0.0M488.0 460.8l0.6 -1.0M488.0 460.8l1.2 -0.2M498.1 460.7l0.3 -1.2M498.1 460.7l1.1 -0.5M544.0 460.4l0.5 -1.1M544.0 460.4l1.2 -0.3M553.2 460.6l0.4 -1.1M553.2 460.6l1.1 -0.4M442.6 462.5l-1.1 0.5M442.6 462.5l-1.1 -0.5M451.9 462.9l-1.2 0.3M451.9 462.9l-0.9 -0.7M476.6 463.7l0.4 -1.1M476.6 463.7l1.1 -0.5M485.3 464.2l0.4 -1.1M485.3 464.2l1.1 -0.5M494.8 463.7l0.5 -1.1M494.8 463.7l1.1 -0.4M448.6 466.2l-1.2 0.1M448.6 466.2l-0.9 -0.8M457.9 466.5l-1.2 -0.1M457.9 466.5l-0.7 -1.0M474.9 467.1l-0.7 -1.0M474.9 467.1l0.3 -1.2M483.3 467.1l-0.1 -1.2M483.3 467.1l0.8 -0.9M463.7 469.6l-1.2 -0.2M463.7 469.6l-0.6 -1.0M473.1 469.6l-1.2 -0.1M473.1 469.6l-0.7 -1.0M544.3 469.9l0.2 -1.2M544.3 469.9l1.0 -0.6M460.5 472.6l-1.2 -0.2M460.5 472.6l-0.6 -1.0M470.4 472.9l-1.2 -0.1M470.4 472.9l-0.7 -1.0M479.7 472.7l-1.2 -0.0M479.7 472.7l-0.8 -0.9M488.6 473.3l-1.2 -0.3M488.6 473.3l-0.5 -1.1M497.6 472.9l-1.2 -0.2M497.6 472.9l-0.6 -1.1M466.8 475.5l-1.2 0.0M466.8 475.5l-0.8 -0.9M476.8 476.0l-1.2 -0.1M476.8 476.0l-0.7 -1.0M486.2 476.3l-1.2 -0.1M486.2 476.3l-0.6 -1.0M495.3 476.1l-1.2 -0.1M495.3 476.1l-0.7 -1.0M504.0 475.8l-1.2 -0.1M504.0 475.8l-0.7 -1.0M473.1 478.9l-1.2 -0.2M473.1 478.9l-0.6 -1.0M482.8 479.1l-1.2 -0.1M482.8 479.1l-0.7 -1.0M492.6 479.0l-1.2 0.1M492.6 479.0l-0.8 -0.9M501.3 478.9l-1.2 -0.0M501.3 478.9l-0.8 -0.9M509.6 478.7l-1.2 -0.2M509.6 478.7l-0.6 -1.0M479.3 482.1l-1.2 -0.2M479.3 482.1l-0.6 -1.1M489.2 481.9l-1.2 0.1M489.2 481.9l-0.8 -0.9M498.6 482.1l-1.2 0.0M498.6 482.1l-0.8 -0.9M507.5 481.8l-1.2 0.1M507.5 481.8l-0.8 -0.8M485.4 484.5l-1.2 0.1M485.4 484.5l-0.9 -0.8M495.4 484.9l-1.2 0.1M495.4 484.9l-0.8 -0.9M504.7 485.0l-1.2 0.1M504.7 485.0l-0.8 -0.9M491.4 487.7l-1.2 0.0M491.4 487.7l-0.8 -0.9M502.0 487.9l-1.2 0.2M502.0 487.9l-0.9 -0.8M510.1 487.7l-1.2 0.1M510.1 487.7l-0.8 -0.9M498.0 490.3l-1.1 0.4M498.0 490.3l-1.0 -0.6M507.2 490.7l-1.2 0.2M507.2 490.7l-0.9 -0.8M503.9 493.6l-1.2 0.3M503.9 493.6l-1.0 -0.7M512.9 493.5l-1.2 0.3M512.9 493.5l-1.0 -0.7" stroke="#555555" stroke-width="0.55" fill="none" stroke-linecap="round"/>
<rect x="36.5" y="74.9" width="299" height="5.2" fill="#d6b585"/>
<rect x="36.5" y="78.5" width="299" height="1.6" fill="#e6cfa8"/>
<rect x="36.5" y="76" width="299" height="1.5" fill="#8d6a3f"/>
<rect x="36.5" y="74.9" width="299" height="1.2" fill="#3c4652"/>
<rect x="375.5" y="74.9" width="299" height="5.2" fill="#d6b585"/>
<rect x="375.5" y="78.5" width="299" height="1.6" fill="#e6cfa8"/>
<rect x="375.5" y="76" width="299" height="1.5" fill="#8d6a3f"/>
<rect x="375.5" y="74.9" width="299" height="1.2" fill="#3c4652"/>
<rect x="36.5" y="253.9" width="299" height="5.2" fill="#d6b585"/>
<rect x="36.5" y="257.5" width="299" height="1.6" fill="#e6cfa8"/>
<rect x="36.5" y="255" width="299" height="1.5" fill="#8d6a3f"/>
<rect x="36.5" y="253.9" width="299" height="1.2" fill="#3c4652"/>
<rect x="375.5" y="253.9" width="299" height="5.2" fill="#d6b585"/>
<rect x="375.5" y="254.9" width="299" height="3.2" fill="#8f7a62"/>
<rect x="375.5" y="257.5" width="299" height="1.6" fill="#e6cfa8"/>
<rect x="375.5" y="253.9" width="299" height="1.2" fill="#3c4652"/>
<path d="M108,436.9 C114,442.9 118,443.2 124,443.3 L204,443.5 C210,443.5 214,441.9 218,436.9 Z" fill="#cdb08a"/>
<path d="M112,439.1 H214 M118,440.9 H210" stroke="#a48c6c" stroke-width="0.8"/>
<rect x="36.5" y="432.9" width="299" height="5.2" fill="#d6b585"/>
<rect x="36.5" y="436.5" width="299" height="1.6" fill="#e6cfa8"/>
<rect x="36.5" y="434" width="299" height="1.5" fill="#8d6a3f"/>
<rect x="36.5" y="432.9" width="299" height="1.2" fill="#3c4652"/>
<path d="M428,436.9 C434,442.9 438,443.2 444,443.3 L548,443.5 C554,443.5 558,441.9 562,436.9 Z" fill="#cdb08a"/>
<path d="M432,439.1 H558 M438,440.9 H554" stroke="#a48c6c" stroke-width="0.8"/>
<rect x="375.5" y="432.9" width="299" height="5.2" fill="#d6b585"/>
<rect x="375.5" y="436.5" width="299" height="1.6" fill="#e6cfa8"/>
<rect x="375.5" y="434" width="299" height="1.5" fill="#8d6a3f"/>
<rect x="375.5" y="432.9" width="299" height="1.2" fill="#3c4652"/>
<path d="M169.6,134 V117 Q169.6,114.3 172.3,114.3 H199.7 Q202.4,114.3 202.4,117 V134" fill="none" stroke="#8a8a8a" stroke-width="0.5"/>
<path d="M173.5,125V131.5M176.9,125V131.91M180.3,125V132.32M183.7,125V132.72M187.1,125V132.87M190.5,125V132.46M193.9,125V132.05M197.3,125V131.64" stroke="#777" stroke-width="0.5"/>
<rect x="170.6" y="116.9" width="30.5" height="7" fill="#4f9b1c" stroke="#2f3a2a" stroke-width="0.5"/>
<path d="M170.8,117.3H200.9" stroke="#2d6fb0" stroke-width="0.9"/>
<text transform="translate(145.5,111.7) scale(1.024,1)" font-size="11.8" fill="#231f20" stroke="#231f20" stroke-width="0.26" >Remnant block</text>
<rect x="508.4" y="116" width="32.8" height="11.5" rx="2.5" fill="#ffffff" stroke="#8a8a8a" stroke-width="0.5"/>
<rect x="509.9" y="118.3" width="30.2" height="7.5" fill="#4f9b1c" stroke="#2f3a2a" stroke-width="0.5"/>
<path d="M510.1,118.6H539.9" stroke="#2d6fb0" stroke-width="0.8"/>
<path d="M513,122.2H537" stroke="#3a5a2a" stroke-width="0.4"/>
<path d="M516.9,112.3L519.4,116.2M541.6,116L538,120.7" stroke="#231f20" stroke-width="0.7"/>
<text transform="translate(495.3,114.1) scale(0.986,1)" font-size="10.3" fill="#e8403a" stroke="#e8403a" stroke-width="0.22" >1200 °C</text>
<text transform="translate(542,120)" font-size="10.3" fill="#e8403a" stroke="#e8403a" stroke-width="0.22" >800 °C</text>
<path d="M173.2,305.4L176.7,304.3L182.1,305.8L187.5,307.5L189.7,311L189.2,313.7L187.5,316.9L187.1,321.5L187.5,327L187.6,332.2L180.9,332.2L181.7,325.4L181.3,317.6L179.4,314.5L175.9,311L173.5,307.9Z" fill="#f5a243" stroke="#c88a40" stroke-width="0.4" />
<path d="M176,306.5L180.5,313M179,306L184,315.5M183.5,308L186,320M182.5,318L183.6,331M185.5,322L185.9,331M177.5,310L181.5,316" stroke="#a87844" stroke-width="0.55" fill="none"/>
<path d="M173.2,294.2L202.9,299.6L201.9,306.1L172,300.2Z" fill="#4f9b1c" stroke="#2f3a2a" stroke-width="0.5" />
<path d="M173.2,294.2L202.9,299.6" stroke="#2d6fb0" stroke-width="1.0"/>
<path d="M375.4,258.6 H440 C455,259.5 465,260.5 470,262.5 C473,264 475,266.5 476.5,267.2 C477,265 477.5,262 478.5,259.4 Z" fill="#d6b68c"/>
<path d="M531,259.2 C533,262 535,264.5 537,265 C538.5,263 539.5,261 541,260.5 C542.5,261.5 544,262.5 546,262.2 C547,261 548,259.8 549,259.2 Z" fill="#d6b68c"/>
<path d="M478,259.4 L531.5,259.4 C531,261.5 530,263.2 528,263.4 Q515,262.4 500,262.6 Q488,263.2 479,262.8 Q477.5,261 478,259.4 Z" fill="#9ae452"/>
<path d="M481,262.6 Q485,264.6 490,263.4" fill="none" stroke="#f0a04a" stroke-width="1"/>
<path d="M504.3,262.5 C509,264 512,266 513.2,276.1 C513.5,281 513,285 510.8,291 C509.2,296 510.3,301 511.2,304.8 C513,310 515,314 517.2,319 C519,323 520.5,328 521.2,332.5" fill="none" stroke="#b8a48a" stroke-width="2.1"/>
<path d="M504.3,262.5 C509,264 512,266 513.2,276.1 C513.5,281 513,285 510.8,291 C509.2,296 510.3,301 511.2,304.8 C513,310 515,314 517.2,319 C519,323 520.5,328 521.2,332.5" fill="none" stroke="#f0a04a" stroke-width="1.2"/>
<path d="M518,321 C520,325 521.5,329 522,332.5 L524.5,332.5 C523.5,328 521.5,324 518,321Z" fill="#f0a04a"/>
<path d="M513,289.2 L518.5,287.8 Q521,287.6 522,289.5 L535.5,314 Q536.5,317 534,318.6 L530,320 Q527.5,320.6 526.2,318.6 L512,293.5 Q511,290.2 513,289.2 Z" fill="#ffffff" stroke="#555" stroke-width="0.5"/>
<path d="M513.4,292.3L518,290.4L532.3,316.2L527.6,318.7Z" fill="#4f9b1c" stroke="#2f3a2a" stroke-width="0.5" />
<path d="M518,290.4L532.3,316.2" stroke="#2d6fb0" stroke-width="1.0"/>
<path d="M516,293.5 L529.5,316" stroke="#355a25" stroke-width="0.4"/>
<rect x="481.2" y="252.9" width="32.2" height="6" fill="none" stroke="#e0201c" stroke-width="1.2"/>
<path d="M487,259.4 L526.5,268.6 M513.4,258.9 L674.5,268.6" stroke="#e0201c" stroke-width="0.8"/>
<rect x="526.6" y="268.5" width="147.8" height="24.7" fill="#ffffff"/>
<rect x="526.6" y="272" width="147.8" height="3.0" fill="#9fc8ee"/>
<rect x="526.6" y="275" width="147.8" height="6.4" fill="#7b5a30"/>
<rect x="526.6" y="274.6" width="147.8" height="1.2" fill="#4a4038"/>
<rect x="526.6" y="280" width="147.8" height="1.5" fill="#4a4038"/>
<rect x="526.6" y="281.5" width="147.8" height="11.7" fill="#d3ae7d"/>
<path d="M526.6,286.6 C540,286.2 545,285.4 552,285.6 C565,286.4 575,287.6 585,287.2 C595,286.4 605,286.2 615,285.6 C625,285.8 632,287.8 640,287.2 C650,286.4 660,286.8 674.4,286.8" fill="none" stroke="#424242" stroke-width="1.8"/>
<path d="M527,290.8 h7 v1.6 h-7z M612,290.2 h38 v2 h-38z" fill="#9be356"/>
<path d="M545,273.2h0.8v0.9h-0.8zM547.1,273.9h1.3v0.9h-1.3zM549.2,274.6h1.8v0.9h-1.8zM551.3,273.55h0.8v0.9h-0.8zM553.4,274.25h1.3v0.9h-1.3zM555.5,273.2h1.8v0.9h-1.8zM557.6,273.9h0.8v0.9h-0.8zM559.7,274.6h1.3v0.9h-1.3zM561.8,273.55h1.8v0.9h-1.8zM563.9,274.25h0.8v0.9h-0.8zM566,273.2h1.3v0.9h-1.3zM568.1,273.9h1.8v0.9h-1.8zM570.2,274.6h0.8v0.9h-0.8zM572.3,273.55h1.3v0.9h-1.3zM574.4,274.25h1.8v0.9h-1.8zM576.5,273.2h0.8v0.9h-0.8zM578.6,273.9h1.3v0.9h-1.3zM580.7,274.6h1.8v0.9h-1.8zM582.8,273.55h0.8v0.9h-0.8zM584.9,274.25h1.3v0.9h-1.3zM587,273.2h1.8v0.9h-1.8zM589.1,273.9h0.8v0.9h-0.8zM591.2,274.6h1.3v0.9h-1.3zM593.3,273.55h1.8v0.9h-1.8zM595.4,274.25h0.8v0.9h-0.8zM597.5,273.2h1.3v0.9h-1.3zM599.6,273.9h1.8v0.9h-1.8zM601.7,274.6h0.8v0.9h-0.8zM603.8,273.55h1.3v0.9h-1.3zM605.9,274.25h1.8v0.9h-1.8zM608,273.2h0.8v0.9h-0.8zM610.1,273.9h1.3v0.9h-1.3zM612.2,274.6h1.8v0.9h-1.8zM614.3,273.55h0.8v0.9h-0.8zM616.4,274.25h1.3v0.9h-1.3zM618.5,273.2h1.8v0.9h-1.8zM620.6,273.9h0.8v0.9h-0.8zM622.7,274.6h1.3v0.9h-1.3zM624.8,273.55h1.8v0.9h-1.8zM626.9,274.25h0.8v0.9h-0.8zM629,273.2h1.3v0.9h-1.3zM631.1,273.9h1.8v0.9h-1.8zM633.2,274.6h0.8v0.9h-0.8zM635.3,273.55h1.3v0.9h-1.3zM637.4,274.25h1.8v0.9h-1.8zM639.5,273.2h0.8v0.9h-0.8zM641.6,273.9h1.3v0.9h-1.3zM643.7,274.6h1.8v0.9h-1.8zM645.8,273.55h0.8v0.9h-0.8zM647.9,274.25h1.3v0.9h-1.3zM650,273.2h1.8v0.9h-1.8zM652.1,273.9h0.8v0.9h-0.8zM654.2,274.6h1.3v0.9h-1.3zM656.3,273.55h1.8v0.9h-1.8zM658.4,274.25h0.8v0.9h-0.8zM660.5,273.2h1.3v0.9h-1.3zM662.6,273.9h1.8v0.9h-1.8zM664.7,274.6h0.8v0.9h-0.8zM666.8,273.55h1.3v0.9h-1.3zM668.9,274.25h1.8v0.9h-1.8zM671,273.2h0.8v0.9h-0.8z" fill="#5a4a3a" opacity="0.8"/>
<rect x="526.6" y="268.5" width="147.8" height="24.7" fill="none" stroke="#e0201c" stroke-width="1.4"/>
<path d="M116,437.6 Q130,436.4 150,436.9 Q180,436.6 211,437.4 L211,441.2 Q190,442.4 170,441.6 Q150,442.6 130,441.8 Q122,442 116,441.2 Z" fill="#96e04c"/>
<path d="M118,438.4h2v0.9h-2zM123.3,440.2h4v0.9h-4zM128.6,439.6h3v0.9h-3zM133.9,439h2v0.9h-2zM139.2,438.4h4v0.9h-4zM144.5,440.2h3v0.9h-3zM149.8,439.6h2v0.9h-2zM155.1,439h4v0.9h-4zM160.4,438.4h3v0.9h-3zM165.7,440.2h2v0.9h-2zM171,439.6h4v0.9h-4zM176.3,439h3v0.9h-3zM181.6,438.4h2v0.9h-2zM186.9,440.2h4v0.9h-4zM192.2,439.6h3v0.9h-3zM197.5,439h2v0.9h-2zM202.8,438.4h4v0.9h-4zM208.1,440.2h3v0.9h-3z" fill="#6fae3a" opacity="0.7"/>
<path d="M167.2,442.6 C172,450 177,455 179.1,461.7 C180.5,466 179.8,470 178,476 C176,481 174,487 173.8,494 C173.8,500 177,506 181.1,511" fill="none" stroke="#a09888" stroke-width="2.0"/>
<path d="M167.2,442.6 C172,450 177,455 179.1,461.7 C180.5,466 179.8,470 178,476 C176,481 174,487 173.8,494 C173.8,500 177,506 181.1,511" fill="none" stroke="#ee9c44" stroke-width="1.15"/>
<path d="M182,466.5 Q185.5,465.5 188.5,468 L187,501.5 Q184,504 180.5,503 L176.5,499 Q176.5,480 182,466.5 Z" fill="#ffffff" stroke="#666" stroke-width="0.5"/>
<path d="M180.7,469.7L187,470.3L184.6,500.1L178.4,499.4Z" fill="#4f9b1c" stroke="#2f3a2a" stroke-width="0.5" />
<path d="M187,470.3L184.6,500.1" stroke="#2d6fb0" stroke-width="1.0"/>
<path d="M100,492.8 L139.5,441.7" stroke="#2a1f1f" stroke-width="0.8"/>
<text transform="translate(43.5,498.4) scale(0.942,1)" font-size="11" fill="#231f20" stroke="#231f20" stroke-width="0.26" >Melted plume residue</text>
<path d="M449,437.8 Q470,436.6 500,437 Q530,436.7 555,437.6 L555,441.6 Q530,442.4 505,441.8 Q480,442.6 449,441.4 Z" fill="#96e04c"/>
<path d="M451,438.6h2v0.9h-2zM456.3,440.4h4v0.9h-4zM461.6,439.8h3v0.9h-3zM466.9,439.2h2v0.9h-2zM472.2,438.6h4v0.9h-4zM477.5,440.4h3v0.9h-3zM482.8,439.8h2v0.9h-2zM488.1,439.2h4v0.9h-4zM493.4,438.6h3v0.9h-3zM498.7,440.4h2v0.9h-2zM504,439.8h4v0.9h-4zM509.3,439.2h3v0.9h-3zM514.6,438.6h2v0.9h-2zM519.9,440.4h4v0.9h-4zM525.2,439.8h3v0.9h-3zM530.5,439.2h2v0.9h-2zM535.8,438.6h4v0.9h-4zM541.1,440.4h3v0.9h-3zM546.4,439.8h2v0.9h-2zM551.7,439.2h4v0.9h-4z" fill="#6fae3a" opacity="0.7"/>
<path d="M501.9,440.6 C507,446 511,450 513.1,452.5 C517,457 521,461 522.4,465.7 C523,470 521,474 519.1,477.6 C516,483 513,487 511.8,492.2 C511,497 511.5,500 512.5,502 C514,505 516,507 518.4,509.4" fill="none" stroke="#a09888" stroke-width="2.0"/>
<path d="M501.9,440.6 C507,446 511,450 513.1,452.5 C517,457 521,461 522.4,465.7 C523,470 521,474 519.1,477.6 C516,483 513,487 511.8,492.2 C511,497 511.5,500 512.5,502 C514,505 516,507 518.4,509.4" fill="none" stroke="#ee9c44" stroke-width="1.15"/>
<path d="M524,468.5 Q528.5,467.5 533.5,470.5 Q535,473 533.5,476 L522,501 Q519.5,503.5 516,502 L513.5,500.5 Q512.5,498 513.5,495.5 Z" fill="#ffffff" stroke="#666" stroke-width="0.5"/>
<path d="M525.4,471.7L531.7,473.6L520.7,500.1L514.5,498.1Z" fill="#4f9b1c" stroke="#2f3a2a" stroke-width="0.5" />
<path d="M531.7,473.6L520.7,500.1" stroke="#2d6fb0" stroke-width="1.0"/>
<text transform="translate(34.2,77.8)" font-size="8.1" text-anchor="end" fill="#231f20" stroke="#231f20" stroke-width="0.22" >0</text>
<text transform="translate(34.2,100.3)" font-size="8.1" text-anchor="end" fill="#231f20" stroke="#231f20" stroke-width="0.22" >-300</text>
<text transform="translate(34.2,122.8)" font-size="8.1" text-anchor="end" fill="#231f20" stroke="#231f20" stroke-width="0.22" >-600</text>
<text transform="translate(34.2,145.3)" font-size="8.1" text-anchor="end" fill="#231f20" stroke="#231f20" stroke-width="0.22" >-900</text>
<text transform="translate(36.5,161.9)" font-size="8.2" text-anchor="middle" fill="#231f20" stroke="#231f20" stroke-width="0.22" >0</text>
<text transform="translate(65,161.9)" font-size="8.2" text-anchor="middle" fill="#231f20" stroke="#231f20" stroke-width="0.22" >400</text>
<text transform="translate(94.9,161.9)" font-size="8.2" text-anchor="middle" fill="#231f20" stroke="#231f20" stroke-width="0.22" >800</text>
<text transform="translate(124.8,161.9)" font-size="8.2" text-anchor="middle" fill="#231f20" stroke="#231f20" stroke-width="0.22" >1200</text>
<text transform="translate(154.7,161.9)" font-size="8.2" text-anchor="middle" fill="#231f20" stroke="#231f20" stroke-width="0.22" >1600</text>
<text transform="translate(184.6,161.9)" font-size="8.2" text-anchor="middle" fill="#231f20" stroke="#231f20" stroke-width="0.22" >2000</text>
<text transform="translate(214.5,161.9)" font-size="8.2" text-anchor="middle" fill="#231f20" stroke="#231f20" stroke-width="0.22" >2400</text>
<text transform="translate(244.4,161.9)" font-size="8.2" text-anchor="middle" fill="#231f20" stroke="#231f20" stroke-width="0.22" >2800</text>
<text transform="translate(274.3,161.9)" font-size="8.2" text-anchor="middle" fill="#231f20" stroke="#231f20" stroke-width="0.22" >3200</text>
<text transform="translate(304.2,161.9)" font-size="8.2" text-anchor="middle" fill="#231f20" stroke="#231f20" stroke-width="0.22" >3600</text>
<text transform="translate(334.1,161.9)" font-size="8.2" text-anchor="middle" fill="#231f20" stroke="#231f20" stroke-width="0.22" >4000</text>
<path d="M36.5,97.5h2.8M335.5,97.5h-2.8M36.5,119.5h2.8M335.5,119.5h-2.8M36.5,142.5h2.8M335.5,142.5h-2.8M36.5,74.9v4.6M36.5,153.5v-2.8M66.5,74.9v4.6M66.5,153.5v-2.8M96.5,74.9v4.6M96.5,153.5v-2.8M126.5,74.9v4.6M126.5,153.5v-2.8M156.5,74.9v4.6M156.5,153.5v-2.8M186.5,74.9v4.6M186.5,153.5v-2.8M215.5,74.9v4.6M215.5,153.5v-2.8M245.5,74.9v4.6M245.5,153.5v-2.8M275.5,74.9v4.6M275.5,153.5v-2.8M305.5,74.9v4.6M305.5,153.5v-2.8M335.5,74.9v4.6M335.5,153.5v-2.8" stroke="#2a2222" stroke-width="0.9" fill="none"/>
<path d="M36.5,74.9H335.5V153.5H36.5Z" fill="none" stroke="#3a3030" stroke-width="1"/>
<path d="M36.5,74.9V153.5" fill="none" stroke="#8a8080" stroke-width="1"/>
<text transform="translate(187.5,169.8) scale(1.021,1)" font-size="8.1" text-anchor="middle" fill="#231f20" stroke="#231f20" stroke-width="0.22" >Distance (km)</text>
<text transform="translate(12.3,116.5) rotate(-90) scale(1.036,1)" font-size="8.0" text-anchor="middle" fill="#231f20" stroke="#231f20" stroke-width="0.22" >Depth (km)</text>
<text transform="translate(6.7,82.8)" font-size="13" fill="#231f20" stroke="#231f20" stroke-width="0.26" >(a)</text>
<rect x="262" y="139.6" width="73.5" height="13.9" fill="#fff" stroke="#231f20" stroke-width="0.8"/>
<path d="M265.8,146.6H278.6" stroke="#444" stroke-width="0.8"/>
<path d="M265.6,146.6l2.6,-1.2v2.4z" fill="#444"/>
<text transform="translate(280.4,150.2) scale(1.050,1)" font-size="10.2" fill="#231f20" stroke="#231f20" stroke-width="0.22" >3·10 cm/yr</text>
<text transform="translate(373.2,77.8)" font-size="8.1" text-anchor="end" fill="#231f20" stroke="#231f20" stroke-width="0.22" >0</text>
<text transform="translate(373.2,100.3)" font-size="8.1" text-anchor="end" fill="#231f20" stroke="#231f20" stroke-width="0.22" >-300</text>
<text transform="translate(373.2,122.8)" font-size="8.1" text-anchor="end" fill="#231f20" stroke="#231f20" stroke-width="0.22" >-600</text>
<text transform="translate(373.2,145.3)" font-size="8.1" text-anchor="end" fill="#231f20" stroke="#231f20" stroke-width="0.22" >-900</text>
<text transform="translate(375.5,161.9)" font-size="8.2" text-anchor="middle" fill="#231f20" stroke="#231f20" stroke-width="0.22" >0</text>
<text transform="translate(404,161.9)" font-size="8.2" text-anchor="middle" fill="#231f20" stroke="#231f20" stroke-width="0.22" >400</text>
<text transform="translate(433.9,161.9)" font-size="8.2" text-anchor="middle" fill="#231f20" stroke="#231f20" stroke-width="0.22" >800</text>
<text transform="translate(463.8,161.9)" font-size="8.2" text-anchor="middle" fill="#231f20" stroke="#231f20" stroke-width="0.22" >1200</text>
<text transform="translate(493.7,161.9)" font-size="8.2" text-anchor="middle" fill="#231f20" stroke="#231f20" stroke-width="0.22" >1600</text>
<text transform="translate(523.6,161.9)" font-size="8.2" text-anchor="middle" fill="#231f20" stroke="#231f20" stroke-width="0.22" >2000</text>
<text transform="translate(553.5,161.9)" font-size="8.2" text-anchor="middle" fill="#231f20" stroke="#231f20" stroke-width="0.22" >2400</text>
<text transform="translate(583.4,161.9)" font-size="8.2" text-anchor="middle" fill="#231f20" stroke="#231f20" stroke-width="0.22" >2800</text>
<text transform="translate(613.3,161.9)" font-size="8.2" text-anchor="middle" fill="#231f20" stroke="#231f20" stroke-width="0.22" >3200</text>
<text transform="translate(643.2,161.9)" font-size="8.2" text-anchor="middle" fill="#231f20" stroke="#231f20" stroke-width="0.22" >3600</text>
<text transform="translate(673.1,161.9)" font-size="8.2" text-anchor="middle" fill="#231f20" stroke="#231f20" stroke-width="0.22" >4000</text>
<path d="M375.5,97.5h2.8M674.5,97.5h-2.8M375.5,119.5h2.8M674.5,119.5h-2.8M375.5,142.5h2.8M674.5,142.5h-2.8M375.5,74.9v4.6M375.5,153.5v-2.8M405.5,74.9v4.6M405.5,153.5v-2.8M435.5,74.9v4.6M435.5,153.5v-2.8M465.5,74.9v4.6M465.5,153.5v-2.8M495.5,74.9v4.6M495.5,153.5v-2.8M525.5,74.9v4.6M525.5,153.5v-2.8M554.5,74.9v4.6M554.5,153.5v-2.8M584.5,74.9v4.6M584.5,153.5v-2.8M614.5,74.9v4.6M614.5,153.5v-2.8M644.5,74.9v4.6M644.5,153.5v-2.8M674.5,74.9v4.6M674.5,153.5v-2.8" stroke="#2a2222" stroke-width="0.9" fill="none"/>
<path d="M375.5,74.9H674.5V153.5H375.5Z" fill="none" stroke="#3a3030" stroke-width="1"/>
<path d="M375.5,74.9V153.5" fill="none" stroke="#8a8080" stroke-width="1"/>
<text transform="translate(526.5,169.8) scale(1.021,1)" font-size="8.1" text-anchor="middle" fill="#231f20" stroke="#231f20" stroke-width="0.22" >Distance (km)</text>
<text transform="translate(351.7,116.5) rotate(-90) scale(1.036,1)" font-size="8.0" text-anchor="middle" fill="#231f20" stroke="#231f20" stroke-width="0.22" >Depth (km)</text>
<text transform="translate(343.5,82.8)" font-size="13" fill="#231f20" stroke="#231f20" stroke-width="0.26" >(b)</text>
<rect x="601" y="139.6" width="73.5" height="13.9" fill="#fff" stroke="#231f20" stroke-width="0.8"/>
<path d="M604.8,146.6H617.6" stroke="#444" stroke-width="0.8"/>
<path d="M604.6,146.6l2.6,-1.2v2.4z" fill="#444"/>
<text transform="translate(619.4,150.2) scale(1.050,1)" font-size="10.2" fill="#231f20" stroke="#231f20" stroke-width="0.22" >3·10 cm/yr</text>
<text transform="translate(34.2,256.8)" font-size="8.1" text-anchor="end" fill="#231f20" stroke="#231f20" stroke-width="0.22" >0</text>
<text transform="translate(34.2,279.3)" font-size="8.1" text-anchor="end" fill="#231f20" stroke="#231f20" stroke-width="0.22" >-300</text>
<text transform="translate(34.2,301.8)" font-size="8.1" text-anchor="end" fill="#231f20" stroke="#231f20" stroke-width="0.22" >-600</text>
<text transform="translate(34.2,324.3)" font-size="8.1" text-anchor="end" fill="#231f20" stroke="#231f20" stroke-width="0.22" >-900</text>
<text transform="translate(36.5,340.9)" font-size="8.2" text-anchor="middle" fill="#231f20" stroke="#231f20" stroke-width="0.22" >0</text>
<text transform="translate(65,340.9)" font-size="8.2" text-anchor="middle" fill="#231f20" stroke="#231f20" stroke-width="0.22" >400</text>
<text transform="translate(94.9,340.9)" font-size="8.2" text-anchor="middle" fill="#231f20" stroke="#231f20" stroke-width="0.22" >800</text>
<text transform="translate(124.8,340.9)" font-size="8.2" text-anchor="middle" fill="#231f20" stroke="#231f20" stroke-width="0.22" >1200</text>
<text transform="translate(154.7,340.9)" font-size="8.2" text-anchor="middle" fill="#231f20" stroke="#231f20" stroke-width="0.22" >1600</text>
<text transform="translate(184.6,340.9)" font-size="8.2" text-anchor="middle" fill="#231f20" stroke="#231f20" stroke-width="0.22" >2000</text>
<text transform="translate(214.5,340.9)" font-size="8.2" text-anchor="middle" fill="#231f20" stroke="#231f20" stroke-width="0.22" >2400</text>
<text transform="translate(244.4,340.9)" font-size="8.2" text-anchor="middle" fill="#231f20" stroke="#231f20" stroke-width="0.22" >2800</text>
<text transform="translate(274.3,340.9)" font-size="8.2" text-anchor="middle" fill="#231f20" stroke="#231f20" stroke-width="0.22" >3200</text>
<text transform="translate(304.2,340.9)" font-size="8.2" text-anchor="middle" fill="#231f20" stroke="#231f20" stroke-width="0.22" >3600</text>
<text transform="translate(334.1,340.9)" font-size="8.2" text-anchor="middle" fill="#231f20" stroke="#231f20" stroke-width="0.22" >4000</text>
<path d="M36.5,276.5h2.8M335.5,276.5h-2.8M36.5,298.5h2.8M335.5,298.5h-2.8M36.5,321.5h2.8M335.5,321.5h-2.8M36.5,253.9v4.6M36.5,332.5v-2.8M66.5,253.9v4.6M66.5,332.5v-2.8M96.5,253.9v4.6M96.5,332.5v-2.8M126.5,253.9v4.6M126.5,332.5v-2.8M156.5,253.9v4.6M156.5,332.5v-2.8M186.5,253.9v4.6M186.5,332.5v-2.8M215.5,253.9v4.6M215.5,332.5v-2.8M245.5,253.9v4.6M245.5,332.5v-2.8M275.5,253.9v4.6M275.5,332.5v-2.8M305.5,253.9v4.6M305.5,332.5v-2.8M335.5,253.9v4.6M335.5,332.5v-2.8" stroke="#2a2222" stroke-width="0.9" fill="none"/>
<path d="M36.5,253.9H335.5V332.5H36.5Z" fill="none" stroke="#3a3030" stroke-width="1"/>
<path d="M36.5,253.9V332.5" fill="none" stroke="#8a8080" stroke-width="1"/>
<text transform="translate(187.5,348.8) scale(1.021,1)" font-size="8.1" text-anchor="middle" fill="#231f20" stroke="#231f20" stroke-width="0.22" >Distance (km)</text>
<text transform="translate(12.3,295.5) rotate(-90) scale(1.036,1)" font-size="8.0" text-anchor="middle" fill="#231f20" stroke="#231f20" stroke-width="0.22" >Depth (km)</text>
<text transform="translate(6.7,261.8) scale(1.042,1)" font-size="13" fill="#231f20" stroke="#231f20" stroke-width="0.26" >(c)</text>
<rect x="262" y="318.6" width="73.5" height="13.9" fill="#fff" stroke="#231f20" stroke-width="0.8"/>
<path d="M265.8,325.6H278.6" stroke="#444" stroke-width="0.8"/>
<path d="M265.6,325.6l2.6,-1.2v2.4z" fill="#444"/>
<text transform="translate(280.4,329.2) scale(1.050,1)" font-size="10.2" fill="#231f20" stroke="#231f20" stroke-width="0.22" >3·10 cm/yr</text>
<text transform="translate(373.2,256.8)" font-size="8.1" text-anchor="end" fill="#231f20" stroke="#231f20" stroke-width="0.22" >0</text>
<text transform="translate(373.2,279.3)" font-size="8.1" text-anchor="end" fill="#231f20" stroke="#231f20" stroke-width="0.22" >-300</text>
<text transform="translate(373.2,301.8)" font-size="8.1" text-anchor="end" fill="#231f20" stroke="#231f20" stroke-width="0.22" >-600</text>
<text transform="translate(373.2,324.3)" font-size="8.1" text-anchor="end" fill="#231f20" stroke="#231f20" stroke-width="0.22" >-900</text>
<text transform="translate(375.5,340.9)" font-size="8.2" text-anchor="middle" fill="#231f20" stroke="#231f20" stroke-width="0.22" >0</text>
<text transform="translate(404,340.9)" font-size="8.2" text-anchor="middle" fill="#231f20" stroke="#231f20" stroke-width="0.22" >400</text>
<text transform="translate(433.9,340.9)" font-size="8.2" text-anchor="middle" fill="#231f20" stroke="#231f20" stroke-width="0.22" >800</text>
<text transform="translate(463.8,340.9)" font-size="8.2" text-anchor="middle" fill="#231f20" stroke="#231f20" stroke-width="0.22" >1200</text>
<text transform="translate(493.7,340.9)" font-size="8.2" text-anchor="middle" fill="#231f20" stroke="#231f20" stroke-width="0.22" >1600</text>
<text transform="translate(523.6,340.9)" font-size="8.2" text-anchor="middle" fill="#231f20" stroke="#231f20" stroke-width="0.22" >2000</text>
<text transform="translate(553.5,340.9)" font-size="8.2" text-anchor="middle" fill="#231f20" stroke="#231f20" stroke-width="0.22" >2400</text>
<text transform="translate(583.4,340.9)" font-size="8.2" text-anchor="middle" fill="#231f20" stroke="#231f20" stroke-width="0.22" >2800</text>
<text transform="translate(613.3,340.9)" font-size="8.2" text-anchor="middle" fill="#231f20" stroke="#231f20" stroke-width="0.22" >3200</text>
<text transform="translate(643.2,340.9)" font-size="8.2" text-anchor="middle" fill="#231f20" stroke="#231f20" stroke-width="0.22" >3600</text>
<text transform="translate(673.1,340.9)" font-size="8.2" text-anchor="middle" fill="#231f20" stroke="#231f20" stroke-width="0.22" >4000</text>
<path d="M375.5,276.5h2.8M674.5,276.5h-2.8M375.5,298.5h2.8M674.5,298.5h-2.8M375.5,321.5h2.8M674.5,321.5h-2.8M375.5,253.9v4.6M375.5,332.5v-2.8M405.5,253.9v4.6M405.5,332.5v-2.8M435.5,253.9v4.6M435.5,332.5v-2.8M465.5,253.9v4.6M465.5,332.5v-2.8M495.5,253.9v4.6M495.5,332.5v-2.8M525.5,253.9v4.6M525.5,332.5v-2.8M554.5,253.9v4.6M554.5,332.5v-2.8M584.5,253.9v4.6M584.5,332.5v-2.8M614.5,253.9v4.6M614.5,332.5v-2.8M644.5,253.9v4.6M644.5,332.5v-2.8M674.5,253.9v4.6M674.5,332.5v-2.8" stroke="#2a2222" stroke-width="0.9" fill="none"/>
<path d="M375.5,253.9H674.5V332.5H375.5Z" fill="none" stroke="#3a3030" stroke-width="1"/>
<path d="M375.5,253.9V332.5" fill="none" stroke="#8a8080" stroke-width="1"/>
<text transform="translate(526.5,348.8) scale(1.021,1)" font-size="8.1" text-anchor="middle" fill="#231f20" stroke="#231f20" stroke-width="0.22" >Distance (km)</text>
<text transform="translate(351.7,295.5) rotate(-90) scale(1.036,1)" font-size="8.0" text-anchor="middle" fill="#231f20" stroke="#231f20" stroke-width="0.22" >Depth (km)</text>
<text transform="translate(343.5,261.8)" font-size="13" fill="#231f20" stroke="#231f20" stroke-width="0.26" >(d)</text>
<rect x="601" y="318.6" width="73.5" height="13.9" fill="#fff" stroke="#231f20" stroke-width="0.8"/>
<path d="M604.8,325.6H617.6" stroke="#444" stroke-width="0.8"/>
<path d="M604.6,325.6l2.6,-1.2v2.4z" fill="#444"/>
<text transform="translate(619.4,329.2) scale(1.050,1)" font-size="10.2" fill="#231f20" stroke="#231f20" stroke-width="0.22" >3·10 cm/yr</text>
<text transform="translate(34.2,435.8)" font-size="8.1" text-anchor="end" fill="#231f20" stroke="#231f20" stroke-width="0.22" >0</text>
<text transform="translate(34.2,458.3)" font-size="8.1" text-anchor="end" fill="#231f20" stroke="#231f20" stroke-width="0.22" >-300</text>
<text transform="translate(34.2,480.8)" font-size="8.1" text-anchor="end" fill="#231f20" stroke="#231f20" stroke-width="0.22" >-600</text>
<text transform="translate(34.2,503.3)" font-size="8.1" text-anchor="end" fill="#231f20" stroke="#231f20" stroke-width="0.22" >-900</text>
<text transform="translate(36.5,519.9)" font-size="8.2" text-anchor="middle" fill="#231f20" stroke="#231f20" stroke-width="0.22" >0</text>
<text transform="translate(65,519.9)" font-size="8.2" text-anchor="middle" fill="#231f20" stroke="#231f20" stroke-width="0.22" >400</text>
<text transform="translate(94.9,519.9)" font-size="8.2" text-anchor="middle" fill="#231f20" stroke="#231f20" stroke-width="0.22" >800</text>
<text transform="translate(124.8,519.9)" font-size="8.2" text-anchor="middle" fill="#231f20" stroke="#231f20" stroke-width="0.22" >1200</text>
<text transform="translate(154.7,519.9)" font-size="8.2" text-anchor="middle" fill="#231f20" stroke="#231f20" stroke-width="0.22" >1600</text>
<text transform="translate(184.6,519.9)" font-size="8.2" text-anchor="middle" fill="#231f20" stroke="#231f20" stroke-width="0.22" >2000</text>
<text transform="translate(214.5,519.9)" font-size="8.2" text-anchor="middle" fill="#231f20" stroke="#231f20" stroke-width="0.22" >2400</text>
<text transform="translate(244.4,519.9)" font-size="8.2" text-anchor="middle" fill="#231f20" stroke="#231f20" stroke-width="0.22" >2800</text>
<text transform="translate(274.3,519.9)" font-size="8.2" text-anchor="middle" fill="#231f20" stroke="#231f20" stroke-width="0.22" >3200</text>
<text transform="translate(304.2,519.9)" font-size="8.2" text-anchor="middle" fill="#231f20" stroke="#231f20" stroke-width="0.22" >3600</text>
<text transform="translate(334.1,519.9)" font-size="8.2" text-anchor="middle" fill="#231f20" stroke="#231f20" stroke-width="0.22" >4000</text>
<path d="M36.5,455.5h2.8M335.5,455.5h-2.8M36.5,477.5h2.8M335.5,477.5h-2.8M36.5,500.5h2.8M335.5,500.5h-2.8M36.5,432.9v4.6M36.5,511.5v-2.8M66.5,432.9v4.6M66.5,511.5v-2.8M96.5,432.9v4.6M96.5,511.5v-2.8M126.5,432.9v4.6M126.5,511.5v-2.8M156.5,432.9v4.6M156.5,511.5v-2.8M186.5,432.9v4.6M186.5,511.5v-2.8M215.5,432.9v4.6M215.5,511.5v-2.8M245.5,432.9v4.6M245.5,511.5v-2.8M275.5,432.9v4.6M275.5,511.5v-2.8M305.5,432.9v4.6M305.5,511.5v-2.8M335.5,432.9v4.6M335.5,511.5v-2.8" stroke="#2a2222" stroke-width="0.9" fill="none"/>
<path d="M36.5,432.9H335.5V511.5H36.5Z" fill="none" stroke="#3a3030" stroke-width="1"/>
<path d="M36.5,432.9V511.5" fill="none" stroke="#8a8080" stroke-width="1"/>
<text transform="translate(187.5,527.8) scale(1.021,1)" font-size="8.1" text-anchor="middle" fill="#231f20" stroke="#231f20" stroke-width="0.22" >Distance (km)</text>
<text transform="translate(12.3,474.5) rotate(-90) scale(1.036,1)" font-size="8.0" text-anchor="middle" fill="#231f20" stroke="#231f20" stroke-width="0.22" >Depth (km)</text>
<text transform="translate(6.7,440.8)" font-size="13" fill="#231f20" stroke="#231f20" stroke-width="0.26" >(e)</text>
<rect x="262" y="497.6" width="73.5" height="13.9" fill="#fff" stroke="#231f20" stroke-width="0.8"/>
<path d="M265.8,504.6H278.6" stroke="#444" stroke-width="0.8"/>
<path d="M265.6,504.6l2.6,-1.2v2.4z" fill="#444"/>
<text transform="translate(280.4,508.2) scale(1.050,1)" font-size="10.2" fill="#231f20" stroke="#231f20" stroke-width="0.22" >3·10 cm/yr</text>
<text transform="translate(373.2,435.8)" font-size="8.1" text-anchor="end" fill="#231f20" stroke="#231f20" stroke-width="0.22" >0</text>
<text transform="translate(373.2,458.3)" font-size="8.1" text-anchor="end" fill="#231f20" stroke="#231f20" stroke-width="0.22" >-300</text>
<text transform="translate(373.2,480.8)" font-size="8.1" text-anchor="end" fill="#231f20" stroke="#231f20" stroke-width="0.22" >-600</text>
<text transform="translate(373.2,503.3)" font-size="8.1" text-anchor="end" fill="#231f20" stroke="#231f20" stroke-width="0.22" >-900</text>
<text transform="translate(375.5,519.9)" font-size="8.2" text-anchor="middle" fill="#231f20" stroke="#231f20" stroke-width="0.22" >0</text>
<text transform="translate(404,519.9)" font-size="8.2" text-anchor="middle" fill="#231f20" stroke="#231f20" stroke-width="0.22" >400</text>
<text transform="translate(433.9,519.9)" font-size="8.2" text-anchor="middle" fill="#231f20" stroke="#231f20" stroke-width="0.22" >800</text>
<text transform="translate(463.8,519.9)" font-size="8.2" text-anchor="middle" fill="#231f20" stroke="#231f20" stroke-width="0.22" >1200</text>
<text transform="translate(493.7,519.9)" font-size="8.2" text-anchor="middle" fill="#231f20" stroke="#231f20" stroke-width="0.22" >1600</text>
<text transform="translate(523.6,519.9)" font-size="8.2" text-anchor="middle" fill="#231f20" stroke="#231f20" stroke-width="0.22" >2000</text>
<text transform="translate(553.5,519.9)" font-size="8.2" text-anchor="middle" fill="#231f20" stroke="#231f20" stroke-width="0.22" >2400</text>
<text transform="translate(583.4,519.9)" font-size="8.2" text-anchor="middle" fill="#231f20" stroke="#231f20" stroke-width="0.22" >2800</text>
<text transform="translate(613.3,519.9)" font-size="8.2" text-anchor="middle" fill="#231f20" stroke="#231f20" stroke-width="0.22" >3200</text>
<text transform="translate(643.2,519.9)" font-size="8.2" text-anchor="middle" fill="#231f20" stroke="#231f20" stroke-width="0.22" >3600</text>
<text transform="translate(673.1,519.9)" font-size="8.2" text-anchor="middle" fill="#231f20" stroke="#231f20" stroke-width="0.22" >4000</text>
<path d="M375.5,455.5h2.8M674.5,455.5h-2.8M375.5,477.5h2.8M674.5,477.5h-2.8M375.5,500.5h2.8M674.5,500.5h-2.8M375.5,432.9v4.6M375.5,511.5v-2.8M405.5,432.9v4.6M405.5,511.5v-2.8M435.5,432.9v4.6M435.5,511.5v-2.8M465.5,432.9v4.6M465.5,511.5v-2.8M495.5,432.9v4.6M495.5,511.5v-2.8M525.5,432.9v4.6M525.5,511.5v-2.8M554.5,432.9v4.6M554.5,511.5v-2.8M584.5,432.9v4.6M584.5,511.5v-2.8M614.5,432.9v4.6M614.5,511.5v-2.8M644.5,432.9v4.6M644.5,511.5v-2.8M674.5,432.9v4.6M674.5,511.5v-2.8" stroke="#2a2222" stroke-width="0.9" fill="none"/>
<path d="M375.5,432.9H674.5V511.5H375.5Z" fill="none" stroke="#3a3030" stroke-width="1"/>
<path d="M375.5,432.9V511.5" fill="none" stroke="#8a8080" stroke-width="1"/>
<text transform="translate(526.5,527.8) scale(1.021,1)" font-size="8.1" text-anchor="middle" fill="#231f20" stroke="#231f20" stroke-width="0.22" >Distance (km)</text>
<text transform="translate(351.7,474.5) rotate(-90) scale(1.036,1)" font-size="8.0" text-anchor="middle" fill="#231f20" stroke="#231f20" stroke-width="0.22" >Depth (km)</text>
<text transform="translate(343.5,440.8) scale(1.288,1)" font-size="13" fill="#231f20" stroke="#231f20" stroke-width="0.26" >(f)</text>
<rect x="601" y="497.6" width="73.5" height="13.9" fill="#fff" stroke="#231f20" stroke-width="0.8"/>
<path d="M604.8,504.6H617.6" stroke="#444" stroke-width="0.8"/>
<path d="M604.6,504.6l2.6,-1.2v2.4z" fill="#444"/>
<text transform="translate(619.4,508.2) scale(1.050,1)" font-size="10.2" fill="#231f20" stroke="#231f20" stroke-width="0.22" >3·10 cm/yr</text>
<path d="M36.5,34.6 C38.33,33.9 44.3,30.33 47.5,30.4 C50.7,30.47 53.17,34.42 55.7,35 C58.23,35.58 60.75,33.82 62.7,33.9 C64.65,33.98 65.92,35.58 67.4,35.5 C68.88,35.42 70.05,33.28 71.6,33.4 C73.15,33.52 74.37,36.52 76.7,36.2 C79.03,35.88 83.27,31.88 85.6,31.5 C87.93,31.12 88.68,33 90.7,33.9 C92.72,34.8 94.78,36.78 97.7,36.9 C100.62,37.02 104.48,34.4 108.2,34.6 C111.92,34.8 116.87,38.03 120,38.1 C123.13,38.17 124.67,36.17 127,35 C129.33,33.83 131.48,31.6 134,31.1 C136.52,30.6 139.58,32.05 142.1,32 C144.62,31.95 147.15,30.77 149.1,30.8 C151.05,30.83 151.65,31.3 153.8,32.2 C155.95,33.1 159.38,36.03 162,36.2 C164.62,36.37 167.55,33.4 169.5,33.2 C171.45,33 171.83,34.23 173.7,35 C175.57,35.77 178.1,37.98 180.7,37.8 C183.3,37.62 186.68,33.97 189.3,33.9 C191.92,33.83 193.87,37.4 196.4,37.4 C198.93,37.4 201.58,34.22 204.5,33.9 C207.42,33.58 210.67,36.17 213.9,35.5 C217.13,34.83 220.2,29.58 223.9,29.9 C227.6,30.22 232.32,36.62 236.1,37.4 C239.88,38.18 243.5,34.72 246.6,34.6 C249.7,34.48 252.17,36.75 254.7,36.7 C257.23,36.65 258.28,33.88 261.8,34.3 C265.32,34.72 271.72,39.15 275.8,39.2 C279.88,39.25 282.42,35.22 286.3,34.6 C290.18,33.98 295.48,35.73 299.1,35.5 C302.72,35.27 304.68,32.97 308,33.2 C311.32,33.43 315.8,36.6 319,36.9 C322.2,37.2 324.57,35.32 327.2,35 C329.83,34.68 333.53,35 334.8,35" fill="none" stroke="#9a5a26" stroke-width="2.3" stroke-linejoin="round" stroke-linecap="round"/>
<text transform="translate(34.2,10.2)" font-size="8.1" text-anchor="end" fill="#231f20" stroke="#231f20" stroke-width="0.22" >1000</text>
<text transform="translate(34.2,24.05)" font-size="8.1" text-anchor="end" fill="#231f20" stroke="#231f20" stroke-width="0.22" >500</text>
<text transform="translate(34.2,37.9)" font-size="8.1" text-anchor="end" fill="#231f20" stroke="#231f20" stroke-width="0.22" >0</text>
<text transform="translate(34.2,51.75)" font-size="8.1" text-anchor="end" fill="#231f20" stroke="#231f20" stroke-width="0.22" >-500</text>
<text transform="translate(34.2,65.6)" font-size="8.1" text-anchor="end" fill="#231f20" stroke="#231f20" stroke-width="0.22" >-1000</text>
<path d="M36.5,7.5h2.8M335.5,7.5h-2.8M36.5,21.5h2.8M335.5,21.5h-2.8M36.5,35.5h2.8M335.5,35.5h-2.8M36.5,48.5h2.8M335.5,48.5h-2.8M36.5,62.5h2.8M335.5,62.5h-2.8M36.5,0.5v2.8M36.5,69.5v-2.8M66.5,0.5v2.8M66.5,69.5v-2.8M96.5,0.5v2.8M96.5,69.5v-2.8M126.5,0.5v2.8M126.5,69.5v-2.8M156.5,0.5v2.8M156.5,69.5v-2.8M186.5,0.5v2.8M186.5,69.5v-2.8M215.5,0.5v2.8M215.5,69.5v-2.8M245.5,0.5v2.8M245.5,69.5v-2.8M275.5,0.5v2.8M275.5,69.5v-2.8M305.5,0.5v2.8M305.5,69.5v-2.8M335.5,0.5v2.8M335.5,69.5v-2.8" stroke="#231f20" stroke-width="0.9" fill="none"/>
<rect x="36.5" y="0.5" width="299" height="69" fill="none" stroke="#231f20" stroke-width="1.1"/>
<rect x="36" y="57.6" width="101.3" height="12.4" fill="#1c1414"/>
<text transform="translate(37.4,67.7) scale(1.028,1)" font-size="12" fill="#ffffff" stroke="#ffffff" stroke-width="0.26" >Run 760: 0.5 Myr</text>
<text transform="translate(12.9,33.9) rotate(-90) scale(0.990,1)" font-size="8.3" text-anchor="middle" fill="#231f20" stroke="#231f20" stroke-width="0.22" >Elevation (m)</text>
<path d="M375.9,35 C376.47,34.93 377.63,35.07 379.3,34.6 C380.97,34.13 383.75,32.2 385.9,32.2 C388.05,32.2 389.98,34.83 392.2,34.6 C394.42,34.37 397.13,31.03 399.2,30.8 C401.27,30.57 402.53,33.78 404.6,33.2 C406.67,32.62 409.58,28.35 411.6,27.3 C413.62,26.25 414.75,27.37 416.7,26.9 C418.65,26.43 421.03,24.62 423.3,24.5 C425.57,24.38 427.9,26.85 430.3,26.2 C432.7,25.55 435.3,21.93 437.7,20.6 C440.1,19.27 441.97,18.78 444.7,18.2 C447.43,17.62 450.98,17.02 454.1,17.1 C457.22,17.18 460.28,17.53 463.4,18.7 C466.52,19.87 470.07,22.08 472.8,24.1 C475.53,26.12 477.85,29.28 479.8,30.8 C481.75,32.32 482.55,31.13 484.5,33.2 C486.45,35.27 488.78,39.58 491.5,43.2 C494.22,46.82 498.6,52.47 500.8,54.9 C503,57.33 502.88,56.05 504.7,57.8 C506.52,59.55 509.57,63.48 511.7,65.4 C513.83,67.32 515.55,68.62 517.5,69.3 C519.45,69.98 521.25,69.85 523.4,69.5 C525.55,69.15 528.17,67.73 530.4,67.2 C532.63,66.67 534.67,67.48 536.8,66.3 C538.93,65.12 541.17,61.32 543.2,60.1 C545.23,58.88 547.25,59.87 549,59 C550.75,58.13 551.93,57.33 553.7,54.9 C555.47,52.47 557.65,47.52 559.6,44.4 C561.55,41.28 563.65,37.67 565.4,36.2 C567.15,34.73 568.47,36.57 570.1,35.6 C571.73,34.63 572.4,33.02 575.2,30.4 C578,27.78 582.62,22.17 586.9,19.9 C591.18,17.63 596.62,16.92 600.9,16.8 C605.18,16.68 609.68,18.5 612.6,19.2 C615.52,19.9 616.27,20.77 618.4,21 C620.53,21.23 623.25,20.28 625.4,20.6 C627.55,20.92 628.95,21.2 631.3,22.9 C633.65,24.6 636.58,29.32 639.5,30.8 C642.42,32.28 644.52,31.48 648.8,31.8 C653.08,32.12 661.3,32.08 665.2,32.7 C669.1,33.32 670.75,35.03 672.2,35.5 C673.65,35.97 673.62,35.5 673.9,35.5" fill="none" stroke="#9a5a26" stroke-width="2.3" stroke-linejoin="round" stroke-linecap="round"/>
<text transform="translate(373.2,10.2)" font-size="8.1" text-anchor="end" fill="#231f20" stroke="#231f20" stroke-width="0.22" >1000</text>
<text transform="translate(373.2,24.05)" font-size="8.1" text-anchor="end" fill="#231f20" stroke="#231f20" stroke-width="0.22" >500</text>
<text transform="translate(373.2,37.9)" font-size="8.1" text-anchor="end" fill="#231f20" stroke="#231f20" stroke-width="0.22" >0</text>
<text transform="translate(373.2,51.75)" font-size="8.1" text-anchor="end" fill="#231f20" stroke="#231f20" stroke-width="0.22" >-500</text>
<text transform="translate(373.2,65.6)" font-size="8.1" text-anchor="end" fill="#231f20" stroke="#231f20" stroke-width="0.22" >-1000</text>
<path d="M375.5,7.5h2.8M674.5,7.5h-2.8M375.5,21.5h2.8M674.5,21.5h-2.8M375.5,35.5h2.8M674.5,35.5h-2.8M375.5,48.5h2.8M674.5,48.5h-2.8M375.5,62.5h2.8M674.5,62.5h-2.8M375.5,0.5v2.8M375.5,69.5v-2.8M405.5,0.5v2.8M405.5,69.5v-2.8M435.5,0.5v2.8M435.5,69.5v-2.8M465.5,0.5v2.8M465.5,69.5v-2.8M495.5,0.5v2.8M495.5,69.5v-2.8M525.5,0.5v2.8M525.5,69.5v-2.8M554.5,0.5v2.8M554.5,69.5v-2.8M584.5,0.5v2.8M584.5,69.5v-2.8M614.5,0.5v2.8M614.5,69.5v-2.8M644.5,0.5v2.8M644.5,69.5v-2.8M674.5,0.5v2.8M674.5,69.5v-2.8" stroke="#231f20" stroke-width="0.9" fill="none"/>
<rect x="375.5" y="0.5" width="299" height="69" fill="none" stroke="#231f20" stroke-width="1.1"/>
<rect x="375" y="57.6" width="101.3" height="12.4" fill="#1c1414"/>
<text transform="translate(376.4,67.7) scale(1.028,1)" font-size="12" fill="#ffffff" stroke="#ffffff" stroke-width="0.26" >Run 760: 1.5 Myr</text>
<text transform="translate(352.4,33.9) rotate(-90) scale(0.990,1)" font-size="8.3" text-anchor="middle" fill="#231f20" stroke="#231f20" stroke-width="0.22" >Elevation (m)</text>
<path d="M36.5,214.2 C37.17,214.47 38.67,216.27 40.5,215.8 C42.33,215.33 45.35,211.75 47.5,211.4 C49.65,211.05 51.25,213.93 53.4,213.7 C55.55,213.47 58.47,210.42 60.4,210 C62.33,209.58 63.13,211.67 65,211.2 C66.87,210.73 69.85,207.67 71.6,207.2 C73.35,206.73 73.87,208.72 75.5,208.4 C77.13,208.08 79.45,205.88 81.4,205.3 C83.35,204.72 85.25,205.48 87.2,204.9 C89.15,204.32 91.53,202.27 93.1,201.8 C94.67,201.33 95.05,202.48 96.6,202.1 C98.15,201.72 100.45,200.17 102.4,199.5 C104.35,198.83 106.93,198.25 108.3,198.1 C109.67,197.95 109.43,198.83 110.6,198.6 C111.77,198.37 113.75,196.63 115.3,196.7 C116.85,196.77 118.35,199.08 119.9,199 C121.45,198.92 122.65,195.3 124.6,196.2 C126.55,197.1 129.65,202.95 131.6,204.4 C133.55,205.85 134.55,204.17 136.3,204.9 C138.05,205.63 140.35,207.63 142.1,208.8 C143.85,209.97 144.47,208.85 146.8,211.9 C149.13,214.95 152.98,223.22 156.1,227.1 C159.22,230.98 162.38,232.37 165.5,235.2 C168.62,238.03 172.08,242.42 174.8,244.1 C177.52,245.78 179.97,244.83 181.8,245.3 C183.63,245.77 184.35,247.02 185.8,246.9 C187.25,246.78 188.55,244.98 190.5,244.6 C192.45,244.22 195.35,245.58 197.5,244.6 C199.65,243.62 201.25,240.38 203.4,238.7 C205.55,237.02 208.27,235.97 210.4,234.5 C212.53,233.03 214.27,232.12 216.2,229.9 C218.13,227.68 220.05,224.32 222,221.2 C223.95,218.08 226.02,212.48 227.9,211.2 C229.78,209.92 231.75,213.97 233.3,213.5 C234.85,213.03 235.38,210.3 237.2,208.4 C239.02,206.5 242.05,203.55 244.2,202.1 C246.35,200.65 248.35,200.6 250.1,199.7 C251.85,198.8 252.95,197.32 254.7,196.7 C256.45,196.08 258.65,196.2 260.6,196 C262.55,195.8 264.45,195.77 266.4,195.5 C268.35,195.23 270.15,193.62 272.3,194.4 C274.45,195.18 276.97,199.03 279.3,200.2 C281.63,201.37 283.77,200.03 286.3,201.4 C288.83,202.77 292.17,206.73 294.5,208.4 C296.83,210.07 297.78,211.02 300.3,211.4 C302.82,211.78 306.68,210.23 309.6,210.7 C312.52,211.17 314.87,213.93 317.8,214.2 C320.73,214.47 324.37,212.22 327.2,212.3 C330.03,212.38 333.53,214.3 334.8,214.7" fill="none" stroke="#9a5a26" stroke-width="2.3" stroke-linejoin="round" stroke-linecap="round"/>
<text transform="translate(34.2,189.2)" font-size="8.1" text-anchor="end" fill="#231f20" stroke="#231f20" stroke-width="0.22" >1000</text>
<text transform="translate(34.2,203.05)" font-size="8.1" text-anchor="end" fill="#231f20" stroke="#231f20" stroke-width="0.22" >500</text>
<text transform="translate(34.2,216.9)" font-size="8.1" text-anchor="end" fill="#231f20" stroke="#231f20" stroke-width="0.22" >0</text>
<text transform="translate(34.2,230.75)" font-size="8.1" text-anchor="end" fill="#231f20" stroke="#231f20" stroke-width="0.22" >-500</text>
<text transform="translate(34.2,244.6)" font-size="8.1" text-anchor="end" fill="#231f20" stroke="#231f20" stroke-width="0.22" >-1000</text>
<path d="M36.5,186.5h2.8M335.5,186.5h-2.8M36.5,200.5h2.8M335.5,200.5h-2.8M36.5,214.5h2.8M335.5,214.5h-2.8M36.5,227.5h2.8M335.5,227.5h-2.8M36.5,241.5h2.8M335.5,241.5h-2.8M36.5,179.5v2.8M36.5,248.5v-2.8M66.5,179.5v2.8M66.5,248.5v-2.8M96.5,179.5v2.8M96.5,248.5v-2.8M126.5,179.5v2.8M126.5,248.5v-2.8M156.5,179.5v2.8M156.5,248.5v-2.8M186.5,179.5v2.8M186.5,248.5v-2.8M215.5,179.5v2.8M215.5,248.5v-2.8M245.5,179.5v2.8M245.5,248.5v-2.8M275.5,179.5v2.8M275.5,248.5v-2.8M305.5,179.5v2.8M305.5,248.5v-2.8M335.5,179.5v2.8M335.5,248.5v-2.8" stroke="#231f20" stroke-width="0.9" fill="none"/>
<rect x="36.5" y="179.5" width="299" height="69" fill="none" stroke="#231f20" stroke-width="1.1"/>
<rect x="36" y="236.6" width="101.3" height="12.4" fill="#1c1414"/>
<text transform="translate(37.4,246.7) scale(1.028,1)" font-size="12" fill="#ffffff" stroke="#ffffff" stroke-width="0.26" >Run 760: 3.5 Myr</text>
<text transform="translate(12.9,212.9) rotate(-90) scale(0.990,1)" font-size="8.3" text-anchor="middle" fill="#231f20" stroke="#231f20" stroke-width="0.22" >Elevation (m)</text>
<path d="M375.9,214.7 C376.47,214.93 377.55,216.38 379.3,216.1 C381.05,215.82 383.87,212.93 386.4,213 C388.93,213.07 392.17,216.38 394.5,216.5 C396.83,216.62 398.65,214.08 400.4,213.7 C402.15,213.32 403.25,214.7 405,214.2 C406.75,213.7 409.33,211.17 410.9,210.7 C412.47,210.23 412.85,212.18 414.4,211.4 C415.95,210.62 418.45,206.82 420.2,206 C421.95,205.18 423.53,206.97 424.9,206.5 C426.27,206.03 427.03,203.93 428.4,203.2 C429.77,202.47 431.55,202.28 433.1,202.1 C434.65,201.92 436.15,202.3 437.7,202.1 C439.25,201.9 440.83,201.1 442.4,200.9 C443.97,200.7 445.53,201.28 447.1,200.9 C448.67,200.52 450.05,198.72 451.8,198.6 C453.55,198.48 455.67,200.78 457.6,200.2 C459.53,199.62 461.07,194.83 463.4,195.1 C465.73,195.37 469.45,200.68 471.6,201.8 C473.75,202.92 474.93,201.48 476.3,201.8 C477.67,202.12 478.52,203.5 479.8,203.7 C481.08,203.9 482.25,201.37 484,203 C485.75,204.63 488.28,211.55 490.3,213.5 C492.32,215.45 494.35,214.58 496.1,214.7 C497.85,214.82 498.85,212.53 500.8,214.2 C502.75,215.87 505.27,221.5 507.8,224.7 C510.33,227.9 513.85,231.77 516,233.4 C518.15,235.03 518.75,233.42 520.7,234.5 C522.65,235.58 525.82,239 527.7,239.9 C529.58,240.8 530.32,239.12 532,239.9 C533.68,240.68 536.05,244.28 537.8,244.6 C539.55,244.92 540.73,242.97 542.5,241.8 C544.27,240.63 546.65,238.5 548.4,237.6 C550.15,236.7 551.07,238.15 553,236.4 C554.93,234.65 557.67,230.72 560,227.1 C562.33,223.48 565.05,216.65 567,214.7 C568.95,212.75 569.93,216.27 571.7,215.4 C573.47,214.53 575.45,211.83 577.6,209.5 C579.75,207.17 582.27,203.15 584.6,201.4 C586.93,199.65 589.47,199.52 591.6,199 C593.73,198.48 595.85,198.02 597.4,198.3 C598.95,198.58 599.92,200.7 600.9,200.7 C601.88,200.7 602.32,198.47 603.3,198.3 C604.28,198.13 605.13,199.58 606.8,199.7 C608.47,199.82 611.37,198.13 613.3,199 C615.23,199.87 616.77,203.62 618.4,204.9 C620.03,206.18 621.33,206.32 623.1,206.7 C624.87,207.08 627.25,206.42 629,207.2 C630.75,207.98 631.27,209.65 633.6,211.4 C635.93,213.15 640.47,217.23 643,217.7 C645.53,218.17 646.47,214.12 648.8,214.2 C651.13,214.28 654.27,217.73 657,218.2 C659.73,218.67 662.38,217.47 665.2,217 C668.02,216.53 672.45,215.67 673.9,215.4" fill="none" stroke="#9a5a26" stroke-width="2.3" stroke-linejoin="round" stroke-linecap="round"/>
<text transform="translate(373.2,189.2)" font-size="8.1" text-anchor="end" fill="#231f20" stroke="#231f20" stroke-width="0.22" >1000</text>
<text transform="translate(373.2,203.05)" font-size="8.1" text-anchor="end" fill="#231f20" stroke="#231f20" stroke-width="0.22" >500</text>
<text transform="translate(373.2,216.9)" font-size="8.1" text-anchor="end" fill="#231f20" stroke="#231f20" stroke-width="0.22" >0</text>
<text transform="translate(373.2,230.75)" font-size="8.1" text-anchor="end" fill="#231f20" stroke="#231f20" stroke-width="0.22" >-500</text>
<text transform="translate(373.2,244.6)" font-size="8.1" text-anchor="end" fill="#231f20" stroke="#231f20" stroke-width="0.22" >-1000</text>
<path d="M375.5,186.5h2.8M674.5,186.5h-2.8M375.5,200.5h2.8M674.5,200.5h-2.8M375.5,214.5h2.8M674.5,214.5h-2.8M375.5,227.5h2.8M674.5,227.5h-2.8M375.5,241.5h2.8M674.5,241.5h-2.8M375.5,179.5v2.8M375.5,248.5v-2.8M405.5,179.5v2.8M405.5,248.5v-2.8M435.5,179.5v2.8M435.5,248.5v-2.8M465.5,179.5v2.8M465.5,248.5v-2.8M495.5,179.5v2.8M495.5,248.5v-2.8M525.5,179.5v2.8M525.5,248.5v-2.8M554.5,179.5v2.8M554.5,248.5v-2.8M584.5,179.5v2.8M584.5,248.5v-2.8M614.5,179.5v2.8M614.5,248.5v-2.8M644.5,179.5v2.8M644.5,248.5v-2.8M674.5,179.5v2.8M674.5,248.5v-2.8" stroke="#231f20" stroke-width="0.9" fill="none"/>
<rect x="375.5" y="179.5" width="299" height="69" fill="none" stroke="#231f20" stroke-width="1.1"/>
<rect x="375" y="236.6" width="101.3" height="12.4" fill="#1c1414"/>
<text transform="translate(376.4,246.7) scale(1.028,1)" font-size="12" fill="#ffffff" stroke="#ffffff" stroke-width="0.26" >Run 760: 4.5 Myr</text>
<text transform="translate(352.4,212.9) rotate(-90) scale(0.990,1)" font-size="8.3" text-anchor="middle" fill="#231f20" stroke="#231f20" stroke-width="0.22" >Elevation (m)</text>
<path d="M36.5,393.4 C37.17,394.37 38.67,398.9 40.5,399.2 C42.33,399.5 45.55,395.7 47.5,395.2 C49.45,394.7 50.83,395.65 52.2,396.2 C53.57,396.75 54.33,398.9 55.7,398.5 C57.07,398.1 58.85,394.58 60.4,393.8 C61.95,393.02 63.13,394.38 65,393.8 C66.87,393.22 70.03,390.65 71.6,390.3 C73.17,389.95 73.15,391.97 74.4,391.7 C75.65,391.43 77.55,389.4 79.1,388.7 C80.65,388 82.35,388.28 83.7,387.5 C85.05,386.72 85.63,385.28 87.2,384 C88.77,382.72 91.53,380.68 93.1,379.8 C94.67,378.92 94.67,380.8 96.6,378.7 C98.53,376.6 102.37,368.73 104.7,367.2 C107.03,365.67 108.65,369.23 110.6,369.5 C112.55,369.77 114.85,368.83 116.4,368.8 C117.95,368.77 118.53,368.52 119.9,369.3 C121.27,370.08 123.23,372.4 124.6,373.5 C125.97,374.6 126.93,374.53 128.1,375.9 C129.27,377.27 130.05,379.95 131.6,381.7 C133.15,383.45 135.65,385.82 137.4,386.4 C139.15,386.98 140.15,384.62 142.1,385.2 C144.05,385.78 147.15,388.65 149.1,389.9 C151.05,391.15 151.85,391.27 153.8,392.7 C155.75,394.13 158.27,396.95 160.8,398.5 C163.33,400.05 167.05,400.78 169,402 C170.95,403.22 170.95,403.42 172.5,405.8 C174.05,408.18 176.17,413.73 178.3,416.3 C180.43,418.87 183.35,420.73 185.3,421.2 C187.25,421.67 188.35,420.03 190,419.1 C191.65,418.17 192.97,416.47 195.2,415.6 C197.43,414.73 201.07,414.68 203.4,413.9 C205.73,413.12 207.27,411.52 209.2,410.9 C211.13,410.28 213.05,410.98 215,410.2 C216.95,409.42 219.33,408.03 220.9,406.2 C222.47,404.37 223.23,401.27 224.4,399.2 C225.57,397.13 226.35,394.5 227.9,393.8 C229.45,393.1 231.95,395.85 233.7,395 C235.45,394.15 237.03,389.75 238.4,388.7 C239.77,387.65 240.53,389.4 241.9,388.7 C243.27,388 244.85,385.78 246.6,384.5 C248.35,383.22 250.65,381.67 252.4,381 C254.15,380.33 255.73,380.18 257.1,380.5 C258.47,380.82 259.43,383.28 260.6,382.9 C261.77,382.52 262.93,378.72 264.1,378.2 C265.27,377.68 266.23,379.72 267.6,379.8 C268.97,379.88 271.13,379.23 272.3,378.7 C273.47,378.17 273.63,376.3 274.6,376.6 C275.57,376.9 276.73,379.45 278.1,380.5 C279.47,381.55 281.23,381.92 282.8,382.9 C284.37,383.88 286.33,385.82 287.5,386.4 C288.67,386.98 288.83,385.63 289.8,386.4 C290.77,387.17 291.75,390.03 293.3,391 C294.85,391.97 297.35,391.3 299.1,392.2 C300.85,393.1 302.05,396.13 303.8,396.4 C305.55,396.67 307.65,393.53 309.6,393.8 C311.55,394.07 313.35,397.6 315.5,398 C317.65,398.4 320.37,396.32 322.5,396.2 C324.63,396.08 326.25,397.77 328.3,397.3 C330.35,396.83 333.72,394.05 334.8,393.4" fill="none" stroke="#9a5a26" stroke-width="2.3" stroke-linejoin="round" stroke-linecap="round"/>
<text transform="translate(34.2,368.2)" font-size="8.1" text-anchor="end" fill="#231f20" stroke="#231f20" stroke-width="0.22" >1000</text>
<text transform="translate(34.2,382.05)" font-size="8.1" text-anchor="end" fill="#231f20" stroke="#231f20" stroke-width="0.22" >500</text>
<text transform="translate(34.2,395.9)" font-size="8.1" text-anchor="end" fill="#231f20" stroke="#231f20" stroke-width="0.22" >0</text>
<text transform="translate(34.2,409.75)" font-size="8.1" text-anchor="end" fill="#231f20" stroke="#231f20" stroke-width="0.22" >-500</text>
<text transform="translate(34.2,423.6)" font-size="8.1" text-anchor="end" fill="#231f20" stroke="#231f20" stroke-width="0.22" >-1000</text>
<path d="M36.5,365.5h2.8M335.5,365.5h-2.8M36.5,379.5h2.8M335.5,379.5h-2.8M36.5,393.5h2.8M335.5,393.5h-2.8M36.5,406.5h2.8M335.5,406.5h-2.8M36.5,420.5h2.8M335.5,420.5h-2.8M36.5,358.5v2.8M36.5,427.5v-2.8M66.5,358.5v2.8M66.5,427.5v-2.8M96.5,358.5v2.8M96.5,427.5v-2.8M126.5,358.5v2.8M126.5,427.5v-2.8M156.5,358.5v2.8M156.5,427.5v-2.8M186.5,358.5v2.8M186.5,427.5v-2.8M215.5,358.5v2.8M215.5,427.5v-2.8M245.5,358.5v2.8M245.5,427.5v-2.8M275.5,358.5v2.8M275.5,427.5v-2.8M305.5,358.5v2.8M305.5,427.5v-2.8M335.5,358.5v2.8M335.5,427.5v-2.8" stroke="#231f20" stroke-width="0.9" fill="none"/>
<rect x="36.5" y="358.5" width="299" height="69" fill="none" stroke="#231f20" stroke-width="1.1"/>
<rect x="36" y="415.6" width="101.3" height="12.4" fill="#1c1414"/>
<text transform="translate(37.4,425.7) scale(1.028,1)" font-size="12" fill="#ffffff" stroke="#ffffff" stroke-width="0.26" >Run 760: 6.5 Myr</text>
<text transform="translate(12.9,391.9) rotate(-90) scale(0.990,1)" font-size="8.3" text-anchor="middle" fill="#231f20" stroke="#231f20" stroke-width="0.22" >Elevation (m)</text>
<path d="M375.9,395.2 C376.47,395.6 377.55,397.98 379.3,397.6 C381.05,397.22 384.45,393.42 386.4,392.9 C388.35,392.38 389.53,393.65 391,394.5 C392.47,395.35 393.72,398.07 395.2,398 C396.68,397.93 398.27,394.28 399.9,394.1 C401.53,393.92 403.17,397.1 405,396.9 C406.83,396.7 409.42,393.57 410.9,392.9 C412.38,392.23 412.93,393.98 413.9,392.9 C414.87,391.82 415.45,387.88 416.7,386.4 C417.95,384.92 420.15,384.2 421.4,384 C422.65,383.8 423.03,385.78 424.2,385.2 C425.37,384.62 427.12,382.05 428.4,380.5 C429.68,378.95 430.82,376.87 431.9,375.9 C432.98,374.93 433.53,376.15 434.9,374.7 C436.27,373.25 438.47,368.25 440.1,367.2 C441.73,366.15 443.35,368.4 444.7,368.4 C446.05,368.4 446.63,367.32 448.2,367.2 C449.77,367.08 452.53,367.03 454.1,367.7 C455.67,368.37 456.32,369.72 457.6,371.2 C458.88,372.68 460.63,375.93 461.8,376.6 C462.97,377.27 463.75,375.02 464.6,375.2 C465.45,375.38 465.93,376.42 466.9,377.7 C467.87,378.98 468.83,381.45 470.4,382.9 C471.97,384.35 474.62,386.13 476.3,386.4 C477.98,386.67 479.13,384.03 480.5,384.5 C481.87,384.97 483.25,388.18 484.5,389.2 C485.75,390.22 486.83,389.98 488,390.6 C489.17,391.22 489.95,392.05 491.5,392.9 C493.05,393.75 495.37,394.27 497.3,395.7 C499.23,397.13 501.15,399.35 503.1,401.5 C505.05,403.65 507.43,407.3 509,408.6 C510.57,409.9 510.75,407.87 512.5,409.3 C514.25,410.73 517.37,414.98 519.5,417.2 C521.63,419.42 522.83,422.75 525.3,422.6 C527.77,422.45 531.43,417.67 534.3,416.3 C537.17,414.93 540.15,415.57 542.5,414.4 C544.85,413.23 546.45,410.2 548.4,409.3 C550.35,408.4 552.33,409.52 554.2,409 C556.07,408.48 557.65,408.1 559.6,406.2 C561.55,404.3 564.27,399.27 565.9,397.6 C567.53,395.93 568.23,396.2 569.4,396.2 C570.57,396.2 571.53,398.38 572.9,397.6 C574.27,396.82 576.23,392.87 577.6,391.5 C578.97,390.13 579.75,390.83 581.1,389.4 C582.45,387.97 583.95,384.18 585.7,382.9 C587.45,381.62 589.85,382.28 591.6,381.7 C593.35,381.12 594.85,379.4 596.2,379.4 C597.55,379.4 598.52,381.9 599.7,381.7 C600.88,381.5 602.12,378.47 603.3,378.2 C604.48,377.93 605.45,379.63 606.8,380.1 C608.15,380.57 610.23,381.12 611.4,381 C612.57,380.88 612.63,378.5 613.8,379.4 C614.97,380.3 616.85,385.05 618.4,386.4 C619.95,387.75 621.73,386.92 623.1,387.5 C624.47,388.08 625.55,389.62 626.6,389.9 C627.65,390.18 628.23,388.32 629.4,389.2 C630.57,390.08 631.92,393.8 633.6,395.2 C635.28,396.6 637.93,396.73 639.5,397.6 C641.07,398.47 641.45,400.52 643,400.4 C644.55,400.28 646.67,396.9 648.8,396.9 C650.93,396.9 653.47,400.4 655.8,400.4 C658.13,400.4 660.85,397.3 662.8,396.9 C664.75,396.5 665.65,398.4 667.5,398 C669.35,397.6 672.83,395.08 673.9,394.5" fill="none" stroke="#9a5a26" stroke-width="2.3" stroke-linejoin="round" stroke-linecap="round"/>
<text transform="translate(373.2,368.2)" font-size="8.1" text-anchor="end" fill="#231f20" stroke="#231f20" stroke-width="0.22" >1000</text>
<text transform="translate(373.2,382.05)" font-size="8.1" text-anchor="end" fill="#231f20" stroke="#231f20" stroke-width="0.22" >500</text>
<text transform="translate(373.2,395.9)" font-size="8.1" text-anchor="end" fill="#231f20" stroke="#231f20" stroke-width="0.22" >0</text>
<text transform="translate(373.2,409.75)" font-size="8.1" text-anchor="end" fill="#231f20" stroke="#231f20" stroke-width="0.22" >-500</text>
<text transform="translate(373.2,423.6)" font-size="8.1" text-anchor="end" fill="#231f20" stroke="#231f20" stroke-width="0.22" >-1000</text>
<path d="M375.5,365.5h2.8M674.5,365.5h-2.8M375.5,379.5h2.8M674.5,379.5h-2.8M375.5,393.5h2.8M674.5,393.5h-2.8M375.5,406.5h2.8M674.5,406.5h-2.8M375.5,420.5h2.8M674.5,420.5h-2.8M375.5,358.5v2.8M375.5,427.5v-2.8M405.5,358.5v2.8M405.5,427.5v-2.8M435.5,358.5v2.8M435.5,427.5v-2.8M465.5,358.5v2.8M465.5,427.5v-2.8M495.5,358.5v2.8M495.5,427.5v-2.8M525.5,358.5v2.8M525.5,427.5v-2.8M554.5,358.5v2.8M554.5,427.5v-2.8M584.5,358.5v2.8M584.5,427.5v-2.8M614.5,358.5v2.8M614.5,427.5v-2.8M644.5,358.5v2.8M644.5,427.5v-2.8M674.5,358.5v2.8M674.5,427.5v-2.8" stroke="#231f20" stroke-width="0.9" fill="none"/>
<rect x="375.5" y="358.5" width="299" height="69" fill="none" stroke="#231f20" stroke-width="1.1"/>
<rect x="375" y="415.6" width="101.3" height="12.4" fill="#1c1414"/>
<text transform="translate(376.4,425.7) scale(1.028,1)" font-size="12" fill="#ffffff" stroke="#ffffff" stroke-width="0.26" >Run 760: 7.5 Myr</text>
<text transform="translate(352.4,391.9) rotate(-90) scale(0.990,1)" font-size="8.3" text-anchor="middle" fill="#231f20" stroke="#231f20" stroke-width="0.22" >Elevation (m)</text>
<rect x="90.1" y="44.2" width="13.6" height="7.3" fill="#99ccf8"/>
<text transform="translate(105.4,50.5) scale(1.021,1)" font-size="9" fill="#231f20" stroke="#231f20" stroke-width="0.22" >Upper crust</text>
<rect x="161.2" y="44.2" width="13.6" height="7.3" fill="#7b5630"/>
<text transform="translate(176.6,50.5) scale(1.028,1)" font-size="9" fill="#231f20" stroke="#231f20" stroke-width="0.22" >Lower crust</text>
<rect x="231.4" y="44.2" width="12.8" height="7.3" fill="#d9b48a"/>
<text transform="translate(246.6,50.5) scale(1.033,1)" font-size="9" fill="#231f20" stroke="#231f20" stroke-width="0.22" >Lithospheric mantle</text>
<path d="M521.95,29.2h6.3v7.2h5l-8.2,13.8l-8.2,-13.8h5z" fill="#3b58f0"/>
<path d="M514.5,210.4L519.4,217H516.8V224.7H512.2V217H509.6Z" fill="#f05e5e"/>
<path d="M137,368.6L141.9,375.2H139.3V382.2H134.7V375.2H132.1Z" fill="#f05e5e"/>
<path d="M471.4,363L476.3,369.6H473.7V377H469.1V369.6H466.5Z" fill="#f05e5e"/>
<rect x="23.5" y="542.3" width="306" height="83.2" fill="none" stroke="#4a4444" stroke-width="1.2"/>
<text transform="translate(21.3,623.48)" font-size="8.2" text-anchor="end" fill="#231f20" stroke="#231f20" stroke-width="0.22" >1</text>
<text transform="translate(21.3,611.1)" font-size="8.2" text-anchor="end" fill="#231f20" stroke="#231f20" stroke-width="0.22" >2</text>
<text transform="translate(21.3,598.72)" font-size="8.2" text-anchor="end" fill="#231f20" stroke="#231f20" stroke-width="0.22" >3</text>
<text transform="translate(21.3,586.34)" font-size="8.2" text-anchor="end" fill="#231f20" stroke="#231f20" stroke-width="0.22" >4</text>
<text transform="translate(21.3,573.96)" font-size="8.2" text-anchor="end" fill="#231f20" stroke="#231f20" stroke-width="0.22" >5</text>
<text transform="translate(21.3,561.58)" font-size="8.2" text-anchor="end" fill="#231f20" stroke="#231f20" stroke-width="0.22" >6</text>
<text transform="translate(21.3,549.2)" font-size="8.2" text-anchor="end" fill="#231f20" stroke="#231f20" stroke-width="0.22" >7</text>
<text transform="translate(24.1,635)" font-size="8.2" text-anchor="middle" fill="#231f20" stroke="#231f20" stroke-width="0.22" >1000</text>
<text transform="translate(100.6,635)" font-size="8.2" text-anchor="middle" fill="#231f20" stroke="#231f20" stroke-width="0.22" >1500</text>
<text transform="translate(177.1,635)" font-size="8.2" text-anchor="middle" fill="#231f20" stroke="#231f20" stroke-width="0.22" >2000</text>
<text transform="translate(253.6,635)" font-size="8.2" text-anchor="middle" fill="#231f20" stroke="#231f20" stroke-width="0.22" >2500</text>
<text transform="translate(330.1,635)" font-size="8.2" text-anchor="middle" fill="#231f20" stroke="#231f20" stroke-width="0.22" >3000</text>
<path d="M23.5,620.58h2.2M23.5,608.2h2.2M23.5,595.82h2.2M23.5,583.44h2.2M23.5,571.06h2.2M23.5,558.68h2.2M23.5,546.3h2.2M329.5,549.6h-2.2M329.5,557.22h-2.2M329.5,564.84h-2.2M329.5,572.46h-2.2M329.5,580.08h-2.2M329.5,587.7h-2.2M329.5,595.32h-2.2M329.5,602.94h-2.2M329.5,610.56h-2.2M329.5,618.18h-2.2M100,542.3v2.4M100,625.5v-2.4M176.5,542.3v2.4M176.5,625.5v-2.4M253,542.3v2.4M253,625.5v-2.4" stroke="#2a2222" stroke-width="0.8" fill="none"/>
<text transform="translate(180.5,640.6)" font-size="8.2" text-anchor="middle" fill="#231f20" stroke="#231f20" stroke-width="0.22" >Distance (km)</text>
<text transform="translate(13.4,583.5) rotate(-90)" font-size="8.2" text-anchor="middle" fill="#231f20" stroke="#231f20" stroke-width="0.22" >Time (Myr)</text>
<text transform="translate(-0.6,541.4)" font-size="13" fill="#231f20" stroke="#231f20" stroke-width="0.26" >(g)</text>
<defs><linearGradient id="cb" x1="0" y1="0" x2="0" y2="1"><stop offset="0" stop-color="#5ea2f2"/><stop offset="0.46" stop-color="#eaf3fd"/><stop offset="0.5" stop-color="#ffffff"/><stop offset="0.54" stop-color="#fde6e6"/><stop offset="1" stop-color="#f06868"/></linearGradient></defs>
<rect x="341.1" y="545.2" width="8.5" height="86.9" fill="url(#cb)" stroke="#3a3434" stroke-width="0.9"/>
<path d="M349.6,554h-1.8M349.6,562.62h-1.8M349.6,571.24h-1.8M349.6,579.86h-1.8M349.6,588.48h-1.8M349.6,597.1h-1.8M349.6,605.72h-1.8M349.6,614.34h-1.8M349.6,622.96h-1.8" stroke="#333" stroke-width="0.6"/>
<text transform="translate(353.8,548.5) scale(1.018,1)" font-size="6.8" fill="#231f20" stroke="#231f20" stroke-width="0.22" >60</text>
<text transform="translate(353.8,562.5) scale(1.018,1)" font-size="6.8" fill="#231f20" stroke="#231f20" stroke-width="0.22" >40</text>
<text transform="translate(353.8,576.9) scale(1.018,1)" font-size="6.8" fill="#231f20" stroke="#231f20" stroke-width="0.22" >20</text>
<text transform="translate(353.8,591.3) scale(1.058,1)" font-size="6.8" fill="#231f20" stroke="#231f20" stroke-width="0.22" >0</text>
<text transform="translate(353.8,608.9) scale(1.058,1)" font-size="6.8" fill="#231f20" stroke="#231f20" stroke-width="0.22" >-20</text>
<text transform="translate(353.8,620.1) scale(1.058,1)" font-size="6.8" fill="#231f20" stroke="#231f20" stroke-width="0.22" >-40</text>
<text transform="translate(353.8,634.3) scale(1.058,1)" font-size="6.8" fill="#231f20" stroke="#231f20" stroke-width="0.22" >-60</text>
<text transform="translate(366.2,550) rotate(90)" font-size="7.2" fill="#231f20" stroke="#231f20" stroke-width="0.22" >Deviatoric Stress (MPa)</text>
<text transform="translate(351.4,540.6)" font-size="8.2" text-anchor="middle" fill="#231f20" stroke="#231f20" stroke-width="0.22" >Extension</text>
<text transform="translate(351.6,641.3) scale(0.990,1)" font-size="8.2" text-anchor="middle" fill="#231f20" stroke="#231f20" stroke-width="0.22" >Compression</text>
<path d="M399.5,542.5H519.0M399.5,625.0H519.0" stroke="#333" stroke-width="1"/>
<path d="M399.5,542.0V625.5" stroke="#2a3896" stroke-width="1.2"/>
<path d="M519.0,542.0V625.5" stroke="#d21f35" stroke-width="1.2"/>
<text transform="translate(399.5,634.4)" font-size="8.4" text-anchor="middle" fill="#231f20" stroke="#231f20" stroke-width="0.22" >0</text>
<text transform="translate(416.57,634.4)" font-size="8.4" text-anchor="middle" fill="#231f20" stroke="#231f20" stroke-width="0.22" >1</text>
<text transform="translate(433.64,634.4)" font-size="8.4" text-anchor="middle" fill="#231f20" stroke="#231f20" stroke-width="0.22" >2</text>
<text transform="translate(450.71,634.4)" font-size="8.4" text-anchor="middle" fill="#231f20" stroke="#231f20" stroke-width="0.22" >3</text>
<text transform="translate(467.79,634.4)" font-size="8.4" text-anchor="middle" fill="#231f20" stroke="#231f20" stroke-width="0.22" >4</text>
<text transform="translate(484.86,634.4)" font-size="8.4" text-anchor="middle" fill="#231f20" stroke="#231f20" stroke-width="0.22" >5</text>
<text transform="translate(501.93,634.4)" font-size="8.4" text-anchor="middle" fill="#231f20" stroke="#231f20" stroke-width="0.22" >6</text>
<text transform="translate(519,634.4)" font-size="8.4" text-anchor="middle" fill="#231f20" stroke="#231f20" stroke-width="0.22" >7</text>
<path d="M399.5,625.0v-2.2M399.5,542.5v2.2M416.57,625.0v-2.2M416.57,542.5v2.2M433.64,625.0v-2.2M433.64,542.5v2.2M450.71,625.0v-2.2M450.71,542.5v2.2M467.79,625.0v-2.2M467.79,542.5v2.2M484.86,625.0v-2.2M484.86,542.5v2.2M501.93,625.0v-2.2M501.93,542.5v2.2M519,625.0v-2.2M519,542.5v2.2" stroke="#333" stroke-width="0.7"/>
<path d="M399.5,552.5h2.2M399.5,563.1h2.2M399.5,573.7h2.2M399.5,584.3h2.2M399.5,594.9h2.2M399.5,605.5h2.2M399.5,616.1h2.2" stroke="#2a3896" stroke-width="0.7"/>
<text transform="translate(397.6,555.3) scale(0.830,1)" font-size="7.8" text-anchor="end" fill="#34449c" stroke="#34449c" stroke-width="0.22" >0</text>
<text transform="translate(397.6,577.6) scale(0.788,1)" font-size="7.8" text-anchor="end" fill="#34449c" stroke="#34449c" stroke-width="0.22" >-200</text>
<text transform="translate(397.6,598.2) scale(0.788,1)" font-size="7.8" text-anchor="end" fill="#34449c" stroke="#34449c" stroke-width="0.22" >-400</text>
<text transform="translate(397.6,619.1) scale(0.788,1)" font-size="7.8" text-anchor="end" fill="#34449c" stroke="#34449c" stroke-width="0.22" >-600</text>
<path d="M519.0,552.7h2.4M519.0,563.1h2.4M519.0,573.5h2.4M519.0,583.9h2.4M519.0,594.3h2.4M519.0,604.7h2.4M519.0,615.1h2.4" stroke="#d21f35" stroke-width="0.7"/>
<text transform="translate(522.6,555.2) scale(0.876,1)" font-size="7.8" fill="#d42a3c" stroke="#d42a3c" stroke-width="0.22" >0</text>
<text transform="translate(520.4,576.2) scale(0.869,1)" font-size="7.8" fill="#d42a3c" stroke="#d42a3c" stroke-width="0.22" >-10</text>
<text transform="translate(520.4,597) scale(0.869,1)" font-size="7.8" fill="#d42a3c" stroke="#d42a3c" stroke-width="0.22" >-20</text>
<text transform="translate(520.4,617.6) scale(0.869,1)" font-size="7.8" fill="#d42a3c" stroke="#d42a3c" stroke-width="0.22" >-30</text>
<text transform="translate(382.8,584.9) rotate(-90)" font-size="7.1" text-anchor="middle" fill="#3d4ea6" stroke="#3d4ea6" stroke-width="0.22" >Thickness Decrease (m)</text>
<text transform="translate(531.4,544.1) rotate(90)" font-size="7.1" fill="#d42a3c" stroke="#d42a3c" stroke-width="0.22" >Thickness Decrease (km)</text>
<text transform="translate(376.6,541.6) scale(1.026,1)" font-size="12.6" fill="#231f20" stroke="#231f20" stroke-width="0.26" >(h)</text>
<text transform="translate(460.7,641)" font-size="8.2" text-anchor="middle" fill="#231f20" stroke="#231f20" stroke-width="0.22" >Time (Myr)</text>
<path d="M408.04,552.6L416.57,552.6L425.11,554.1L433.64,558.9L442.18,557.8L450.71,557.8L459.25,603.2L467.79,607.1L476.32,606L484.86,605.6L493.39,605.6L501.93,623.5L510.46,614.1L519,623.1" fill="none" stroke="#2b3a94" stroke-width="1.9" stroke-linejoin="round"/>
<path d="M408.04,552.6L416.57,552.6L425.11,551.3L433.64,551.3L442.18,552.2L450.71,550.8L459.25,553L467.79,570.1L476.32,571L484.86,615.9L493.39,608.2L501.93,617L510.46,610.4L519,604.3" fill="none" stroke="#d3182e" stroke-width="1.9" stroke-linejoin="round"/>
<text transform="translate(410.1,579.6) scale(0.980,1)" font-size="8.3" fill="#2f3f9e" stroke="#2f3f9e" stroke-width="0.22" >Upper Crus</text>
<text transform="translate(469,568) scale(0.980,1)" font-size="8.3" fill="#d42a3c" stroke="#d42a3c" stroke-width="0.22" >Lithosphere</text>
<rect x="563.5" y="542.5" width="119" height="83" fill="none" stroke="#333" stroke-width="1"/>
<text transform="translate(563.5,634.4)" font-size="8.4" text-anchor="middle" fill="#231f20" stroke="#231f20" stroke-width="0.22" >0</text>
<text transform="translate(580.5,634.4)" font-size="8.4" text-anchor="middle" fill="#231f20" stroke="#231f20" stroke-width="0.22" >1</text>
<text transform="translate(597.5,634.4)" font-size="8.4" text-anchor="middle" fill="#231f20" stroke="#231f20" stroke-width="0.22" >2</text>
<text transform="translate(614.5,634.4)" font-size="8.4" text-anchor="middle" fill="#231f20" stroke="#231f20" stroke-width="0.22" >3</text>
<text transform="translate(631.5,634.4)" font-size="8.4" text-anchor="middle" fill="#231f20" stroke="#231f20" stroke-width="0.22" >4</text>
<text transform="translate(648.5,634.4)" font-size="8.4" text-anchor="middle" fill="#231f20" stroke="#231f20" stroke-width="0.22" >5</text>
<text transform="translate(665.5,634.4)" font-size="8.4" text-anchor="middle" fill="#231f20" stroke="#231f20" stroke-width="0.22" >6</text>
<text transform="translate(682.5,634.4)" font-size="8.4" text-anchor="middle" fill="#231f20" stroke="#231f20" stroke-width="0.22" >7</text>
<path d="M563.5,625.5v-2.2M563.5,542.5v2.2M580.5,625.5v-2.2M580.5,542.5v2.2M597.5,625.5v-2.2M597.5,542.5v2.2M614.5,625.5v-2.2M614.5,542.5v2.2M631.5,625.5v-2.2M631.5,542.5v2.2M648.5,625.5v-2.2M648.5,542.5v2.2M665.5,625.5v-2.2M665.5,542.5v2.2M682.5,625.5v-2.2M682.5,542.5v2.2M563.5,625.5h2.2M682.5,625.5h-2.2M563.5,615.12h2.2M682.5,615.12h-2.2M563.5,604.75h2.2M682.5,604.75h-2.2M563.5,594.38h2.2M682.5,594.38h-2.2M563.5,584h2.2M682.5,584h-2.2M563.5,573.62h2.2M682.5,573.62h-2.2M563.5,563.25h2.2M682.5,563.25h-2.2M563.5,552.88h2.2M682.5,552.88h-2.2M563.5,542.5h2.2M682.5,542.5h-2.2" stroke="#333" stroke-width="0.7"/>
<text transform="translate(563,544.7) scale(0.962,1)" font-size="6.4" text-anchor="end" fill="#231f20" stroke="#231f20" stroke-width="0.22" >1400</text>
<text transform="translate(563,565.45) scale(0.962,1)" font-size="6.4" text-anchor="end" fill="#231f20" stroke="#231f20" stroke-width="0.22" >1000</text>
<text transform="translate(563,586.2) scale(0.965,1)" font-size="6.4" text-anchor="end" fill="#231f20" stroke="#231f20" stroke-width="0.22" >600</text>
<text transform="translate(563,606.95) scale(0.965,1)" font-size="6.4" text-anchor="end" fill="#231f20" stroke="#231f20" stroke-width="0.22" >200</text>
<text transform="translate(563,627.7) scale(1.070,1)" font-size="6.4" text-anchor="end" fill="#231f20" stroke="#231f20" stroke-width="0.22" >-200</text>
<text transform="translate(548,582) rotate(-90)" font-size="7.3" text-anchor="middle" fill="#231f20" stroke="#231f20" stroke-width="0.22" >Thickness increase (m)</text>
<text transform="translate(537.6,541.6) scale(0.965,1)" font-size="12.6" fill="#231f20" stroke="#231f20" stroke-width="0.26" >(i)</text>
<text transform="translate(624.1,641)" font-size="8.2" text-anchor="middle" fill="#231f20" stroke="#231f20" stroke-width="0.22" >Time (Myr)</text>
<path d="M572,615.2L580.5,620.7L589,615.9L597.5,614.1L606,615.6L614.5,619.8L623,618L631.5,608.6L640,595L648.5,580.8L657,560.5L665.5,550.8L674,549.5L682.5,542.5" fill="none" stroke="#10703a" stroke-width="2" stroke-linejoin="round"/>
<text transform="translate(577.3,611.6) scale(0.976,1)" font-size="8.3" fill="#17763f" stroke="#17763f" stroke-width="0.22" >Total Crust</text>
</svg>
</div></div>
</body></html>
